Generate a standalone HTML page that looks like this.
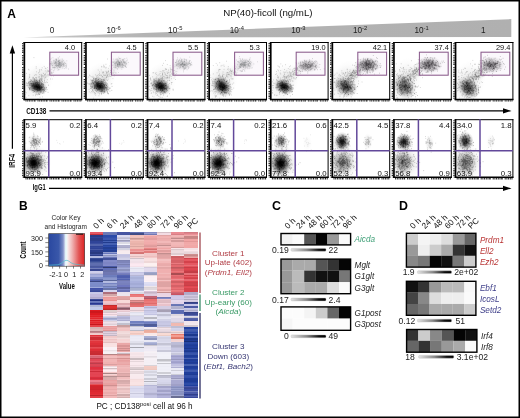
<!DOCTYPE html>
<html><head><meta charset="utf-8"><style>
html,body{margin:0;padding:0;background:#fff;width:520px;height:418px;overflow:hidden;position:relative}
svg{display:block;will-change:transform}
text{font-family:"Liberation Sans", sans-serif}
</style></head><body>
<svg width="520" height="418" viewBox="0 0 520 418" font-family="Liberation Sans, sans-serif">
<rect width="520" height="418" fill="#fff"/>
<text x="19.0" y="209.8" font-size="12" text-anchor="start" fill="#000" font-weight="bold" font-style="normal" >B</text>
<text x="66" y="219.7" font-size="6.6" text-anchor="middle" fill="#222" font-weight="normal" font-style="normal" >Color Key</text>
<text x="65.7" y="229" font-size="6.5" text-anchor="middle" fill="#222" font-weight="normal" font-style="normal" >and Histogram</text>
<defs><linearGradient id="ck" x1="0" y1="0" x2="1" y2="0"><stop offset="0" stop-color="#2a48a0"/><stop offset="0.28" stop-color="#3a58aa"/><stop offset="0.4" stop-color="#8090c8"/><stop offset="0.46" stop-color="#dfe3f3"/><stop offset="0.5" stop-color="#f2fafa"/><stop offset="0.54" stop-color="#f8e6e6"/><stop offset="0.65" stop-color="#f0b4b4"/><stop offset="0.84" stop-color="#e25454"/><stop offset="1" stop-color="#dd2222"/></linearGradient></defs>
<rect x="48.7" y="233.7" width="36" height="32.5" fill="url(#ck)" stroke="#333" stroke-width="0.6"/>
<line x1="65.8" y1="234" x2="65.8" y2="266" stroke="#e0f8fa" stroke-width="1"/><polyline points="49,265.2 58,264.8 61,263.5 63,262 65,260.6 67,260.3 69,261.2 71,262.8 74,264 80,264.8 84.5,265.2" fill="none" stroke="#50c0d0" stroke-width="0.7"/>
<line x1="76" y1="234.2" x2="83" y2="234.2" stroke="#111" stroke-width="1"/>
<line x1="45.3" y1="238.00" x2="48.7" y2="238.00" stroke="#333" stroke-width="0.6"/>
<line x1="45.3" y1="242.62" x2="48.7" y2="242.62" stroke="#333" stroke-width="0.6"/>
<line x1="45.3" y1="247.24" x2="48.7" y2="247.24" stroke="#333" stroke-width="0.6"/>
<line x1="45.3" y1="251.86" x2="48.7" y2="251.86" stroke="#333" stroke-width="0.6"/>
<line x1="45.3" y1="256.48" x2="48.7" y2="256.48" stroke="#333" stroke-width="0.6"/>
<line x1="45.3" y1="261.10" x2="48.7" y2="261.10" stroke="#333" stroke-width="0.6"/>
<line x1="45.3" y1="265.72" x2="48.7" y2="265.72" stroke="#333" stroke-width="0.6"/>
<text x="42.9" y="240.6" font-size="7.1" text-anchor="end" fill="#222" font-weight="normal" font-style="normal" >300</text>
<text x="42.9" y="254.7" font-size="7.1" text-anchor="end" fill="#222" font-weight="normal" font-style="normal" >150</text>
<text x="42.9" y="268.2" font-size="7.1" text-anchor="end" fill="#222" font-weight="normal" font-style="normal" >0</text>
<line x1="52.6" y1="266.2" x2="52.6" y2="268.6" stroke="#333" stroke-width="0.6"/>
<line x1="59.6" y1="266.2" x2="59.6" y2="268.6" stroke="#333" stroke-width="0.6"/>
<line x1="66.5" y1="266.2" x2="66.5" y2="268.6" stroke="#333" stroke-width="0.6"/>
<line x1="73.5" y1="266.2" x2="73.5" y2="268.6" stroke="#333" stroke-width="0.6"/>
<line x1="80.5" y1="266.2" x2="80.5" y2="268.6" stroke="#333" stroke-width="0.6"/>
<text x="52.4" y="277.3" font-size="7.3" text-anchor="middle" fill="#222" font-weight="normal" font-style="normal" >-2</text>
<text x="58.9" y="277.3" font-size="7.3" text-anchor="middle" fill="#222" font-weight="normal" font-style="normal" >-1</text>
<text x="66" y="277.3" font-size="7.3" text-anchor="middle" fill="#222" font-weight="normal" font-style="normal" >0</text>
<text x="74.2" y="277.3" font-size="7.3" text-anchor="middle" fill="#222" font-weight="normal" font-style="normal" >1</text>
<text x="82.3" y="277.3" font-size="7.3" text-anchor="middle" fill="#222" font-weight="normal" font-style="normal" >2</text>
<text x="66.9" y="289.4" font-size="8.4" text-anchor="middle" fill="#111" font-weight="bold" font-style="normal" transform="translate(66.9 0) scale(0.72 1) translate(-66.9 0)">Value</text>
<text x="0" y="0" font-size="8.4" font-weight="bold" fill="#111" text-anchor="middle" transform="translate(26.1 250) rotate(-90) scale(0.7 1)">Count</text>
<text x="0" y="0" font-size="8.3" fill="#111" transform="translate(96.4 229.3) rotate(-45)">0 h</text>
<text x="0" y="0" font-size="8.3" fill="#111" transform="translate(109.9 229.3) rotate(-45)">6 h</text>
<text x="0" y="0" font-size="8.3" fill="#111" transform="translate(123.3 229.3) rotate(-45)">24 h</text>
<text x="0" y="0" font-size="8.3" fill="#111" transform="translate(136.8 229.3) rotate(-45)">48 h</text>
<text x="0" y="0" font-size="8.3" fill="#111" transform="translate(150.2 229.3) rotate(-45)">60 h</text>
<text x="0" y="0" font-size="8.3" fill="#111" transform="translate(163.7 229.3) rotate(-45)">72 h</text>
<text x="0" y="0" font-size="8.3" fill="#111" transform="translate(177.1 229.3) rotate(-45)">96 h</text>
<text x="0" y="0" font-size="8.3" fill="#111" transform="translate(190.6 229.3) rotate(-45)">PC</text>
<line x1="200" y1="232.4" x2="200" y2="293" stroke="#a04850" stroke-width="1.3"/>
<line x1="200" y1="294.4" x2="200" y2="311.1" stroke="#3a8a68" stroke-width="1.3"/>
<line x1="200" y1="313" x2="200" y2="398.5" stroke="#2a2a60" stroke-width="1.3"/>
<text x="228.3" y="255.7" font-size="8.1" text-anchor="middle" fill="#b03c44" font-weight="normal" font-style="normal" >Cluster 1</text>
<text x="228.3" y="265.4" font-size="8.1" text-anchor="middle" fill="#b03c44" font-weight="normal" font-style="normal" >Up-late (402)</text>
<text x="228.3" y="275.2" font-size="8.1" text-anchor="middle" fill="#b03c44" font-weight="normal" font-style="normal" >(<tspan font-style="italic">Prdm1, Ell2</tspan>)</text>
<text x="228.3" y="294.6" font-size="8.1" text-anchor="middle" fill="#3a9a66" font-weight="normal" font-style="normal" >Cluster 2</text>
<text x="228.3" y="304.6" font-size="8.1" text-anchor="middle" fill="#3a9a66" font-weight="normal" font-style="normal" >Up-early (60)</text>
<text x="228.3" y="314.3" font-size="8.1" text-anchor="middle" fill="#3a9a66" font-weight="normal" font-style="normal" >(<tspan font-style="italic">Aicda</tspan>)</text>
<text x="228.3" y="349.0" font-size="8.1" text-anchor="middle" fill="#363672" font-weight="normal" font-style="normal" >Cluster 3</text>
<text x="228.3" y="359.0" font-size="8.1" text-anchor="middle" fill="#363672" font-weight="normal" font-style="normal" >Down (603)</text>
<text x="228.3" y="368.7" font-size="8.1" text-anchor="middle" fill="#363672" font-weight="normal" font-style="normal" >(<tspan font-style="italic">Ebf1, Bach2</tspan>)</text>
<text x="96.4" y="408.8" font-size="8.2" text-anchor="start" fill="#111" font-weight="normal" font-style="normal" >PC ; CD138<tspan dy="-3.3" font-size="5.8">posi</tspan><tspan dy="3.3"> cell at 96 h</tspan></text>
<text x="272.0" y="209.9" font-size="12.4" text-anchor="start" fill="#000" font-weight="bold" font-style="normal" >C</text>
<text x="399.0" y="209.9" font-size="12.4" text-anchor="start" fill="#000" font-weight="bold" font-style="normal" >D</text>
<defs><linearGradient id="gs" x1="0" y1="0" x2="1" y2="0"><stop offset="0" stop-color="#e4e4e4"/><stop offset="0.45" stop-color="#888"/><stop offset="0.8" stop-color="#111"/><stop offset="1" stop-color="#000"/></linearGradient></defs>
<rect x="281.00" y="233.50" width="11.65" height="11.45" fill="#f2f2f2"/>
<rect x="292.60" y="233.50" width="11.65" height="11.45" fill="#fafafa"/>
<rect x="304.20" y="233.50" width="11.65" height="11.45" fill="#555555"/>
<rect x="315.80" y="233.50" width="11.65" height="11.45" fill="#050505"/>
<rect x="327.40" y="233.50" width="11.65" height="11.45" fill="#999999"/>
<rect x="339.00" y="233.50" width="11.65" height="11.45" fill="#fafafa"/>
<text x="354.6" y="242.1" font-size="8.2" text-anchor="start" fill="#40a078" font-weight="normal" font-style="italic" >Aicda</text>
<rect x="281.0" y="233.5" width="69.6" height="11.4" fill="none" stroke="#000" stroke-width="1.4"/>
<text x="288.8" y="252.9" font-size="8.6" text-anchor="end" fill="#222" font-weight="normal" font-style="normal" >0.19</text>
<rect x="291" y="248.4" width="35" height="2.8" rx="1" fill="url(#gs)" stroke="#bbb" stroke-width="0.4"/>
<text x="328.5" y="252.9" font-size="8.6" text-anchor="start" fill="#222" font-weight="normal" font-style="normal" >22</text>
<rect x="281.00" y="259.10" width="11.65" height="11.58" fill="#999999"/>
<rect x="292.60" y="259.10" width="11.65" height="11.58" fill="#aaaaaa"/>
<rect x="304.20" y="259.10" width="11.65" height="11.58" fill="#aaaaaa"/>
<rect x="315.80" y="259.10" width="11.65" height="11.58" fill="#555555"/>
<rect x="327.40" y="259.10" width="11.65" height="11.58" fill="#333333"/>
<rect x="339.00" y="259.10" width="11.65" height="11.58" fill="#050505"/>
<text x="354.6" y="267.76666666666665" font-size="8.2" text-anchor="start" fill="#222" font-weight="normal" font-style="italic" >Mglt</text>
<rect x="281.00" y="270.63" width="11.65" height="11.58" fill="#999999"/>
<rect x="292.60" y="270.63" width="11.65" height="11.58" fill="#bbbbbb"/>
<rect x="304.20" y="270.63" width="11.65" height="11.58" fill="#333333"/>
<rect x="315.80" y="270.63" width="11.65" height="11.58" fill="#111111"/>
<rect x="327.40" y="270.63" width="11.65" height="11.58" fill="#111111"/>
<rect x="339.00" y="270.63" width="11.65" height="11.58" fill="#777777"/>
<text x="354.6" y="279.3" font-size="8.2" text-anchor="start" fill="#222" font-weight="normal" font-style="italic" >G1glt</text>
<rect x="281.00" y="282.17" width="11.65" height="11.58" fill="#999999"/>
<rect x="292.60" y="282.17" width="11.65" height="11.58" fill="#bbbbbb"/>
<rect x="304.20" y="282.17" width="11.65" height="11.58" fill="#aaaaaa"/>
<rect x="315.80" y="282.17" width="11.65" height="11.58" fill="#aaaaaa"/>
<rect x="327.40" y="282.17" width="11.65" height="11.58" fill="#dddddd"/>
<rect x="339.00" y="282.17" width="11.65" height="11.58" fill="#fafafa"/>
<text x="354.6" y="290.8333333333333" font-size="8.2" text-anchor="start" fill="#222" font-weight="normal" font-style="italic" >G3glt</text>
<rect x="281.0" y="259.1" width="69.6" height="34.6" fill="none" stroke="#000" stroke-width="1.4"/>
<text x="288.8" y="302.6" font-size="8.6" text-anchor="end" fill="#222" font-weight="normal" font-style="normal" >0.17</text>
<rect x="291" y="298.1" width="35" height="2.8" rx="1" fill="url(#gs)" stroke="#bbb" stroke-width="0.4"/>
<text x="328.5" y="302.6" font-size="8.6" text-anchor="start" fill="#222" font-weight="normal" font-style="normal" >2.4</text>
<rect x="281.00" y="306.90" width="11.65" height="11.75" fill="#fcfcfc"/>
<rect x="292.60" y="306.90" width="11.65" height="11.75" fill="#fcfcfc"/>
<rect x="304.20" y="306.90" width="11.65" height="11.75" fill="#f4f4f4"/>
<rect x="315.80" y="306.90" width="11.65" height="11.75" fill="#cccccc"/>
<rect x="327.40" y="306.90" width="11.65" height="11.75" fill="#666666"/>
<rect x="339.00" y="306.90" width="11.65" height="11.75" fill="#050505"/>
<text x="354.6" y="315.65" font-size="8.2" text-anchor="start" fill="#222" font-weight="normal" font-style="italic" >G1post</text>
<rect x="281.00" y="318.60" width="11.65" height="11.75" fill="#f6f6f6"/>
<rect x="292.60" y="318.60" width="11.65" height="11.75" fill="#fcfcfc"/>
<rect x="304.20" y="318.60" width="11.65" height="11.75" fill="#fcfcfc"/>
<rect x="315.80" y="318.60" width="11.65" height="11.75" fill="#fcfcfc"/>
<rect x="327.40" y="318.60" width="11.65" height="11.75" fill="#fcfcfc"/>
<rect x="339.00" y="318.60" width="11.65" height="11.75" fill="#fcfcfc"/>
<text x="354.6" y="327.34999999999997" font-size="8.2" text-anchor="start" fill="#222" font-weight="normal" font-style="italic" >G3post</text>
<rect x="281.0" y="306.9" width="69.6" height="23.4" fill="none" stroke="#000" stroke-width="1.4"/>
<text x="288.8" y="339.40000000000003" font-size="8.6" text-anchor="end" fill="#222" font-weight="normal" font-style="normal" >0</text>
<rect x="291" y="334.90000000000003" width="35" height="2.8" rx="1" fill="url(#gs)" stroke="#bbb" stroke-width="0.4"/>
<text x="328.5" y="339.40000000000003" font-size="8.6" text-anchor="start" fill="#222" font-weight="normal" font-style="normal" >49</text>
<text x="0" y="0" font-size="8.3" fill="#111" transform="translate(287.9 229.3) rotate(-45)">0 h</text>
<text x="0" y="0" font-size="8.3" fill="#111" transform="translate(299.5 229.3) rotate(-45)">24 h</text>
<text x="0" y="0" font-size="8.3" fill="#111" transform="translate(311.1 229.3) rotate(-45)">48 h</text>
<text x="0" y="0" font-size="8.3" fill="#111" transform="translate(322.7 229.3) rotate(-45)">60 h</text>
<text x="0" y="0" font-size="8.3" fill="#111" transform="translate(334.3 229.3) rotate(-45)">72 h</text>
<text x="0" y="0" font-size="8.3" fill="#111" transform="translate(345.9 229.3) rotate(-45)">96 h</text>
<rect x="406.40" y="233.30" width="11.63" height="11.32" fill="#cccccc"/>
<rect x="417.98" y="233.30" width="11.63" height="11.32" fill="#f4f4f4"/>
<rect x="429.57" y="233.30" width="11.63" height="11.32" fill="#eeeeee"/>
<rect x="441.15" y="233.30" width="11.63" height="11.32" fill="#dddddd"/>
<rect x="452.73" y="233.30" width="11.63" height="11.32" fill="#999999"/>
<rect x="464.32" y="233.30" width="11.63" height="11.32" fill="#666666"/>
<text x="479.9" y="242.73333333333335" font-size="8.2" text-anchor="start" fill="#b83434" font-weight="normal" font-style="italic" >Prdm1</text>
<rect x="406.40" y="244.57" width="11.63" height="11.32" fill="#999999"/>
<rect x="417.98" y="244.57" width="11.63" height="11.32" fill="#eeeeee"/>
<rect x="429.57" y="244.57" width="11.63" height="11.32" fill="#cccccc"/>
<rect x="441.15" y="244.57" width="11.63" height="11.32" fill="#aaaaaa"/>
<rect x="452.73" y="244.57" width="11.63" height="11.32" fill="#333333"/>
<rect x="464.32" y="244.57" width="11.63" height="11.32" fill="#111111"/>
<text x="479.9" y="254.0" font-size="8.2" text-anchor="start" fill="#b83434" font-weight="normal" font-style="italic" >Ell2</text>
<rect x="406.40" y="255.83" width="11.63" height="11.32" fill="#888888"/>
<rect x="417.98" y="255.83" width="11.63" height="11.32" fill="#777777"/>
<rect x="429.57" y="255.83" width="11.63" height="11.32" fill="#050505"/>
<rect x="441.15" y="255.83" width="11.63" height="11.32" fill="#111111"/>
<rect x="452.73" y="255.83" width="11.63" height="11.32" fill="#777777"/>
<rect x="464.32" y="255.83" width="11.63" height="11.32" fill="#cccccc"/>
<text x="479.9" y="265.26666666666665" font-size="8.2" text-anchor="start" fill="#b83434" font-weight="normal" font-style="italic" >Ezh2</text>
<rect x="406.4" y="233.3" width="69.5" height="33.8" fill="none" stroke="#000" stroke-width="1.4"/>
<text x="414.6" y="275.3" font-size="8.6" text-anchor="end" fill="#222" font-weight="normal" font-style="normal" >1.9</text>
<rect x="417.4" y="270.8" width="34.200000000000045" height="2.8" rx="1" fill="url(#gs)" stroke="#bbb" stroke-width="0.4"/>
<text x="454.2" y="275.3" font-size="8.6" text-anchor="start" fill="#222" font-weight="normal" font-style="normal" >2e+02</text>
<rect x="406.40" y="281.30" width="11.63" height="11.38" fill="#111111"/>
<rect x="417.98" y="281.30" width="11.63" height="11.38" fill="#333333"/>
<rect x="429.57" y="281.30" width="11.63" height="11.38" fill="#999999"/>
<rect x="441.15" y="281.30" width="11.63" height="11.38" fill="#bbbbbb"/>
<rect x="452.73" y="281.30" width="11.63" height="11.38" fill="#bbbbbb"/>
<rect x="464.32" y="281.30" width="11.63" height="11.38" fill="#f8f8f8"/>
<text x="479.9" y="290.76666666666665" font-size="8.2" text-anchor="start" fill="#40408a" font-weight="normal" font-style="italic" >Ebf1</text>
<rect x="406.40" y="292.63" width="11.63" height="11.38" fill="#444444"/>
<rect x="417.98" y="292.63" width="11.63" height="11.38" fill="#888888"/>
<rect x="429.57" y="292.63" width="11.63" height="11.38" fill="#dddddd"/>
<rect x="441.15" y="292.63" width="11.63" height="11.38" fill="#eeeeee"/>
<rect x="452.73" y="292.63" width="11.63" height="11.38" fill="#eeeeee"/>
<rect x="464.32" y="292.63" width="11.63" height="11.38" fill="#fafafa"/>
<text x="479.9" y="302.09999999999997" font-size="8.2" text-anchor="start" fill="#40408a" font-weight="normal" font-style="italic" >IcosL</text>
<rect x="406.40" y="303.97" width="11.63" height="11.38" fill="#666666"/>
<rect x="417.98" y="303.97" width="11.63" height="11.38" fill="#777777"/>
<rect x="429.57" y="303.97" width="11.63" height="11.38" fill="#aaaaaa"/>
<rect x="441.15" y="303.97" width="11.63" height="11.38" fill="#aaaaaa"/>
<rect x="452.73" y="303.97" width="11.63" height="11.38" fill="#aaaaaa"/>
<rect x="464.32" y="303.97" width="11.63" height="11.38" fill="#cccccc"/>
<text x="479.9" y="313.43333333333334" font-size="8.2" text-anchor="start" fill="#40408a" font-weight="normal" font-style="italic" >Setd2</text>
<rect x="406.4" y="281.3" width="69.5" height="34.0" fill="none" stroke="#000" stroke-width="1.4"/>
<text x="415.3" y="323.70000000000005" font-size="8.6" text-anchor="end" fill="#222" font-weight="normal" font-style="normal" >0.12</text>
<rect x="417.4" y="319.20000000000005" width="34.200000000000045" height="2.8" rx="1" fill="url(#gs)" stroke="#bbb" stroke-width="0.4"/>
<text x="455.6" y="323.70000000000005" font-size="8.6" text-anchor="start" fill="#222" font-weight="normal" font-style="normal" >51</text>
<rect x="406.60" y="329.50" width="11.77" height="11.40" fill="#333333"/>
<rect x="418.32" y="329.50" width="11.77" height="11.40" fill="#cccccc"/>
<rect x="430.03" y="329.50" width="11.77" height="11.40" fill="#888888"/>
<rect x="441.75" y="329.50" width="11.77" height="11.40" fill="#555555"/>
<rect x="453.47" y="329.50" width="11.77" height="11.40" fill="#050505"/>
<rect x="465.18" y="329.50" width="11.77" height="11.40" fill="#111111"/>
<text x="480.9" y="338.97499999999997" font-size="8.2" text-anchor="start" fill="#222" font-weight="normal" font-style="italic" >Irf4</text>
<rect x="406.60" y="340.85" width="11.77" height="11.40" fill="#666666"/>
<rect x="418.32" y="340.85" width="11.77" height="11.40" fill="#333333"/>
<rect x="430.03" y="340.85" width="11.77" height="11.40" fill="#777777"/>
<rect x="441.75" y="340.85" width="11.77" height="11.40" fill="#999999"/>
<rect x="453.47" y="340.85" width="11.77" height="11.40" fill="#aaaaaa"/>
<rect x="465.18" y="340.85" width="11.77" height="11.40" fill="#fafafa"/>
<text x="480.9" y="350.325" font-size="8.2" text-anchor="start" fill="#222" font-weight="normal" font-style="italic" >Irf8</text>
<rect x="406.59999999999997" y="329.5" width="70.3" height="22.7" fill="none" stroke="#000" stroke-width="1.4"/>
<text x="414.9" y="359.90000000000003" font-size="8.6" text-anchor="end" fill="#222" font-weight="normal" font-style="normal" >18</text>
<rect x="418.6" y="355.40000000000003" width="35.19999999999999" height="2.8" rx="1" fill="url(#gs)" stroke="#bbb" stroke-width="0.4"/>
<text x="456.7" y="359.90000000000003" font-size="8.6" text-anchor="start" fill="#222" font-weight="normal" font-style="normal" >3.1e+02</text>
<text x="0" y="0" font-size="8.3" fill="#111" transform="translate(413.3 229.3) rotate(-45)">0 h</text>
<text x="0" y="0" font-size="8.3" fill="#111" transform="translate(424.9 229.3) rotate(-45)">24 h</text>
<text x="0" y="0" font-size="8.3" fill="#111" transform="translate(436.5 229.3) rotate(-45)">48 h</text>
<text x="0" y="0" font-size="8.3" fill="#111" transform="translate(448.1 229.3) rotate(-45)">60 h</text>
<text x="0" y="0" font-size="8.3" fill="#111" transform="translate(459.7 229.3) rotate(-45)">72 h</text>
<text x="0" y="0" font-size="8.3" fill="#111" transform="translate(471.3 229.3) rotate(-45)">PC</text>
<rect x="0.75" y="0.75" width="518.5" height="416.5" fill="none" stroke="#000" stroke-width="1.5"/>
<rect x="0.5" y="0.5" width="519" height="417" fill="none" stroke="#000" stroke-width="1"/>
<text x="7.2" y="17.6" font-size="12.0" text-anchor="start" fill="#000" font-weight="bold" font-style="normal" >A</text>
<text x="223.2" y="16.0" font-size="9.7" text-anchor="start" fill="#111" font-weight="normal" font-style="normal" >NP(40)-ficoll (ng/mL)</text>
<defs><linearGradient id="wg" x1="23" y1="0" x2="511" y2="0" gradientUnits="userSpaceOnUse"><stop offset="0" stop-color="#c8c8c8"/><stop offset="0.25" stop-color="#b4b4b4"/><stop offset="1" stop-color="#b0b0b0"/></linearGradient></defs>
<defs><radialGradient id="rg"><stop offset="0" stop-color="#000" stop-opacity="1"/><stop offset="0.2" stop-color="#000" stop-opacity="0.9"/><stop offset="0.4" stop-color="#000" stop-opacity="0.62"/><stop offset="0.6" stop-color="#000" stop-opacity="0.33"/><stop offset="0.8" stop-color="#000" stop-opacity="0.12"/><stop offset="1" stop-color="#000" stop-opacity="0"/></radialGradient><radialGradient id="rgg"><stop offset="0" stop-color="#666" stop-opacity="1"/><stop offset="0.4" stop-color="#666" stop-opacity="0.6"/><stop offset="0.8" stop-color="#666" stop-opacity="0.12"/><stop offset="1" stop-color="#666" stop-opacity="0"/></radialGradient></defs>
<polygon points="23.5,37.6 511.3,19.1 511.3,37 23.5,37.6" fill="url(#wg)"/>
<text x="52.1" y="33.1" font-size="8.2" text-anchor="middle" fill="#222" font-weight="normal" font-style="normal" >0</text>
<text x="106.49999999999999" y="33.1" font-size="8.2" text-anchor="start" fill="#222" font-weight="normal" font-style="normal" >10<tspan dy="-3.3" font-size="5.8">-6</tspan></text>
<text x="168.1" y="33.1" font-size="8.2" text-anchor="start" fill="#222" font-weight="normal" font-style="normal" >10<tspan dy="-3.3" font-size="5.8">-5</tspan></text>
<text x="229.70000000000002" y="33.1" font-size="8.2" text-anchor="start" fill="#222" font-weight="normal" font-style="normal" >10<tspan dy="-3.3" font-size="5.8">-4</tspan></text>
<text x="291.3" y="33.1" font-size="8.2" text-anchor="start" fill="#222" font-weight="normal" font-style="normal" >10<tspan dy="-3.3" font-size="5.8">-3</tspan></text>
<text x="352.90000000000003" y="33.1" font-size="8.2" text-anchor="start" fill="#222" font-weight="normal" font-style="normal" >10<tspan dy="-3.3" font-size="5.8">-2</tspan></text>
<text x="414.50000000000006" y="33.1" font-size="8.2" text-anchor="start" fill="#222" font-weight="normal" font-style="normal" >10<tspan dy="-3.3" font-size="5.8">-1</tspan></text>
<text x="483.3" y="33.1" font-size="8.2" text-anchor="middle" fill="#222" font-weight="normal" font-style="normal" >1</text>
<clipPath id="c1_0"><rect x="25.2" y="43" width="56" height="55.7"/></clipPath>
<g clip-path="url(#c1_0)">
<ellipse cx="0" cy="0" rx="10.9" ry="7.7" fill="url(#rg)" opacity="1.0" transform="translate(37.0 86.6) rotate(24)"/>
<ellipse cx="0" cy="0" rx="21.1" ry="15.5" fill="url(#rgg)" opacity="0.17" transform="translate(36.0 82.6) rotate(-62)"/>
<ellipse cx="0" cy="0" rx="17.1" ry="7.0" fill="url(#rgg)" opacity="0.08" transform="translate(46.5 73.6) rotate(-37)"/>
<ellipse cx="0" cy="0" rx="10.4" ry="6.8" fill="url(#rgg)" opacity="0.32" transform="translate(58.2 64.0) rotate(0)"/>
<path d="M36.0 88.0h.7M33.3 85.2h.7M41.1 88.2h.7M30.3 87.9h.7M30.2 79.8h.7M38.2 86.7h.7M38.2 88.1h.7M39.2 90.8h.7M35.6 86.0h.7M35.2 83.3h.7M33.8 86.7h.7M37.2 90.7h.7M36.6 84.0h.7M31.1 88.0h.7M42.8 88.9h.7M39.5 85.2h.7M33.1 84.2h.7M31.2 86.2h.7M29.4 77.3h.7M32.5 88.7h.7M38.0 88.1h.7M39.1 88.7h.7M40.8 89.0h.7M40.4 81.7h.7M31.8 90.5h.7M38.3 88.9h.7M34.4 84.8h.7M33.5 88.8h.7M31.5 85.1h.7M42.6 84.5h.7M33.9 87.9h.7M38.4 87.3h.7M36.3 87.3h.7M40.1 89.0h.7M35.3 85.1h.7M35.7 87.5h.7M32.5 86.5h.7M35.3 88.3h.7M46.7 89.6h.7M36.1 86.2h.7M41.0 83.8h.7M40.4 91.9h.7M35.6 88.3h.7M41.4 83.0h.7M37.7 90.4h.7M40.2 87.7h.7M41.2 86.5h.7M40.7 86.5h.7M37.9 88.8h.7M39.5 84.1h.7M42.1 89.9h.7M37.0 83.1h.7M33.4 90.7h.7M29.1 89.4h.7M38.6 88.2h.7M41.5 92.1h.7M34.0 89.2h.7M42.7 86.9h.7M29.6 87.7h.7M37.0 89.2h.7M36.8 89.8h.7M34.3 88.8h.7M29.1 88.3h.7M36.2 86.4h.7M44.2 88.2h.7M36.2 82.5h.7M30.4 83.4h.7M37.0 89.1h.7M30.7 83.4h.7M33.4 83.5h.7M32.3 86.8h.7M34.4 80.1h.7M28.1 82.1h.7M40.1 89.5h.7M42.3 89.7h.7M40.6 91.4h.7M44.8 82.7h.7M33.3 88.0h.7M39.2 89.8h.7M38.2 89.4h.7M32.9 84.7h.7M33.6 83.3h.7M39.5 79.1h.7M43.7 89.3h.7M29.2 88.2h.7M42.3 93.3h.7M38.2 87.4h.7M45.5 91.5h.7M43.8 91.0h.7M33.5 86.7h.7M36.8 88.2h.7M38.8 88.1h.7M35.7 88.8h.7M34.5 86.1h.7M37.0 87.1h.7M38.7 90.2h.7M38.8 84.0h.7M33.3 88.1h.7M32.8 90.7h.7M33.9 87.6h.7M42.9 90.0h.7M43.6 90.9h.7M36.4 88.7h.7M39.4 89.9h.7M42.0 86.9h.7M35.6 89.0h.7M32.3 86.2h.7M40.1 87.3h.7M37.8 86.9h.7M32.8 83.8h.7M35.3 80.0h.7M39.3 86.9h.7M44.3 89.7h.7M36.3 80.8h.7M29.4 84.9h.7M29.7 81.8h.7M37.1 87.4h.7M43.0 91.4h.7M32.8 82.4h.7M39.0 82.1h.7M36.2 85.5h.7M39.8 88.3h.7M36.3 78.0h.7M31.0 86.0h.7M36.0 85.4h.7M36.9 83.9h.7M39.9 88.1h.7M35.5 84.0h.7M35.0 86.5h.7M46.3 87.5h.7M41.5 80.1h.7M39.4 94.3h.7M40.1 90.1h.7M39.0 83.7h.7M38.0 93.4h.7M41.7 87.6h.7M39.3 89.3h.7M43.7 88.0h.7M42.7 85.5h.7M34.2 88.3h.7" stroke="#000" stroke-width=".7" stroke-opacity=".4" fill="none"/>
<path d="M36.1 85.4h.7M41.4 88.8h.7M38.6 87.5h.7M39.0 88.6h.7M33.4 84.4h.7M39.1 85.0h.7M34.4 91.4h.7M34.5 83.8h.7M39.5 87.9h.7M34.9 90.0h.7M38.7 82.3h.7M28.9 84.0h.7M39.0 86.8h.7M39.7 90.1h.7M37.5 82.7h.7M35.2 82.3h.7M42.2 81.3h.7M42.8 89.5h.7M38.4 84.6h.7M41.4 88.0h.7M43.4 89.8h.7M30.7 89.3h.7M29.1 83.1h.7M36.3 89.6h.7M39.2 86.6h.7M37.5 90.2h.7M41.2 87.5h.7M42.9 86.4h.7M36.4 85.6h.7M42.0 83.7h.7M41.5 90.2h.7M37.6 88.5h.7M39.3 87.1h.7M45.0 89.2h.7M36.9 89.5h.7M44.3 80.1h.7M38.6 87.7h.7M38.1 85.2h.7M34.8 85.8h.7M26.1 82.9h.7M36.7 89.5h.7M30.2 84.1h.7M41.4 79.2h.7M39.7 82.5h.7M36.4 87.1h.7M36.6 91.3h.7M48.0 85.2h.7M37.5 88.9h.7M30.9 80.7h.7M32.9 81.2h.7M42.9 84.9h.7M40.1 92.1h.7M41.0 86.8h.7M36.6 84.7h.7M43.0 84.6h.7M42.8 87.2h.7M37.5 87.1h.7M27.8 83.6h.7M38.3 85.0h.7M37.3 90.8h.7M43.0 92.8h.7M29.5 81.7h.7M32.1 85.6h.7M34.6 86.9h.7M39.1 90.1h.7M34.8 89.5h.7M41.0 89.9h.7M37.7 83.1h.7M40.7 85.6h.7M30.9 85.0h.7M27.6 85.7h.7M39.9 86.3h.7M38.2 85.4h.7M39.7 88.1h.7M38.8 80.5h.7M35.8 84.9h.7M38.9 94.5h.7M44.5 87.7h.7M33.4 85.6h.7M36.9 86.0h.7M40.6 87.6h.7M47.7 92.3h.7M39.5 88.6h.7M36.7 88.2h.7M38.3 84.7h.7M31.4 83.4h.7M35.4 83.3h.7M32.2 81.5h.7M44.3 90.6h.7M28.4 82.6h.7M34.1 85.6h.7M39.6 87.8h.7M37.2 84.1h.7M36.6 87.0h.7M36.5 82.6h.7M38.7 86.4h.7M29.4 85.3h.7M32.7 77.6h.7M35.5 82.1h.7M39.0 87.5h.7M36.9 88.4h.7M41.1 84.1h.7M35.8 89.7h.7M36.2 94.3h.7M37.4 94.7h.7M40.9 87.4h.7M38.4 90.4h.7M40.4 89.0h.7M36.0 88.5h.7M37.0 82.1h.7M34.3 87.8h.7M36.1 82.0h.7M41.4 84.7h.7M40.1 90.1h.7M39.5 81.6h.7M34.5 81.8h.7M39.5 89.3h.7M31.8 84.0h.7M36.7 86.6h.7M32.0 85.5h.7M36.7 84.2h.7M36.6 84.4h.7M33.1 85.9h.7M37.6 82.4h.7M38.8 88.9h.7M36.4 86.3h.7M34.1 81.8h.7M32.6 85.4h.7M39.1 85.7h.7M41.4 87.9h.7M34.0 86.8h.7M38.3 90.8h.7M39.0 86.5h.7M41.7 84.4h.7M36.1 86.5h.7M33.8 86.8h.7M33.9 91.4h.7M38.1 85.5h.7M39.7 85.7h.7M42.3 87.6h.7" stroke="#000" stroke-width=".7" stroke-opacity=".4" fill="none"/>
<path d="M31.6 90.0h.7M45.9 88.1h.7M36.0 88.5h.7M24.6 99.3h.7M26.2 73.4h.7M35.6 80.4h.7M36.2 71.8h.7M39.0 80.0h.7M32.8 95.2h.7M32.9 78.3h.7M37.9 85.9h.7M31.4 84.1h.7M32.6 84.9h.7M34.4 85.8h.7M29.2 89.3h.7M40.8 83.4h.7M26.8 85.1h.7M35.4 88.4h.7M48.1 74.9h.7M46.0 82.0h.7M35.9 82.6h.7M41.8 67.8h.7M38.9 84.5h.7M45.7 75.4h.7M28.1 87.5h.7M37.6 98.8h.7M39.4 85.7h.7M37.9 83.9h.7M32.5 87.1h.7M33.7 91.1h.7M41.5 75.3h.7M45.8 76.8h.7M26.3 85.6h.7M28.7 70.0h.7M32.4 90.3h.7M39.1 70.0h.7M41.5 79.8h.7M38.0 94.4h.7M31.8 84.0h.7M28.0 69.3h.7M42.0 83.6h.7M33.6 57.6h.7M42.0 96.9h.7M32.8 77.3h.7M36.2 83.0h.7M39.2 80.6h.7M28.5 95.7h.7M43.0 83.1h.7M38.2 88.6h.7M25.9 92.8h.7M38.3 82.5h.7M35.8 66.7h.7M44.7 77.3h.7M33.9 88.7h.7M44.0 74.9h.7M36.7 90.8h.7M32.3 87.4h.7M39.7 79.4h.7M40.9 69.6h.7M33.4 89.8h.7M39.5 93.3h.7M44.1 82.2h.7M50.4 63.6h.7M42.3 85.7h.7M36.7 90.1h.7M35.8 68.2h.7M38.9 76.5h.7M35.7 77.7h.7M43.7 93.0h.7M39.4 71.5h.7M41.2 82.6h.7M44.5 78.4h.7M40.7 75.1h.7M38.9 80.6h.7M37.3 89.2h.7M35.7 92.8h.7M41.8 81.4h.7M34.3 87.7h.7M38.8 83.1h.7M34.2 80.6h.7M31.5 87.2h.7M32.8 92.5h.7M50.4 59.4h.7M35.4 77.8h.7M25.3 92.1h.7M32.2 84.8h.7" stroke="#444" stroke-width=".7" stroke-opacity=".4" fill="none"/>
<path d="M35.7 85.0h.7M31.8 83.5h.7M44.9 70.9h.7M43.6 76.9h.7M35.2 74.7h.7M35.5 85.0h.7M30.1 85.5h.7M41.0 80.3h.7M29.9 81.8h.7M39.7 97.2h.7M54.2 63.3h.7M37.0 85.3h.7M36.3 88.2h.7M36.0 74.9h.7M31.8 88.6h.7M39.3 80.8h.7M39.0 77.8h.7M30.3 89.1h.7M37.0 81.2h.7M41.8 75.7h.7M24.5 96.8h.7M40.8 80.2h.7M26.3 83.9h.7M29.4 74.4h.7M47.0 82.5h.7M32.6 78.6h.7M29.4 75.8h.7M27.5 83.6h.7M35.2 82.2h.7M45.0 77.2h.7M36.5 88.1h.7M35.5 84.2h.7M31.6 86.7h.7M36.2 84.5h.7M34.2 78.6h.7M31.6 83.7h.7M38.0 77.1h.7M37.1 89.9h.7M39.9 87.4h.7M37.3 84.1h.7M46.8 70.2h.7M41.3 78.3h.7M36.0 80.7h.7M31.9 88.6h.7M34.9 89.8h.7M40.3 80.2h.7M39.0 74.6h.7M25.8 97.6h.7M37.3 81.1h.7M36.2 80.4h.7M40.4 78.5h.7M33.2 88.5h.7M35.2 94.6h.7M46.9 79.7h.7M37.3 81.6h.7M51.5 73.0h.7M29.1 88.3h.7M39.5 70.0h.7M31.5 79.8h.7M36.5 79.5h.7M36.0 85.3h.7M35.7 85.8h.7M34.2 75.3h.7M28.9 77.0h.7M34.3 79.8h.7M30.3 81.4h.7M36.1 88.2h.7M30.9 81.0h.7M31.3 83.7h.7M39.0 81.5h.7M43.8 66.4h.7M39.1 85.0h.7M41.7 77.9h.7M35.3 95.7h.7M28.6 78.9h.7M38.8 85.7h.7M33.5 79.3h.7M34.2 78.8h.7M38.3 72.9h.7M29.5 90.3h.7M41.2 90.9h.7M31.8 89.9h.7M33.2 87.2h.7M50.0 79.0h.7M24.8 94.5h.7M44.2 81.1h.7" stroke="#444" stroke-width=".7" stroke-opacity=".4" fill="none"/>
<path d="M38.8 72.5h.7M42.0 78.9h.7M34.1 79.7h.7M51.3 62.9h.7M60.5 62.5h.7M51.4 69.4h.7M48.0 71.1h.7M37.7 82.1h.7M47.6 76.1h.7M49.5 73.6h.7M53.3 70.7h.7M47.9 71.4h.7M43.2 73.5h.7M39.3 79.8h.7M54.1 69.9h.7M47.3 67.6h.7M43.9 75.3h.7M51.5 72.6h.7M45.0 73.4h.7M44.7 74.6h.7M49.3 71.4h.7M45.4 68.4h.7M32.7 81.9h.7M49.5 64.7h.7M46.6 71.6h.7M47.7 71.3h.7M47.6 75.4h.7M49.9 72.1h.7M41.5 70.3h.7M51.6 73.3h.7" stroke="#777" stroke-width=".7" stroke-opacity=".4" fill="none"/>
<path d="M53.0 72.3h.7M49.2 74.1h.7M51.5 73.1h.7M47.4 74.6h.7M44.7 74.8h.7M52.8 67.5h.7M47.4 70.9h.7M48.2 70.8h.7M41.1 76.3h.7M44.7 67.9h.7M46.6 72.7h.7M40.9 74.5h.7M40.1 79.3h.7M40.9 77.9h.7M42.5 76.1h.7M43.2 76.0h.7M50.5 73.8h.7M44.9 74.4h.7M45.5 68.6h.7M41.1 76.6h.7M57.9 58.7h.7M51.9 79.0h.7M49.4 71.0h.7M51.2 72.1h.7M50.0 70.0h.7M34.1 80.6h.7M41.7 76.3h.7M53.3 76.1h.7M51.2 75.8h.7M43.1 73.3h.7" stroke="#777" stroke-width=".7" stroke-opacity=".4" fill="none"/>
<path d="M61.8 61.6h.7M68.2 69.0h.7M59.1 62.1h.7M53.9 67.4h.7M58.1 63.2h.7M50.8 58.3h.7M58.1 64.1h.7M55.0 62.2h.7M60.1 65.4h.7M61.9 64.0h.7M59.1 67.4h.7M55.0 61.9h.7M58.3 65.5h.7M63.0 60.7h.7M63.9 64.3h.7M55.6 61.8h.7M58.3 69.6h.7M55.8 65.1h.7M63.2 64.3h.7M59.9 67.4h.7M59.2 62.5h.7M66.2 65.6h.7M65.9 64.2h.7M58.0 61.2h.7M58.3 64.7h.7M55.6 59.3h.7M54.2 63.1h.7M57.6 67.7h.7M58.7 63.7h.7M57.8 57.7h.7M60.8 62.4h.7M54.0 61.1h.7M50.7 64.9h.7M52.3 65.6h.7M59.5 67.5h.7M58.8 64.5h.7M57.0 65.2h.7M56.2 60.6h.7M63.1 65.4h.7M61.8 59.0h.7M66.5 60.8h.7M59.0 64.4h.7M53.2 60.4h.7M59.7 64.7h.7M56.4 66.5h.7M56.9 68.0h.7M62.8 63.3h.7M62.3 64.5h.7M54.6 67.3h.7M59.3 63.1h.7M60.9 64.0h.7M62.8 64.1h.7M60.1 66.8h.7M57.6 70.2h.7M56.7 61.1h.7M64.4 66.2h.7M55.6 62.2h.7M59.5 63.3h.7M59.1 66.0h.7M52.2 67.7h.7M51.6 63.1h.7M56.1 65.9h.7M54.7 60.4h.7M59.0 60.6h.7M60.4 62.7h.7M56.0 59.2h.7M58.3 66.3h.7M57.0 65.5h.7M66.4 68.0h.7M65.3 63.5h.7" stroke="#5a6460" stroke-width=".7" stroke-opacity=".4" fill="none"/>
<path d="M50.9 61.4h.7M55.5 62.1h.7M63.4 63.8h.7M55.9 64.6h.7M59.5 62.2h.7M53.1 62.0h.7M60.4 64.3h.7M49.7 63.6h.7M57.7 63.5h.7M61.2 65.5h.7M55.9 63.1h.7M64.4 68.6h.7M62.9 66.1h.7M55.6 65.2h.7M54.8 63.1h.7M64.2 62.4h.7M62.9 64.9h.7M64.7 65.6h.7M60.3 63.5h.7M52.5 63.8h.7M57.0 66.0h.7M59.5 60.0h.7M58.1 61.1h.7M58.5 65.2h.7M54.8 67.7h.7M57.4 62.0h.7M59.4 60.9h.7M60.9 63.6h.7M58.0 65.9h.7M58.1 61.7h.7M58.8 69.7h.7M52.6 57.8h.7M55.6 59.1h.7M55.1 63.0h.7M66.0 66.7h.7M65.4 67.7h.7M59.3 64.1h.7M56.1 60.0h.7M53.4 67.6h.7M65.6 66.1h.7M60.3 65.1h.7M62.4 60.1h.7M56.0 62.4h.7M58.3 62.2h.7M61.3 64.3h.7M55.8 65.7h.7M61.5 61.1h.7M51.9 65.7h.7M55.5 63.6h.7M59.2 62.6h.7M59.0 56.8h.7M51.1 64.2h.7M53.9 68.0h.7M57.6 65.8h.7M62.6 66.4h.7M55.9 59.7h.7M54.9 65.5h.7M58.9 63.6h.7M62.0 62.2h.7M58.7 66.9h.7M58.3 60.3h.7M62.5 68.1h.7M60.3 66.4h.7M61.3 66.1h.7M59.4 66.1h.7M59.5 65.3h.7M55.9 63.8h.7M64.6 63.3h.7M61.4 65.5h.7M57.8 61.2h.7" stroke="#5a6460" stroke-width=".7" stroke-opacity=".4" fill="none"/>
</g>
<line x1="22.8" y1="43" x2="22.8" y2="99.4" stroke="#222" stroke-width="1.4" stroke-dasharray="1 .7 1 .7 1 .7 1 .7 1 .7 1.5 2"/>
<line x1="25.5" y1="100.9" x2="81.7" y2="100.9" stroke="#222" stroke-width="1.4" stroke-dasharray="1 .7 1 .7 1 .7 1 .7 1 .7 1.5 2"/>
<line x1="23.5" y1="42.5" x2="82.2" y2="42.5" stroke="#000" stroke-width="1"/>
<line x1="81.7" y1="42" x2="81.7" y2="100.2" stroke="#000" stroke-width="1"/>
<line x1="24.35" y1="42" x2="24.35" y2="100.2" stroke="#000" stroke-width="1.7"/>
<line x1="23.5" y1="99.4" x2="82.2" y2="99.4" stroke="#000" stroke-width="1.5"/>
<rect x="49.8" y="52.2" width="28.8" height="23.0" fill="#c080c8" fill-opacity="0.06" stroke="#8a5a8c" stroke-width="1.05"/>
<text x="64.8" y="50" font-size="7.4" text-anchor="start" fill="#111" font-weight="normal" font-style="normal" >4.0</text>
<clipPath id="c1_1"><rect x="86.8" y="43" width="56" height="55.7"/></clipPath>
<g clip-path="url(#c1_1)">
<ellipse cx="0" cy="0" rx="10.9" ry="7.7" fill="url(#rg)" opacity="1.0" transform="translate(99.6 86.0) rotate(24)"/>
<ellipse cx="0" cy="0" rx="21.1" ry="15.5" fill="url(#rgg)" opacity="0.17" transform="translate(98.6 82.0) rotate(-62)"/>
<ellipse cx="0" cy="0" rx="17.1" ry="7.0" fill="url(#rgg)" opacity="0.08" transform="translate(109.1 73.0) rotate(-37)"/>
<ellipse cx="0" cy="0" rx="10.4" ry="6.8" fill="url(#rgg)" opacity="0.32" transform="translate(119.3 63.5) rotate(0)"/>
<path d="M101.5 90.5h.7M98.8 86.4h.7M98.0 82.2h.7M103.0 90.0h.7M103.2 84.9h.7M97.1 86.6h.7M100.5 81.4h.7M96.8 82.8h.7M103.0 88.5h.7M97.5 83.9h.7M96.6 83.2h.7M102.0 90.6h.7M88.8 84.4h.7M103.3 91.3h.7M103.8 89.2h.7M93.9 84.5h.7M91.4 88.4h.7M94.3 88.2h.7M98.8 86.7h.7M103.8 87.1h.7M97.7 87.6h.7M104.2 85.5h.7M97.5 86.9h.7M101.7 82.3h.7M101.1 94.2h.7M102.7 81.4h.7M97.6 85.1h.7M101.5 84.4h.7M97.3 86.4h.7M99.0 88.2h.7M94.5 86.9h.7M106.7 84.8h.7M105.4 84.1h.7M99.1 85.5h.7M97.9 83.7h.7M100.3 91.5h.7M105.4 84.1h.7M94.2 81.5h.7M101.4 80.6h.7M93.1 83.7h.7M96.7 84.6h.7M98.2 85.8h.7M94.9 85.3h.7M107.3 87.8h.7M95.7 80.1h.7M101.1 86.0h.7M105.0 87.8h.7M94.1 92.6h.7M100.4 85.7h.7M95.4 90.4h.7M92.8 83.8h.7M95.1 86.9h.7M101.5 83.6h.7M88.7 83.5h.7M97.9 88.0h.7M95.0 81.0h.7M103.4 84.2h.7M102.2 86.6h.7M95.7 80.7h.7M95.4 82.3h.7M98.4 83.8h.7M99.7 84.6h.7M101.0 79.5h.7M102.7 81.7h.7M98.3 88.8h.7M93.7 79.2h.7M101.6 86.8h.7M103.4 85.1h.7M91.7 80.4h.7M98.0 86.4h.7M100.0 86.5h.7M107.1 93.1h.7M100.1 86.5h.7M99.3 84.0h.7M97.8 79.7h.7M95.3 81.6h.7M99.3 93.9h.7M105.4 87.6h.7M97.2 90.2h.7M98.2 85.8h.7M94.0 86.6h.7M95.8 88.6h.7M94.3 88.5h.7M96.6 84.3h.7M97.4 80.0h.7M107.1 86.7h.7M92.1 87.3h.7M92.8 80.7h.7M102.7 86.7h.7M103.0 80.7h.7M102.6 80.8h.7M103.9 82.3h.7M98.6 86.9h.7M101.6 91.3h.7M94.9 82.2h.7M99.4 91.1h.7M105.8 90.2h.7M92.1 81.3h.7M94.3 85.6h.7M102.2 90.9h.7M95.7 87.4h.7M103.5 86.7h.7M100.1 84.4h.7M98.8 85.8h.7M102.7 83.9h.7M100.4 82.9h.7M103.9 79.6h.7M100.4 88.0h.7M92.0 82.3h.7M100.8 85.6h.7M107.0 92.8h.7M93.2 78.7h.7M97.4 86.1h.7M99.8 86.9h.7M106.7 83.6h.7M101.0 81.5h.7M101.7 87.0h.7M98.1 83.4h.7M102.4 88.2h.7M97.2 85.7h.7M99.3 85.5h.7M108.5 89.4h.7M105.2 82.3h.7M107.1 91.6h.7M96.1 86.1h.7M98.1 84.5h.7M98.5 81.9h.7M99.2 89.1h.7M101.5 84.0h.7M96.0 91.4h.7M107.6 89.9h.7M96.3 85.7h.7M91.5 91.5h.7M102.3 88.0h.7M99.1 83.3h.7M100.9 83.6h.7M102.0 83.2h.7M102.0 85.3h.7M102.5 91.4h.7M101.1 86.9h.7" stroke="#000" stroke-width=".7" stroke-opacity=".4" fill="none"/>
<path d="M101.7 87.7h.7M93.9 88.1h.7M96.6 82.8h.7M94.2 87.8h.7M93.7 82.5h.7M98.2 79.4h.7M103.2 83.0h.7M97.4 89.6h.7M100.9 81.5h.7M95.7 86.8h.7M95.4 78.8h.7M100.3 83.1h.7M104.5 87.9h.7M104.1 85.5h.7M93.5 83.5h.7M101.9 83.2h.7M101.1 90.9h.7M107.9 93.9h.7M99.0 89.0h.7M94.2 87.2h.7M100.7 91.2h.7M101.0 91.7h.7M104.4 90.8h.7M94.6 85.8h.7M96.2 88.8h.7M96.3 85.9h.7M101.5 83.9h.7M97.4 87.2h.7M106.0 87.4h.7M98.1 89.1h.7M97.6 83.1h.7M106.6 89.4h.7M104.4 91.5h.7M109.4 88.5h.7M101.4 87.4h.7M98.3 87.2h.7M103.8 92.5h.7M95.4 79.4h.7M101.6 90.9h.7M91.9 86.9h.7M99.8 87.7h.7M97.4 85.9h.7M91.9 82.9h.7M94.6 85.8h.7M96.7 87.7h.7M95.9 81.9h.7M95.8 78.7h.7M95.0 84.8h.7M98.5 81.5h.7M96.6 88.0h.7M100.6 89.4h.7M101.1 84.0h.7M96.4 85.3h.7M95.6 80.7h.7M98.0 89.6h.7M105.8 88.5h.7M102.8 87.4h.7M104.4 85.0h.7M104.2 84.6h.7M97.8 81.7h.7M97.4 82.6h.7M100.1 86.9h.7M97.5 83.1h.7M96.7 84.5h.7M97.8 88.6h.7M104.5 88.3h.7M101.5 82.6h.7M103.5 87.1h.7M104.1 86.5h.7M97.9 84.0h.7M105.7 87.4h.7M106.5 90.7h.7M99.0 83.6h.7M106.2 89.0h.7M99.4 84.7h.7M90.6 86.0h.7M99.5 85.5h.7M100.3 85.0h.7M103.6 92.1h.7M96.1 88.3h.7M104.0 91.2h.7M96.7 83.1h.7M106.2 85.5h.7M109.6 91.1h.7M96.9 89.1h.7M96.8 83.9h.7M95.3 88.4h.7M100.8 83.9h.7M94.9 87.0h.7M106.9 89.0h.7M96.7 84.3h.7M96.1 79.0h.7M92.9 82.8h.7M102.3 85.6h.7M96.9 85.9h.7M100.7 82.9h.7M100.0 83.8h.7M103.2 84.2h.7M100.6 88.1h.7M96.2 88.4h.7M100.3 86.9h.7M104.0 89.6h.7M96.6 83.8h.7M111.5 90.4h.7M96.8 84.4h.7M106.0 85.5h.7M99.6 86.9h.7M100.7 86.7h.7M90.2 86.1h.7M96.3 83.5h.7M99.4 89.9h.7M97.7 82.9h.7M111.7 86.4h.7M99.5 88.9h.7M100.2 85.3h.7M92.6 77.4h.7M99.9 78.7h.7M93.9 82.0h.7M99.5 87.6h.7M99.8 87.7h.7M99.1 83.9h.7M101.3 93.4h.7M102.4 89.2h.7M102.7 83.0h.7M101.6 83.2h.7M99.8 87.1h.7M104.6 91.9h.7M101.4 88.4h.7M101.9 89.6h.7M108.0 93.3h.7M98.2 83.9h.7M99.5 88.1h.7M108.7 87.7h.7M100.7 85.6h.7M100.3 86.1h.7M99.8 86.2h.7M101.3 89.4h.7M97.6 84.9h.7M99.0 83.9h.7M96.0 83.0h.7" stroke="#000" stroke-width=".7" stroke-opacity=".4" fill="none"/>
<path d="M97.9 87.2h.7M101.8 71.9h.7M97.9 74.6h.7M100.8 75.1h.7M97.5 82.4h.7M102.1 76.7h.7M96.0 86.1h.7M106.5 79.9h.7M106.1 87.9h.7M94.2 93.9h.7M110.8 84.1h.7M90.6 83.6h.7M103.1 79.6h.7M98.6 95.8h.7M97.3 77.7h.7M91.6 79.9h.7M105.6 71.3h.7M90.9 84.6h.7M95.7 85.1h.7M103.7 88.3h.7M105.6 64.3h.7M102.8 73.0h.7M99.6 75.0h.7M103.6 67.2h.7M113.2 73.1h.7M94.4 78.0h.7M91.6 87.7h.7M109.7 76.3h.7M103.5 66.1h.7M95.4 78.4h.7M91.7 83.0h.7M95.4 93.1h.7M106.1 77.3h.7M95.0 82.2h.7M96.8 89.9h.7M105.6 84.9h.7M90.1 79.9h.7M90.7 86.6h.7M96.8 87.7h.7M92.2 90.5h.7M101.7 76.9h.7M99.9 83.9h.7M104.6 83.0h.7M102.2 84.3h.7M101.9 86.6h.7M89.2 75.1h.7M97.8 70.0h.7M100.8 69.9h.7M99.0 81.4h.7M101.4 66.4h.7M91.7 86.5h.7M92.2 89.9h.7M101.5 67.0h.7M100.8 87.2h.7M96.2 81.2h.7M105.5 68.1h.7M85.8 93.1h.7M91.6 80.6h.7M96.0 76.0h.7M89.2 99.4h.7M103.7 84.7h.7M86.6 78.7h.7M90.1 88.3h.7M86.9 82.9h.7M110.6 76.5h.7M106.4 72.7h.7M103.8 75.4h.7M90.9 83.6h.7M92.6 76.4h.7M97.3 80.7h.7M95.1 93.7h.7M103.3 72.3h.7M90.3 84.6h.7M101.3 84.2h.7M101.8 83.7h.7M89.7 75.8h.7M99.3 75.3h.7M101.1 86.4h.7M93.4 80.1h.7M111.5 83.5h.7M90.2 88.3h.7M110.2 72.4h.7M100.8 75.5h.7" stroke="#444" stroke-width=".7" stroke-opacity=".4" fill="none"/>
<path d="M90.8 76.7h.7M99.3 84.4h.7M98.2 79.6h.7M105.7 67.4h.7M104.9 75.6h.7M103.4 93.5h.7M92.6 91.0h.7M91.2 87.2h.7M103.9 66.8h.7M90.6 92.8h.7M105.9 77.4h.7M97.3 82.0h.7M99.8 84.8h.7M101.5 81.8h.7M107.3 80.5h.7M97.7 78.9h.7M101.8 82.1h.7M98.0 85.9h.7M87.8 77.1h.7M98.5 77.6h.7M93.4 88.6h.7M86.3 96.5h.7M99.0 88.6h.7M103.4 65.1h.7M106.0 82.8h.7M98.6 89.8h.7M96.2 82.2h.7M102.1 81.5h.7M107.1 75.4h.7M99.9 80.3h.7M96.3 77.3h.7M95.0 79.1h.7M103.7 78.6h.7M105.0 87.0h.7M97.8 90.5h.7M101.1 84.1h.7M97.4 87.8h.7M103.4 71.9h.7M101.7 92.3h.7M93.0 78.2h.7M100.0 90.4h.7M104.6 80.7h.7M91.5 81.1h.7M95.4 95.2h.7M103.4 74.8h.7M88.7 89.4h.7M108.9 75.9h.7M92.7 92.7h.7M102.0 72.9h.7M99.0 73.4h.7M101.5 79.1h.7M99.4 71.9h.7M92.5 80.4h.7M93.6 78.9h.7M97.7 76.2h.7M94.3 87.6h.7M91.6 84.1h.7M103.8 88.2h.7M103.6 77.3h.7M102.8 79.5h.7M100.6 81.6h.7M108.4 72.9h.7M90.8 83.3h.7M93.1 91.4h.7M95.1 74.9h.7M91.8 89.6h.7M105.9 77.9h.7M104.6 80.1h.7M101.3 86.9h.7M95.5 82.6h.7M107.1 59.0h.7M101.6 86.2h.7M100.2 85.9h.7M88.9 91.8h.7M104.1 80.5h.7M96.5 78.3h.7M97.7 93.0h.7M92.6 80.3h.7M98.8 78.4h.7M86.6 83.6h.7M99.6 82.2h.7M97.3 75.6h.7M110.0 88.1h.7M92.5 86.1h.7M98.6 84.2h.7M93.1 98.3h.7M98.9 89.3h.7" stroke="#444" stroke-width=".7" stroke-opacity=".4" fill="none"/>
<path d="M108.3 71.2h.7M99.4 79.1h.7M106.9 75.9h.7M106.6 73.8h.7M107.4 74.6h.7M106.7 76.3h.7M109.2 73.8h.7M113.9 74.4h.7M110.6 70.7h.7M110.2 70.6h.7M99.2 84.3h.7M105.2 75.2h.7M107.9 71.3h.7M106.3 76.4h.7M111.1 70.7h.7M107.9 79.2h.7M104.8 74.3h.7M113.8 75.9h.7M114.6 72.5h.7M108.5 74.5h.7M115.2 73.1h.7M117.1 65.4h.7M112.1 73.2h.7M106.5 72.0h.7M107.8 71.4h.7M106.7 72.9h.7M108.2 68.4h.7M111.0 73.7h.7M113.7 71.0h.7M112.9 67.3h.7" stroke="#777" stroke-width=".7" stroke-opacity=".4" fill="none"/>
<path d="M105.0 81.4h.7M109.2 74.9h.7M113.6 70.0h.7M103.8 75.4h.7M116.4 73.0h.7M110.7 74.5h.7M106.5 72.0h.7M112.7 72.3h.7M99.3 80.7h.7M103.8 80.1h.7M112.6 78.6h.7M106.3 75.1h.7M115.0 67.1h.7M106.1 73.3h.7M102.2 76.6h.7M103.1 79.6h.7M107.3 74.9h.7M105.6 79.3h.7M104.9 78.3h.7M107.6 76.0h.7M108.0 76.8h.7M117.2 64.1h.7M117.3 69.2h.7M102.2 79.4h.7M112.0 68.9h.7M118.2 72.5h.7M110.6 72.4h.7M107.3 77.0h.7M106.9 72.7h.7M108.2 71.1h.7" stroke="#777" stroke-width=".7" stroke-opacity=".4" fill="none"/>
<path d="M113.7 65.1h.7M122.8 59.6h.7M122.6 60.7h.7M124.7 66.5h.7M119.3 62.4h.7M119.2 58.6h.7M123.3 62.6h.7M118.8 58.6h.7M125.1 64.8h.7M121.2 62.9h.7M117.2 59.0h.7M124.9 62.8h.7M122.8 64.4h.7M118.5 64.8h.7M119.5 65.4h.7M122.7 62.6h.7M122.5 66.1h.7M112.8 62.2h.7M115.7 61.8h.7M121.8 64.9h.7M122.3 64.3h.7M117.4 63.9h.7M117.7 64.7h.7M126.0 63.3h.7M124.4 63.1h.7M116.9 64.2h.7M124.3 61.7h.7M117.6 61.9h.7M126.1 64.3h.7M121.5 66.9h.7M122.7 67.5h.7M118.1 65.0h.7M115.9 65.9h.7M119.4 64.3h.7M122.0 59.8h.7M114.6 63.6h.7M117.9 63.0h.7M109.4 65.9h.7M116.9 64.1h.7M123.5 59.2h.7M118.1 67.2h.7M117.0 65.9h.7M121.3 62.6h.7M115.9 62.6h.7M117.3 66.1h.7M126.5 58.2h.7M119.8 62.7h.7M117.8 66.7h.7M117.3 61.7h.7M121.8 63.8h.7M124.4 65.4h.7M115.0 65.1h.7M121.2 64.6h.7M125.4 66.9h.7M116.3 63.1h.7M120.1 66.9h.7M117.9 62.9h.7M111.9 65.4h.7M119.4 62.2h.7M125.3 66.4h.7M124.3 62.7h.7M119.5 62.6h.7M124.6 63.8h.7M118.2 60.9h.7M122.9 61.1h.7M122.6 67.2h.7M116.1 59.1h.7M118.5 57.2h.7M117.8 62.8h.7M126.2 67.4h.7" stroke="#5a6460" stroke-width=".7" stroke-opacity=".4" fill="none"/>
<path d="M119.2 63.6h.7M119.0 64.3h.7M122.2 64.1h.7M121.5 69.1h.7M117.9 61.1h.7M119.0 64.6h.7M124.9 61.8h.7M116.3 61.4h.7M115.0 64.9h.7M119.4 62.7h.7M118.9 66.8h.7M116.4 63.0h.7M117.0 64.4h.7M117.7 59.8h.7M115.0 63.2h.7M116.8 68.6h.7M115.6 67.6h.7M122.2 66.9h.7M120.1 58.6h.7M117.6 64.9h.7M121.3 67.3h.7M117.3 66.1h.7M119.8 63.7h.7M124.8 65.6h.7M122.9 65.4h.7M118.8 63.4h.7M112.8 59.1h.7M119.4 64.9h.7M121.1 61.7h.7M124.5 58.6h.7M122.5 59.8h.7M120.9 61.5h.7M114.2 67.1h.7M114.2 62.0h.7M127.3 60.0h.7M121.2 65.3h.7M118.4 62.1h.7M120.3 63.9h.7M119.2 63.3h.7M120.3 60.8h.7M115.1 63.3h.7M115.5 59.3h.7M118.1 66.2h.7M119.9 64.5h.7M127.9 62.5h.7M124.7 62.6h.7M116.9 60.3h.7M123.7 62.6h.7M114.7 68.0h.7M117.4 60.9h.7M115.6 66.0h.7M115.6 62.5h.7M123.2 61.4h.7M119.3 64.7h.7M114.2 63.7h.7M122.9 65.5h.7M118.0 64.1h.7M113.3 62.2h.7M125.7 63.3h.7M117.4 64.5h.7M119.6 62.1h.7M119.6 66.0h.7M120.1 65.6h.7M123.6 61.2h.7M126.3 60.9h.7M115.6 67.2h.7M122.1 65.3h.7M119.1 62.7h.7M112.4 62.1h.7M117.9 61.7h.7" stroke="#5a6460" stroke-width=".7" stroke-opacity=".4" fill="none"/>
</g>
<line x1="84.39999999999999" y1="43" x2="84.39999999999999" y2="99.4" stroke="#222" stroke-width="1.4" stroke-dasharray="1 .7 1 .7 1 .7 1 .7 1 .7 1.5 2"/>
<line x1="87.1" y1="100.9" x2="143.3" y2="100.9" stroke="#222" stroke-width="1.4" stroke-dasharray="1 .7 1 .7 1 .7 1 .7 1 .7 1.5 2"/>
<line x1="85.1" y1="42.5" x2="143.8" y2="42.5" stroke="#000" stroke-width="1"/>
<line x1="143.3" y1="42" x2="143.3" y2="100.2" stroke="#000" stroke-width="1"/>
<line x1="85.94999999999999" y1="42" x2="85.94999999999999" y2="100.2" stroke="#000" stroke-width="1.7"/>
<line x1="85.1" y1="99.4" x2="143.8" y2="99.4" stroke="#000" stroke-width="1.5"/>
<rect x="111.39999999999999" y="52.2" width="28.8" height="23.0" fill="#c080c8" fill-opacity="0.06" stroke="#8a5a8c" stroke-width="1.05"/>
<text x="126.39999999999999" y="50" font-size="7.4" text-anchor="start" fill="#111" font-weight="normal" font-style="normal" >4.5</text>
<clipPath id="c1_2"><rect x="148.39999999999998" y="43" width="56" height="55.7"/></clipPath>
<g clip-path="url(#c1_2)">
<ellipse cx="0" cy="0" rx="10.9" ry="7.9" fill="url(#rg)" opacity="1.0" transform="translate(160.7 86.4) rotate(26)"/>
<ellipse cx="0" cy="0" rx="21.3" ry="15.6" fill="url(#rgg)" opacity="0.17" transform="translate(159.7 82.4) rotate(-63)"/>
<ellipse cx="0" cy="0" rx="17.1" ry="7.0" fill="url(#rgg)" opacity="0.08" transform="translate(170.2 73.4) rotate(-37)"/>
<ellipse cx="0" cy="0" rx="10.9" ry="6.8" fill="url(#rgg)" opacity="0.34" transform="translate(182.4 64.2) rotate(0)"/>
<path d="M162.2 90.0h.7M161.3 87.0h.7M162.7 90.5h.7M159.1 87.3h.7M158.0 80.5h.7M159.4 87.7h.7M161.0 85.7h.7M159.0 83.2h.7M163.0 84.2h.7M163.9 88.4h.7M159.7 85.7h.7M155.6 86.2h.7M166.0 87.6h.7M149.4 86.4h.7M159.2 83.8h.7M160.3 90.5h.7M161.8 86.6h.7M165.5 83.4h.7M158.6 87.9h.7M166.3 85.7h.7M160.4 82.5h.7M156.8 84.6h.7M155.4 93.9h.7M160.8 88.8h.7M168.8 88.4h.7M157.6 84.6h.7M159.6 88.8h.7M164.1 86.0h.7M162.9 87.8h.7M156.4 89.8h.7M164.9 88.8h.7M160.7 87.1h.7M159.9 84.1h.7M154.3 81.2h.7M159.7 78.0h.7M163.7 80.9h.7M162.6 90.5h.7M163.1 85.9h.7M158.3 83.3h.7M164.6 88.4h.7M158.3 89.1h.7M160.1 86.4h.7M162.1 86.6h.7M159.9 87.5h.7M160.9 85.1h.7M155.5 84.3h.7M157.8 84.1h.7M159.1 80.8h.7M162.3 78.0h.7M151.3 83.3h.7M154.9 85.9h.7M163.6 86.8h.7M162.8 87.1h.7M158.3 85.2h.7M162.2 88.3h.7M161.2 87.2h.7M165.4 86.9h.7M162.1 83.3h.7M165.8 90.7h.7M154.2 88.7h.7M153.1 88.7h.7M161.2 88.9h.7M161.0 88.6h.7M156.8 95.4h.7M165.1 92.6h.7M160.8 80.5h.7M152.3 85.3h.7M157.1 83.6h.7M162.8 93.2h.7M162.4 85.2h.7M160.4 87.0h.7M169.5 88.6h.7M162.7 87.9h.7M155.9 91.5h.7M161.7 86.5h.7M160.3 85.5h.7M159.0 86.7h.7M157.4 91.7h.7M163.5 89.5h.7M164.6 91.4h.7M157.9 88.8h.7M163.0 95.0h.7M160.3 88.3h.7M165.3 88.4h.7M160.3 86.7h.7M155.8 84.3h.7M165.2 83.7h.7M151.3 88.6h.7M158.8 87.0h.7M153.6 80.4h.7M158.6 87.6h.7M164.6 82.5h.7M159.5 83.5h.7M156.4 93.3h.7M163.6 84.0h.7M161.3 91.0h.7M159.8 83.1h.7M159.1 83.6h.7M161.6 90.9h.7M154.4 86.0h.7M161.1 88.2h.7M155.9 84.8h.7M164.2 92.4h.7M164.7 81.2h.7M155.2 89.4h.7M162.4 88.8h.7M162.3 83.1h.7M149.9 90.8h.7M153.6 85.7h.7M159.1 83.3h.7M158.2 88.0h.7M162.3 90.7h.7M160.1 83.8h.7M161.6 85.4h.7M162.0 89.9h.7M159.9 86.9h.7M159.9 83.6h.7M162.1 83.9h.7M163.0 85.9h.7M156.6 89.0h.7M160.8 83.3h.7M166.2 84.4h.7M156.4 86.3h.7M152.4 85.8h.7M153.3 84.4h.7M159.8 86.7h.7M161.5 81.1h.7M167.2 90.5h.7M160.8 82.3h.7M159.6 82.6h.7M156.1 87.5h.7M162.3 85.4h.7M172.7 89.2h.7M159.5 88.4h.7M156.5 85.3h.7M165.5 83.1h.7M161.1 87.5h.7M156.2 86.3h.7M161.5 84.5h.7M164.0 88.0h.7" stroke="#000" stroke-width=".7" stroke-opacity=".4" fill="none"/>
<path d="M163.5 83.4h.7M166.2 91.2h.7M159.2 90.8h.7M164.2 84.3h.7M161.3 86.4h.7M152.6 84.7h.7M163.7 92.4h.7M158.4 86.2h.7M164.5 84.0h.7M162.5 93.4h.7M162.5 89.4h.7M157.9 87.7h.7M160.3 86.9h.7M162.9 87.3h.7M160.0 90.0h.7M150.8 83.0h.7M154.3 83.0h.7M156.9 82.3h.7M163.0 80.6h.7M158.4 91.0h.7M158.2 83.7h.7M164.1 88.2h.7M156.9 86.0h.7M159.4 87.5h.7M156.5 86.5h.7M161.4 87.6h.7M160.0 82.2h.7M165.4 85.4h.7M150.3 79.7h.7M153.4 87.7h.7M163.3 85.4h.7M162.3 88.9h.7M158.5 87.2h.7M159.1 84.4h.7M159.4 85.4h.7M159.5 87.6h.7M164.8 84.0h.7M157.6 90.5h.7M159.1 83.5h.7M166.1 88.8h.7M158.2 84.5h.7M165.3 85.5h.7M155.9 82.0h.7M161.9 88.1h.7M162.3 83.7h.7M155.2 83.7h.7M160.5 83.9h.7M161.3 83.8h.7M157.6 86.5h.7M161.1 86.8h.7M161.3 83.5h.7M160.8 85.0h.7M165.1 88.7h.7M164.2 86.0h.7M160.0 79.1h.7M161.2 84.2h.7M158.3 83.7h.7M156.8 91.8h.7M166.0 89.3h.7M165.5 88.9h.7M166.0 86.0h.7M160.4 89.7h.7M161.0 81.9h.7M161.8 90.7h.7M162.8 85.0h.7M160.0 89.1h.7M163.9 91.2h.7M153.4 81.7h.7M156.3 89.8h.7M169.2 80.3h.7M169.0 93.7h.7M164.5 91.4h.7M160.0 85.0h.7M159.0 79.6h.7M161.4 92.2h.7M157.8 85.7h.7M172.8 90.1h.7M164.1 89.6h.7M163.3 91.3h.7M158.7 86.0h.7M163.9 85.6h.7M165.5 83.9h.7M160.6 87.6h.7M156.4 87.7h.7M158.5 81.6h.7M156.5 77.1h.7M157.9 87.5h.7M157.7 87.8h.7M161.1 86.5h.7M160.5 90.8h.7M161.3 88.0h.7M161.8 86.1h.7M157.6 82.6h.7M167.3 87.8h.7M149.9 78.5h.7M160.5 83.3h.7M155.3 84.6h.7M157.2 82.8h.7M159.9 93.2h.7M156.2 85.0h.7M165.1 85.6h.7M161.8 84.5h.7M155.2 86.4h.7M161.5 85.9h.7M161.5 85.1h.7M163.7 88.8h.7M159.1 86.5h.7M159.2 82.8h.7M160.8 84.6h.7M157.8 85.5h.7M160.1 86.7h.7M163.0 87.6h.7M159.4 88.2h.7M155.5 80.6h.7M162.2 82.4h.7M157.1 86.7h.7M155.9 87.9h.7M156.7 88.4h.7M166.9 86.8h.7M160.0 87.3h.7M156.1 84.8h.7M166.0 88.2h.7M162.9 84.1h.7M156.4 86.9h.7M157.5 81.1h.7M158.5 82.3h.7M162.8 88.4h.7M162.1 87.5h.7M166.4 89.2h.7M166.5 89.2h.7M168.1 87.8h.7M158.3 89.2h.7M160.2 88.8h.7M163.9 83.9h.7M163.9 87.9h.7M162.6 84.9h.7M156.9 84.9h.7M157.4 84.2h.7M165.2 85.3h.7M156.7 84.9h.7" stroke="#000" stroke-width=".7" stroke-opacity=".4" fill="none"/>
<path d="M154.4 81.3h.7M157.1 94.7h.7M166.2 83.3h.7M161.3 79.7h.7M167.1 75.6h.7M155.2 73.7h.7M161.6 78.2h.7M162.0 83.7h.7M151.5 90.5h.7M158.2 78.8h.7M171.6 82.5h.7M154.7 80.6h.7M164.6 77.4h.7M165.3 60.6h.7M152.9 91.8h.7M165.7 85.3h.7M158.3 79.5h.7M178.9 65.0h.7M158.2 89.6h.7M162.3 80.2h.7M153.1 79.0h.7M157.9 98.8h.7M161.2 81.1h.7M156.2 90.6h.7M164.6 92.9h.7M157.0 82.0h.7M153.7 79.4h.7M167.4 86.3h.7M155.9 89.4h.7M167.2 95.9h.7M164.9 74.7h.7M162.1 79.1h.7M165.1 86.5h.7M153.5 84.0h.7M160.7 85.9h.7M148.2 86.8h.7M161.1 94.4h.7M166.1 81.9h.7M161.8 79.8h.7M150.3 77.8h.7M159.9 92.5h.7M152.4 76.8h.7M162.4 73.8h.7M165.9 77.7h.7M160.0 94.6h.7M157.7 86.4h.7M152.1 85.8h.7M159.8 71.6h.7M166.2 69.5h.7M157.4 86.7h.7M159.6 78.4h.7M168.6 72.7h.7M153.8 79.8h.7M163.5 76.7h.7M162.7 80.2h.7M159.5 96.9h.7M155.1 85.2h.7M155.7 72.7h.7M162.4 70.6h.7M157.4 84.9h.7M155.0 92.4h.7M167.2 80.4h.7M162.3 74.4h.7M157.4 87.6h.7M155.7 79.3h.7M157.6 75.3h.7M166.9 88.1h.7M161.8 87.3h.7M161.9 97.4h.7M153.7 89.7h.7M163.9 80.8h.7M159.5 82.4h.7M148.3 89.7h.7M166.3 86.1h.7M149.0 97.7h.7M167.8 84.8h.7M153.5 92.7h.7M150.0 83.7h.7M156.3 74.6h.7M167.8 72.2h.7M158.1 86.5h.7M165.0 88.7h.7M151.3 92.8h.7M160.1 76.0h.7M169.0 78.1h.7" stroke="#444" stroke-width=".7" stroke-opacity=".4" fill="none"/>
<path d="M158.0 96.2h.7M162.5 72.0h.7M158.4 81.0h.7M156.3 80.7h.7M162.1 73.3h.7M158.5 87.8h.7M163.5 78.7h.7M163.1 63.3h.7M159.0 99.0h.7M169.1 83.6h.7M158.4 88.1h.7M156.2 81.8h.7M161.7 78.2h.7M158.4 84.0h.7M161.1 91.3h.7M158.8 74.8h.7M161.3 78.5h.7M167.1 76.8h.7M159.7 73.5h.7M162.7 83.7h.7M162.3 77.1h.7M158.5 80.7h.7M159.9 94.8h.7M159.0 85.4h.7M148.8 81.4h.7M167.3 82.0h.7M165.5 88.0h.7M157.7 79.1h.7M153.6 96.9h.7M161.4 84.6h.7M151.6 85.0h.7M163.8 89.2h.7M161.8 89.0h.7M160.5 97.4h.7M175.2 79.5h.7M150.7 80.2h.7M162.6 86.4h.7M154.3 83.3h.7M155.5 81.0h.7M159.1 79.9h.7M161.6 81.6h.7M162.1 75.3h.7M160.5 81.6h.7M157.4 84.9h.7M158.1 79.0h.7M161.2 87.0h.7M171.2 78.7h.7M162.3 65.4h.7M162.6 91.6h.7M168.3 86.4h.7M169.2 77.1h.7M166.9 64.6h.7M165.5 68.9h.7M164.9 69.1h.7M167.5 77.8h.7M170.9 76.4h.7M160.2 87.2h.7M150.8 93.4h.7M171.0 73.9h.7M152.6 72.8h.7M165.7 69.1h.7M162.8 81.8h.7M154.0 79.0h.7M152.1 96.3h.7M164.1 84.2h.7M153.4 72.7h.7M171.4 82.5h.7M165.7 78.7h.7M149.1 75.4h.7M167.1 77.7h.7M161.6 77.9h.7M166.8 96.5h.7M159.7 89.4h.7M164.8 74.0h.7M167.3 73.2h.7M155.4 78.3h.7M166.1 75.6h.7M171.3 84.0h.7M149.4 89.5h.7M159.7 80.4h.7M172.8 73.8h.7M157.9 81.9h.7M156.4 78.6h.7M153.2 82.2h.7M163.0 70.7h.7" stroke="#444" stroke-width=".7" stroke-opacity=".4" fill="none"/>
<path d="M159.9 84.9h.7M169.6 75.6h.7M171.6 69.8h.7M172.5 70.7h.7M169.5 74.8h.7M184.0 63.8h.7M173.6 70.7h.7M173.5 73.1h.7M174.4 70.4h.7M160.2 81.0h.7M168.9 75.8h.7M162.6 76.1h.7M162.2 83.4h.7M167.3 73.3h.7M173.5 67.8h.7M169.8 76.0h.7M170.4 68.5h.7M173.8 73.1h.7M164.6 72.9h.7M178.6 66.6h.7M172.0 69.6h.7M163.7 76.4h.7M173.5 73.7h.7M159.5 79.5h.7M164.3 79.2h.7M172.7 66.0h.7M170.4 69.5h.7M169.8 67.7h.7M176.0 73.7h.7M169.9 74.8h.7" stroke="#777" stroke-width=".7" stroke-opacity=".4" fill="none"/>
<path d="M168.1 69.8h.7M161.0 75.9h.7M174.4 74.0h.7M170.0 71.6h.7M168.6 77.3h.7M172.0 74.9h.7M167.7 78.0h.7M165.9 77.8h.7M173.6 78.2h.7M164.0 72.7h.7M170.5 69.6h.7M170.3 70.8h.7M165.7 75.5h.7M170.4 72.4h.7M162.3 84.0h.7M176.5 71.5h.7M161.7 81.3h.7M161.4 71.8h.7M171.0 69.7h.7M167.2 77.8h.7M174.6 76.9h.7M164.5 70.6h.7M175.4 71.8h.7M166.6 71.8h.7M168.6 80.4h.7M175.0 74.6h.7M179.7 63.9h.7M163.5 71.9h.7M168.0 70.4h.7M162.0 74.5h.7" stroke="#777" stroke-width=".7" stroke-opacity=".4" fill="none"/>
<path d="M182.0 66.0h.7M177.3 57.9h.7M181.9 63.2h.7M188.3 64.3h.7M186.7 65.2h.7M190.0 65.4h.7M179.8 62.5h.7M183.9 68.7h.7M184.3 61.2h.7M187.3 64.7h.7M177.8 61.2h.7M176.8 63.9h.7M190.0 64.1h.7M184.0 64.1h.7M176.3 65.3h.7M180.9 65.6h.7M184.8 68.2h.7M184.5 68.0h.7M176.3 62.7h.7M191.3 62.3h.7M185.0 64.9h.7M181.4 60.6h.7M185.5 67.3h.7M184.9 64.6h.7M184.0 61.5h.7M186.5 67.9h.7M188.8 61.8h.7M183.8 65.1h.7M183.2 66.1h.7M179.9 58.1h.7M181.9 61.7h.7M182.9 64.5h.7M182.0 64.4h.7M181.2 64.4h.7M185.7 65.2h.7M176.4 64.6h.7M185.8 62.8h.7M184.4 65.4h.7M178.1 61.1h.7M182.2 63.3h.7M179.3 60.6h.7M180.7 61.5h.7M181.2 63.7h.7M183.0 66.8h.7M177.8 61.0h.7M189.9 63.5h.7M183.0 70.2h.7M187.8 62.6h.7M182.9 64.6h.7M188.9 63.5h.7M185.0 66.9h.7M189.6 60.5h.7M175.1 62.5h.7M176.2 61.6h.7M179.1 63.6h.7M182.4 63.6h.7M180.3 64.5h.7M180.6 64.7h.7M181.3 65.1h.7M183.5 63.2h.7M182.6 62.7h.7M182.5 63.9h.7M180.4 60.9h.7M177.6 66.2h.7M181.6 59.6h.7M182.2 63.6h.7M174.6 66.4h.7M176.3 65.7h.7M180.2 66.1h.7M188.5 63.7h.7M189.4 57.1h.7M182.4 66.9h.7M189.5 60.4h.7M183.8 58.8h.7M188.6 67.2h.7" stroke="#5a6460" stroke-width=".7" stroke-opacity=".4" fill="none"/>
<path d="M182.7 65.3h.7M183.7 61.9h.7M184.4 62.2h.7M184.6 65.8h.7M175.2 62.6h.7M184.7 65.4h.7M179.7 67.1h.7M184.4 69.0h.7M189.6 65.1h.7M181.1 64.6h.7M178.7 62.9h.7M183.7 69.4h.7M186.0 63.6h.7M180.2 64.4h.7M181.2 61.4h.7M179.6 65.4h.7M177.9 63.9h.7M183.5 66.1h.7M189.3 63.5h.7M181.2 60.1h.7M190.8 64.6h.7M182.1 66.6h.7M186.0 64.1h.7M176.9 68.6h.7M184.0 64.9h.7M169.8 65.6h.7M174.7 64.9h.7M177.8 63.0h.7M191.5 65.0h.7M186.9 63.9h.7M185.5 59.6h.7M183.6 67.6h.7M186.0 60.2h.7M186.4 62.1h.7M176.2 60.4h.7M183.3 66.1h.7M186.9 66.3h.7M177.0 65.1h.7M180.9 64.6h.7M178.2 64.7h.7M182.8 68.0h.7M188.2 68.6h.7M183.3 71.8h.7M184.3 59.5h.7M184.2 64.5h.7M183.7 64.4h.7M183.6 68.0h.7M185.3 63.2h.7M182.5 63.0h.7M185.3 68.6h.7M188.2 67.0h.7M190.6 64.3h.7M176.6 64.1h.7M183.6 64.6h.7M182.0 64.4h.7M186.1 60.0h.7M180.7 62.8h.7M187.6 63.7h.7M181.4 59.2h.7M180.0 65.8h.7M173.3 59.7h.7M184.2 64.8h.7M177.8 63.8h.7M176.8 59.5h.7M189.2 61.6h.7M179.0 59.6h.7M186.7 69.8h.7M182.3 66.4h.7M186.2 65.8h.7M188.9 62.4h.7M182.5 62.1h.7M185.4 64.4h.7M179.0 68.1h.7M183.8 61.1h.7M180.1 67.6h.7" stroke="#5a6460" stroke-width=".7" stroke-opacity=".4" fill="none"/>
</g>
<line x1="146.0" y1="43" x2="146.0" y2="99.4" stroke="#222" stroke-width="1.4" stroke-dasharray="1 .7 1 .7 1 .7 1 .7 1 .7 1.5 2"/>
<line x1="148.7" y1="100.9" x2="204.89999999999998" y2="100.9" stroke="#222" stroke-width="1.4" stroke-dasharray="1 .7 1 .7 1 .7 1 .7 1 .7 1.5 2"/>
<line x1="146.7" y1="42.5" x2="205.39999999999998" y2="42.5" stroke="#000" stroke-width="1"/>
<line x1="204.89999999999998" y1="42" x2="204.89999999999998" y2="100.2" stroke="#000" stroke-width="1"/>
<line x1="147.54999999999998" y1="42" x2="147.54999999999998" y2="100.2" stroke="#000" stroke-width="1.7"/>
<line x1="146.7" y1="99.4" x2="205.39999999999998" y2="99.4" stroke="#000" stroke-width="1.5"/>
<rect x="173.0" y="52.2" width="28.8" height="23.0" fill="#c080c8" fill-opacity="0.06" stroke="#8a5a8c" stroke-width="1.05"/>
<text x="188.0" y="50" font-size="7.4" text-anchor="start" fill="#111" font-weight="normal" font-style="normal" >5.5</text>
<clipPath id="c1_3"><rect x="210.0" y="43" width="56" height="55.7"/></clipPath>
<g clip-path="url(#c1_3)">
<ellipse cx="0" cy="0" rx="11.6" ry="9.0" fill="url(#rg)" opacity="1.0" transform="translate(221.9 86.2) rotate(45)"/>
<ellipse cx="0" cy="0" rx="22.9" ry="15.8" fill="url(#rgg)" opacity="0.17" transform="translate(220.9 82.2) rotate(-69)"/>
<ellipse cx="0" cy="0" rx="17.1" ry="7.0" fill="url(#rgg)" opacity="0.08" transform="translate(231.4 73.2) rotate(-37)"/>
<ellipse cx="0" cy="0" rx="10.9" ry="6.8" fill="url(#rgg)" opacity="0.34" transform="translate(244.1 64.2) rotate(0)"/>
<path d="M218.6 88.9h.7M216.2 83.7h.7M214.5 89.1h.7M224.2 88.2h.7M225.0 87.2h.7M223.8 90.4h.7M221.7 79.7h.7M227.9 88.7h.7M227.5 86.4h.7M216.9 81.5h.7M222.5 86.6h.7M225.4 90.0h.7M220.9 92.5h.7M220.6 89.6h.7M221.7 84.4h.7M222.4 85.5h.7M226.3 81.8h.7M224.5 87.0h.7M219.0 81.1h.7M223.0 87.9h.7M218.9 81.3h.7M229.7 88.9h.7M217.7 89.8h.7M221.9 89.9h.7M222.0 93.1h.7M222.2 83.5h.7M219.1 87.9h.7M222.8 85.5h.7M222.0 87.2h.7M215.8 86.2h.7M219.4 85.9h.7M223.0 87.5h.7M226.6 85.5h.7M221.7 81.2h.7M223.1 85.0h.7M222.1 88.6h.7M224.6 88.4h.7M221.7 84.6h.7M223.5 92.1h.7M226.5 86.9h.7M219.1 81.7h.7M221.6 81.3h.7M217.3 81.6h.7M228.1 85.6h.7M224.0 85.3h.7M223.2 85.6h.7M219.9 86.5h.7M213.7 79.6h.7M231.6 89.4h.7M212.2 83.1h.7M219.9 83.8h.7M226.3 87.3h.7M220.1 89.3h.7M225.7 87.7h.7M227.4 87.6h.7M216.1 82.4h.7M229.3 94.8h.7M216.7 84.2h.7M222.1 88.6h.7M214.9 88.8h.7M225.0 86.1h.7M230.3 91.0h.7M221.1 89.1h.7M217.6 87.4h.7M219.2 81.7h.7M219.0 81.2h.7M224.4 86.2h.7M219.6 84.6h.7M222.2 90.0h.7M227.8 90.5h.7M218.5 79.2h.7M219.2 80.0h.7M228.7 86.1h.7M224.5 86.2h.7M224.3 85.1h.7M218.4 79.7h.7M222.6 89.3h.7M218.4 87.6h.7M226.8 85.6h.7M219.6 86.6h.7M220.8 83.9h.7M222.7 79.1h.7M219.0 75.8h.7M220.9 88.8h.7M226.7 81.0h.7M226.8 87.9h.7M222.3 86.4h.7M224.8 87.0h.7M222.7 86.3h.7M224.1 86.3h.7M220.1 89.4h.7M223.5 87.1h.7M217.5 80.9h.7M221.4 82.6h.7M226.5 85.2h.7M220.5 82.3h.7M224.0 80.1h.7M224.2 92.4h.7M222.1 88.0h.7M223.6 88.6h.7M219.9 83.6h.7M215.6 83.3h.7M222.5 89.5h.7M215.4 79.1h.7M220.3 83.2h.7M222.9 79.3h.7M222.8 83.2h.7M227.1 89.3h.7M219.6 85.4h.7M219.3 86.2h.7M218.1 84.8h.7M222.2 84.5h.7M218.9 85.7h.7M220.0 89.7h.7M218.9 88.5h.7M220.5 84.6h.7M221.7 87.2h.7M225.0 90.1h.7M228.0 90.4h.7M225.3 89.0h.7M225.0 88.0h.7M223.1 87.4h.7M223.1 84.5h.7M218.7 87.0h.7M223.9 86.3h.7M228.6 82.6h.7M219.3 83.6h.7M221.7 84.1h.7M227.6 92.1h.7M221.8 90.5h.7M224.0 84.0h.7M220.5 87.9h.7M225.3 83.2h.7M215.2 79.4h.7M226.2 81.4h.7M219.3 88.1h.7M223.2 94.9h.7M227.0 83.2h.7M226.0 76.1h.7M223.1 83.8h.7" stroke="#000" stroke-width=".7" stroke-opacity=".4" fill="none"/>
<path d="M224.2 86.3h.7M212.7 81.7h.7M218.0 75.8h.7M219.9 93.9h.7M219.3 74.1h.7M219.5 80.1h.7M221.9 89.2h.7M222.7 89.3h.7M217.0 81.9h.7M221.4 87.4h.7M220.5 87.5h.7M227.9 86.6h.7M222.7 88.0h.7M220.3 81.9h.7M225.2 85.6h.7M223.3 84.1h.7M220.4 83.1h.7M223.8 85.4h.7M220.6 83.8h.7M225.8 86.8h.7M222.1 87.7h.7M228.9 95.2h.7M226.4 92.5h.7M220.0 85.4h.7M221.0 89.7h.7M222.9 89.0h.7M219.1 82.1h.7M218.0 78.9h.7M220.1 86.5h.7M223.6 87.7h.7M222.4 90.5h.7M219.0 88.8h.7M224.5 88.0h.7M228.9 80.7h.7M226.5 85.7h.7M223.7 84.6h.7M225.9 85.2h.7M218.6 86.3h.7M220.6 87.4h.7M222.2 86.8h.7M226.4 88.0h.7M222.4 90.8h.7M226.3 92.8h.7M224.3 83.9h.7M222.7 91.6h.7M222.1 87.3h.7M224.3 92.8h.7M217.0 88.3h.7M222.4 90.7h.7M209.5 83.7h.7M223.3 84.3h.7M223.4 96.3h.7M218.6 90.2h.7M225.8 93.4h.7M221.7 90.4h.7M223.8 88.9h.7M223.2 88.2h.7M222.9 85.6h.7M218.1 83.1h.7M217.7 78.6h.7M225.7 85.7h.7M222.5 86.8h.7M229.8 86.6h.7M226.1 81.5h.7M224.1 88.7h.7M224.6 79.0h.7M229.5 91.9h.7M220.8 83.1h.7M216.0 83.8h.7M218.7 82.3h.7M226.4 87.6h.7M220.4 83.9h.7M222.4 90.4h.7M213.3 89.4h.7M221.6 82.5h.7M223.9 88.7h.7M224.0 87.2h.7M226.6 89.8h.7M218.1 90.0h.7M221.2 86.1h.7M214.9 91.7h.7M218.3 81.0h.7M224.2 93.0h.7M224.3 82.1h.7M219.6 84.3h.7M221.4 83.0h.7M224.8 92.2h.7M221.3 92.1h.7M228.9 93.9h.7M219.4 89.6h.7M218.8 85.8h.7M222.8 87.9h.7M221.3 92.9h.7M219.3 85.7h.7M224.1 87.5h.7M221.3 83.3h.7M226.3 90.2h.7M224.3 80.3h.7M219.2 81.3h.7M220.2 84.9h.7M221.7 90.2h.7M228.2 89.0h.7M218.0 80.7h.7M222.9 89.7h.7M223.5 88.9h.7M219.8 76.1h.7M219.3 91.2h.7M223.0 87.1h.7M229.3 84.8h.7M225.4 90.2h.7M220.9 81.3h.7M225.5 88.7h.7M220.5 83.5h.7M220.3 79.3h.7M230.3 84.3h.7M216.4 86.3h.7M230.6 87.4h.7M219.4 83.4h.7M222.5 82.2h.7M230.4 93.9h.7M222.1 84.2h.7M224.4 90.9h.7M225.0 92.8h.7M224.0 88.8h.7M221.5 92.5h.7M212.0 85.4h.7M215.7 86.0h.7M225.4 96.2h.7M220.3 88.3h.7M224.2 86.6h.7M225.0 92.6h.7M215.4 88.1h.7M228.7 88.3h.7M225.3 86.0h.7M221.5 89.8h.7M220.5 87.1h.7M217.1 87.9h.7M222.2 95.0h.7M221.0 79.5h.7M219.7 82.5h.7" stroke="#000" stroke-width=".7" stroke-opacity=".4" fill="none"/>
<path d="M222.8 77.9h.7M223.5 74.5h.7M223.5 78.3h.7M216.7 72.8h.7M214.1 81.8h.7M223.5 65.1h.7M220.9 86.0h.7M222.2 76.1h.7M220.7 76.8h.7M226.1 61.2h.7M226.7 74.6h.7M215.9 99.3h.7M210.5 77.5h.7M209.3 94.5h.7M216.9 89.5h.7M231.1 91.8h.7M211.5 90.7h.7M222.8 95.0h.7M236.0 60.0h.7M217.2 65.1h.7M215.9 95.6h.7M211.2 85.3h.7M229.2 79.5h.7M227.9 74.4h.7M211.4 99.6h.7M212.9 73.9h.7M220.6 88.9h.7M218.1 83.8h.7M218.7 69.6h.7M216.9 83.0h.7M223.5 91.8h.7M218.5 70.4h.7M222.8 80.4h.7M223.0 83.1h.7M225.4 87.8h.7M215.2 96.1h.7M224.4 88.2h.7M223.3 86.3h.7M217.8 92.1h.7M216.7 84.6h.7M222.1 84.6h.7M215.9 88.2h.7M218.5 75.3h.7M220.2 82.0h.7M215.3 93.2h.7M215.9 86.7h.7M219.4 62.7h.7M227.8 68.3h.7M222.2 85.5h.7M226.6 81.6h.7M211.9 98.4h.7M229.3 74.4h.7M214.1 91.8h.7M216.5 89.6h.7M215.8 82.3h.7M226.2 91.1h.7M231.9 84.1h.7M225.7 82.9h.7M234.2 67.2h.7M233.4 88.1h.7M220.7 66.0h.7M228.5 69.9h.7M223.0 82.2h.7M218.5 71.8h.7M224.6 91.2h.7M220.8 88.2h.7M219.8 77.6h.7M214.6 95.1h.7M220.2 80.5h.7M214.6 80.1h.7M217.5 90.4h.7M228.1 74.5h.7M213.5 93.1h.7M222.7 72.0h.7M212.6 91.2h.7M216.7 78.8h.7M230.4 70.8h.7M230.8 78.2h.7M220.2 93.7h.7M215.7 84.4h.7M230.8 73.1h.7M223.4 79.9h.7" stroke="#444" stroke-width=".7" stroke-opacity=".4" fill="none"/>
<path d="M215.2 82.3h.7M227.9 66.6h.7M230.8 73.8h.7M233.4 83.0h.7M214.9 96.4h.7M222.2 89.1h.7M220.2 84.1h.7M223.1 82.8h.7M214.5 86.3h.7M217.5 94.1h.7M229.4 71.5h.7M218.1 81.4h.7M213.5 83.5h.7M218.7 78.1h.7M230.6 75.8h.7M229.4 81.8h.7M218.3 84.6h.7M222.4 74.2h.7M222.4 76.2h.7M215.1 87.4h.7M222.5 88.3h.7M224.1 90.7h.7M231.0 95.0h.7M222.1 76.8h.7M221.7 65.4h.7M221.3 83.8h.7M234.0 65.9h.7M217.5 81.6h.7M213.1 89.9h.7M214.1 89.2h.7M226.8 80.5h.7M221.3 88.4h.7M209.7 75.1h.7M218.9 69.4h.7M219.1 98.3h.7M227.5 77.0h.7M223.7 69.4h.7M221.0 87.6h.7M216.8 78.8h.7M224.6 83.7h.7M223.9 89.8h.7M217.9 80.7h.7M215.8 63.4h.7M215.5 87.4h.7M228.4 93.2h.7M227.0 69.4h.7M226.7 76.3h.7M211.9 81.1h.7M224.7 87.2h.7M212.6 78.3h.7M214.6 81.7h.7M230.2 70.3h.7M213.4 85.9h.7M216.2 91.9h.7M215.1 85.2h.7M222.0 75.6h.7M211.5 99.1h.7M214.9 97.4h.7M225.1 81.6h.7M223.7 86.0h.7M219.8 69.5h.7M217.0 85.6h.7M218.7 85.3h.7M221.9 83.1h.7M223.8 84.4h.7M212.9 65.6h.7M215.0 87.4h.7M241.7 71.1h.7M222.5 86.0h.7M228.3 83.4h.7M210.2 91.1h.7M227.4 72.5h.7M233.0 72.6h.7M223.4 85.4h.7M232.6 78.8h.7M232.5 78.9h.7M211.4 79.7h.7M235.3 72.3h.7M217.2 88.0h.7M223.8 66.4h.7M216.3 96.3h.7M227.9 93.6h.7M223.3 79.8h.7M227.4 91.3h.7M215.0 79.6h.7M221.4 78.3h.7" stroke="#444" stroke-width=".7" stroke-opacity=".4" fill="none"/>
<path d="M230.9 75.0h.7M230.8 71.1h.7M236.6 72.4h.7M228.9 72.5h.7M249.5 58.9h.7M234.7 66.2h.7M220.4 84.0h.7M231.4 71.4h.7M238.2 69.0h.7M227.9 72.8h.7M237.5 70.4h.7M232.5 72.0h.7M229.7 69.1h.7M232.6 74.1h.7M233.9 75.2h.7M237.0 68.4h.7M234.7 70.1h.7M240.7 66.9h.7M235.0 68.4h.7M234.2 67.0h.7M221.4 80.3h.7M235.9 74.8h.7M232.9 73.9h.7M230.8 76.6h.7M228.6 73.8h.7M246.5 62.3h.7M236.7 69.5h.7M235.1 71.5h.7M226.5 73.0h.7M222.7 84.2h.7" stroke="#777" stroke-width=".7" stroke-opacity=".4" fill="none"/>
<path d="M235.5 68.3h.7M230.4 69.1h.7M230.7 71.4h.7M222.9 83.3h.7M225.0 78.7h.7M220.8 81.0h.7M228.7 75.0h.7M230.6 72.7h.7M231.2 71.6h.7M231.5 79.1h.7M240.6 71.2h.7M225.4 77.5h.7M224.3 83.5h.7M232.5 71.1h.7M229.7 75.8h.7M232.3 70.3h.7M237.7 67.1h.7M226.8 72.9h.7M241.3 71.6h.7M231.3 70.9h.7M243.5 64.5h.7M226.1 75.1h.7M225.1 77.5h.7M222.6 76.4h.7M235.4 68.9h.7M236.0 73.8h.7M226.8 75.0h.7M234.6 73.2h.7M239.3 67.1h.7M226.8 72.8h.7" stroke="#777" stroke-width=".7" stroke-opacity=".4" fill="none"/>
<path d="M248.2 61.3h.7M240.7 70.7h.7M244.6 64.3h.7M242.0 64.1h.7M240.2 58.8h.7M244.0 64.0h.7M247.7 63.8h.7M236.3 67.0h.7M246.9 64.3h.7M251.9 67.8h.7M240.4 64.0h.7M243.6 63.3h.7M249.4 67.0h.7M240.0 67.1h.7M250.0 64.1h.7M243.3 60.9h.7M244.0 65.6h.7M237.7 61.7h.7M239.3 62.7h.7M245.5 64.3h.7M244.2 62.3h.7M248.1 65.8h.7M244.4 62.4h.7M239.4 65.1h.7M244.8 65.1h.7M249.3 66.2h.7M234.3 63.7h.7M242.8 66.4h.7M241.8 64.9h.7M247.6 61.1h.7M248.8 65.3h.7M243.8 60.1h.7M241.9 61.8h.7M244.4 64.1h.7M244.7 65.3h.7M242.4 66.0h.7M238.9 66.5h.7M248.8 65.6h.7M248.1 66.0h.7M241.7 61.5h.7M251.2 62.3h.7M241.9 64.3h.7M234.0 60.8h.7M244.7 63.0h.7M238.3 62.1h.7M239.7 67.2h.7M243.8 64.3h.7M248.0 61.4h.7M243.7 62.9h.7M245.3 64.2h.7M247.8 64.1h.7M247.8 61.6h.7M249.2 63.1h.7M240.3 64.5h.7M241.6 63.2h.7M239.7 64.1h.7M240.8 63.8h.7M245.1 61.1h.7M240.0 64.0h.7M242.1 59.6h.7M245.2 67.0h.7M239.6 67.6h.7M244.8 68.7h.7M239.8 61.2h.7M243.4 64.7h.7M238.8 58.3h.7M243.1 65.3h.7M240.1 64.4h.7M242.0 58.8h.7M240.0 65.2h.7M245.1 65.6h.7M246.4 62.3h.7M241.6 65.0h.7M250.7 68.0h.7M241.4 63.1h.7" stroke="#5a6460" stroke-width=".7" stroke-opacity=".4" fill="none"/>
<path d="M240.4 66.9h.7M244.5 71.2h.7M241.4 63.6h.7M247.3 60.9h.7M250.4 64.0h.7M248.3 65.0h.7M243.6 64.1h.7M237.5 61.6h.7M247.5 68.6h.7M243.2 69.5h.7M248.3 63.6h.7M249.8 57.8h.7M243.8 65.7h.7M257.0 61.8h.7M242.7 62.9h.7M238.4 68.5h.7M245.4 65.4h.7M246.8 66.8h.7M239.6 65.9h.7M241.4 65.1h.7M245.5 62.5h.7M241.2 65.7h.7M240.3 59.9h.7M249.2 62.6h.7M247.4 65.4h.7M240.9 65.2h.7M244.2 65.7h.7M249.6 62.0h.7M246.2 64.6h.7M247.4 67.2h.7M243.1 65.2h.7M241.6 64.1h.7M243.1 63.2h.7M244.8 66.8h.7M239.0 56.5h.7M242.7 62.6h.7M241.9 64.8h.7M253.5 63.9h.7M241.3 64.3h.7M245.4 62.2h.7M241.8 64.4h.7M241.5 60.5h.7M250.5 65.4h.7M243.5 65.0h.7M240.4 67.5h.7M242.1 71.3h.7M249.8 66.5h.7M248.9 68.6h.7M239.5 66.8h.7M238.9 68.4h.7M250.3 61.7h.7M250.0 63.5h.7M245.8 67.2h.7M240.6 66.4h.7M243.2 67.2h.7M242.7 62.8h.7M244.9 60.2h.7M244.2 70.1h.7M243.0 66.8h.7M237.3 64.7h.7M241.8 65.9h.7M243.8 62.4h.7M240.5 61.0h.7M243.9 65.1h.7M249.1 63.4h.7M245.1 62.4h.7M246.0 60.1h.7M243.5 67.2h.7M249.0 59.9h.7M239.7 70.7h.7M242.3 70.0h.7M249.4 59.8h.7M244.7 61.7h.7M240.2 65.2h.7M248.2 64.5h.7" stroke="#5a6460" stroke-width=".7" stroke-opacity=".4" fill="none"/>
</g>
<line x1="207.60000000000002" y1="43" x2="207.60000000000002" y2="99.4" stroke="#222" stroke-width="1.4" stroke-dasharray="1 .7 1 .7 1 .7 1 .7 1 .7 1.5 2"/>
<line x1="210.3" y1="100.9" x2="266.5" y2="100.9" stroke="#222" stroke-width="1.4" stroke-dasharray="1 .7 1 .7 1 .7 1 .7 1 .7 1.5 2"/>
<line x1="208.3" y1="42.5" x2="267.0" y2="42.5" stroke="#000" stroke-width="1"/>
<line x1="266.5" y1="42" x2="266.5" y2="100.2" stroke="#000" stroke-width="1"/>
<line x1="209.15" y1="42" x2="209.15" y2="100.2" stroke="#000" stroke-width="1.7"/>
<line x1="208.3" y1="99.4" x2="267.0" y2="99.4" stroke="#000" stroke-width="1.5"/>
<rect x="234.60000000000002" y="52.2" width="28.8" height="23.0" fill="#c080c8" fill-opacity="0.06" stroke="#8a5a8c" stroke-width="1.05"/>
<text x="249.60000000000002" y="50" font-size="7.4" text-anchor="start" fill="#111" font-weight="normal" font-style="normal" >5.3</text>
<clipPath id="c1_4"><rect x="271.59999999999997" y="43" width="56" height="55.7"/></clipPath>
<g clip-path="url(#c1_4)">
<ellipse cx="0" cy="0" rx="10.4" ry="7.6" fill="url(#rg)" opacity="0.95" transform="translate(283.9 86.6) rotate(28)"/>
<ellipse cx="0" cy="0" rx="21.0" ry="15.1" fill="url(#rgg)" opacity="0.17" transform="translate(282.9 82.6) rotate(-64)"/>
<ellipse cx="0" cy="0" rx="17.1" ry="7.0" fill="url(#rgg)" opacity="0.1" transform="translate(293.4 73.6) rotate(-37)"/>
<ellipse cx="0" cy="0" rx="13.0" ry="7.0" fill="url(#rgg)" opacity="0.55" transform="translate(307.5 65.6) rotate(0)"/>
<path d="M283.5 86.8h.7M281.0 90.1h.7M289.5 88.4h.7M286.2 92.9h.7M279.6 83.6h.7M281.4 90.0h.7M285.8 88.5h.7M278.5 90.5h.7M284.4 92.8h.7M283.1 87.0h.7M283.1 91.8h.7M287.4 88.4h.7M285.2 81.0h.7M284.4 85.3h.7M272.8 87.8h.7M284.0 86.8h.7M281.2 88.4h.7M282.5 82.7h.7M279.5 85.4h.7M285.9 93.2h.7M280.2 83.2h.7M287.4 86.5h.7M280.6 85.4h.7M281.8 88.9h.7M282.1 87.3h.7M280.2 86.9h.7M277.0 86.7h.7M286.5 87.5h.7M281.9 82.9h.7M286.4 91.1h.7M282.6 85.0h.7M280.6 85.7h.7M278.7 85.9h.7M281.8 82.7h.7M281.5 85.1h.7M278.1 83.3h.7M290.8 87.0h.7M283.1 85.9h.7M283.5 84.1h.7M286.1 83.7h.7M277.2 87.3h.7M285.6 85.4h.7M287.3 87.8h.7M282.5 85.2h.7M282.4 93.1h.7M288.0 87.2h.7M290.1 85.4h.7M291.2 92.0h.7M285.3 85.6h.7M284.8 83.5h.7M282.7 91.4h.7M282.6 83.4h.7M287.4 86.5h.7M290.2 88.8h.7M282.3 87.9h.7M281.8 83.5h.7M287.6 85.7h.7M285.9 91.7h.7M286.4 88.5h.7M280.3 88.7h.7M290.7 88.1h.7M279.0 84.2h.7M284.4 84.2h.7M280.9 80.8h.7M286.3 86.5h.7M281.7 86.0h.7M282.3 87.4h.7M285.5 90.2h.7M276.7 84.9h.7M284.2 87.5h.7M281.3 85.5h.7M283.5 84.3h.7M280.9 88.5h.7M283.1 84.8h.7M289.7 91.3h.7M283.9 87.9h.7M281.0 86.2h.7M279.3 89.6h.7M284.0 87.0h.7M281.7 81.0h.7M290.1 89.1h.7M281.3 87.7h.7M279.8 85.5h.7M286.0 84.0h.7M286.9 85.2h.7M279.1 86.6h.7M284.9 85.9h.7M284.5 86.7h.7M286.3 84.2h.7M282.5 81.4h.7M280.8 82.2h.7M281.6 89.8h.7M282.4 84.0h.7M277.3 83.6h.7M292.0 91.3h.7M282.3 87.7h.7M282.2 87.1h.7M287.6 86.7h.7M287.2 86.8h.7M278.9 88.8h.7M287.9 88.3h.7M277.9 87.3h.7M279.9 85.4h.7M284.3 90.6h.7M276.0 87.3h.7M283.6 85.4h.7M282.0 90.9h.7M286.9 89.7h.7M284.2 87.9h.7M281.9 86.0h.7M283.9 88.9h.7M283.8 85.2h.7M277.7 81.7h.7M282.1 82.4h.7M281.5 86.1h.7M281.1 84.7h.7M289.8 90.7h.7M287.3 89.8h.7M281.1 88.3h.7M291.9 87.5h.7M283.6 92.2h.7M289.4 87.7h.7M290.6 91.0h.7M282.0 84.9h.7M288.5 90.2h.7M280.5 82.1h.7M287.6 86.6h.7M281.8 81.4h.7M279.8 84.1h.7M290.3 86.8h.7M285.4 85.0h.7M290.6 85.8h.7M284.9 83.4h.7M286.1 81.4h.7M285.0 88.4h.7M283.0 87.6h.7M285.1 92.8h.7M282.9 88.7h.7M280.5 87.1h.7M283.8 86.6h.7" stroke="#000" stroke-width=".7" stroke-opacity=".4" fill="none"/>
<path d="M279.4 89.4h.7M282.2 84.8h.7M281.5 84.4h.7M286.2 85.9h.7M283.4 87.3h.7M280.3 83.6h.7M282.4 89.3h.7M292.2 94.4h.7M284.1 90.8h.7M285.9 81.6h.7M272.8 85.5h.7M284.6 91.1h.7M280.3 84.9h.7M283.5 91.7h.7M287.5 89.2h.7M285.3 87.6h.7M280.8 85.8h.7M286.2 86.9h.7M278.7 89.9h.7M281.7 88.3h.7M283.6 87.8h.7M288.1 90.5h.7M280.4 91.1h.7M287.4 86.5h.7M281.0 82.1h.7M284.6 92.2h.7M279.5 89.2h.7M289.5 86.6h.7M281.4 86.4h.7M282.9 84.1h.7M282.1 85.0h.7M282.0 85.7h.7M286.1 89.0h.7M279.0 82.0h.7M277.2 87.3h.7M281.2 88.6h.7M282.9 85.2h.7M293.2 85.2h.7M285.2 85.3h.7M291.8 88.9h.7M282.1 82.7h.7M286.7 85.5h.7M285.2 87.4h.7M285.6 89.1h.7M290.3 84.4h.7M284.8 84.4h.7M283.6 84.3h.7M278.9 84.2h.7M282.6 83.0h.7M287.0 94.6h.7M285.3 84.9h.7M284.3 88.8h.7M279.4 85.4h.7M283.7 80.2h.7M280.4 90.0h.7M281.7 85.9h.7M277.2 85.0h.7M279.7 90.2h.7M281.0 83.3h.7M284.7 90.0h.7M283.7 92.4h.7M282.5 85.2h.7M288.2 83.4h.7M278.7 87.3h.7M287.1 89.2h.7M285.3 93.0h.7M285.9 90.7h.7M279.9 85.0h.7M292.6 89.2h.7M284.4 82.7h.7M284.5 84.1h.7M279.0 83.6h.7M288.9 89.4h.7M278.0 83.8h.7M284.7 86.1h.7M283.9 87.9h.7M282.6 89.6h.7M283.6 85.0h.7M283.0 87.7h.7M286.5 87.1h.7M276.4 88.8h.7M292.2 91.7h.7M277.9 87.4h.7M285.6 89.8h.7M281.3 82.7h.7M284.0 90.6h.7M278.6 90.2h.7M280.1 82.7h.7M286.1 89.0h.7M285.4 91.2h.7M288.0 87.9h.7M282.9 87.8h.7M284.7 84.2h.7M288.5 90.9h.7M289.9 88.7h.7M280.4 88.1h.7M280.7 85.6h.7M281.4 87.0h.7M279.5 81.0h.7M283.6 88.0h.7M285.7 85.5h.7M283.5 88.3h.7M291.4 85.7h.7M283.0 86.8h.7M282.3 90.1h.7M285.5 86.3h.7M287.6 87.7h.7M286.1 87.2h.7M286.0 88.1h.7M285.6 84.1h.7M284.5 85.9h.7M287.6 86.3h.7M285.0 87.5h.7M283.3 84.0h.7M281.0 87.0h.7M283.1 90.8h.7M281.2 86.1h.7M277.8 85.2h.7M286.3 85.6h.7M293.0 88.1h.7M281.9 84.8h.7M285.7 83.3h.7M285.2 89.0h.7M278.1 86.5h.7M287.3 89.5h.7M286.3 87.6h.7M280.6 87.3h.7M281.6 83.6h.7M287.4 94.3h.7M288.1 87.3h.7M283.6 81.6h.7M286.1 85.4h.7M282.5 89.1h.7M287.1 83.4h.7M281.5 85.2h.7M287.3 91.4h.7M280.4 91.2h.7M283.4 86.8h.7M291.4 88.7h.7M286.6 86.6h.7" stroke="#000" stroke-width=".7" stroke-opacity=".4" fill="none"/>
<path d="M282.9 84.3h.7M276.4 80.2h.7M288.9 79.4h.7M291.6 90.2h.7M286.5 70.8h.7M287.3 88.9h.7M286.5 92.4h.7M277.0 77.1h.7M277.8 81.5h.7M287.4 85.2h.7M277.2 75.6h.7M276.3 87.4h.7M289.7 87.1h.7M277.5 69.8h.7M277.2 84.6h.7M272.4 90.3h.7M286.7 80.6h.7M290.1 81.4h.7M272.4 93.3h.7M283.3 88.8h.7M278.3 77.0h.7M287.1 81.2h.7M284.7 83.5h.7M277.6 65.9h.7M282.0 82.3h.7M281.2 81.2h.7M276.5 84.9h.7M285.5 72.2h.7M295.7 62.8h.7M289.6 72.9h.7M289.1 66.7h.7M279.1 88.1h.7M279.0 91.9h.7M289.9 75.5h.7M275.2 87.3h.7M277.8 78.2h.7M278.6 66.6h.7M284.5 80.3h.7M276.1 73.9h.7M284.4 93.7h.7M279.1 92.6h.7M287.4 79.5h.7M276.4 95.6h.7M285.1 64.7h.7M276.6 90.2h.7M281.1 86.9h.7M280.4 74.0h.7M279.4 83.5h.7M286.0 98.9h.7M295.6 78.8h.7M284.0 69.5h.7M288.5 80.3h.7M279.2 94.2h.7M278.3 81.6h.7M291.1 91.2h.7M279.8 73.0h.7M283.5 76.1h.7M283.9 74.0h.7M287.5 85.5h.7M292.3 85.3h.7M287.0 84.2h.7M277.1 88.8h.7M283.5 95.6h.7M273.3 83.2h.7M281.5 88.9h.7M280.6 88.7h.7M276.8 85.4h.7M275.2 88.0h.7M282.7 86.1h.7M286.6 88.1h.7M274.0 94.9h.7M289.3 88.1h.7M280.0 78.1h.7M276.2 87.4h.7M289.3 76.8h.7M290.8 75.1h.7M284.3 82.1h.7M274.6 95.1h.7M276.5 86.1h.7M282.6 79.5h.7M278.3 89.5h.7M291.3 76.5h.7M289.8 84.3h.7M289.4 79.8h.7M289.9 96.0h.7M278.6 86.4h.7M286.4 83.0h.7M286.5 78.0h.7" stroke="#444" stroke-width=".7" stroke-opacity=".4" fill="none"/>
<path d="M290.9 87.0h.7M283.0 88.7h.7M296.0 77.6h.7M292.7 81.1h.7M271.9 81.8h.7M282.3 90.3h.7M273.1 79.9h.7M293.1 73.1h.7M288.4 77.8h.7M279.0 67.2h.7M293.0 74.6h.7M283.2 76.0h.7M284.6 76.8h.7M285.3 84.8h.7M303.1 68.5h.7M280.3 80.0h.7M289.0 84.5h.7M284.5 72.4h.7M276.6 84.9h.7M279.1 92.9h.7M282.4 83.8h.7M272.3 92.5h.7M287.2 72.8h.7M279.2 87.6h.7M277.0 82.5h.7M291.1 87.3h.7M289.3 87.4h.7M283.0 80.3h.7M283.0 92.3h.7M283.5 72.1h.7M290.2 76.2h.7M284.4 82.0h.7M280.5 63.9h.7M277.7 77.3h.7M288.4 81.5h.7M283.3 80.7h.7M283.4 89.7h.7M274.4 83.4h.7M293.4 75.7h.7M276.7 83.8h.7M286.6 90.0h.7M287.9 81.8h.7M289.2 92.9h.7M285.0 80.8h.7M286.5 86.2h.7M291.1 89.4h.7M287.9 68.6h.7M284.6 77.1h.7M284.2 79.2h.7M275.0 74.5h.7M290.0 65.9h.7M278.0 70.8h.7M282.8 92.0h.7M286.5 77.9h.7M290.8 89.2h.7M287.1 84.8h.7M284.4 78.1h.7M285.6 78.7h.7M290.8 86.2h.7M276.3 71.6h.7M288.5 82.2h.7M280.4 70.6h.7M287.2 86.5h.7M282.6 77.5h.7M288.8 72.8h.7M296.0 70.2h.7M286.0 77.3h.7M272.1 85.7h.7M290.1 79.9h.7M287.7 76.6h.7M282.0 66.0h.7M277.7 83.6h.7M294.6 70.5h.7M286.3 80.7h.7M287.4 75.7h.7M289.6 69.3h.7M285.3 94.0h.7M286.6 94.1h.7M287.3 80.5h.7M271.2 78.9h.7M280.9 85.9h.7M277.0 80.4h.7M279.0 90.0h.7M276.3 79.6h.7M280.0 91.5h.7M278.9 81.8h.7M276.7 95.2h.7M284.2 74.3h.7" stroke="#444" stroke-width=".7" stroke-opacity=".4" fill="none"/>
<path d="M286.8 76.5h.7M289.2 71.7h.7M295.4 70.0h.7M291.2 73.0h.7M302.2 69.7h.7M289.6 76.5h.7M295.8 69.0h.7M296.0 68.1h.7M290.1 74.7h.7M285.7 77.1h.7M294.7 79.0h.7M299.9 65.7h.7M294.4 78.0h.7M287.9 81.1h.7M298.7 70.3h.7M294.4 72.5h.7M294.0 70.5h.7M284.6 76.9h.7M293.9 71.1h.7M292.9 78.6h.7M285.0 80.2h.7M286.2 76.8h.7M291.5 77.4h.7M292.5 69.9h.7M300.2 73.3h.7M293.3 77.5h.7M297.6 70.2h.7M289.5 74.9h.7M298.3 71.0h.7M282.8 82.6h.7M293.1 74.3h.7M294.0 74.8h.7M295.2 74.8h.7M291.1 78.6h.7M286.6 83.5h.7" stroke="#555" stroke-width=".7" stroke-opacity=".4" fill="none"/>
<path d="M295.4 72.8h.7M284.4 83.7h.7M299.8 71.6h.7M299.5 71.1h.7M290.3 73.6h.7M294.8 74.7h.7M292.3 71.3h.7M290.3 72.7h.7M301.5 68.2h.7M297.4 73.0h.7M299.3 70.5h.7M292.5 71.4h.7M290.7 80.0h.7M284.3 76.2h.7M294.2 73.1h.7M288.2 75.7h.7M295.9 77.6h.7M291.9 74.5h.7M293.2 73.7h.7M294.1 68.6h.7M291.6 72.7h.7M292.9 71.8h.7M297.6 72.9h.7M297.6 75.8h.7M294.9 73.9h.7M292.0 81.0h.7M293.4 68.6h.7M306.5 63.6h.7M291.8 76.4h.7M303.7 68.6h.7M296.9 70.1h.7M291.5 75.9h.7M288.1 75.0h.7M294.7 67.7h.7M295.2 68.6h.7" stroke="#555" stroke-width=".7" stroke-opacity=".4" fill="none"/>
<path d="M303.1 66.0h.7M305.7 64.8h.7M315.1 66.5h.7M309.8 63.4h.7M310.0 69.1h.7M310.5 69.5h.7M309.6 66.6h.7M308.1 64.4h.7M310.0 67.0h.7M311.6 64.6h.7M300.3 71.4h.7M296.1 63.8h.7M308.8 61.2h.7M309.7 65.3h.7M304.4 69.3h.7M318.7 67.3h.7M298.5 66.5h.7M313.2 66.1h.7M305.2 63.1h.7M309.5 65.3h.7M306.8 65.3h.7M299.9 62.8h.7M311.0 64.6h.7M315.7 65.5h.7M313.4 63.2h.7M297.2 69.0h.7M323.8 68.9h.7M311.9 61.9h.7M301.7 65.7h.7M308.4 64.2h.7M307.1 67.6h.7M298.0 63.2h.7M311.0 65.5h.7M306.5 66.9h.7M312.6 64.1h.7M306.4 61.1h.7M309.2 68.9h.7M309.8 67.8h.7M310.0 65.4h.7M306.1 61.2h.7M301.1 65.3h.7M303.8 62.6h.7M305.1 65.0h.7M301.7 67.0h.7M303.2 66.8h.7M315.4 66.1h.7M303.5 64.2h.7M315.8 61.1h.7M306.7 66.4h.7M307.7 67.7h.7M302.6 66.1h.7M314.0 61.6h.7M315.4 65.2h.7M315.0 67.2h.7M304.6 63.0h.7M305.8 64.8h.7M307.5 71.8h.7M308.1 68.1h.7M299.0 67.4h.7M301.7 71.3h.7M305.6 64.8h.7M304.5 63.7h.7M304.7 65.0h.7M312.4 63.7h.7M306.1 70.3h.7M297.4 67.8h.7M309.8 67.0h.7M307.8 62.9h.7M309.1 59.8h.7M307.4 73.1h.7M304.6 67.1h.7M302.6 68.8h.7M308.3 67.2h.7M307.2 65.5h.7M311.0 66.5h.7M303.3 64.9h.7M306.6 68.0h.7M304.2 60.3h.7M310.4 66.0h.7M310.4 62.4h.7M315.8 65.1h.7M311.3 65.4h.7M304.8 63.5h.7M310.2 66.7h.7M302.8 62.4h.7M319.9 69.6h.7M305.6 67.0h.7M307.5 67.2h.7M304.4 65.5h.7M309.2 67.4h.7M299.9 64.2h.7M316.6 66.9h.7M311.7 68.5h.7M304.8 70.7h.7M304.0 61.2h.7M305.1 63.6h.7M305.4 66.4h.7M302.7 64.7h.7M301.9 71.1h.7M308.1 62.3h.7" stroke="#333" stroke-width=".7" stroke-opacity=".4" fill="none"/>
<path d="M314.4 69.8h.7M316.8 63.1h.7M308.0 68.9h.7M300.1 65.6h.7M294.8 69.1h.7M311.4 66.2h.7M304.5 65.3h.7M300.4 61.9h.7M308.0 62.6h.7M297.4 69.7h.7M310.1 64.5h.7M314.7 69.1h.7M305.7 64.9h.7M309.2 61.4h.7M300.4 68.0h.7M300.8 68.8h.7M305.5 68.8h.7M316.2 68.2h.7M319.5 64.5h.7M305.2 61.4h.7M312.3 64.3h.7M307.3 66.2h.7M310.1 66.0h.7M308.2 67.1h.7M305.2 64.9h.7M312.7 65.7h.7M317.3 69.7h.7M314.9 66.7h.7M311.2 68.2h.7M311.2 63.6h.7M300.5 66.6h.7M301.5 65.4h.7M311.9 65.9h.7M306.3 66.0h.7M313.1 62.7h.7M304.9 69.7h.7M300.4 63.0h.7M311.6 61.2h.7M308.1 66.8h.7M302.3 61.8h.7M313.9 63.7h.7M299.1 65.8h.7M302.8 66.9h.7M304.3 67.7h.7M309.6 65.4h.7M303.2 67.4h.7M307.6 66.1h.7M306.2 68.5h.7M314.9 62.4h.7M304.6 61.0h.7M308.4 70.4h.7M312.6 68.0h.7M304.8 66.0h.7M315.8 67.7h.7M316.5 61.7h.7M303.1 64.1h.7M307.2 64.2h.7M303.5 64.5h.7M310.8 69.5h.7M311.8 64.9h.7M301.6 67.6h.7M310.0 65.9h.7M305.1 69.1h.7M307.3 69.2h.7M309.7 67.3h.7M309.2 67.1h.7M305.0 68.0h.7M302.5 66.0h.7M297.4 68.3h.7M300.0 65.0h.7M314.4 69.8h.7M301.6 66.4h.7M303.6 69.1h.7M306.2 62.8h.7M309.7 70.5h.7M307.5 67.8h.7M309.7 61.0h.7M306.1 64.5h.7M307.2 68.9h.7M304.1 66.5h.7M306.7 66.3h.7M308.9 64.5h.7M310.7 64.1h.7M312.3 58.6h.7M306.7 67.7h.7M314.1 66.6h.7M296.9 68.0h.7M302.5 62.7h.7M309.2 64.7h.7M301.8 65.3h.7M311.9 63.7h.7M311.8 65.9h.7M308.0 64.2h.7M306.6 64.4h.7M305.1 66.5h.7M309.5 66.8h.7M302.7 67.9h.7M308.2 64.5h.7M314.9 61.0h.7M309.0 62.2h.7" stroke="#333" stroke-width=".7" stroke-opacity=".4" fill="none"/>
</g>
<line x1="269.2" y1="43" x2="269.2" y2="99.4" stroke="#222" stroke-width="1.4" stroke-dasharray="1 .7 1 .7 1 .7 1 .7 1 .7 1.5 2"/>
<line x1="271.9" y1="100.9" x2="328.09999999999997" y2="100.9" stroke="#222" stroke-width="1.4" stroke-dasharray="1 .7 1 .7 1 .7 1 .7 1 .7 1.5 2"/>
<line x1="269.9" y1="42.5" x2="328.59999999999997" y2="42.5" stroke="#000" stroke-width="1"/>
<line x1="328.09999999999997" y1="42" x2="328.09999999999997" y2="100.2" stroke="#000" stroke-width="1"/>
<line x1="270.75" y1="42" x2="270.75" y2="100.2" stroke="#000" stroke-width="1.7"/>
<line x1="269.9" y1="99.4" x2="328.59999999999997" y2="99.4" stroke="#000" stroke-width="1.5"/>
<rect x="296.2" y="52.2" width="28.8" height="23.0" fill="#c080c8" fill-opacity="0.06" stroke="#8a5a8c" stroke-width="1.05"/>
<text x="311.2" y="50" font-size="7.4" text-anchor="start" fill="#111" font-weight="normal" font-style="normal" >19.0</text>
<clipPath id="c1_5"><rect x="333.2" y="43" width="56" height="55.7"/></clipPath>
<g clip-path="url(#c1_5)">
<ellipse cx="0" cy="0" rx="12.5" ry="9.4" fill="url(#rg)" opacity="0.72" transform="translate(345.5 86.6) rotate(32)"/>
<ellipse cx="0" cy="0" rx="23.2" ry="16.8" fill="url(#rgg)" opacity="0.17" transform="translate(344.5 82.6) rotate(-64)"/>
<ellipse cx="0" cy="0" rx="17.1" ry="7.0" fill="url(#rgg)" opacity="0.2" transform="translate(355.0 73.6) rotate(-37)"/>
<ellipse cx="0" cy="0" rx="13.5" ry="8.3" fill="url(#rgg)" opacity="0.85" transform="translate(367.4 65.2) rotate(0)"/>
<path d="M348.1 89.2h.7M343.5 89.7h.7M343.3 79.5h.7M344.5 88.4h.7M342.6 88.5h.7M337.5 86.6h.7M338.1 84.4h.7M343.9 82.6h.7M341.5 84.5h.7M346.7 83.7h.7M346.7 86.6h.7M340.2 83.8h.7M354.0 93.2h.7M342.5 81.0h.7M346.8 86.4h.7M346.0 84.5h.7M348.6 91.2h.7M341.4 88.3h.7M346.9 81.2h.7M337.5 85.4h.7M343.5 82.3h.7M334.3 82.3h.7M344.3 82.0h.7M341.8 91.0h.7M352.0 87.8h.7M350.7 90.1h.7M343.8 86.7h.7M340.9 84.1h.7M338.5 93.7h.7M346.3 85.4h.7M348.8 90.2h.7M348.6 86.6h.7M345.3 87.9h.7M342.8 81.6h.7M344.8 80.6h.7M341.9 86.5h.7M343.3 84.5h.7M350.5 82.0h.7M344.5 92.7h.7M349.7 87.7h.7M352.1 92.9h.7M343.7 89.1h.7M338.4 81.2h.7M344.1 75.2h.7M334.0 94.2h.7M345.5 87.5h.7M341.5 84.4h.7M354.2 85.9h.7M350.1 88.1h.7M341.5 89.5h.7M344.3 84.9h.7M344.1 82.9h.7M353.6 88.3h.7M355.6 87.2h.7M332.9 82.5h.7M348.0 83.9h.7M348.3 94.5h.7M343.2 85.1h.7M347.3 90.7h.7M347.5 87.1h.7M345.2 93.6h.7M345.7 87.0h.7M344.9 87.0h.7M334.7 78.5h.7M344.8 84.7h.7M349.5 87.2h.7M347.9 90.5h.7M346.3 84.4h.7M335.9 87.0h.7M343.4 82.9h.7M345.8 82.3h.7M341.9 83.2h.7M336.4 82.0h.7M344.0 88.7h.7M345.6 92.6h.7M350.0 86.0h.7M346.7 90.3h.7M343.7 90.3h.7M351.6 85.5h.7M350.2 88.6h.7M343.5 84.2h.7M349.6 86.6h.7M344.9 93.2h.7M341.5 92.9h.7M343.6 91.2h.7M346.3 83.0h.7M332.8 88.2h.7M344.9 80.5h.7M348.8 82.3h.7M344.4 95.0h.7M343.3 89.1h.7M352.3 84.0h.7M351.0 91.8h.7M346.1 84.8h.7M350.1 81.5h.7M346.9 85.4h.7M350.1 87.2h.7M333.9 78.5h.7M347.3 86.6h.7M343.6 89.3h.7M343.3 86.9h.7M343.9 81.8h.7M339.1 88.5h.7M342.3 92.9h.7M340.6 88.3h.7M344.6 88.2h.7M344.8 81.1h.7M348.4 82.5h.7M342.7 87.9h.7M338.5 78.4h.7M343.9 86.2h.7M335.7 85.4h.7M338.7 81.6h.7M353.4 87.5h.7M346.6 92.4h.7M345.0 86.5h.7M345.6 86.9h.7M343.4 89.7h.7M354.0 89.4h.7M348.8 87.4h.7M347.8 94.0h.7M339.7 85.3h.7M340.5 81.6h.7M344.3 87.3h.7M352.0 81.7h.7M347.5 90.2h.7M349.1 80.8h.7M345.1 91.6h.7M344.0 87.5h.7M347.9 89.5h.7M336.8 83.5h.7M342.8 85.5h.7M349.2 89.1h.7M348.2 88.6h.7M347.5 87.3h.7M352.3 91.3h.7M341.5 85.0h.7M340.5 87.7h.7M346.2 82.0h.7M357.1 86.6h.7" stroke="#000" stroke-width=".7" stroke-opacity=".4" fill="none"/>
<path d="M353.0 92.8h.7M343.5 85.7h.7M348.2 79.5h.7M346.0 80.8h.7M350.3 93.7h.7M343.4 89.0h.7M348.6 84.9h.7M350.4 82.7h.7M344.1 94.3h.7M348.1 88.5h.7M347.5 82.6h.7M340.6 88.2h.7M347.5 88.3h.7M347.9 81.6h.7M348.8 87.5h.7M337.9 83.6h.7M351.6 84.2h.7M343.5 95.9h.7M343.1 92.0h.7M339.4 91.3h.7M338.0 82.2h.7M355.1 89.1h.7M347.0 85.2h.7M347.4 83.7h.7M347.7 87.6h.7M344.0 89.0h.7M352.7 84.2h.7M343.3 91.0h.7M352.5 86.5h.7M348.5 89.8h.7M354.0 87.8h.7M345.7 87.5h.7M341.8 85.2h.7M342.4 84.0h.7M344.4 82.1h.7M350.4 88.8h.7M351.4 81.8h.7M342.7 86.2h.7M347.7 86.9h.7M342.0 90.1h.7M340.3 92.7h.7M350.8 96.8h.7M350.7 89.6h.7M347.4 86.3h.7M334.5 82.0h.7M348.8 86.3h.7M336.2 80.3h.7M345.1 93.7h.7M348.7 86.3h.7M346.1 92.8h.7M347.0 86.2h.7M346.6 88.1h.7M337.8 86.6h.7M342.0 85.2h.7M344.7 80.7h.7M337.3 82.1h.7M351.0 88.6h.7M349.8 85.6h.7M341.5 83.5h.7M345.0 84.5h.7M351.5 81.8h.7M345.7 81.4h.7M342.5 87.1h.7M345.9 88.2h.7M346.3 90.9h.7M343.4 90.2h.7M344.3 83.1h.7M350.6 91.0h.7M351.4 91.8h.7M349.8 91.4h.7M338.8 86.1h.7M347.5 91.0h.7M351.2 87.7h.7M340.5 80.8h.7M350.0 87.6h.7M340.3 79.1h.7M347.1 86.8h.7M345.3 81.1h.7M347.2 87.0h.7M350.9 88.6h.7M348.4 84.1h.7M341.4 82.4h.7M348.9 87.4h.7M344.3 86.3h.7M346.3 85.0h.7M340.8 85.0h.7M354.3 84.3h.7M346.3 87.6h.7M342.8 83.6h.7M344.6 86.2h.7M356.8 93.5h.7M350.2 87.7h.7M348.4 80.9h.7M347.5 87.2h.7M342.2 85.6h.7M345.4 86.8h.7M346.6 79.9h.7M347.1 78.2h.7M345.5 83.8h.7M347.1 86.9h.7M350.8 87.7h.7M345.9 83.2h.7M342.7 78.2h.7M345.0 81.5h.7M347.3 87.8h.7M352.3 90.0h.7M347.5 93.0h.7M346.3 91.7h.7M350.9 94.0h.7M347.2 89.6h.7M343.7 90.8h.7M339.8 82.8h.7M345.4 86.7h.7M347.0 88.3h.7M346.1 87.3h.7M345.3 90.3h.7M345.3 89.4h.7M343.0 88.7h.7M345.1 82.0h.7M349.5 85.0h.7M347.3 85.8h.7M348.4 89.5h.7M341.2 81.7h.7M354.0 89.2h.7M352.3 91.2h.7M348.2 94.5h.7M337.7 91.0h.7M344.0 83.8h.7M346.3 84.4h.7M341.4 81.4h.7M345.5 84.0h.7M345.6 88.8h.7M350.5 84.0h.7M340.9 83.0h.7M339.9 83.2h.7M345.9 91.8h.7M349.8 86.3h.7M352.6 78.5h.7M344.2 80.9h.7M345.7 83.9h.7" stroke="#000" stroke-width=".7" stroke-opacity=".4" fill="none"/>
<path d="M337.7 81.0h.7M346.5 94.7h.7M341.5 70.8h.7M346.2 76.0h.7M351.6 77.2h.7M336.0 87.1h.7M341.8 83.7h.7M339.7 92.0h.7M345.4 83.5h.7M343.2 90.5h.7M346.3 89.6h.7M351.9 78.5h.7M338.6 75.8h.7M361.7 82.0h.7M355.1 84.9h.7M348.4 77.8h.7M347.9 81.1h.7M350.9 84.5h.7M345.4 78.4h.7M347.6 73.1h.7M344.3 87.4h.7M351.8 94.8h.7M349.2 88.8h.7M333.8 75.5h.7M358.0 83.7h.7M350.0 88.4h.7M340.7 84.6h.7M339.7 98.6h.7M347.1 81.5h.7M344.0 96.3h.7M350.6 86.3h.7M346.7 88.1h.7M342.1 81.0h.7M348.9 78.6h.7M347.3 82.8h.7M351.0 79.3h.7M335.8 84.2h.7M338.6 86.8h.7M346.9 84.5h.7M332.5 69.9h.7M353.3 90.2h.7M354.0 79.4h.7M351.1 88.8h.7M345.5 82.4h.7M343.2 99.4h.7M351.7 74.0h.7M336.9 77.8h.7M348.2 85.3h.7M348.7 85.2h.7M339.1 80.7h.7M352.8 81.3h.7M347.9 73.2h.7M344.2 92.5h.7M345.3 72.7h.7M352.3 65.1h.7M353.4 84.9h.7M341.8 76.7h.7M348.1 88.1h.7M341.7 81.5h.7M354.3 81.9h.7M343.0 92.1h.7M351.0 80.7h.7M336.6 84.5h.7M346.0 83.2h.7M339.8 76.1h.7M349.4 71.5h.7M351.8 74.6h.7M357.0 71.3h.7M351.2 85.4h.7M353.2 92.9h.7M352.7 84.2h.7M346.9 79.2h.7M342.5 87.3h.7M338.9 74.4h.7M357.1 86.4h.7M341.6 83.6h.7M353.2 78.9h.7M339.7 94.8h.7M343.3 91.4h.7M348.9 89.2h.7M343.5 86.2h.7" stroke="#444" stroke-width=".7" stroke-opacity=".4" fill="none"/>
<path d="M345.9 96.4h.7M337.1 85.4h.7M370.3 72.8h.7M340.5 75.4h.7M343.5 84.4h.7M343.3 86.6h.7M348.1 89.4h.7M337.7 83.1h.7M339.6 96.4h.7M348.2 81.6h.7M338.9 89.1h.7M347.5 75.1h.7M335.5 83.0h.7M337.5 93.2h.7M340.7 88.6h.7M343.4 92.3h.7M347.6 95.9h.7M346.8 69.2h.7M349.6 76.1h.7M350.7 74.8h.7M342.3 83.3h.7M341.2 84.4h.7M343.1 73.3h.7M353.5 76.7h.7M347.1 87.0h.7M337.7 80.1h.7M342.8 73.1h.7M359.2 71.2h.7M338.6 90.2h.7M347.7 79.1h.7M350.4 75.0h.7M332.3 84.7h.7M345.6 82.2h.7M344.5 74.0h.7M348.1 77.4h.7M350.7 84.5h.7M344.1 80.6h.7M352.0 86.6h.7M349.7 70.0h.7M349.7 83.1h.7M358.2 75.2h.7M345.1 73.1h.7M348.1 85.4h.7M334.7 74.2h.7M349.9 79.9h.7M354.0 89.1h.7M343.9 82.2h.7M345.6 72.4h.7M342.9 80.3h.7M347.0 71.9h.7M340.0 81.0h.7M339.4 90.6h.7M341.6 79.5h.7M333.6 88.1h.7M340.8 94.0h.7M340.5 78.9h.7M339.6 82.9h.7M341.2 88.6h.7M349.4 78.8h.7M358.1 81.0h.7M334.6 90.1h.7M346.9 69.8h.7M345.6 88.5h.7M336.2 87.0h.7M352.0 76.7h.7M347.7 92.5h.7M355.1 73.2h.7M341.6 72.9h.7M352.0 82.3h.7M348.0 82.7h.7M350.1 92.0h.7M336.7 73.1h.7M346.9 74.9h.7M344.3 81.7h.7M353.8 76.5h.7M340.6 81.4h.7M342.4 83.8h.7M354.4 71.7h.7M343.3 78.1h.7M351.2 75.1h.7M342.6 74.3h.7M343.4 77.2h.7M343.1 80.5h.7M343.2 97.1h.7" stroke="#444" stroke-width=".7" stroke-opacity=".4" fill="none"/>
<path d="M355.3 72.4h.7M346.9 78.8h.7M354.0 72.6h.7M349.0 75.4h.7M349.8 79.3h.7M372.6 66.1h.7M360.9 75.5h.7M350.6 72.5h.7M358.5 68.1h.7M354.8 77.0h.7M360.9 66.8h.7M356.5 71.9h.7M348.7 76.4h.7M352.6 72.4h.7M359.3 70.6h.7M353.6 75.4h.7M355.4 70.3h.7M365.0 69.9h.7M362.6 67.9h.7M349.8 74.1h.7M354.7 74.2h.7M353.8 73.3h.7M350.9 78.7h.7M353.7 73.5h.7M360.1 75.2h.7M358.4 64.1h.7M359.5 65.8h.7M357.2 75.0h.7M355.9 70.5h.7M359.5 72.1h.7M351.6 78.0h.7M351.0 73.4h.7M353.9 78.1h.7M359.0 74.4h.7M367.0 69.5h.7M362.6 70.5h.7M346.9 80.8h.7M349.5 79.0h.7M356.1 74.6h.7M354.7 72.9h.7M359.2 70.0h.7M350.6 75.6h.7M353.8 71.7h.7M353.4 69.9h.7M357.4 73.4h.7M352.4 72.6h.7M355.1 75.6h.7M351.3 74.6h.7M348.2 79.4h.7M359.4 72.8h.7M353.5 73.4h.7M351.3 77.9h.7M355.7 74.8h.7M368.6 63.6h.7M355.6 72.6h.7M360.3 67.4h.7M352.3 76.0h.7M363.0 73.5h.7M353.0 78.8h.7M357.0 76.9h.7M360.6 72.2h.7M356.0 75.0h.7M355.9 77.6h.7M353.3 70.9h.7M360.1 69.5h.7" stroke="#333" stroke-width=".7" stroke-opacity=".4" fill="none"/>
<path d="M352.8 70.6h.7M351.5 75.3h.7M351.1 81.7h.7M353.4 70.9h.7M360.1 71.1h.7M361.7 67.2h.7M353.0 80.5h.7M354.8 71.2h.7M355.5 67.2h.7M353.6 75.4h.7M348.1 77.8h.7M349.7 80.4h.7M354.8 76.0h.7M365.9 64.7h.7M352.4 74.9h.7M341.2 81.4h.7M352.9 82.1h.7M356.3 71.9h.7M350.6 78.3h.7M362.9 64.0h.7M356.4 68.2h.7M365.5 70.8h.7M358.6 71.2h.7M346.6 76.4h.7M365.1 66.6h.7M353.6 70.5h.7M349.4 73.4h.7M350.0 82.1h.7M356.9 72.5h.7M366.9 70.4h.7M359.2 68.1h.7M341.6 83.3h.7M352.0 75.6h.7M356.8 69.3h.7M362.4 74.4h.7M357.6 74.1h.7M349.7 77.9h.7M352.4 82.9h.7M350.1 75.5h.7M352.7 72.2h.7M350.6 77.3h.7M352.3 72.3h.7M348.2 78.6h.7M352.9 75.4h.7M356.4 74.7h.7M358.4 70.4h.7M360.1 74.5h.7M358.1 67.4h.7M351.7 72.6h.7M360.0 69.7h.7M356.7 66.3h.7M350.8 75.8h.7M352.5 71.5h.7M364.3 62.8h.7M365.3 74.1h.7M350.7 73.7h.7M350.8 75.2h.7M345.0 76.4h.7M353.3 80.6h.7M350.4 75.3h.7M345.0 78.5h.7M351.6 81.0h.7M357.2 72.6h.7M359.7 73.3h.7M349.6 75.5h.7" stroke="#333" stroke-width=".7" stroke-opacity=".4" fill="none"/>
<path d="M365.9 65.2h.7M365.0 67.3h.7M370.1 62.6h.7M367.8 66.0h.7M366.5 65.0h.7M363.3 61.6h.7M366.6 65.1h.7M368.4 64.5h.7M368.5 68.4h.7M369.0 70.1h.7M361.3 61.8h.7M365.3 62.3h.7M368.0 60.9h.7M379.9 63.7h.7M363.1 59.7h.7M360.1 68.7h.7M368.3 64.6h.7M375.6 68.7h.7M367.8 66.9h.7M361.5 67.5h.7M360.9 65.0h.7M366.5 63.8h.7M367.9 61.2h.7M372.8 67.4h.7M370.9 70.1h.7M369.5 63.6h.7M366.6 61.7h.7M363.2 67.3h.7M366.1 62.3h.7M380.7 65.8h.7M370.8 64.6h.7M373.2 70.3h.7M366.6 69.0h.7M372.1 63.2h.7M372.2 67.7h.7M363.1 64.4h.7M373.4 62.8h.7M364.7 59.6h.7M366.2 68.7h.7M367.1 59.8h.7M363.2 67.8h.7M372.3 70.5h.7M376.2 57.7h.7M380.0 67.1h.7M367.6 63.3h.7M370.9 67.3h.7M362.6 69.5h.7M369.2 63.6h.7M361.6 63.6h.7M368.0 67.3h.7M368.2 61.0h.7M370.9 62.1h.7M365.6 62.1h.7M370.2 67.3h.7M363.0 62.2h.7M361.5 65.7h.7M363.4 65.0h.7M368.4 67.4h.7M373.6 61.6h.7M379.5 65.6h.7M361.4 64.8h.7M373.5 62.8h.7M370.7 63.4h.7M368.9 64.4h.7M369.9 60.6h.7M372.9 55.5h.7M366.7 60.5h.7M363.8 65.1h.7M372.0 61.1h.7M360.5 63.1h.7M370.9 64.8h.7M367.1 71.2h.7M370.5 59.0h.7M363.5 67.7h.7M366.3 63.8h.7M375.0 68.9h.7M365.9 63.3h.7M365.4 65.0h.7M360.4 62.8h.7M363.5 69.9h.7M367.7 68.8h.7M364.7 65.7h.7M367.4 59.5h.7M374.6 65.0h.7M366.6 73.2h.7M364.4 69.5h.7M374.0 74.1h.7M368.9 64.0h.7M368.7 60.5h.7M366.6 69.5h.7M360.7 64.2h.7M366.9 67.2h.7M369.8 64.4h.7M376.9 58.5h.7M371.0 66.2h.7M367.3 68.8h.7M370.7 67.2h.7M374.8 68.7h.7M370.8 59.4h.7M368.3 64.0h.7M369.5 72.2h.7M373.6 67.8h.7M365.6 63.1h.7M372.5 61.9h.7M377.5 67.7h.7M362.3 63.2h.7M366.3 69.0h.7M357.0 64.4h.7M360.5 65.0h.7M359.5 64.9h.7M369.1 60.5h.7M365.5 68.0h.7M375.9 65.1h.7M370.1 64.3h.7M359.8 69.8h.7M373.2 69.8h.7M359.2 66.4h.7M367.7 63.2h.7M368.8 68.0h.7M372.5 68.6h.7M365.6 62.6h.7M367.7 58.6h.7M366.4 63.5h.7M365.8 64.9h.7M370.3 65.0h.7M375.9 64.2h.7M369.1 67.3h.7M370.3 66.2h.7M368.5 62.7h.7M370.6 67.6h.7M369.0 61.3h.7M369.7 65.6h.7M367.7 63.1h.7M372.2 61.2h.7M373.1 66.1h.7M365.9 60.4h.7M362.3 61.4h.7M371.3 63.4h.7M374.1 63.1h.7M366.1 65.3h.7M364.7 68.0h.7M367.2 58.5h.7M371.8 67.9h.7M365.0 66.5h.7M364.7 62.8h.7M358.4 69.0h.7M359.5 62.9h.7M361.3 63.1h.7M365.1 60.3h.7M358.5 65.7h.7" stroke="#111" stroke-width=".7" stroke-opacity=".4" fill="none"/>
<path d="M372.5 62.4h.7M372.1 72.1h.7M362.1 62.8h.7M367.1 63.3h.7M370.5 65.5h.7M375.0 64.9h.7M373.2 64.2h.7M370.4 62.1h.7M373.5 67.1h.7M371.1 69.5h.7M371.5 64.4h.7M375.0 61.5h.7M366.6 72.2h.7M362.3 70.3h.7M369.2 61.9h.7M363.7 61.9h.7M373.2 65.5h.7M376.5 68.7h.7M367.6 60.4h.7M355.4 62.6h.7M362.2 66.0h.7M363.2 58.3h.7M366.0 66.4h.7M375.0 60.8h.7M369.5 61.8h.7M364.2 68.5h.7M364.0 71.3h.7M368.4 68.8h.7M364.2 62.0h.7M365.9 69.1h.7M370.6 66.0h.7M365.9 65.1h.7M369.4 67.6h.7M368.1 69.5h.7M366.1 64.1h.7M367.2 60.8h.7M368.8 67.1h.7M372.4 66.5h.7M372.0 62.3h.7M366.2 69.6h.7M359.8 64.3h.7M369.8 67.6h.7M358.8 71.1h.7M367.8 66.0h.7M367.4 64.8h.7M372.5 67.0h.7M353.9 65.6h.7M377.0 61.8h.7M369.6 67.7h.7M363.9 63.3h.7M368.4 64.0h.7M364.8 63.5h.7M366.2 61.0h.7M367.4 64.6h.7M366.4 62.4h.7M367.4 64.0h.7M364.0 63.9h.7M371.3 63.3h.7M366.6 69.2h.7M365.7 64.1h.7M365.3 62.9h.7M376.0 67.8h.7M364.9 59.0h.7M369.4 63.1h.7M356.5 66.7h.7M374.0 64.1h.7M362.5 67.4h.7M366.7 71.4h.7M365.1 61.7h.7M373.0 65.4h.7M365.4 65.5h.7M376.5 66.4h.7M366.9 72.6h.7M373.6 64.0h.7M371.5 65.3h.7M367.4 73.2h.7M366.3 62.5h.7M371.9 60.3h.7M365.9 66.6h.7M364.8 64.5h.7M369.0 65.3h.7M369.5 64.1h.7M364.8 68.9h.7M356.6 70.9h.7M365.4 68.3h.7M373.3 61.9h.7M366.3 61.5h.7M360.0 62.0h.7M372.9 66.6h.7M362.8 67.3h.7M370.7 63.5h.7M375.1 69.2h.7M360.2 70.5h.7M371.8 65.1h.7M366.5 65.2h.7M366.1 63.5h.7M369.6 66.1h.7M368.5 64.5h.7M364.8 63.0h.7M379.8 67.5h.7M367.4 64.2h.7M372.1 69.0h.7M363.8 65.5h.7M364.8 61.0h.7M368.5 61.4h.7M367.6 61.3h.7M367.5 65.5h.7M366.7 63.0h.7M362.3 63.5h.7M372.0 62.6h.7M370.3 66.9h.7M363.1 65.3h.7M361.8 68.8h.7M358.4 59.3h.7M368.9 62.5h.7M363.2 66.7h.7M376.5 60.8h.7M367.0 65.5h.7M370.0 68.5h.7M364.1 66.5h.7M377.2 66.1h.7M366.3 67.6h.7M374.8 64.2h.7M366.3 68.5h.7M365.6 64.5h.7M370.7 60.3h.7M373.8 66.2h.7M372.8 71.6h.7M370.4 64.9h.7M368.2 63.8h.7M368.8 62.4h.7M366.4 61.4h.7M366.7 67.4h.7M372.1 69.5h.7M367.0 70.6h.7M367.9 66.1h.7M377.3 65.6h.7M359.9 64.6h.7M358.5 64.7h.7M362.3 64.2h.7M368.2 67.9h.7M357.7 66.9h.7M367.1 59.6h.7M374.3 64.1h.7M372.5 67.9h.7M362.9 60.6h.7M379.0 73.2h.7M368.2 66.5h.7M365.4 63.1h.7M360.2 59.8h.7" stroke="#111" stroke-width=".7" stroke-opacity=".4" fill="none"/>
</g>
<line x1="330.8" y1="43" x2="330.8" y2="99.4" stroke="#222" stroke-width="1.4" stroke-dasharray="1 .7 1 .7 1 .7 1 .7 1 .7 1.5 2"/>
<line x1="333.5" y1="100.9" x2="389.7" y2="100.9" stroke="#222" stroke-width="1.4" stroke-dasharray="1 .7 1 .7 1 .7 1 .7 1 .7 1.5 2"/>
<line x1="331.5" y1="42.5" x2="390.2" y2="42.5" stroke="#000" stroke-width="1"/>
<line x1="389.7" y1="42" x2="389.7" y2="100.2" stroke="#000" stroke-width="1"/>
<line x1="332.35" y1="42" x2="332.35" y2="100.2" stroke="#000" stroke-width="1.7"/>
<line x1="331.5" y1="99.4" x2="390.2" y2="99.4" stroke="#000" stroke-width="1.5"/>
<rect x="357.8" y="52.2" width="28.8" height="23.0" fill="#c080c8" fill-opacity="0.06" stroke="#8a5a8c" stroke-width="1.05"/>
<text x="372.8" y="50" font-size="7.4" text-anchor="start" fill="#111" font-weight="normal" font-style="normal" >42.1</text>
<clipPath id="c1_6"><rect x="394.8" y="43" width="56" height="55.7"/></clipPath>
<g clip-path="url(#c1_6)">
<ellipse cx="0" cy="0" rx="13.9" ry="10.6" fill="url(#rg)" opacity="0.62" transform="translate(404.6 86.6) rotate(56)"/>
<ellipse cx="0" cy="0" rx="25.5" ry="17.1" fill="url(#rgg)" opacity="0.17" transform="translate(403.6 82.6) rotate(-71)"/>
<ellipse cx="0" cy="0" rx="17.1" ry="7.0" fill="url(#rgg)" opacity="0.2" transform="translate(414.1 73.6) rotate(-37)"/>
<ellipse cx="0" cy="0" rx="13.5" ry="8.6" fill="url(#rgg)" opacity="0.8" transform="translate(429.0 64.9) rotate(0)"/>
<path d="M411.2 92.9h.7M402.9 85.7h.7M405.8 85.5h.7M411.7 95.4h.7M405.2 89.4h.7M401.8 74.8h.7M398.7 88.1h.7M407.0 87.6h.7M402.9 91.8h.7M409.8 92.7h.7M400.3 86.0h.7M405.4 88.5h.7M405.0 84.4h.7M411.6 87.5h.7M399.5 87.5h.7M408.6 90.4h.7M397.1 84.2h.7M399.4 90.3h.7M407.5 87.7h.7M404.5 85.6h.7M415.0 85.9h.7M409.2 86.0h.7M405.9 80.1h.7M409.3 90.9h.7M407.1 93.0h.7M409.5 76.8h.7M400.2 88.0h.7M404.1 89.4h.7M408.7 83.3h.7M403.4 81.1h.7M401.4 94.1h.7M402.1 90.2h.7M408.8 87.6h.7M398.9 84.0h.7M397.0 85.2h.7M402.7 80.3h.7M407.2 88.5h.7M407.8 91.4h.7M405.0 90.1h.7M411.7 89.2h.7M404.0 86.8h.7M397.2 97.9h.7M407.6 79.4h.7M405.8 84.9h.7M399.7 85.5h.7M400.2 88.5h.7M401.9 85.5h.7M406.4 92.3h.7M403.8 94.9h.7M407.9 87.9h.7M410.0 92.4h.7M405.1 85.3h.7M407.0 89.8h.7M407.1 90.2h.7M404.7 81.2h.7M405.5 90.4h.7M400.1 82.1h.7M402.0 92.5h.7M402.1 86.1h.7M408.1 81.5h.7M394.6 76.4h.7M412.7 95.5h.7M410.7 85.4h.7M404.4 80.0h.7M404.4 81.2h.7M404.3 90.3h.7M404.5 77.7h.7M400.7 87.4h.7M402.5 93.3h.7M401.5 78.1h.7M403.8 82.2h.7M410.9 96.6h.7M400.6 89.6h.7M410.5 90.8h.7M397.5 90.4h.7M410.3 88.9h.7M404.2 86.4h.7M405.9 85.7h.7M396.2 82.1h.7M400.4 75.7h.7M400.3 95.3h.7M404.7 81.8h.7M409.8 90.2h.7M401.2 91.2h.7M400.5 76.0h.7M396.0 85.2h.7M399.5 89.6h.7M397.3 84.4h.7M400.2 89.5h.7M400.3 82.6h.7M401.2 91.6h.7M403.8 92.6h.7M404.6 79.8h.7M397.0 85.3h.7M406.5 84.3h.7M406.8 82.5h.7M402.3 88.5h.7M408.0 88.8h.7M403.0 92.3h.7M407.0 87.0h.7M401.1 87.0h.7M405.5 87.3h.7M407.8 91.3h.7M416.7 87.2h.7M408.8 92.7h.7M406.3 89.3h.7M404.7 84.8h.7M403.9 77.8h.7M402.9 68.9h.7M400.7 93.3h.7M401.9 93.1h.7M407.4 83.5h.7M412.0 87.2h.7M414.3 83.5h.7M410.1 88.4h.7M408.5 87.5h.7M399.6 91.7h.7M402.6 86.2h.7M398.9 85.9h.7M399.5 86.0h.7M400.6 92.7h.7M397.7 91.9h.7M401.5 88.8h.7M410.1 89.4h.7M409.1 83.9h.7M403.1 78.3h.7M410.2 80.3h.7M399.2 85.1h.7M407.0 85.6h.7M399.9 81.7h.7M402.7 81.9h.7M395.2 71.2h.7M409.0 84.2h.7M408.0 84.5h.7M403.4 77.2h.7M401.8 89.1h.7M417.2 95.5h.7M402.2 82.8h.7" stroke="#000" stroke-width=".7" stroke-opacity=".4" fill="none"/>
<path d="M410.9 88.9h.7M398.8 88.5h.7M396.6 83.9h.7M408.4 86.0h.7M405.5 91.8h.7M394.2 79.4h.7M409.3 87.9h.7M405.4 84.6h.7M403.5 86.1h.7M403.0 87.3h.7M406.0 87.0h.7M400.5 84.3h.7M401.9 83.6h.7M400.4 89.7h.7M409.1 87.5h.7M407.4 80.1h.7M406.5 93.5h.7M406.5 91.1h.7M406.0 85.5h.7M398.1 78.7h.7M405.3 85.8h.7M405.0 84.0h.7M399.2 80.5h.7M408.0 86.8h.7M402.3 81.4h.7M405.9 88.3h.7M408.0 84.8h.7M412.3 82.6h.7M404.8 92.9h.7M410.8 90.1h.7M415.4 86.4h.7M407.2 95.4h.7M410.1 85.0h.7M408.0 91.5h.7M409.0 87.2h.7M410.3 90.6h.7M397.9 76.4h.7M400.1 82.6h.7M401.3 90.4h.7M399.9 93.2h.7M399.3 85.4h.7M404.7 87.4h.7M414.6 86.3h.7M410.5 93.2h.7M405.5 85.9h.7M407.1 87.2h.7M399.3 94.7h.7M401.4 94.5h.7M413.8 80.6h.7M401.5 86.1h.7M404.0 80.1h.7M414.0 93.7h.7M416.7 86.7h.7M406.9 93.6h.7M405.4 81.0h.7M406.0 86.5h.7M404.5 81.4h.7M410.3 86.6h.7M405.9 82.8h.7M414.0 93.5h.7M410.4 86.1h.7M404.9 88.6h.7M408.7 92.1h.7M409.0 83.1h.7M400.1 87.4h.7M406.3 77.2h.7M404.7 87.2h.7M397.6 98.5h.7M405.2 77.4h.7M401.3 87.2h.7M400.9 84.9h.7M403.2 78.9h.7M407.0 87.5h.7M401.4 85.2h.7M415.8 92.5h.7M401.6 81.0h.7M397.8 75.8h.7M410.8 94.3h.7M407.6 75.3h.7M396.8 83.2h.7M398.1 81.6h.7M404.2 81.8h.7M400.9 89.9h.7M404.1 90.4h.7M411.6 99.6h.7M403.7 86.9h.7M415.2 96.8h.7M407.9 88.2h.7M407.0 92.2h.7M402.5 80.6h.7M410.3 91.7h.7M408.5 85.9h.7M404.3 86.1h.7M399.5 86.8h.7M402.4 79.6h.7M407.9 85.9h.7M397.0 92.9h.7M405.0 89.6h.7M400.3 76.4h.7M407.6 90.1h.7M399.9 91.2h.7M398.9 88.4h.7M411.6 81.8h.7M410.3 83.8h.7M403.9 85.7h.7M404.5 86.9h.7M401.5 82.6h.7M408.8 86.9h.7M400.2 87.7h.7M409.6 87.4h.7M397.5 88.7h.7M402.2 77.2h.7M400.2 84.4h.7M404.5 86.7h.7M405.3 86.4h.7M401.5 79.3h.7M408.3 80.5h.7M406.3 81.8h.7M404.0 78.6h.7M399.8 90.4h.7M411.9 85.5h.7M399.0 87.7h.7M406.1 86.2h.7M411.8 88.5h.7M402.6 87.2h.7M404.0 83.1h.7M401.2 89.9h.7M396.0 74.7h.7M405.2 82.1h.7M404.4 82.4h.7M405.7 81.4h.7M404.5 87.0h.7M399.5 77.9h.7M409.1 87.5h.7M401.5 89.6h.7M397.2 89.5h.7M406.1 81.0h.7M405.4 77.0h.7" stroke="#000" stroke-width=".7" stroke-opacity=".4" fill="none"/>
<path d="M397.5 92.0h.7M409.6 70.0h.7M403.8 83.2h.7M407.1 92.0h.7M403.2 74.1h.7M402.3 84.7h.7M394.3 79.0h.7M422.0 77.7h.7M416.0 67.6h.7M398.4 77.7h.7M412.7 92.6h.7M406.8 82.5h.7M407.6 79.2h.7M399.4 77.4h.7M412.5 82.9h.7M413.5 83.3h.7M402.1 78.0h.7M409.2 85.2h.7M403.8 69.4h.7M399.0 75.2h.7M401.4 92.3h.7M399.4 92.1h.7M396.0 98.0h.7M401.6 95.1h.7M399.1 84.6h.7M404.5 88.8h.7M414.7 67.1h.7M399.1 85.8h.7M409.5 85.6h.7M401.0 93.6h.7M403.2 89.7h.7M413.9 73.4h.7M411.5 85.4h.7M412.3 87.8h.7M394.5 82.9h.7M400.0 67.5h.7M394.7 82.3h.7M399.7 85.7h.7M402.9 67.8h.7M409.5 83.4h.7M403.9 84.7h.7M396.1 82.6h.7M398.3 83.1h.7M407.7 88.8h.7M409.5 93.4h.7M419.9 87.5h.7M403.9 71.9h.7M400.8 63.8h.7M395.9 89.5h.7M403.5 84.9h.7M409.0 77.4h.7M400.9 74.4h.7M403.3 85.5h.7M405.8 69.8h.7M409.8 76.7h.7M402.7 81.2h.7M404.7 86.1h.7M414.3 90.0h.7M402.9 73.2h.7M413.8 81.1h.7M407.8 65.3h.7M415.6 94.3h.7M408.5 92.4h.7M402.1 93.5h.7M417.3 71.6h.7M408.4 82.8h.7M399.6 77.3h.7M409.9 67.6h.7M419.5 75.3h.7M405.3 80.4h.7M407.5 95.8h.7M424.5 57.7h.7M406.1 71.9h.7M402.6 79.3h.7M400.8 87.7h.7M400.4 84.3h.7M406.7 79.8h.7M406.7 93.8h.7M406.8 91.1h.7M403.8 90.8h.7M395.3 86.9h.7M414.2 90.0h.7M401.4 84.2h.7M403.9 76.4h.7" stroke="#444" stroke-width=".7" stroke-opacity=".4" fill="none"/>
<path d="M404.6 89.1h.7M394.1 90.1h.7M397.9 93.9h.7M401.1 89.8h.7M403.0 67.5h.7M408.5 71.2h.7M398.3 78.1h.7M402.8 82.1h.7M401.6 89.8h.7M402.6 94.1h.7M402.0 91.8h.7M401.7 78.7h.7M403.0 77.9h.7M418.2 86.0h.7M401.6 85.0h.7M414.6 64.8h.7M396.4 79.5h.7M395.8 63.8h.7M399.7 87.6h.7M406.6 91.3h.7M404.1 77.9h.7M397.2 73.7h.7M401.6 91.0h.7M405.4 73.1h.7M408.1 97.8h.7M413.8 83.7h.7M401.5 68.4h.7M401.8 81.5h.7M397.0 85.2h.7M404.1 77.9h.7M407.9 75.3h.7M403.4 93.6h.7M416.3 80.0h.7M409.1 71.5h.7M408.7 92.1h.7M406.4 85.9h.7M402.5 83.3h.7M405.6 83.6h.7M407.5 90.2h.7M408.0 75.4h.7M412.4 86.3h.7M406.7 78.3h.7M414.5 68.1h.7M407.6 73.9h.7M404.7 87.1h.7M408.9 86.2h.7M405.8 79.7h.7M399.5 70.1h.7M399.1 69.7h.7M411.6 84.6h.7M406.6 90.4h.7M408.4 75.8h.7M399.7 71.6h.7M394.4 73.6h.7M402.0 79.6h.7M402.1 71.3h.7M403.6 71.1h.7M401.6 79.6h.7M395.4 89.1h.7M401.4 81.0h.7M411.2 89.1h.7M402.0 78.1h.7M411.1 60.7h.7M396.0 95.5h.7M399.9 85.2h.7M402.9 76.5h.7M396.8 75.2h.7M394.4 81.9h.7M408.6 70.0h.7M405.3 79.9h.7M403.1 83.0h.7M398.0 86.6h.7M415.1 87.2h.7M402.4 86.3h.7" stroke="#444" stroke-width=".7" stroke-opacity=".4" fill="none"/>
<path d="M411.3 78.7h.7M425.4 57.8h.7M419.6 74.1h.7M415.8 73.0h.7M407.1 76.1h.7M408.0 81.0h.7M416.7 75.4h.7M409.7 79.8h.7M411.9 71.5h.7M420.2 72.6h.7M412.8 71.1h.7M411.9 70.9h.7M414.4 78.3h.7M418.0 69.8h.7M425.4 66.0h.7M407.0 78.8h.7M417.2 70.5h.7M416.3 74.7h.7M410.1 73.7h.7M413.2 72.9h.7M419.8 75.6h.7M408.2 80.3h.7M428.0 63.8h.7M414.5 70.8h.7M415.5 71.6h.7M409.4 74.5h.7M412.8 70.9h.7M415.0 73.4h.7M416.3 69.3h.7M407.4 79.3h.7M411.5 81.6h.7M409.4 78.2h.7M410.1 78.9h.7M414.0 69.8h.7M410.5 74.7h.7M411.8 76.5h.7M416.1 71.6h.7M407.6 79.7h.7M417.5 72.4h.7M414.2 70.3h.7M403.0 77.0h.7M409.8 69.5h.7M420.2 73.0h.7M413.1 76.2h.7M411.2 68.3h.7M415.6 70.4h.7M412.8 74.6h.7M403.1 81.6h.7M414.5 73.4h.7M424.6 69.7h.7M413.4 77.1h.7M418.0 75.6h.7M416.7 71.9h.7M409.9 78.8h.7M407.2 75.5h.7M403.3 82.1h.7M418.8 72.2h.7M408.0 80.0h.7M413.0 72.8h.7M413.6 77.8h.7M410.2 77.7h.7M419.1 70.7h.7M417.6 69.3h.7M409.9 75.3h.7M420.9 68.5h.7" stroke="#333" stroke-width=".7" stroke-opacity=".4" fill="none"/>
<path d="M414.2 69.7h.7M412.6 74.1h.7M422.1 74.0h.7M419.7 70.3h.7M417.8 73.5h.7M415.8 67.8h.7M417.0 70.9h.7M415.3 72.9h.7M403.7 78.4h.7M410.3 80.7h.7M419.5 75.0h.7M413.7 66.0h.7M415.6 70.4h.7M421.1 68.4h.7M415.2 70.0h.7M416.0 69.4h.7M411.0 75.1h.7M420.9 70.9h.7M416.1 68.6h.7M413.6 74.5h.7M419.0 74.1h.7M421.3 65.1h.7M400.9 86.8h.7M410.9 78.9h.7M420.5 66.9h.7M410.0 78.2h.7M411.6 68.7h.7M417.5 70.9h.7M414.2 74.0h.7M414.9 73.3h.7M414.1 71.1h.7M412.9 71.7h.7M414.6 76.7h.7M418.9 71.9h.7M408.7 79.3h.7M415.5 71.9h.7M407.6 76.0h.7M417.7 69.7h.7M419.5 67.5h.7M410.3 80.2h.7M416.8 74.6h.7M404.6 80.2h.7M410.1 80.3h.7M413.0 79.3h.7M412.4 75.2h.7M412.8 70.7h.7M415.4 78.1h.7M416.5 68.5h.7M408.6 79.1h.7M418.4 74.6h.7M409.7 76.7h.7M412.5 73.6h.7M414.9 75.7h.7M416.2 71.6h.7M413.9 76.7h.7M415.2 69.4h.7M416.5 69.1h.7M421.8 70.4h.7M404.7 82.1h.7M410.2 79.2h.7M421.6 67.0h.7M409.0 77.2h.7M412.6 72.6h.7M418.6 69.4h.7M410.3 79.2h.7" stroke="#333" stroke-width=".7" stroke-opacity=".4" fill="none"/>
<path d="M436.3 62.8h.7M426.9 63.7h.7M426.4 62.6h.7M422.1 74.1h.7M433.3 60.6h.7M435.4 62.2h.7M439.5 66.9h.7M419.8 66.2h.7M429.0 69.4h.7M433.3 62.9h.7M432.0 61.7h.7M429.1 65.0h.7M426.4 68.3h.7M424.5 61.2h.7M428.3 66.4h.7M438.3 66.0h.7M432.6 59.5h.7M433.4 61.1h.7M431.8 61.2h.7M425.7 65.3h.7M428.6 64.5h.7M433.2 67.8h.7M428.5 65.4h.7M423.9 62.5h.7M437.5 64.0h.7M428.1 61.7h.7M418.4 69.2h.7M428.4 63.1h.7M431.2 63.7h.7M429.3 68.4h.7M428.4 59.9h.7M427.1 64.2h.7M437.7 62.4h.7M424.7 64.8h.7M425.3 60.9h.7M433.4 63.3h.7M429.8 57.9h.7M432.4 68.1h.7M429.9 62.5h.7M426.9 71.0h.7M428.2 68.2h.7M434.5 57.9h.7M434.5 65.5h.7M443.9 62.5h.7M427.4 65.6h.7M427.7 66.8h.7M427.5 63.6h.7M431.1 61.7h.7M427.4 68.3h.7M421.7 63.7h.7M420.4 67.8h.7M421.8 62.6h.7M426.0 67.1h.7M423.1 64.3h.7M434.8 68.6h.7M415.4 64.5h.7M425.9 67.8h.7M426.0 54.9h.7M428.7 61.1h.7M443.1 61.1h.7M434.4 67.5h.7M429.6 62.4h.7M421.6 61.7h.7M425.2 64.5h.7M428.8 62.8h.7M425.5 62.4h.7M424.3 68.2h.7M426.7 63.0h.7M435.4 64.2h.7M430.9 70.1h.7M425.9 59.7h.7M440.1 63.3h.7M433.8 64.8h.7M426.1 65.0h.7M436.1 65.4h.7M428.7 68.7h.7M432.3 62.5h.7M424.6 67.9h.7M435.9 60.6h.7M429.2 66.0h.7M424.2 64.0h.7M424.8 62.7h.7M432.7 70.3h.7M425.6 65.5h.7M424.4 68.0h.7M433.6 69.7h.7M431.1 63.5h.7M420.6 62.8h.7M426.1 59.0h.7M432.4 66.3h.7M437.0 61.3h.7M420.3 67.8h.7M435.4 65.4h.7M428.6 69.6h.7M432.8 62.4h.7M428.3 66.4h.7M428.5 67.4h.7M424.9 68.4h.7M425.1 63.5h.7M431.5 65.3h.7M422.3 63.6h.7M422.1 61.3h.7M435.3 63.0h.7M426.2 65.7h.7M432.0 58.2h.7M428.3 65.4h.7M429.5 62.5h.7M432.7 70.9h.7M420.1 64.2h.7M431.8 65.6h.7M419.6 60.4h.7M424.3 64.2h.7M432.1 63.1h.7M426.6 72.0h.7M431.9 69.7h.7M434.2 67.9h.7M428.8 64.8h.7M430.5 63.9h.7M431.2 62.4h.7M430.5 64.3h.7M427.0 57.7h.7M432.4 63.4h.7M430.2 68.1h.7M433.8 63.2h.7M427.4 71.5h.7M431.2 60.8h.7M436.2 69.1h.7M426.7 72.5h.7M437.1 61.6h.7M431.6 66.2h.7M424.9 63.7h.7M428.7 65.1h.7M435.5 65.7h.7M424.2 62.1h.7M438.4 63.9h.7M424.6 68.0h.7M430.8 67.0h.7M433.7 64.7h.7M430.7 63.9h.7M431.5 62.4h.7M435.6 64.2h.7M428.0 60.0h.7M428.0 61.9h.7M426.0 64.2h.7M425.3 67.4h.7M424.0 63.9h.7M422.8 64.3h.7M429.5 66.3h.7M423.1 67.1h.7M422.1 66.3h.7" stroke="#111" stroke-width=".7" stroke-opacity=".4" fill="none"/>
<path d="M432.0 61.1h.7M432.7 60.8h.7M429.5 60.9h.7M430.1 60.0h.7M419.3 70.4h.7M423.4 66.4h.7M432.4 61.0h.7M434.2 65.3h.7M424.7 68.5h.7M429.6 65.3h.7M427.8 65.2h.7M430.3 64.3h.7M425.7 63.9h.7M431.3 64.8h.7M428.1 67.1h.7M427.6 70.3h.7M435.8 65.6h.7M424.7 62.8h.7M425.4 68.0h.7M424.4 59.4h.7M421.7 68.1h.7M426.4 61.2h.7M428.1 63.0h.7M428.6 63.3h.7M431.3 63.4h.7M426.5 60.0h.7M423.6 66.3h.7M432.7 63.1h.7M433.9 68.0h.7M431.6 69.9h.7M430.1 65.7h.7M427.6 60.8h.7M423.5 59.8h.7M436.5 66.8h.7M423.3 64.6h.7M437.2 71.1h.7M434.5 64.6h.7M423.9 65.1h.7M432.5 64.5h.7M429.8 70.2h.7M425.2 65.4h.7M431.7 64.0h.7M428.6 60.8h.7M427.3 62.6h.7M422.2 68.3h.7M418.3 63.2h.7M425.6 65.9h.7M419.0 67.2h.7M433.4 64.6h.7M425.3 68.9h.7M421.2 63.0h.7M426.7 66.1h.7M437.9 65.4h.7M428.5 63.7h.7M439.1 66.6h.7M432.4 62.3h.7M429.7 61.3h.7M429.0 60.9h.7M424.3 63.2h.7M422.9 63.2h.7M432.5 63.8h.7M428.0 62.3h.7M438.8 66.2h.7M426.7 68.8h.7M432.4 65.9h.7M429.7 59.6h.7M433.3 68.5h.7M427.6 63.3h.7M435.8 62.6h.7M425.2 62.8h.7M427.4 62.8h.7M418.1 67.9h.7M430.4 67.2h.7M429.7 70.2h.7M422.1 67.7h.7M429.2 65.5h.7M425.6 72.3h.7M432.4 67.5h.7M433.8 58.2h.7M434.2 68.4h.7M428.1 62.6h.7M434.8 69.3h.7M429.4 61.4h.7M434.1 68.8h.7M426.2 66.8h.7M426.3 65.7h.7M429.4 66.8h.7M440.6 66.4h.7M424.1 66.6h.7M431.9 62.9h.7M431.5 64.0h.7M427.5 67.2h.7M425.6 64.2h.7M433.3 70.0h.7M433.6 68.0h.7M427.3 60.8h.7M427.1 57.6h.7M430.1 68.5h.7M423.9 62.4h.7M426.5 65.9h.7M421.4 60.0h.7M436.9 69.3h.7M432.1 61.2h.7M420.8 65.5h.7M416.6 64.0h.7M423.2 66.7h.7M437.2 65.7h.7M426.4 64.2h.7M431.1 73.0h.7M422.5 62.1h.7M429.5 65.9h.7M424.9 66.9h.7M426.6 60.9h.7M428.8 67.7h.7M427.3 62.0h.7M425.6 68.5h.7M438.2 66.6h.7M429.9 68.3h.7M431.2 64.5h.7M417.9 59.6h.7M421.3 71.5h.7M430.6 57.6h.7M429.9 60.6h.7M426.0 65.5h.7M428.2 71.9h.7M428.9 65.1h.7M441.9 62.7h.7M424.4 66.1h.7M427.1 62.5h.7M428.7 67.0h.7M431.3 71.5h.7M435.6 65.1h.7M434.8 65.5h.7M431.1 71.1h.7M441.6 61.2h.7M421.2 67.9h.7M422.8 66.2h.7M434.2 65.0h.7M422.0 64.4h.7M419.0 59.8h.7M425.0 69.0h.7M426.7 62.0h.7M429.3 66.4h.7M428.1 67.6h.7M435.3 64.3h.7M419.9 63.1h.7M427.0 66.6h.7M428.7 65.8h.7M435.6 68.6h.7M420.6 67.4h.7" stroke="#111" stroke-width=".7" stroke-opacity=".4" fill="none"/>
</g>
<line x1="392.40000000000003" y1="43" x2="392.40000000000003" y2="99.4" stroke="#222" stroke-width="1.4" stroke-dasharray="1 .7 1 .7 1 .7 1 .7 1 .7 1.5 2"/>
<line x1="395.1" y1="100.9" x2="451.3" y2="100.9" stroke="#222" stroke-width="1.4" stroke-dasharray="1 .7 1 .7 1 .7 1 .7 1 .7 1.5 2"/>
<line x1="393.1" y1="42.5" x2="451.8" y2="42.5" stroke="#000" stroke-width="1"/>
<line x1="451.3" y1="42" x2="451.3" y2="100.2" stroke="#000" stroke-width="1"/>
<line x1="393.95000000000005" y1="42" x2="393.95000000000005" y2="100.2" stroke="#000" stroke-width="1.7"/>
<line x1="393.1" y1="99.4" x2="451.8" y2="99.4" stroke="#000" stroke-width="1.5"/>
<rect x="419.40000000000003" y="52.2" width="28.8" height="23.0" fill="#c080c8" fill-opacity="0.06" stroke="#8a5a8c" stroke-width="1.05"/>
<text x="434.40000000000003" y="50" font-size="7.4" text-anchor="start" fill="#111" font-weight="normal" font-style="normal" >37.4</text>
<clipPath id="c1_7"><rect x="456.4" y="43" width="56" height="55.7"/></clipPath>
<g clip-path="url(#c1_7)">
<ellipse cx="0" cy="0" rx="13.1" ry="10.1" fill="url(#rg)" opacity="0.7" transform="translate(468.2 87.8) rotate(45)"/>
<ellipse cx="0" cy="0" rx="24.3" ry="17.0" fill="url(#rgg)" opacity="0.17" transform="translate(467.2 83.8) rotate(-68)"/>
<ellipse cx="0" cy="0" rx="17.1" ry="7.0" fill="url(#rgg)" opacity="0.2" transform="translate(477.7 74.8) rotate(-37)"/>
<ellipse cx="0" cy="0" rx="14.0" ry="8.6" fill="url(#rgg)" opacity="0.68" transform="translate(491.0 64.9) rotate(0)"/>
<path d="M467.2 85.6h.7M468.1 83.6h.7M470.5 88.2h.7M472.6 90.3h.7M470.7 76.9h.7M468.3 88.2h.7M469.8 87.0h.7M464.3 84.5h.7M469.5 94.0h.7M468.3 87.6h.7M462.5 81.9h.7M464.9 92.2h.7M462.3 85.3h.7M461.6 86.5h.7M466.4 92.1h.7M464.6 85.7h.7M463.9 88.8h.7M466.3 86.4h.7M469.3 91.2h.7M466.1 83.3h.7M469.6 88.6h.7M466.9 82.9h.7M463.6 80.7h.7M467.0 94.2h.7M471.6 85.8h.7M473.6 84.8h.7M464.1 89.8h.7M464.7 86.3h.7M474.7 86.6h.7M467.4 86.3h.7M465.5 88.7h.7M466.3 84.1h.7M472.1 93.6h.7M471.6 78.6h.7M466.4 91.0h.7M478.0 89.9h.7M472.2 86.3h.7M467.3 91.6h.7M468.1 90.6h.7M476.5 89.8h.7M466.3 83.0h.7M468.4 91.8h.7M468.4 91.0h.7M475.3 86.5h.7M472.3 82.0h.7M467.6 87.3h.7M465.7 83.1h.7M467.1 89.0h.7M461.1 89.0h.7M472.4 78.2h.7M460.7 88.2h.7M466.5 86.4h.7M465.6 89.6h.7M466.0 94.1h.7M462.1 81.8h.7M466.5 82.8h.7M467.4 91.2h.7M474.9 88.0h.7M466.4 81.3h.7M465.5 89.5h.7M464.1 88.7h.7M471.1 86.4h.7M465.0 82.0h.7M458.1 79.5h.7M473.4 85.7h.7M469.9 90.5h.7M469.2 85.2h.7M470.2 82.7h.7M468.9 90.9h.7M471.7 91.3h.7M464.8 89.9h.7M463.8 87.8h.7M461.9 87.3h.7M471.0 93.7h.7M469.1 83.7h.7M469.7 94.1h.7M478.1 88.8h.7M466.3 83.9h.7M463.4 87.1h.7M464.5 87.5h.7M466.6 82.3h.7M457.0 90.8h.7M461.9 83.4h.7M466.4 90.1h.7M467.1 93.1h.7M467.6 82.3h.7M471.1 86.6h.7M473.5 93.3h.7M470.0 88.9h.7M456.7 88.5h.7M467.0 83.4h.7M468.7 91.6h.7M471.3 85.5h.7M467.1 85.2h.7M470.3 85.0h.7M472.5 89.7h.7M475.7 87.2h.7M462.8 94.4h.7M472.7 91.6h.7M463.0 80.7h.7M468.9 82.7h.7M471.6 87.4h.7M474.4 84.2h.7M469.8 88.5h.7M469.0 89.0h.7M470.0 88.9h.7M462.4 83.3h.7M465.3 92.1h.7M478.4 90.4h.7M470.0 92.6h.7M469.8 79.9h.7M464.2 85.6h.7M469.7 87.9h.7M465.3 85.1h.7M466.4 91.8h.7M469.8 87.2h.7M478.3 92.6h.7M462.7 88.8h.7M460.7 85.6h.7M467.2 85.5h.7M475.6 91.5h.7M467.9 90.3h.7M467.5 81.7h.7M472.2 90.5h.7M460.2 91.8h.7M474.4 85.9h.7M467.9 85.3h.7M468.8 86.4h.7M470.8 88.8h.7M466.1 94.8h.7M466.4 83.2h.7M467.5 84.4h.7M465.8 89.6h.7M471.0 90.4h.7M468.8 87.9h.7M468.8 90.2h.7M472.4 88.0h.7M476.8 94.2h.7M474.7 96.3h.7M470.3 92.9h.7" stroke="#000" stroke-width=".7" stroke-opacity=".4" fill="none"/>
<path d="M464.8 85.9h.7M468.4 89.0h.7M468.1 97.8h.7M462.0 88.9h.7M467.4 89.3h.7M467.5 93.6h.7M467.1 96.6h.7M469.6 88.8h.7M473.2 90.9h.7M467.1 91.9h.7M466.1 83.1h.7M458.2 87.8h.7M465.6 82.8h.7M476.4 88.6h.7M470.2 92.4h.7M468.0 92.7h.7M464.4 81.1h.7M473.1 90.2h.7M463.0 83.4h.7M458.0 84.8h.7M468.1 90.1h.7M466.7 88.6h.7M468.8 83.6h.7M471.2 89.0h.7M471.4 90.4h.7M478.2 91.9h.7M473.9 90.4h.7M474.0 82.4h.7M466.0 92.6h.7M476.4 93.5h.7M459.2 87.2h.7M469.2 97.5h.7M464.2 90.3h.7M479.6 87.3h.7M461.6 86.6h.7M475.2 85.8h.7M467.2 85.1h.7M475.9 95.6h.7M460.8 85.8h.7M465.9 86.9h.7M464.1 91.8h.7M473.7 83.8h.7M470.0 93.0h.7M468.9 92.9h.7M468.5 95.0h.7M463.2 84.3h.7M467.8 80.2h.7M471.4 82.7h.7M478.6 93.0h.7M468.0 85.8h.7M467.7 83.7h.7M470.6 82.6h.7M471.4 95.8h.7M458.4 76.9h.7M463.3 83.5h.7M470.7 80.8h.7M463.7 86.5h.7M475.2 87.0h.7M475.7 91.8h.7M473.2 90.7h.7M467.9 80.4h.7M468.2 94.3h.7M464.0 86.4h.7M464.7 92.2h.7M471.9 85.5h.7M464.9 87.6h.7M464.7 89.6h.7M466.8 83.9h.7M475.3 88.4h.7M468.6 90.4h.7M472.2 91.9h.7M464.5 92.2h.7M466.9 88.6h.7M469.1 85.8h.7M464.5 90.9h.7M463.4 91.8h.7M466.1 86.5h.7M470.9 93.1h.7M461.5 86.2h.7M468.3 88.4h.7M464.8 89.9h.7M470.5 80.0h.7M465.9 87.8h.7M478.1 89.7h.7M474.5 94.4h.7M471.4 94.7h.7M471.9 84.8h.7M468.9 84.9h.7M464.4 87.7h.7M467.8 90.5h.7M460.6 82.9h.7M478.2 87.4h.7M471.3 83.1h.7M466.4 82.2h.7M474.7 79.0h.7M476.3 89.9h.7M466.6 88.0h.7M468.8 91.2h.7M472.0 89.2h.7M467.0 92.1h.7M463.2 90.8h.7M463.8 91.1h.7M469.9 86.0h.7M471.4 90.3h.7M467.0 92.6h.7M473.1 92.9h.7M469.6 93.5h.7M467.6 93.9h.7M473.1 88.2h.7M466.9 92.5h.7M468.1 83.9h.7M467.2 82.5h.7M470.2 88.4h.7M462.8 90.4h.7M471.3 99.3h.7M466.7 86.3h.7M470.0 81.4h.7M463.7 89.5h.7M472.8 92.3h.7M474.2 87.5h.7M459.8 82.2h.7M469.4 93.9h.7M468.6 91.3h.7M464.3 88.6h.7M467.6 84.6h.7M475.9 85.3h.7M475.3 85.5h.7M465.2 85.5h.7M473.7 95.8h.7M462.1 89.2h.7M457.3 83.3h.7M466.7 85.6h.7M473.7 85.2h.7M466.4 99.3h.7M462.8 86.0h.7M468.5 82.3h.7" stroke="#000" stroke-width=".7" stroke-opacity=".4" fill="none"/>
<path d="M475.8 79.7h.7M466.4 72.3h.7M473.0 71.6h.7M467.8 74.6h.7M475.9 93.7h.7M465.3 79.8h.7M473.6 81.8h.7M465.7 96.2h.7M463.3 87.3h.7M462.4 93.7h.7M464.3 84.6h.7M464.1 82.3h.7M467.8 84.5h.7M466.6 88.3h.7M461.4 71.6h.7M466.1 79.6h.7M457.0 88.3h.7M474.4 84.7h.7M458.5 76.5h.7M478.2 76.3h.7M466.2 97.8h.7M468.1 75.8h.7M473.5 88.3h.7M461.6 75.4h.7M475.8 72.6h.7M458.3 72.1h.7M468.7 83.8h.7M463.6 88.9h.7M467.3 79.2h.7M467.0 77.2h.7M469.7 91.4h.7M474.4 82.8h.7M477.9 66.7h.7M459.6 82.0h.7M471.5 81.5h.7M458.5 70.2h.7M478.3 68.6h.7M461.3 77.5h.7M483.9 75.4h.7M469.3 90.6h.7M462.3 81.9h.7M464.8 78.5h.7M466.4 82.2h.7M477.1 73.2h.7M463.8 88.9h.7M465.6 87.0h.7M467.3 86.5h.7M466.3 71.6h.7M474.7 64.0h.7M471.8 85.8h.7M465.6 94.8h.7M468.3 76.1h.7M471.5 68.6h.7M466.1 82.4h.7M473.1 98.7h.7M472.0 83.3h.7M468.1 86.6h.7M468.8 73.9h.7M471.7 81.4h.7M466.8 97.9h.7M465.0 68.4h.7M470.0 97.4h.7M469.0 77.3h.7M461.5 95.1h.7M469.0 92.4h.7M463.5 77.4h.7M459.7 73.0h.7M461.1 72.7h.7M463.1 84.1h.7M472.5 87.7h.7M469.8 76.9h.7M470.5 93.6h.7M468.1 89.3h.7M472.1 65.9h.7M480.9 81.9h.7M464.6 74.4h.7M475.5 90.2h.7M468.6 93.8h.7M461.7 85.5h.7M468.6 78.9h.7M461.4 82.2h.7M473.1 81.8h.7" stroke="#444" stroke-width=".7" stroke-opacity=".4" fill="none"/>
<path d="M470.3 80.2h.7M471.9 77.0h.7M467.0 92.3h.7M466.0 84.3h.7M467.7 92.2h.7M472.5 60.4h.7M469.7 87.3h.7M480.0 86.9h.7M474.1 87.9h.7M472.3 87.3h.7M465.2 81.8h.7M462.9 84.1h.7M470.3 79.8h.7M458.4 90.2h.7M466.1 80.9h.7M462.8 85.9h.7M466.6 76.3h.7M474.8 75.7h.7M456.2 71.1h.7M468.6 78.9h.7M472.1 93.5h.7M466.1 92.9h.7M465.4 82.3h.7M475.2 74.6h.7M467.0 71.5h.7M464.4 68.2h.7M468.6 89.0h.7M472.7 76.2h.7M476.4 94.6h.7M465.8 85.9h.7M471.8 75.3h.7M474.2 70.6h.7M465.2 72.9h.7M476.6 72.1h.7M465.6 92.8h.7M464.0 97.1h.7M462.9 69.4h.7M470.2 92.7h.7M472.9 83.9h.7M472.1 95.7h.7M470.8 81.9h.7M467.3 80.5h.7M473.2 79.8h.7M476.4 76.3h.7M477.9 85.7h.7M475.2 73.1h.7M465.7 81.8h.7M472.7 94.8h.7M464.2 81.8h.7M462.8 84.1h.7M473.2 80.5h.7M479.3 83.2h.7M482.0 82.5h.7M478.0 78.8h.7M459.0 79.3h.7M467.5 82.3h.7M463.9 82.5h.7M470.3 63.9h.7M459.0 98.1h.7M462.1 95.9h.7M465.7 93.2h.7M469.9 87.1h.7M462.1 73.1h.7M466.5 84.0h.7M466.4 99.5h.7M465.2 78.8h.7M470.4 84.0h.7M461.2 70.0h.7M472.2 72.2h.7M467.5 87.4h.7M464.8 95.4h.7M477.7 70.3h.7M468.0 86.6h.7M468.8 83.4h.7M469.0 80.7h.7M462.7 90.9h.7M465.3 88.8h.7M468.8 81.9h.7M466.4 94.1h.7M472.6 88.2h.7M478.2 73.7h.7M459.6 87.2h.7" stroke="#444" stroke-width=".7" stroke-opacity=".4" fill="none"/>
<path d="M481.8 68.7h.7M481.7 70.6h.7M477.8 76.2h.7M479.5 70.4h.7M482.1 70.1h.7M490.6 59.2h.7M480.4 70.3h.7M476.2 78.0h.7M474.4 74.8h.7M479.0 69.1h.7M467.3 80.7h.7M475.4 74.7h.7M481.9 72.7h.7M474.1 70.8h.7M477.7 76.4h.7M484.7 69.8h.7M481.2 71.5h.7M477.3 76.8h.7M469.9 77.1h.7M472.2 77.7h.7M479.1 75.4h.7M474.7 72.3h.7M483.5 69.4h.7M466.6 87.5h.7M483.0 74.8h.7M475.9 78.9h.7M479.8 72.2h.7M479.2 70.9h.7M471.9 74.2h.7M486.4 68.4h.7M474.3 83.1h.7M472.5 79.1h.7M479.4 75.5h.7M473.2 79.8h.7M475.9 75.8h.7M470.1 72.8h.7M479.6 73.9h.7M476.3 77.1h.7M474.9 76.7h.7M474.8 69.7h.7M475.2 79.2h.7M475.7 76.4h.7M479.5 73.9h.7M480.7 73.1h.7M484.5 70.4h.7M476.4 76.2h.7M475.3 73.9h.7M481.5 71.6h.7M478.6 76.2h.7M478.9 76.4h.7M478.6 77.6h.7M478.0 77.2h.7M480.0 73.9h.7M483.7 72.5h.7M475.8 79.0h.7M480.7 73.7h.7M476.5 76.8h.7M469.3 79.3h.7M478.8 70.7h.7M475.8 73.0h.7" stroke="#333" stroke-width=".7" stroke-opacity=".4" fill="none"/>
<path d="M471.4 77.2h.7M480.0 74.9h.7M484.6 70.2h.7M473.8 76.7h.7M470.2 82.1h.7M472.0 78.5h.7M479.5 77.2h.7M478.4 71.4h.7M484.9 74.3h.7M475.1 75.0h.7M479.3 69.7h.7M487.7 71.2h.7M470.8 81.7h.7M481.7 71.4h.7M476.5 76.8h.7M475.8 75.9h.7M478.2 72.4h.7M473.3 76.7h.7M478.1 76.2h.7M472.7 78.7h.7M476.6 70.9h.7M474.1 76.7h.7M473.6 77.8h.7M469.4 82.8h.7M477.2 77.4h.7M474.2 74.2h.7M481.3 70.0h.7M477.2 81.9h.7M469.1 79.0h.7M482.7 71.4h.7M483.5 65.7h.7M481.2 72.1h.7M475.8 79.0h.7M482.6 72.6h.7M465.8 82.4h.7M481.8 69.6h.7M468.3 77.3h.7M478.1 70.6h.7M470.9 77.3h.7M486.9 72.3h.7M472.1 82.8h.7M474.6 76.9h.7M473.3 79.7h.7M483.3 69.3h.7M485.8 68.8h.7M483.5 76.0h.7M481.8 76.4h.7M484.5 70.8h.7M474.7 69.4h.7M480.0 75.2h.7M478.3 79.2h.7M474.8 77.4h.7M485.9 70.2h.7M483.5 68.6h.7M473.4 78.5h.7M480.0 75.2h.7M475.0 74.9h.7M468.7 80.1h.7M478.1 75.5h.7M477.1 76.4h.7" stroke="#333" stroke-width=".7" stroke-opacity=".4" fill="none"/>
<path d="M495.8 71.2h.7M493.3 62.8h.7M491.6 69.3h.7M478.9 68.7h.7M490.0 62.6h.7M497.0 63.0h.7M492.1 73.6h.7M488.5 75.6h.7M481.0 65.6h.7M488.5 66.7h.7M482.7 60.5h.7M497.1 62.8h.7M483.3 66.7h.7M481.2 64.1h.7M485.5 68.6h.7M491.4 68.6h.7M490.8 64.5h.7M483.2 61.8h.7M484.6 62.6h.7M488.8 66.9h.7M489.5 60.8h.7M485.8 59.1h.7M490.9 66.4h.7M488.6 57.7h.7M488.9 66.2h.7M487.7 64.9h.7M486.0 61.6h.7M491.1 64.3h.7M489.9 64.1h.7M493.2 68.1h.7M489.1 69.8h.7M484.5 67.9h.7M499.5 62.4h.7M489.3 62.9h.7M495.3 64.0h.7M500.0 64.3h.7M491.7 65.1h.7M491.6 71.4h.7M485.8 65.1h.7M478.3 67.2h.7M495.8 67.0h.7M494.4 65.8h.7M487.2 55.3h.7M491.9 62.9h.7M491.5 63.7h.7M493.8 68.0h.7M484.3 65.3h.7M489.7 65.9h.7M484.0 72.5h.7M488.1 63.5h.7M499.7 68.3h.7M485.1 59.6h.7M487.3 64.9h.7M496.6 65.5h.7M479.9 60.7h.7M487.6 58.7h.7M496.3 71.5h.7M496.8 69.5h.7M494.7 67.1h.7M496.3 63.6h.7M487.9 66.6h.7M489.4 59.1h.7M488.0 66.0h.7M486.3 63.1h.7M489.5 68.2h.7M494.4 63.2h.7M493.8 64.4h.7M485.2 65.8h.7M484.9 64.9h.7M488.8 67.6h.7M492.2 68.9h.7M483.3 65.0h.7M495.2 60.8h.7M491.2 61.1h.7M495.3 63.2h.7M494.1 68.3h.7M494.7 64.3h.7M496.8 63.3h.7M487.0 65.5h.7M484.6 63.0h.7M494.2 65.1h.7M493.3 62.9h.7M484.0 62.8h.7M494.8 63.2h.7M489.7 63.1h.7M499.0 64.7h.7M497.7 68.5h.7M488.4 65.3h.7M486.5 61.8h.7M484.3 62.8h.7M490.3 65.7h.7M483.9 68.4h.7M482.9 64.2h.7M494.6 67.1h.7M491.3 67.9h.7M505.0 67.0h.7M489.8 68.5h.7M497.4 61.5h.7M494.2 64.1h.7M500.6 64.4h.7M490.5 66.1h.7M480.8 66.6h.7M492.6 69.0h.7M493.9 68.2h.7M493.1 67.9h.7M488.2 68.5h.7M490.2 65.6h.7M495.6 67.4h.7M490.3 60.3h.7M483.7 64.2h.7M486.2 69.3h.7M492.0 69.5h.7M491.3 59.0h.7M489.2 61.4h.7M486.8 66.3h.7M488.7 59.4h.7M489.1 63.6h.7M488.1 63.0h.7M486.6 68.9h.7M492.3 60.1h.7M484.4 61.9h.7M487.4 64.1h.7M494.9 63.1h.7M483.5 74.3h.7M490.0 66.4h.7M487.8 69.4h.7M489.2 62.6h.7M491.1 65.7h.7M499.9 56.5h.7M499.3 65.6h.7M498.1 61.3h.7M492.2 66.0h.7M493.5 68.6h.7M489.5 63.2h.7M493.7 63.4h.7M495.3 64.3h.7M499.2 64.0h.7M494.9 66.8h.7M486.5 70.2h.7M489.4 65.7h.7" stroke="#111" stroke-width=".7" stroke-opacity=".4" fill="none"/>
<path d="M480.7 66.0h.7M492.7 71.7h.7M496.6 63.5h.7M499.1 59.2h.7M492.1 65.1h.7M501.1 59.3h.7M490.5 67.0h.7M495.7 63.8h.7M494.8 58.3h.7M478.4 64.3h.7M493.1 68.6h.7M493.7 59.1h.7M488.9 61.6h.7M502.7 58.3h.7M481.0 62.9h.7M490.6 70.8h.7M493.3 66.0h.7M489.8 66.0h.7M487.1 66.0h.7M493.0 61.9h.7M491.6 67.5h.7M493.7 64.0h.7M493.0 67.9h.7M488.5 63.9h.7M489.7 69.1h.7M489.1 71.8h.7M489.0 67.4h.7M483.3 58.1h.7M500.3 66.1h.7M486.3 60.9h.7M496.2 63.0h.7M496.8 61.3h.7M494.9 64.2h.7M494.7 66.9h.7M486.5 71.9h.7M485.0 69.8h.7M495.5 66.1h.7M481.0 67.0h.7M490.1 65.8h.7M503.3 63.5h.7M492.6 63.3h.7M498.7 67.6h.7M499.0 66.5h.7M504.3 69.3h.7M494.0 69.4h.7M492.4 66.1h.7M491.3 64.7h.7M487.9 64.3h.7M486.3 60.9h.7M485.3 56.9h.7M489.0 66.7h.7M492.8 66.8h.7M474.6 64.5h.7M492.0 66.8h.7M484.2 65.7h.7M495.8 64.3h.7M482.2 60.7h.7M493.1 66.1h.7M484.2 67.4h.7M486.1 63.3h.7M495.1 65.0h.7M488.7 61.6h.7M491.9 76.4h.7M484.9 64.1h.7M480.5 67.9h.7M487.3 65.5h.7M490.2 65.0h.7M494.1 65.1h.7M490.4 65.9h.7M496.8 67.6h.7M490.8 64.4h.7M497.5 61.8h.7M492.6 70.9h.7M492.5 64.4h.7M481.7 63.3h.7M492.5 65.0h.7M488.5 65.6h.7M493.6 62.8h.7M483.8 62.1h.7M486.1 72.5h.7M483.8 57.2h.7M496.6 63.6h.7M482.8 60.3h.7M494.7 63.1h.7M488.0 62.8h.7M480.5 70.4h.7M490.4 64.4h.7M493.5 64.9h.7M499.9 70.4h.7M490.7 66.8h.7M492.9 68.6h.7M493.3 66.6h.7M489.6 67.0h.7M484.0 69.0h.7M490.9 62.7h.7M495.0 63.4h.7M493.3 70.5h.7M482.7 68.6h.7M489.4 63.1h.7M483.5 67.8h.7M488.9 64.8h.7M487.2 63.7h.7M479.3 64.5h.7M486.0 65.9h.7M487.6 64.3h.7M496.8 63.5h.7M486.1 64.6h.7M487.3 62.9h.7M492.6 65.3h.7M487.4 64.1h.7M485.7 67.3h.7M490.6 64.9h.7M503.9 64.3h.7M490.2 70.0h.7M496.5 67.9h.7M493.1 66.7h.7M500.3 59.9h.7M482.5 62.8h.7M481.5 60.6h.7M480.1 63.0h.7M490.0 66.4h.7M494.7 64.5h.7M493.5 68.9h.7M489.2 63.9h.7M484.4 65.1h.7M481.6 67.0h.7M491.6 64.2h.7M497.4 63.7h.7M500.7 68.7h.7M492.4 61.8h.7M486.6 64.9h.7M484.6 63.9h.7M495.0 66.2h.7M488.1 64.6h.7M502.0 61.8h.7M490.1 63.8h.7M493.9 65.3h.7M499.8 62.7h.7M497.8 65.2h.7M497.9 62.6h.7" stroke="#111" stroke-width=".7" stroke-opacity=".4" fill="none"/>
</g>
<line x1="454.0" y1="43" x2="454.0" y2="99.4" stroke="#222" stroke-width="1.4" stroke-dasharray="1 .7 1 .7 1 .7 1 .7 1 .7 1.5 2"/>
<line x1="456.7" y1="100.9" x2="512.9" y2="100.9" stroke="#222" stroke-width="1.4" stroke-dasharray="1 .7 1 .7 1 .7 1 .7 1 .7 1.5 2"/>
<line x1="454.7" y1="42.5" x2="513.4" y2="42.5" stroke="#000" stroke-width="1"/>
<line x1="512.9" y1="42" x2="512.9" y2="100.2" stroke="#000" stroke-width="1"/>
<line x1="455.55" y1="42" x2="455.55" y2="100.2" stroke="#000" stroke-width="1.7"/>
<line x1="454.7" y1="99.4" x2="513.4" y2="99.4" stroke="#000" stroke-width="1.5"/>
<rect x="481.0" y="52.2" width="28.8" height="23.0" fill="#c080c8" fill-opacity="0.06" stroke="#8a5a8c" stroke-width="1.05"/>
<text x="496.0" y="50" font-size="7.4" text-anchor="start" fill="#111" font-weight="normal" font-style="normal" >29.4</text>
<text x="26.2" y="113.8" font-size="9" text-anchor="start" fill="#111" font-weight="bold" font-style="normal" transform="translate(26.2 0) scale(0.72 1) translate(-26.2 0)">CD138</text>
<line x1="49.5" y1="110.9" x2="506" y2="110.9" stroke="#000" stroke-width="1.2"/>
<polygon points="503,108.3 511.5,110.9 503,113.5" fill="#000"/>
<clipPath id="c2_0"><rect x="25.2" y="120.2" width="56" height="56.5"/></clipPath>
<g clip-path="url(#c2_0)">
<ellipse cx="0" cy="0" rx="10.9" ry="10.9" fill="url(#rg)" opacity="1.0" transform="translate(33.5 163.0) rotate(0)"/>
<ellipse cx="0" cy="0" rx="16.9" ry="16.9" fill="url(#rg)" opacity="0.28" transform="translate(34.2 161.7) rotate(0)"/>
<ellipse cx="0" cy="0" rx="7.8" ry="7.3" fill="url(#rgg)" opacity="0.32" transform="translate(34.8 141.4) rotate(90)"/>
<path d="M39.5 162.8h.7M24.6 164.3h.7M29.7 164.0h.7M34.2 164.7h.7M40.0 162.8h.7M35.9 159.7h.7M31.9 167.9h.7M32.4 155.7h.7M30.7 166.8h.7M38.2 160.3h.7M32.5 163.3h.7M38.0 163.3h.7M40.5 156.8h.7M32.1 163.1h.7M28.6 165.5h.7M31.4 161.2h.7M38.0 159.3h.7M27.2 164.9h.7M32.9 157.5h.7M29.9 168.0h.7M31.0 165.4h.7M35.6 168.7h.7M31.3 159.4h.7M27.6 162.2h.7M31.3 159.8h.7M37.2 159.8h.7M31.0 161.3h.7M30.1 162.4h.7M33.5 165.3h.7M32.2 164.6h.7M40.5 167.8h.7M29.3 164.6h.7M34.1 171.6h.7M29.7 169.6h.7M30.0 161.2h.7M36.3 165.1h.7M38.5 163.2h.7M32.5 160.3h.7M36.1 160.5h.7M34.1 165.1h.7M30.5 166.0h.7M40.7 167.4h.7M36.3 169.3h.7M32.4 158.5h.7M31.8 165.7h.7M28.3 167.5h.7M28.9 159.0h.7M39.8 153.5h.7M34.0 164.6h.7M37.9 156.2h.7M26.5 162.4h.7M36.4 165.9h.7M30.0 162.2h.7M32.8 158.0h.7M28.3 164.0h.7M41.0 152.9h.7M32.9 164.6h.7M34.1 156.2h.7M33.1 164.4h.7M39.7 156.3h.7M32.8 158.0h.7M35.1 157.8h.7M34.1 157.7h.7M26.1 158.9h.7M36.2 162.8h.7M32.4 164.8h.7M39.0 154.3h.7M37.6 164.7h.7M39.1 165.4h.7M35.4 169.2h.7M29.2 164.0h.7M39.6 165.6h.7M29.4 166.0h.7M32.8 161.2h.7M33.3 162.3h.7M34.9 160.6h.7M41.4 159.8h.7M31.2 164.1h.7M40.0 163.8h.7M30.4 163.5h.7M32.2 159.8h.7M34.9 161.0h.7M34.7 162.4h.7M25.6 157.5h.7M26.6 159.8h.7M32.6 158.3h.7M33.1 160.5h.7M34.8 163.9h.7M34.1 155.9h.7M35.7 162.1h.7M33.0 169.8h.7M31.0 168.0h.7M31.1 162.5h.7M33.8 161.2h.7M35.6 157.6h.7M34.2 167.7h.7M34.2 159.4h.7M38.5 163.7h.7M37.1 158.2h.7M31.0 164.3h.7M30.4 157.7h.7M32.0 165.8h.7M35.0 169.4h.7M40.8 156.7h.7M33.2 157.6h.7M43.8 159.2h.7M29.2 162.0h.7M32.2 161.8h.7M25.9 161.2h.7M38.8 171.1h.7M39.5 165.0h.7M31.1 165.3h.7M29.1 162.5h.7M35.2 165.8h.7M28.9 157.8h.7M30.7 161.4h.7M39.4 154.6h.7M30.8 161.3h.7M32.8 167.8h.7M35.6 164.8h.7M35.6 164.3h.7M35.2 157.7h.7M39.4 167.1h.7M36.8 161.8h.7M28.4 161.1h.7M31.6 162.7h.7M27.4 165.8h.7M30.9 173.7h.7M31.1 161.0h.7M35.3 164.5h.7M39.8 165.9h.7M34.3 163.1h.7M35.9 163.2h.7M32.3 165.5h.7M31.9 161.3h.7M37.6 174.9h.7M25.2 149.8h.7M30.4 157.4h.7M34.1 161.6h.7M39.9 159.4h.7M30.1 160.7h.7M31.3 163.7h.7M35.5 161.8h.7M34.1 157.4h.7M34.5 160.3h.7M26.3 157.9h.7M33.1 160.6h.7M28.6 160.5h.7" stroke="#000" stroke-width=".7" stroke-opacity=".4" fill="none"/>
<path d="M31.9 161.5h.7M27.9 160.8h.7M36.4 163.2h.7M40.1 165.4h.7M34.9 160.5h.7M35.4 160.6h.7M34.0 166.2h.7M39.6 162.3h.7M28.7 160.1h.7M38.1 161.9h.7M31.3 167.3h.7M36.0 165.2h.7M37.7 166.7h.7M32.0 168.0h.7M38.8 165.3h.7M24.6 159.0h.7M26.6 162.1h.7M29.8 166.8h.7M30.2 160.5h.7M29.2 164.5h.7M27.4 156.9h.7M27.6 161.8h.7M37.5 163.3h.7M39.0 160.3h.7M34.1 160.9h.7M27.3 164.9h.7M34.6 164.0h.7M31.5 165.3h.7M40.3 162.0h.7M42.2 161.7h.7M39.0 163.3h.7M34.9 171.6h.7M31.3 153.5h.7M33.3 166.1h.7M30.3 170.1h.7M31.0 162.9h.7M33.4 160.4h.7M35.5 164.3h.7M29.1 173.3h.7M33.5 161.4h.7M32.3 165.3h.7M37.7 162.4h.7M34.5 166.5h.7M34.0 161.2h.7M44.1 165.2h.7M34.5 165.6h.7M41.2 163.7h.7M32.0 161.9h.7M33.0 165.3h.7M39.9 164.5h.7M34.4 164.5h.7M41.2 158.2h.7M31.2 160.0h.7M29.5 165.2h.7M32.8 154.7h.7M34.3 167.9h.7M39.8 159.3h.7M29.8 163.4h.7M26.5 161.3h.7M35.9 162.8h.7M32.5 165.0h.7M37.5 171.0h.7M28.9 161.4h.7M32.4 173.0h.7M28.6 163.0h.7M44.2 166.3h.7M31.6 160.9h.7M35.3 166.8h.7M38.7 162.1h.7M37.7 168.4h.7M32.0 164.5h.7M34.6 161.9h.7M27.0 161.8h.7M37.3 168.4h.7M25.1 160.7h.7M34.7 161.4h.7M35.9 163.8h.7M35.6 161.8h.7M30.7 158.6h.7M35.4 176.2h.7M33.5 177.4h.7M35.3 171.4h.7M38.7 158.3h.7M36.7 157.2h.7M35.9 164.8h.7M32.1 159.2h.7M34.1 167.5h.7M37.0 157.0h.7M31.4 167.9h.7M37.8 156.6h.7M34.2 170.0h.7M37.5 161.2h.7M32.2 166.9h.7M32.2 157.5h.7M37.6 158.5h.7M34.7 163.0h.7M33.6 159.5h.7M39.3 163.6h.7M29.9 158.3h.7M34.8 163.6h.7M46.4 158.5h.7M28.4 162.0h.7M30.9 164.1h.7M36.9 154.2h.7M31.3 162.5h.7M31.3 158.8h.7M36.9 159.5h.7M30.1 165.5h.7M37.4 167.7h.7M33.5 158.0h.7M27.7 160.8h.7M29.0 168.6h.7M37.7 167.2h.7M36.7 155.9h.7M31.1 171.0h.7M32.7 162.8h.7M35.6 155.9h.7M36.0 162.8h.7M38.3 158.1h.7M33.2 161.8h.7M28.5 164.1h.7M41.0 166.3h.7M30.8 163.0h.7M33.6 160.5h.7M31.6 161.1h.7M39.0 165.8h.7M28.7 153.1h.7M34.4 164.1h.7M32.4 153.9h.7M37.6 164.3h.7M34.3 161.2h.7M32.2 161.2h.7M33.0 167.6h.7M31.5 162.4h.7M29.9 160.9h.7M28.5 161.5h.7M33.8 167.1h.7M45.7 168.1h.7M33.9 163.6h.7M32.1 169.1h.7M34.1 167.3h.7M30.7 161.2h.7M34.0 163.4h.7M28.3 164.2h.7" stroke="#000" stroke-width=".7" stroke-opacity=".4" fill="none"/>
<path d="M35.9 165.8h.7M41.2 164.5h.7M36.6 167.6h.7M32.5 167.0h.7M35.9 153.7h.7M30.0 156.3h.7M37.2 165.3h.7M38.1 170.0h.7M30.3 156.2h.7M39.7 150.3h.7M32.4 167.5h.7M40.6 157.9h.7M32.8 162.7h.7M27.0 162.3h.7M33.0 165.0h.7M41.5 167.6h.7M25.8 165.8h.7M25.5 143.1h.7M32.4 161.7h.7M33.0 158.5h.7M34.8 140.2h.7M25.9 158.5h.7M30.6 164.9h.7M30.3 153.0h.7M41.3 160.9h.7M38.4 155.9h.7M26.9 166.9h.7M32.2 161.9h.7M38.4 160.9h.7M30.8 162.8h.7M29.2 160.4h.7M45.3 167.1h.7M37.4 159.3h.7M32.3 160.3h.7M47.3 157.0h.7M31.3 158.5h.7M36.4 150.7h.7M26.6 168.8h.7M31.9 153.4h.7M35.0 166.7h.7M26.6 153.8h.7M33.9 170.3h.7M32.2 156.2h.7M26.9 166.1h.7M44.7 162.3h.7M33.9 163.1h.7M38.2 152.9h.7M31.8 156.4h.7M32.4 160.8h.7M40.9 165.9h.7M34.2 151.1h.7M43.1 161.3h.7M35.3 167.4h.7M34.0 169.4h.7M44.9 164.4h.7M47.1 162.3h.7M30.3 172.6h.7M41.5 151.5h.7M34.5 165.3h.7M33.3 163.6h.7M34.6 169.4h.7M33.0 153.6h.7M35.0 158.8h.7M31.2 158.3h.7M33.3 157.7h.7M32.1 167.3h.7M41.6 168.5h.7M41.3 159.6h.7M32.5 166.9h.7M41.7 168.3h.7M33.0 161.0h.7M33.5 155.4h.7M36.0 159.7h.7M32.7 157.6h.7M39.0 146.6h.7M32.7 166.7h.7M29.9 158.7h.7M43.6 160.4h.7M41.6 161.3h.7M30.2 161.1h.7M34.0 157.9h.7M39.5 152.2h.7M33.7 162.1h.7M37.1 158.6h.7M31.1 152.8h.7M45.7 162.6h.7M36.2 169.0h.7M37.5 164.3h.7M44.5 169.9h.7M33.6 163.9h.7M32.3 157.0h.7M29.5 156.4h.7M38.6 159.7h.7M32.7 161.9h.7M37.8 173.3h.7M36.0 156.5h.7M40.8 157.5h.7M26.7 160.6h.7M29.3 159.2h.7M42.7 160.1h.7M27.5 157.8h.7M44.8 166.8h.7M40.3 159.9h.7M37.2 151.8h.7M36.7 153.3h.7M24.8 152.9h.7" stroke="#000" stroke-width=".7" stroke-opacity=".4" fill="none"/>
<path d="M28.5 158.3h.7M38.3 163.1h.7M42.4 174.5h.7M39.8 164.4h.7M41.3 156.1h.7M37.8 155.6h.7M34.9 159.6h.7M31.2 155.1h.7M32.7 160.7h.7M28.9 159.0h.7M27.6 163.1h.7M35.6 171.2h.7M36.2 155.9h.7M36.5 159.2h.7M42.8 151.1h.7M40.5 160.5h.7M44.4 156.0h.7M39.2 153.4h.7M39.3 156.4h.7M35.9 166.0h.7M41.5 168.0h.7M37.1 166.4h.7M27.9 168.2h.7M36.4 158.1h.7M25.9 158.9h.7M27.6 150.2h.7M39.0 160.4h.7M34.0 161.4h.7M36.1 167.9h.7M25.8 159.3h.7M42.4 155.7h.7M33.5 163.7h.7M30.4 173.6h.7M37.3 166.9h.7M35.5 158.1h.7M32.2 159.1h.7M38.4 162.1h.7M31.9 157.4h.7M38.2 162.9h.7M33.6 163.6h.7M45.5 152.6h.7M36.4 149.6h.7M44.2 162.5h.7M35.8 154.7h.7M33.6 161.1h.7M30.0 147.8h.7M31.8 158.9h.7M34.4 154.9h.7M32.6 165.3h.7M45.8 171.2h.7M25.4 174.3h.7M31.9 155.8h.7M25.3 165.2h.7M37.4 170.6h.7M37.8 167.6h.7M29.9 165.0h.7M42.2 165.3h.7M38.9 161.3h.7M34.6 165.5h.7M38.4 151.3h.7M30.9 157.8h.7M37.5 165.4h.7M47.8 156.8h.7M32.0 162.1h.7M36.8 164.0h.7M30.6 174.0h.7M34.9 160.8h.7M47.6 164.3h.7M42.5 159.6h.7M44.2 163.6h.7M42.5 163.5h.7M39.9 155.5h.7M32.6 153.4h.7M32.9 159.9h.7M27.2 165.0h.7M38.9 163.4h.7M28.6 172.1h.7M39.6 171.1h.7M27.1 165.7h.7M38.1 153.7h.7M30.3 152.8h.7M25.9 170.2h.7M40.6 157.2h.7M33.6 155.7h.7M31.2 155.8h.7M29.7 166.6h.7M37.2 170.5h.7M41.2 162.6h.7M29.5 168.0h.7M38.3 164.0h.7M32.4 169.8h.7M32.0 167.2h.7M30.3 165.5h.7M37.6 166.4h.7M28.5 160.7h.7M40.4 164.1h.7M32.2 168.4h.7M36.9 172.8h.7M37.9 156.6h.7M34.4 166.5h.7M39.6 160.0h.7M30.5 159.6h.7M24.5 155.5h.7M32.4 154.5h.7M36.9 165.5h.7M38.4 162.2h.7M48.2 160.7h.7M44.9 160.6h.7M27.4 154.5h.7M36.7 156.4h.7M39.8 160.3h.7M34.8 151.7h.7" stroke="#000" stroke-width=".7" stroke-opacity=".4" fill="none"/>
<path d="M35.8 142.8h.7M38.8 142.3h.7M34.2 145.1h.7M35.0 142.7h.7M38.7 139.1h.7M35.4 144.6h.7M36.2 140.2h.7M30.5 145.4h.7M32.2 144.6h.7M33.6 141.6h.7M33.2 145.8h.7M34.5 142.6h.7M35.7 144.6h.7M33.8 138.4h.7M36.4 143.2h.7M33.3 140.2h.7M35.3 144.2h.7M35.8 146.9h.7M32.9 140.5h.7M38.2 141.7h.7M31.6 142.8h.7M33.5 140.2h.7M40.3 138.9h.7M34.2 141.8h.7M41.8 142.3h.7M36.3 140.9h.7M33.9 143.8h.7M34.1 141.9h.7M33.9 141.8h.7M33.4 143.5h.7M36.3 141.9h.7M35.2 139.6h.7M33.9 139.5h.7M30.4 142.4h.7M32.5 138.1h.7M36.8 144.0h.7M33.3 138.7h.7M33.9 145.0h.7M39.5 141.2h.7M40.0 137.9h.7M35.5 142.4h.7M37.8 142.5h.7M39.1 142.8h.7M31.0 144.2h.7M36.8 141.4h.7M32.2 140.3h.7M39.9 141.1h.7M34.1 140.1h.7M36.5 141.2h.7M32.1 138.6h.7M30.2 143.0h.7M31.1 141.0h.7M39.7 142.9h.7M35.4 139.5h.7M38.2 140.1h.7M36.6 144.7h.7M40.0 144.1h.7M35.3 146.1h.7M33.8 143.4h.7M32.6 140.7h.7M34.3 148.7h.7M33.6 135.1h.7M30.4 149.8h.7M38.3 141.5h.7M32.3 143.0h.7" stroke="#333" stroke-width=".7" stroke-opacity=".4" fill="none"/>
<path d="M33.1 145.4h.7M36.1 142.7h.7M33.5 134.3h.7M37.1 138.3h.7M36.6 143.5h.7M33.6 147.2h.7M42.0 141.4h.7M39.1 139.8h.7M35.1 138.7h.7M37.6 145.8h.7M30.8 143.4h.7M33.7 139.4h.7M28.9 141.6h.7M31.3 142.9h.7M29.5 137.1h.7M39.7 140.3h.7M39.4 142.5h.7M33.8 136.3h.7M38.5 142.3h.7M35.0 139.8h.7M35.9 143.0h.7M35.9 143.1h.7M37.6 143.9h.7M34.8 145.7h.7M34.2 144.1h.7M37.0 143.9h.7M28.8 137.8h.7M31.0 145.6h.7M34.8 143.6h.7M32.7 137.2h.7M37.3 135.9h.7M34.4 140.3h.7M37.7 136.5h.7M40.4 139.2h.7M32.2 145.0h.7M35.9 142.1h.7M36.6 148.5h.7M33.0 141.5h.7M36.6 139.8h.7M36.4 140.7h.7M38.5 143.9h.7M32.0 145.2h.7M37.1 140.7h.7M33.0 146.9h.7M33.3 141.7h.7M39.2 140.6h.7M36.0 138.8h.7M31.2 146.9h.7M31.9 141.5h.7M34.4 147.6h.7M33.4 133.1h.7M35.1 139.3h.7M33.2 136.7h.7M37.7 138.4h.7M35.4 140.6h.7M33.4 138.8h.7M40.1 144.1h.7M33.1 140.2h.7M32.6 140.9h.7M37.9 144.6h.7M33.0 142.7h.7M31.7 145.0h.7M34.6 142.2h.7M33.2 139.7h.7M33.6 142.9h.7" stroke="#333" stroke-width=".7" stroke-opacity=".4" fill="none"/>
<path d="M56.4 140.4h.7M59.1 143.5h.7M57.0 142.7h.7" stroke="#999" stroke-width=".7" stroke-opacity=".4" fill="none"/>
<path d="M63.3 141.9h.7M59.8 144.1h.7" stroke="#999" stroke-width=".7" stroke-opacity=".4" fill="none"/>
</g>
<line x1="22.8" y1="120.2" x2="22.8" y2="177.2" stroke="#222" stroke-width="1.4" stroke-dasharray="1 .7 1 .7 1 .7 1 .7 1 .7 1.5 2"/>
<line x1="25.5" y1="178.7" x2="81.7" y2="178.7" stroke="#222" stroke-width="1.4" stroke-dasharray="1 .7 1 .7 1 .7 1 .7 1 .7 1.5 2"/>
<line x1="23.5" y1="119.7" x2="82.2" y2="119.7" stroke="#000" stroke-width="1"/>
<line x1="81.7" y1="119.2" x2="81.7" y2="178.0" stroke="#000" stroke-width="1"/>
<line x1="24.35" y1="119.2" x2="24.35" y2="178.0" stroke="#000" stroke-width="1.7"/>
<line x1="23.5" y1="177.2" x2="82.2" y2="177.2" stroke="#000" stroke-width="1.5"/>
<line x1="48.8" y1="119.2" x2="48.8" y2="177.2" stroke="#62489a" stroke-width="1.5"/>
<line x1="23.5" y1="150.8" x2="81.7" y2="150.8" stroke="#62489a" stroke-width="1.5"/>
<text x="25.6" y="127.6" font-size="7.8" text-anchor="start" fill="#111" font-weight="normal" font-style="normal" >5.9</text>
<text x="80.3" y="127.6" font-size="7.8" text-anchor="end" fill="#111" font-weight="normal" font-style="normal" >0.2</text>
<text x="25.6" y="175.6" font-size="7.8" text-anchor="start" fill="#111" font-weight="normal" font-style="normal" >93.9</text>
<text x="80.3" y="175.6" font-size="7.8" text-anchor="end" fill="#111" font-weight="normal" font-style="normal" >0.0</text>
<clipPath id="c2_1"><rect x="86.8" y="120.2" width="56" height="56.5"/></clipPath>
<g clip-path="url(#c2_1)">
<ellipse cx="0" cy="0" rx="10.9" ry="10.9" fill="url(#rg)" opacity="1.0" transform="translate(95.1 163.0) rotate(0)"/>
<ellipse cx="0" cy="0" rx="16.9" ry="16.9" fill="url(#rg)" opacity="0.28" transform="translate(95.8 161.7) rotate(0)"/>
<ellipse cx="0" cy="0" rx="7.8" ry="7.3" fill="url(#rgg)" opacity="0.34" transform="translate(96.4 141.4) rotate(90)"/>
<path d="M90.9 165.7h.7M91.7 164.7h.7M96.2 158.7h.7M94.6 165.8h.7M87.6 164.4h.7M98.9 167.0h.7M92.6 161.3h.7M91.3 163.9h.7M97.5 162.4h.7M101.4 165.1h.7M86.4 166.8h.7M93.1 156.8h.7M101.6 155.6h.7M94.4 160.9h.7M93.2 166.1h.7M95.2 162.4h.7M92.7 162.3h.7M91.9 162.5h.7M94.1 165.8h.7M97.5 160.1h.7M97.2 164.2h.7M95.7 165.6h.7M88.9 163.7h.7M102.0 166.0h.7M93.4 166.2h.7M94.7 161.3h.7M92.2 159.4h.7M87.7 150.6h.7M98.7 165.3h.7M93.3 162.9h.7M92.1 160.0h.7M93.0 156.8h.7M95.9 162.1h.7M90.2 159.7h.7M89.4 160.1h.7M94.6 167.1h.7M89.4 157.8h.7M93.7 164.0h.7M99.3 163.0h.7M96.2 162.9h.7M95.1 166.6h.7M90.4 167.1h.7M99.2 163.1h.7M91.1 164.5h.7M104.3 164.3h.7M98.7 163.1h.7M98.7 159.2h.7M96.5 166.9h.7M101.3 159.7h.7M94.2 167.1h.7M96.7 162.5h.7M99.5 161.6h.7M91.1 164.0h.7M98.4 162.9h.7M99.2 158.6h.7M98.1 164.7h.7M98.0 169.7h.7M88.6 164.5h.7M93.6 159.1h.7M97.6 160.4h.7M95.1 170.6h.7M87.3 167.3h.7M96.5 162.5h.7M96.1 162.7h.7M97.4 158.0h.7M103.0 160.0h.7M92.4 160.7h.7M99.7 166.8h.7M99.9 158.0h.7M97.9 156.1h.7M94.1 154.6h.7M97.9 164.7h.7M96.0 168.4h.7M92.1 165.2h.7M90.8 168.1h.7M96.6 166.6h.7M93.6 166.6h.7M101.7 158.2h.7M102.5 167.6h.7M98.7 160.7h.7M89.3 167.2h.7M97.6 164.4h.7M98.6 161.7h.7M95.5 164.0h.7M90.6 161.9h.7M97.1 164.2h.7M95.1 159.9h.7M92.0 164.4h.7M103.4 155.2h.7M94.0 160.4h.7M91.4 169.5h.7M89.9 163.6h.7M99.2 161.0h.7M101.6 169.8h.7M97.4 168.7h.7M97.6 166.5h.7M89.3 162.5h.7M94.5 165.8h.7M98.5 159.5h.7M99.8 164.4h.7M97.5 164.5h.7M97.1 162.5h.7M95.4 162.0h.7M92.8 164.3h.7M89.9 162.7h.7M91.8 165.3h.7M95.9 158.4h.7M98.4 161.7h.7M101.2 158.0h.7M94.9 164.0h.7M94.2 158.1h.7M93.7 166.0h.7M98.6 166.5h.7M89.1 157.1h.7M94.2 160.3h.7M93.6 167.7h.7M98.5 166.0h.7M101.5 167.5h.7M91.9 172.9h.7M93.6 160.3h.7M94.5 168.6h.7M97.8 164.5h.7M91.1 165.3h.7M92.7 157.7h.7M97.2 165.6h.7M98.2 160.1h.7M103.3 159.2h.7M86.0 168.3h.7M99.2 163.6h.7M97.6 154.4h.7M91.6 163.1h.7M95.0 161.6h.7M97.6 165.8h.7M97.0 164.5h.7M96.3 158.8h.7M92.8 168.2h.7M93.9 157.7h.7M95.2 162.1h.7M96.3 160.8h.7M98.8 168.3h.7M89.6 165.2h.7M98.0 152.4h.7M91.2 163.1h.7M92.5 155.7h.7M88.9 164.9h.7M96.6 159.9h.7M101.6 169.2h.7M88.5 161.8h.7" stroke="#000" stroke-width=".7" stroke-opacity=".4" fill="none"/>
<path d="M105.3 169.1h.7M97.1 160.1h.7M99.2 166.7h.7M105.0 162.4h.7M93.4 159.9h.7M97.7 169.6h.7M96.9 152.2h.7M94.4 163.2h.7M99.5 160.5h.7M94.6 163.5h.7M98.0 163.6h.7M95.1 163.4h.7M101.3 170.4h.7M97.5 158.3h.7M92.7 159.9h.7M101.8 166.7h.7M94.2 162.9h.7M98.7 162.1h.7M95.5 162.7h.7M95.0 159.0h.7M98.4 166.3h.7M89.7 162.2h.7M90.6 162.4h.7M95.5 163.5h.7M94.4 160.7h.7M98.9 161.0h.7M98.0 163.8h.7M100.5 157.4h.7M103.5 160.8h.7M98.6 167.6h.7M99.2 165.2h.7M89.2 164.1h.7M92.9 164.3h.7M95.8 165.6h.7M99.2 166.0h.7M101.2 166.0h.7M100.8 168.7h.7M93.1 162.8h.7M101.3 167.4h.7M102.0 164.9h.7M87.6 171.7h.7M104.5 162.2h.7M96.2 159.2h.7M91.3 152.9h.7M90.9 166.9h.7M96.1 162.7h.7M99.5 168.7h.7M97.9 162.0h.7M92.4 163.8h.7M94.4 165.9h.7M91.0 157.0h.7M96.5 166.9h.7M93.6 155.3h.7M96.1 157.1h.7M99.7 161.6h.7M87.5 159.8h.7M87.3 163.6h.7M98.4 165.1h.7M87.0 161.8h.7M91.0 162.5h.7M96.4 165.9h.7M93.9 160.1h.7M98.0 162.3h.7M98.8 163.0h.7M91.5 154.2h.7M96.8 165.6h.7M95.8 166.8h.7M97.0 171.2h.7M91.2 165.6h.7M95.2 162.2h.7M98.1 163.0h.7M86.6 160.9h.7M98.3 156.3h.7M88.7 165.6h.7M95.6 156.5h.7M94.7 167.9h.7M93.5 163.9h.7M92.8 167.4h.7M94.5 165.2h.7M95.5 156.1h.7M96.0 164.6h.7M99.0 165.3h.7M89.4 161.0h.7M95.3 164.5h.7M97.2 163.0h.7M99.1 160.3h.7M91.5 151.8h.7M92.6 166.7h.7M95.6 163.8h.7M99.2 162.4h.7M95.3 163.2h.7M92.1 162.5h.7M96.6 167.3h.7M101.8 162.6h.7M93.5 158.8h.7M96.8 167.3h.7M100.7 161.8h.7M91.9 158.3h.7M87.5 157.0h.7M93.5 168.4h.7M97.4 152.2h.7M89.4 163.7h.7M98.4 166.5h.7M90.3 167.5h.7M101.5 166.1h.7M92.2 156.5h.7M96.6 162.2h.7M92.0 162.3h.7M94.5 164.3h.7M97.4 163.7h.7M86.9 163.1h.7M98.6 162.5h.7M91.3 160.2h.7M103.5 161.2h.7M90.2 163.4h.7M91.0 160.3h.7M97.7 168.4h.7M100.0 164.8h.7M102.7 163.9h.7M94.0 165.1h.7M96.9 158.6h.7M95.7 166.2h.7M95.6 165.4h.7M90.7 160.0h.7M87.0 164.5h.7M104.3 163.7h.7M98.1 158.5h.7M93.4 166.0h.7M91.2 163.8h.7M99.0 161.0h.7M101.4 160.4h.7M102.2 160.2h.7M91.3 157.8h.7M92.0 163.9h.7M94.4 163.2h.7M94.5 166.1h.7M94.1 158.7h.7M97.6 156.7h.7M93.9 164.7h.7M98.5 161.2h.7M96.7 166.7h.7M88.9 162.3h.7M91.9 160.0h.7M97.8 158.4h.7M92.2 154.7h.7M98.7 159.8h.7M99.5 169.9h.7M92.5 161.1h.7M95.1 165.5h.7M93.9 162.4h.7" stroke="#000" stroke-width=".7" stroke-opacity=".4" fill="none"/>
<path d="M97.7 152.1h.7M96.2 151.8h.7M108.4 163.9h.7M93.3 168.9h.7M99.5 166.2h.7M96.3 160.2h.7M89.3 160.6h.7M98.1 154.3h.7M96.8 161.2h.7M89.2 161.4h.7M91.5 162.4h.7M86.7 168.6h.7M96.6 172.9h.7M95.3 168.3h.7M97.0 149.1h.7M94.5 166.7h.7M91.7 156.8h.7M100.1 174.0h.7M98.7 158.2h.7M102.2 162.3h.7M95.3 164.4h.7M92.0 162.7h.7M100.3 161.6h.7M94.2 158.7h.7M101.8 165.1h.7M95.0 156.1h.7M96.8 159.6h.7M92.7 164.5h.7M99.2 167.6h.7M105.3 159.6h.7M86.6 156.4h.7M96.0 161.5h.7M94.2 159.8h.7M104.0 171.2h.7M89.6 167.2h.7M91.0 167.9h.7M99.7 164.9h.7M98.1 164.7h.7M107.0 168.4h.7M103.6 159.8h.7M101.9 165.6h.7M98.1 162.8h.7M106.2 157.3h.7M97.7 165.9h.7M94.5 166.1h.7M86.1 157.7h.7M90.7 159.2h.7M104.1 158.8h.7M86.1 159.0h.7M114.1 167.7h.7M103.9 166.4h.7M99.6 165.7h.7M99.9 164.4h.7M100.2 159.7h.7M100.8 158.9h.7M97.7 174.5h.7M97.7 172.7h.7M88.4 157.9h.7M92.5 149.4h.7M97.8 155.1h.7M96.9 149.6h.7M103.9 162.9h.7M103.3 170.1h.7M98.9 157.4h.7M100.9 162.9h.7M108.7 167.4h.7M97.9 161.5h.7M98.7 167.7h.7M95.7 155.8h.7M91.2 156.9h.7M94.4 164.7h.7M97.1 167.7h.7M98.7 173.9h.7M98.5 152.9h.7M91.3 153.4h.7M96.4 162.2h.7M108.2 149.5h.7M94.6 161.1h.7M93.7 168.4h.7M96.5 149.4h.7M98.8 151.6h.7M98.0 157.3h.7M93.2 159.8h.7M106.0 170.7h.7M95.1 153.1h.7M97.4 157.8h.7M97.6 165.9h.7M92.1 163.4h.7M86.5 171.4h.7M93.0 158.8h.7M100.9 163.9h.7M95.5 164.2h.7M112.5 162.1h.7M91.2 171.8h.7M100.9 162.8h.7M92.1 159.9h.7M93.1 163.6h.7M98.4 157.8h.7M103.7 163.8h.7M88.7 154.0h.7M86.2 161.0h.7M95.8 150.9h.7M98.3 166.5h.7M94.4 165.1h.7M96.8 159.6h.7M99.1 156.1h.7M90.4 159.5h.7M104.5 165.2h.7" stroke="#000" stroke-width=".7" stroke-opacity=".4" fill="none"/>
<path d="M89.1 174.8h.7M100.5 164.7h.7M92.8 152.2h.7M100.5 163.0h.7M101.5 165.6h.7M94.0 164.3h.7M100.0 174.8h.7M93.0 169.1h.7M102.4 161.3h.7M88.5 171.9h.7M86.9 155.4h.7M95.1 158.0h.7M103.3 153.1h.7M86.7 159.2h.7M96.7 156.8h.7M101.1 170.8h.7M89.0 170.7h.7M90.9 150.9h.7M86.6 160.5h.7M88.9 159.9h.7M103.6 168.5h.7M92.5 162.5h.7M92.5 162.9h.7M87.5 164.8h.7M99.4 156.6h.7M91.4 157.4h.7M101.9 147.9h.7M88.8 165.6h.7M93.0 160.0h.7M102.2 161.6h.7M87.1 150.2h.7M97.3 161.0h.7M96.1 154.8h.7M96.0 175.7h.7M96.5 167.5h.7M94.1 171.5h.7M105.0 160.1h.7M96.3 152.8h.7M96.4 162.5h.7M100.9 165.2h.7M104.2 164.1h.7M93.7 166.1h.7M91.0 168.9h.7M95.5 163.2h.7M97.5 168.2h.7M95.4 159.8h.7M103.1 153.4h.7M106.9 162.8h.7M106.0 158.2h.7M100.8 166.3h.7M103.5 164.3h.7M96.7 156.4h.7M87.9 152.6h.7M98.3 160.5h.7M106.1 169.6h.7M101.1 167.2h.7M96.9 160.4h.7M91.1 161.1h.7M95.0 172.9h.7M94.7 161.7h.7M104.6 163.8h.7M105.7 162.9h.7M88.1 163.0h.7M101.1 160.7h.7M89.9 168.2h.7M97.7 151.1h.7M90.8 149.9h.7M100.4 175.8h.7M95.7 170.5h.7M95.5 164.4h.7M97.6 167.1h.7M92.7 159.6h.7M106.0 161.0h.7M101.2 159.5h.7M102.4 158.9h.7M94.6 154.5h.7M95.7 166.0h.7M97.9 163.2h.7M99.1 171.0h.7M92.3 169.5h.7M95.2 162.4h.7M91.9 163.1h.7M88.0 176.1h.7M86.4 162.6h.7M90.8 160.4h.7M99.4 147.0h.7M98.3 166.7h.7M88.3 160.5h.7M91.0 166.8h.7M87.8 157.9h.7M92.4 160.1h.7M94.0 146.5h.7M101.3 154.4h.7M90.9 166.7h.7M96.0 163.1h.7M95.9 163.0h.7M87.3 161.3h.7M97.3 157.2h.7M90.1 159.4h.7M86.0 165.8h.7M92.5 163.2h.7M93.7 160.8h.7M91.6 160.7h.7M89.1 170.1h.7M108.3 157.0h.7M99.3 171.0h.7M96.3 165.8h.7" stroke="#000" stroke-width=".7" stroke-opacity=".4" fill="none"/>
<path d="M94.3 139.4h.7M97.1 138.5h.7M99.0 141.5h.7M104.0 150.4h.7M88.6 144.6h.7M93.9 137.7h.7M97.8 144.4h.7M96.9 142.1h.7M97.6 141.6h.7M93.6 145.9h.7M97.2 141.0h.7M95.8 142.3h.7M93.9 139.8h.7M94.2 140.3h.7M96.7 145.4h.7M94.8 144.8h.7M98.6 139.4h.7M96.5 139.6h.7M99.4 141.7h.7M92.4 146.2h.7M94.2 138.7h.7M94.9 136.2h.7M93.7 141.1h.7M93.2 142.8h.7M93.4 139.6h.7M98.2 146.2h.7M91.4 138.5h.7M94.1 144.1h.7M99.9 136.3h.7M98.9 140.5h.7M94.9 142.6h.7M98.8 142.9h.7M93.7 142.3h.7M96.5 139.3h.7M95.1 143.1h.7M96.2 141.6h.7M97.6 144.6h.7M99.4 144.6h.7M98.7 139.8h.7M97.9 139.3h.7M98.5 137.0h.7M98.9 141.2h.7M94.9 139.9h.7M93.8 146.3h.7M95.9 136.6h.7M101.4 138.4h.7M97.9 142.4h.7M98.8 140.6h.7M100.2 137.7h.7M102.8 143.0h.7M93.2 141.7h.7M98.4 146.3h.7M100.1 138.4h.7M94.1 142.7h.7M98.4 145.5h.7M94.8 134.8h.7M96.4 143.4h.7M93.8 138.6h.7M99.8 140.7h.7M93.9 141.8h.7M93.4 141.2h.7M100.1 141.1h.7M93.5 138.9h.7M97.1 149.9h.7M93.8 141.8h.7M94.5 144.8h.7M93.2 140.1h.7M96.3 141.2h.7M96.3 138.7h.7M94.4 145.2h.7" stroke="#333" stroke-width=".7" stroke-opacity=".4" fill="none"/>
<path d="M97.9 142.0h.7M97.1 137.3h.7M94.7 140.1h.7M94.6 145.3h.7M96.5 142.2h.7M97.1 140.2h.7M96.1 143.0h.7M95.0 142.1h.7M95.2 137.3h.7M99.2 142.3h.7M98.3 144.2h.7M99.0 136.9h.7M93.3 140.2h.7M97.7 138.1h.7M97.0 137.9h.7M95.7 139.6h.7M93.4 143.2h.7M97.7 144.6h.7M97.7 142.8h.7M94.7 139.8h.7M99.4 141.4h.7M96.9 141.3h.7M91.5 143.3h.7M96.7 135.4h.7M98.6 143.1h.7M95.7 140.0h.7M98.0 139.0h.7M89.8 145.4h.7M97.7 141.4h.7M96.1 145.5h.7M98.2 141.1h.7M98.7 136.6h.7M99.6 145.5h.7M93.5 135.9h.7M96.3 137.2h.7M94.4 145.6h.7M96.7 138.6h.7M94.9 137.6h.7M93.3 141.2h.7M96.6 144.3h.7M98.4 146.5h.7M97.5 136.9h.7M102.0 141.4h.7M99.8 136.7h.7M99.2 134.9h.7M93.7 147.5h.7M98.8 138.6h.7M97.9 142.1h.7M92.7 143.3h.7M96.0 143.4h.7M92.0 141.8h.7M95.1 144.1h.7M95.7 136.1h.7M91.0 140.6h.7M89.8 142.5h.7M93.7 143.1h.7M95.7 143.3h.7M96.0 136.4h.7M93.8 139.0h.7M95.5 143.9h.7M92.4 140.1h.7M98.8 141.3h.7M93.4 142.4h.7M100.9 143.9h.7M94.0 148.2h.7M92.8 143.6h.7M96.9 141.8h.7M94.1 141.1h.7M98.0 141.9h.7M94.9 136.0h.7" stroke="#333" stroke-width=".7" stroke-opacity=".4" fill="none"/>
<path d="M123.3 140.5h.7M119.1 143.4h.7M120.9 144.2h.7" stroke="#999" stroke-width=".7" stroke-opacity=".4" fill="none"/>
<path d="M123.6 142.1h.7M121.7 143.0h.7" stroke="#999" stroke-width=".7" stroke-opacity=".4" fill="none"/>
</g>
<line x1="84.39999999999999" y1="120.2" x2="84.39999999999999" y2="177.2" stroke="#222" stroke-width="1.4" stroke-dasharray="1 .7 1 .7 1 .7 1 .7 1 .7 1.5 2"/>
<line x1="87.1" y1="178.7" x2="143.3" y2="178.7" stroke="#222" stroke-width="1.4" stroke-dasharray="1 .7 1 .7 1 .7 1 .7 1 .7 1.5 2"/>
<line x1="85.1" y1="119.7" x2="143.8" y2="119.7" stroke="#000" stroke-width="1"/>
<line x1="143.3" y1="119.2" x2="143.3" y2="178.0" stroke="#000" stroke-width="1"/>
<line x1="85.94999999999999" y1="119.2" x2="85.94999999999999" y2="178.0" stroke="#000" stroke-width="1.7"/>
<line x1="85.1" y1="177.2" x2="143.8" y2="177.2" stroke="#000" stroke-width="1.5"/>
<line x1="110.39999999999999" y1="119.2" x2="110.39999999999999" y2="177.2" stroke="#62489a" stroke-width="1.5"/>
<line x1="85.1" y1="150.8" x2="143.3" y2="150.8" stroke="#62489a" stroke-width="1.5"/>
<text x="87.19999999999999" y="127.6" font-size="7.8" text-anchor="start" fill="#111" font-weight="normal" font-style="normal" >6.4</text>
<text x="141.89999999999998" y="127.6" font-size="7.8" text-anchor="end" fill="#111" font-weight="normal" font-style="normal" >0.2</text>
<text x="87.19999999999999" y="175.6" font-size="7.8" text-anchor="start" fill="#111" font-weight="normal" font-style="normal" >93.4</text>
<text x="141.89999999999998" y="175.6" font-size="7.8" text-anchor="end" fill="#111" font-weight="normal" font-style="normal" >0.0</text>
<clipPath id="c2_2"><rect x="148.39999999999998" y="120.2" width="56" height="56.5"/></clipPath>
<g clip-path="url(#c2_2)">
<ellipse cx="0" cy="0" rx="10.9" ry="10.9" fill="url(#rg)" opacity="1.0" transform="translate(156.7 163.0) rotate(0)"/>
<ellipse cx="0" cy="0" rx="16.9" ry="16.9" fill="url(#rg)" opacity="0.28" transform="translate(157.4 161.7) rotate(0)"/>
<ellipse cx="0" cy="0" rx="7.8" ry="7.3" fill="url(#rgg)" opacity="0.36" transform="translate(158.0 141.4) rotate(90)"/>
<path d="M160.5 161.7h.7M157.0 159.1h.7M154.9 167.6h.7M160.5 162.3h.7M163.3 158.0h.7M157.3 170.3h.7M158.8 154.9h.7M158.1 160.0h.7M153.9 165.2h.7M151.6 162.0h.7M163.1 165.0h.7M151.3 164.3h.7M157.8 167.7h.7M156.0 165.0h.7M157.1 162.3h.7M147.9 162.6h.7M156.6 164.8h.7M153.7 157.2h.7M151.2 169.3h.7M167.1 163.6h.7M158.1 168.1h.7M156.1 161.3h.7M159.0 158.1h.7M158.4 156.1h.7M149.5 167.2h.7M157.0 164.1h.7M151.9 162.5h.7M153.3 159.2h.7M160.4 160.6h.7M150.1 167.9h.7M159.1 165.3h.7M162.5 158.4h.7M147.8 161.9h.7M166.9 162.2h.7M155.4 157.3h.7M158.2 163.2h.7M155.6 165.2h.7M153.6 161.8h.7M157.4 168.8h.7M154.1 165.2h.7M152.7 158.2h.7M154.7 162.6h.7M161.5 172.4h.7M164.6 164.6h.7M154.5 166.2h.7M150.7 164.2h.7M153.2 158.0h.7M159.9 158.4h.7M157.9 167.0h.7M149.4 158.6h.7M155.9 159.8h.7M157.2 159.9h.7M155.4 161.6h.7M151.6 157.6h.7M152.9 159.2h.7M155.2 159.4h.7M157.8 169.5h.7M161.2 164.8h.7M156.3 170.9h.7M160.7 166.6h.7M155.0 165.8h.7M160.8 162.6h.7M156.7 154.0h.7M154.1 160.5h.7M153.6 159.1h.7M156.5 159.6h.7M160.8 164.5h.7M154.8 166.2h.7M157.8 171.7h.7M152.3 172.4h.7M156.6 162.8h.7M157.7 167.3h.7M157.9 157.6h.7M154.6 161.9h.7M160.0 161.1h.7M163.0 156.9h.7M156.4 158.5h.7M156.2 165.0h.7M157.5 169.1h.7M152.0 165.7h.7M155.0 164.9h.7M157.5 168.5h.7M157.8 163.4h.7M155.7 167.9h.7M153.8 163.5h.7M160.3 161.8h.7M155.7 162.5h.7M158.5 163.5h.7M153.8 161.9h.7M156.2 167.6h.7M154.6 163.5h.7M156.4 155.7h.7M156.6 155.6h.7M162.2 158.7h.7M161.8 154.9h.7M158.5 156.8h.7M155.1 169.2h.7M161.3 169.1h.7M155.3 162.7h.7M160.1 158.9h.7M164.7 163.9h.7M149.9 160.1h.7M163.9 158.1h.7M162.7 162.4h.7M154.9 163.8h.7M155.4 158.5h.7M153.6 164.5h.7M152.0 166.2h.7M148.7 163.7h.7M156.9 159.4h.7M161.3 168.5h.7M157.1 165.2h.7M164.8 173.5h.7M164.0 162.2h.7M158.8 166.3h.7M158.6 165.7h.7M158.2 166.8h.7M157.7 161.1h.7M156.2 164.3h.7M154.4 159.4h.7M158.8 162.9h.7M148.6 162.9h.7M156.8 167.5h.7M157.0 167.1h.7M159.8 165.5h.7M157.1 166.5h.7M158.3 163.9h.7M147.8 166.8h.7M160.3 166.9h.7M157.1 159.0h.7M160.2 169.8h.7M147.6 162.0h.7M155.8 163.0h.7M157.1 162.7h.7M154.4 157.6h.7M158.8 162.8h.7M160.5 161.2h.7M156.0 164.6h.7M157.8 161.4h.7M159.3 159.2h.7M152.8 164.5h.7M160.4 162.6h.7M155.9 164.2h.7M162.4 162.3h.7M156.2 164.0h.7M153.0 170.1h.7M156.1 164.5h.7M158.4 159.3h.7M155.6 156.7h.7" stroke="#000" stroke-width=".7" stroke-opacity=".4" fill="none"/>
<path d="M150.7 162.9h.7M156.0 169.1h.7M153.0 159.1h.7M157.6 167.2h.7M159.1 164.0h.7M155.8 160.6h.7M158.2 159.4h.7M158.8 162.0h.7M159.8 156.6h.7M155.2 168.4h.7M161.2 161.7h.7M149.7 169.6h.7M154.2 156.5h.7M155.9 161.0h.7M162.3 157.7h.7M157.8 156.8h.7M158.1 164.3h.7M160.6 161.6h.7M159.7 151.7h.7M150.3 166.9h.7M156.8 156.3h.7M157.9 162.3h.7M154.6 160.9h.7M156.8 172.7h.7M157.1 167.0h.7M158.2 164.9h.7M164.1 168.8h.7M156.1 167.3h.7M162.7 165.7h.7M164.1 167.4h.7M154.7 163.0h.7M156.7 162.8h.7M155.9 162.5h.7M161.2 163.1h.7M153.6 156.6h.7M156.2 166.0h.7M157.3 162.6h.7M155.0 163.6h.7M157.6 160.0h.7M155.6 163.6h.7M157.3 172.5h.7M157.3 163.9h.7M159.4 161.0h.7M154.3 160.3h.7M156.3 165.2h.7M161.2 163.1h.7M151.5 152.8h.7M162.1 170.2h.7M154.6 159.8h.7M150.8 162.8h.7M156.8 157.7h.7M154.9 162.7h.7M153.4 166.0h.7M164.7 162.0h.7M162.6 165.1h.7M151.9 156.2h.7M154.6 166.2h.7M151.6 164.5h.7M155.3 161.4h.7M155.1 162.4h.7M157.7 162.5h.7M152.9 164.5h.7M156.9 172.3h.7M149.5 164.9h.7M155.0 167.0h.7M161.4 167.1h.7M157.3 166.1h.7M151.6 164.5h.7M154.6 161.5h.7M163.6 162.8h.7M162.8 159.1h.7M158.7 168.8h.7M161.5 164.8h.7M155.4 161.5h.7M154.6 169.4h.7M157.7 162.1h.7M159.9 156.9h.7M151.3 162.6h.7M153.3 161.6h.7M151.4 157.3h.7M154.7 164.7h.7M156.6 160.7h.7M158.5 168.2h.7M154.1 157.6h.7M157.7 157.2h.7M155.1 167.2h.7M157.6 161.2h.7M152.6 162.3h.7M154.9 172.9h.7M156.6 160.5h.7M161.2 160.6h.7M159.0 157.7h.7M153.7 165.7h.7M149.9 169.6h.7M154.9 165.9h.7M153.8 163.7h.7M157.6 165.4h.7M154.4 164.6h.7M152.0 163.2h.7M157.2 162.8h.7M162.8 154.3h.7M164.9 173.8h.7M159.1 160.7h.7M155.5 165.7h.7M151.2 163.4h.7M152.5 165.5h.7M161.1 159.6h.7M158.6 166.1h.7M161.9 160.0h.7M157.4 157.6h.7M156.9 152.2h.7M165.8 158.7h.7M150.9 161.6h.7M158.2 152.2h.7M163.1 156.6h.7M152.7 156.4h.7M156.3 162.1h.7M154.5 162.8h.7M158.1 159.5h.7M161.0 165.4h.7M159.3 163.4h.7M159.4 157.4h.7M157.3 157.7h.7M161.3 163.7h.7M152.2 170.1h.7M159.7 166.3h.7M156.2 159.7h.7M158.2 160.4h.7M166.8 160.2h.7M153.2 160.8h.7M151.3 163.6h.7M156.8 161.0h.7M153.8 161.7h.7M156.5 155.2h.7M157.3 167.8h.7M158.1 167.9h.7M158.3 158.7h.7M155.6 164.8h.7M155.6 162.2h.7M155.8 160.0h.7M152.0 162.6h.7M165.7 165.3h.7M158.5 165.0h.7M154.8 165.9h.7M157.2 156.2h.7M157.5 161.2h.7M151.4 160.7h.7" stroke="#000" stroke-width=".7" stroke-opacity=".4" fill="none"/>
<path d="M150.7 163.2h.7M160.8 156.9h.7M162.2 170.6h.7M161.2 162.9h.7M155.1 168.9h.7M156.2 150.0h.7M155.5 157.6h.7M166.7 149.1h.7M153.2 166.7h.7M160.9 160.3h.7M168.2 156.4h.7M156.7 158.7h.7M153.5 163.4h.7M151.4 149.7h.7M154.0 167.6h.7M160.0 152.5h.7M155.5 172.5h.7M160.1 165.2h.7M166.0 174.5h.7M152.9 160.4h.7M164.8 149.1h.7M155.7 148.7h.7M172.8 155.7h.7M151.2 156.3h.7M159.2 168.2h.7M156.6 158.8h.7M158.1 156.5h.7M153.2 173.7h.7M156.0 161.2h.7M161.8 166.1h.7M163.1 158.7h.7M157.3 157.9h.7M158.4 159.8h.7M162.8 160.5h.7M165.4 161.0h.7M160.0 151.6h.7M149.1 152.2h.7M164.1 164.5h.7M153.1 154.0h.7M155.9 168.3h.7M158.7 169.1h.7M166.7 159.4h.7M157.7 147.3h.7M154.9 164.7h.7M159.4 164.0h.7M161.7 162.5h.7M161.1 161.3h.7M156.2 153.1h.7M168.7 160.1h.7M161.7 151.3h.7M152.1 155.9h.7M152.3 166.5h.7M155.4 163.8h.7M151.4 161.1h.7M154.3 163.5h.7M164.6 154.4h.7M169.5 144.5h.7M153.2 156.1h.7M150.2 166.3h.7M147.6 167.4h.7M159.1 176.5h.7M167.4 159.4h.7M154.5 161.7h.7M155.9 168.2h.7M148.2 158.7h.7M150.9 168.5h.7M156.7 168.3h.7M162.9 163.1h.7M159.0 155.0h.7M166.0 157.3h.7M152.7 164.5h.7M166.7 176.1h.7M150.9 159.1h.7M166.0 156.0h.7M157.0 160.1h.7M151.8 154.4h.7M172.7 158.2h.7M157.4 164.9h.7M170.2 149.0h.7M155.3 161.3h.7M158.7 165.3h.7M154.5 166.7h.7M148.5 162.2h.7M158.7 153.5h.7M151.2 164.3h.7M154.7 161.8h.7M160.6 164.8h.7M151.9 165.4h.7M159.7 162.5h.7M157.7 166.0h.7M167.5 161.1h.7M158.1 152.5h.7M164.1 168.9h.7M167.0 175.9h.7M153.5 165.8h.7M156.5 162.1h.7M170.3 147.6h.7M161.8 161.9h.7M161.1 165.2h.7M153.6 157.0h.7M156.8 169.7h.7M161.2 160.7h.7M152.9 151.4h.7M150.2 170.4h.7M160.6 159.2h.7M167.9 165.9h.7M164.8 170.2h.7M151.3 162.1h.7M153.6 177.6h.7M152.1 156.7h.7" stroke="#000" stroke-width=".7" stroke-opacity=".4" fill="none"/>
<path d="M148.6 163.1h.7M151.3 159.4h.7M170.7 162.2h.7M157.2 154.8h.7M165.9 157.8h.7M157.5 164.6h.7M159.3 155.4h.7M155.7 177.1h.7M147.7 158.4h.7M167.0 157.0h.7M161.2 158.3h.7M156.4 162.0h.7M149.2 166.9h.7M162.5 159.5h.7M157.1 174.2h.7M154.2 157.4h.7M174.2 172.7h.7M158.3 147.4h.7M154.0 161.5h.7M151.9 154.4h.7M163.7 154.3h.7M161.4 155.2h.7M158.9 165.9h.7M150.7 165.3h.7M148.4 155.7h.7M159.3 168.9h.7M157.1 157.0h.7M161.5 173.5h.7M149.4 163.2h.7M150.1 162.4h.7M161.7 158.4h.7M148.1 156.3h.7M157.3 157.9h.7M159.8 158.6h.7M160.0 175.9h.7M153.2 163.8h.7M156.6 151.5h.7M155.4 169.5h.7M163.0 161.8h.7M156.5 165.8h.7M160.8 158.6h.7M168.1 153.5h.7M160.6 170.3h.7M155.9 171.0h.7M164.2 151.9h.7M165.4 161.9h.7M151.2 158.4h.7M157.1 158.6h.7M158.1 162.3h.7M164.6 163.6h.7M150.3 172.2h.7M157.3 174.1h.7M170.7 148.5h.7M156.0 164.6h.7M153.3 170.2h.7M160.7 168.1h.7M150.3 160.4h.7M153.1 165.0h.7M161.5 167.8h.7M163.4 162.0h.7M158.3 172.3h.7M158.9 162.9h.7M170.8 159.2h.7M148.8 153.5h.7M158.4 166.3h.7M154.9 170.1h.7M148.3 154.6h.7M156.3 160.7h.7M158.2 158.7h.7M163.4 152.5h.7M158.4 165.0h.7M159.3 161.1h.7M155.9 165.1h.7M156.7 164.3h.7M162.1 154.9h.7M160.1 149.8h.7M148.7 175.0h.7M156.2 160.1h.7M159.0 156.9h.7M153.7 166.5h.7M165.8 165.7h.7M151.0 174.2h.7M147.9 170.2h.7M155.4 160.8h.7M167.4 156.1h.7M153.3 154.7h.7M158.4 168.3h.7M157.5 163.2h.7M152.1 168.6h.7M161.0 154.2h.7M163.6 162.0h.7M152.9 166.9h.7M156.8 165.2h.7M161.2 171.0h.7M160.5 160.7h.7M160.1 152.0h.7M167.6 167.0h.7M150.4 158.6h.7M167.7 162.2h.7M149.4 165.1h.7M152.2 171.2h.7M148.9 161.3h.7M151.4 161.8h.7M158.7 165.4h.7M155.8 156.1h.7M155.6 161.8h.7M153.1 170.8h.7M150.1 154.8h.7M155.9 166.2h.7M156.7 161.7h.7M161.6 169.0h.7" stroke="#000" stroke-width=".7" stroke-opacity=".4" fill="none"/>
<path d="M157.2 145.1h.7M159.4 144.3h.7M157.3 143.4h.7M154.5 139.9h.7M158.0 138.7h.7M150.7 141.1h.7M160.9 147.7h.7M160.4 141.7h.7M154.9 142.0h.7M163.4 139.6h.7M158.3 144.8h.7M162.9 144.0h.7M161.6 141.0h.7M158.0 136.9h.7M156.3 141.6h.7M152.4 145.8h.7M161.1 141.8h.7M156.9 145.9h.7M157.4 136.8h.7M162.1 144.2h.7M157.2 140.1h.7M157.1 134.6h.7M163.4 139.0h.7M160.4 138.2h.7M160.7 141.9h.7M156.1 140.2h.7M151.2 142.2h.7M160.0 141.3h.7M159.5 139.6h.7M152.4 141.2h.7M157.7 144.8h.7M160.5 140.4h.7M159.4 136.3h.7M158.3 137.4h.7M162.2 143.5h.7M155.8 139.9h.7M159.4 143.1h.7M161.0 139.6h.7M157.5 144.4h.7M164.4 139.8h.7M155.9 134.0h.7M160.0 145.2h.7M161.0 140.9h.7M157.0 135.6h.7M159.8 139.4h.7M159.1 146.9h.7M155.9 141.8h.7M155.5 136.5h.7M158.9 140.1h.7M157.7 145.1h.7M157.0 141.4h.7M153.4 143.5h.7M159.6 136.9h.7M155.2 136.6h.7M154.4 142.5h.7M160.4 138.6h.7M156.2 144.5h.7M156.4 143.8h.7M159.8 139.7h.7M156.1 143.3h.7M154.0 140.5h.7M154.1 142.6h.7M159.1 139.5h.7M156.4 145.0h.7M159.3 137.2h.7M156.4 141.2h.7M159.0 150.4h.7M159.0 146.5h.7M157.0 147.2h.7M156.5 145.2h.7M155.7 144.6h.7M159.6 140.9h.7M158.6 144.0h.7M153.0 141.7h.7M158.4 137.4h.7" stroke="#333" stroke-width=".7" stroke-opacity=".4" fill="none"/>
<path d="M158.2 138.7h.7M158.6 141.3h.7M153.2 142.3h.7M158.6 145.0h.7M165.4 142.4h.7M156.0 139.6h.7M158.3 137.5h.7M156.9 142.0h.7M159.0 144.9h.7M159.0 139.1h.7M159.8 140.6h.7M161.3 141.7h.7M160.4 141.5h.7M160.7 143.1h.7M159.7 143.3h.7M155.2 147.0h.7M158.6 142.3h.7M156.2 139.9h.7M160.8 138.0h.7M163.5 139.7h.7M160.2 138.8h.7M158.1 142.0h.7M160.7 143.1h.7M148.5 140.0h.7M162.0 147.8h.7M162.2 136.5h.7M158.9 145.9h.7M156.5 136.0h.7M157.0 142.4h.7M156.3 147.3h.7M155.3 136.7h.7M154.3 144.6h.7M157.4 147.3h.7M155.7 145.6h.7M153.9 143.9h.7M156.6 144.6h.7M156.8 139.9h.7M157.2 143.1h.7M159.6 143.3h.7M163.8 137.6h.7M156.2 139.0h.7M164.4 139.8h.7M152.9 128.9h.7M160.4 138.6h.7M159.4 138.6h.7M159.1 137.3h.7M160.3 137.7h.7M162.9 142.3h.7M163.4 143.2h.7M159.7 140.6h.7M161.9 137.1h.7M161.0 145.8h.7M160.3 141.9h.7M153.7 141.6h.7M157.6 143.4h.7M157.0 143.7h.7M159.7 144.1h.7M157.4 142.1h.7M157.9 134.2h.7M155.0 135.0h.7M159.9 143.0h.7M154.6 144.7h.7M156.7 141.2h.7M158.9 139.7h.7M158.5 140.4h.7M158.7 136.9h.7M160.2 139.6h.7M155.1 146.5h.7M155.7 144.6h.7M160.5 142.4h.7M159.0 138.1h.7M157.7 138.4h.7M155.7 143.9h.7M158.7 138.5h.7M163.1 142.6h.7" stroke="#333" stroke-width=".7" stroke-opacity=".4" fill="none"/>
<path d="M184.5 139.3h.7M185.0 140.9h.7M183.1 143.3h.7" stroke="#999" stroke-width=".7" stroke-opacity=".4" fill="none"/>
<path d="M178.0 141.0h.7M184.7 142.0h.7" stroke="#999" stroke-width=".7" stroke-opacity=".4" fill="none"/>
</g>
<line x1="146.0" y1="120.2" x2="146.0" y2="177.2" stroke="#222" stroke-width="1.4" stroke-dasharray="1 .7 1 .7 1 .7 1 .7 1 .7 1.5 2"/>
<line x1="148.7" y1="178.7" x2="204.89999999999998" y2="178.7" stroke="#222" stroke-width="1.4" stroke-dasharray="1 .7 1 .7 1 .7 1 .7 1 .7 1.5 2"/>
<line x1="146.7" y1="119.7" x2="205.39999999999998" y2="119.7" stroke="#000" stroke-width="1"/>
<line x1="204.89999999999998" y1="119.2" x2="204.89999999999998" y2="178.0" stroke="#000" stroke-width="1"/>
<line x1="147.54999999999998" y1="119.2" x2="147.54999999999998" y2="178.0" stroke="#000" stroke-width="1.7"/>
<line x1="146.7" y1="177.2" x2="205.39999999999998" y2="177.2" stroke="#000" stroke-width="1.5"/>
<line x1="172.0" y1="119.2" x2="172.0" y2="177.2" stroke="#62489a" stroke-width="1.5"/>
<line x1="146.7" y1="150.8" x2="204.89999999999998" y2="150.8" stroke="#62489a" stroke-width="1.5"/>
<text x="148.79999999999998" y="127.6" font-size="7.8" text-anchor="start" fill="#111" font-weight="normal" font-style="normal" >7.4</text>
<text x="203.5" y="127.6" font-size="7.8" text-anchor="end" fill="#111" font-weight="normal" font-style="normal" >0.2</text>
<text x="148.79999999999998" y="175.6" font-size="7.8" text-anchor="start" fill="#111" font-weight="normal" font-style="normal" >92.4</text>
<text x="203.5" y="175.6" font-size="7.8" text-anchor="end" fill="#111" font-weight="normal" font-style="normal" >0.0</text>
<clipPath id="c2_3"><rect x="210.0" y="120.2" width="56" height="56.5"/></clipPath>
<g clip-path="url(#c2_3)">
<ellipse cx="0" cy="0" rx="10.9" ry="10.9" fill="url(#rg)" opacity="1.0" transform="translate(218.3 163.0) rotate(0)"/>
<ellipse cx="0" cy="0" rx="16.9" ry="16.9" fill="url(#rg)" opacity="0.28" transform="translate(219.0 161.7) rotate(0)"/>
<ellipse cx="0" cy="0" rx="7.8" ry="7.3" fill="url(#rgg)" opacity="0.36" transform="translate(219.6 141.4) rotate(90)"/>
<path d="M215.9 161.2h.7M216.1 158.4h.7M222.0 162.4h.7M220.3 172.8h.7M214.6 166.3h.7M218.0 169.1h.7M215.7 167.3h.7M220.0 166.2h.7M226.3 166.4h.7M215.5 168.7h.7M220.0 160.5h.7M221.4 162.7h.7M223.8 160.9h.7M217.1 158.7h.7M221.0 153.4h.7M219.8 165.4h.7M215.3 163.8h.7M219.9 161.9h.7M212.0 167.3h.7M216.1 162.7h.7M222.0 170.9h.7M214.8 163.9h.7M219.4 162.8h.7M214.1 162.8h.7M222.2 159.4h.7M218.3 164.2h.7M219.0 158.7h.7M217.3 165.4h.7M213.7 161.1h.7M215.9 172.9h.7M213.5 161.6h.7M211.6 163.1h.7M217.9 169.8h.7M222.1 160.9h.7M213.2 168.0h.7M212.9 165.0h.7M219.5 161.2h.7M215.2 160.4h.7M230.1 162.5h.7M217.5 172.1h.7M224.7 166.9h.7M218.1 163.6h.7M222.4 170.4h.7M218.8 173.5h.7M215.7 159.8h.7M218.1 166.0h.7M224.5 160.1h.7M220.9 155.6h.7M217.7 170.7h.7M215.0 156.2h.7M216.7 160.3h.7M215.9 157.1h.7M225.1 159.1h.7M214.1 168.6h.7M220.5 164.5h.7M224.5 156.2h.7M212.5 160.1h.7M220.3 163.4h.7M214.9 158.9h.7M220.0 159.1h.7M219.8 161.7h.7M223.5 164.0h.7M219.9 165.3h.7M213.6 165.7h.7M229.1 168.4h.7M219.9 161.9h.7M219.6 165.4h.7M212.7 159.3h.7M219.9 161.5h.7M220.5 158.2h.7M218.0 164.8h.7M214.3 162.9h.7M220.9 161.4h.7M226.7 160.5h.7M224.7 164.4h.7M215.8 161.3h.7M210.3 167.3h.7M218.5 163.6h.7M217.6 165.0h.7M225.0 159.7h.7M219.6 163.8h.7M216.2 165.3h.7M220.1 172.6h.7M218.9 172.7h.7M224.7 160.7h.7M219.8 163.8h.7M210.6 167.3h.7M218.7 155.7h.7M221.9 164.2h.7M215.7 166.4h.7M217.2 169.1h.7M221.5 159.6h.7M224.2 158.0h.7M227.9 166.0h.7M218.7 159.5h.7M217.5 163.5h.7M221.0 156.5h.7M220.0 156.9h.7M220.2 166.4h.7M222.7 158.3h.7M217.3 162.1h.7M210.7 166.6h.7M218.2 169.1h.7M213.5 167.2h.7M221.7 168.8h.7M221.0 170.6h.7M220.2 166.4h.7M220.3 166.8h.7M218.2 162.0h.7M212.2 163.3h.7M225.2 174.2h.7M214.2 158.6h.7M214.8 164.1h.7M223.5 167.2h.7M225.2 159.6h.7M218.5 162.4h.7M213.1 152.3h.7M216.7 169.6h.7M217.5 165.5h.7M220.3 154.6h.7M219.6 158.3h.7M211.7 165.7h.7M223.1 165.2h.7M218.2 163.5h.7M222.0 170.6h.7M215.2 157.9h.7M220.2 159.3h.7M224.8 164.4h.7M215.7 168.9h.7M215.9 161.8h.7M219.5 157.8h.7M220.6 164.2h.7M214.1 163.9h.7M218.8 161.4h.7M215.8 161.1h.7M217.3 172.6h.7M217.4 156.2h.7M215.0 166.5h.7M214.8 164.6h.7M216.3 167.4h.7M216.9 165.9h.7M217.7 167.0h.7M219.9 162.5h.7M216.3 160.0h.7M212.9 168.3h.7M216.9 160.3h.7M212.6 156.6h.7M214.5 162.0h.7M219.8 168.6h.7" stroke="#000" stroke-width=".7" stroke-opacity=".4" fill="none"/>
<path d="M222.8 165.0h.7M224.4 149.1h.7M213.1 164.7h.7M219.5 152.2h.7M216.4 162.7h.7M219.7 162.3h.7M215.5 164.8h.7M221.5 164.2h.7M215.3 159.1h.7M213.9 169.7h.7M214.3 162.6h.7M221.2 163.7h.7M217.8 158.2h.7M212.3 162.0h.7M213.2 157.0h.7M219.6 162.2h.7M214.9 162.0h.7M223.1 153.7h.7M216.1 161.0h.7M217.7 164.5h.7M209.9 162.5h.7M214.3 163.3h.7M219.2 165.8h.7M222.5 167.0h.7M215.7 167.2h.7M216.9 166.9h.7M219.8 161.5h.7M218.9 160.5h.7M217.8 157.9h.7M215.8 163.3h.7M219.3 163.7h.7M214.5 167.6h.7M219.7 158.0h.7M217.9 163.4h.7M218.9 158.6h.7M223.1 164.7h.7M222.6 165.3h.7M209.8 167.9h.7M220.0 166.3h.7M214.3 159.4h.7M221.3 162.6h.7M220.0 160.4h.7M216.2 158.9h.7M214.5 168.7h.7M222.6 162.3h.7M222.8 164.0h.7M216.3 165.9h.7M217.1 165.9h.7M212.1 163.9h.7M217.4 162.8h.7M221.7 158.6h.7M222.9 156.8h.7M218.1 169.9h.7M213.2 161.1h.7M219.6 164.4h.7M215.6 166.7h.7M228.0 168.8h.7M217.7 159.3h.7M213.3 163.6h.7M218.8 157.4h.7M218.0 163.9h.7M215.7 163.7h.7M222.5 159.6h.7M213.8 165.0h.7M212.5 159.6h.7M221.1 164.1h.7M212.1 167.9h.7M213.6 153.8h.7M216.9 164.1h.7M224.9 166.1h.7M217.4 159.4h.7M219.2 165.8h.7M221.2 172.2h.7M215.4 163.8h.7M211.4 161.9h.7M220.4 161.4h.7M217.3 164.3h.7M215.1 163.4h.7M215.1 167.1h.7M219.1 161.4h.7M219.0 165.8h.7M218.7 169.1h.7M222.2 159.9h.7M222.4 159.9h.7M224.0 154.0h.7M221.3 161.0h.7M216.8 160.3h.7M217.7 168.1h.7M217.4 165.1h.7M216.6 171.7h.7M216.6 168.9h.7M219.0 165.8h.7M217.5 167.1h.7M218.2 162.2h.7M219.8 159.9h.7M221.0 165.3h.7M216.3 164.1h.7M212.2 163.3h.7M213.5 161.2h.7M223.4 164.4h.7M218.7 166.9h.7M218.9 161.2h.7M217.8 155.8h.7M209.9 165.7h.7M223.3 160.1h.7M212.4 169.4h.7M214.8 166.8h.7M218.5 164.7h.7M219.8 156.4h.7M221.0 163.3h.7M213.4 167.0h.7M216.6 167.1h.7M221.0 167.8h.7M219.4 160.5h.7M218.8 166.3h.7M219.4 167.8h.7M227.4 163.6h.7M221.4 157.0h.7M214.0 164.3h.7M218.5 168.8h.7M223.5 157.6h.7M217.1 163.4h.7M217.5 160.2h.7M217.6 169.4h.7M220.9 164.4h.7M216.7 167.7h.7M219.9 152.2h.7M226.0 159.8h.7M213.1 161.6h.7M214.4 166.1h.7M212.0 172.2h.7M211.5 172.5h.7M219.7 160.3h.7M210.0 157.5h.7M220.1 170.4h.7M216.6 163.8h.7M218.0 162.5h.7M219.9 162.0h.7M215.1 159.7h.7M217.1 162.7h.7M217.6 166.9h.7M217.1 160.2h.7M216.4 169.5h.7M216.9 169.5h.7M220.3 161.7h.7M210.1 159.4h.7M216.5 165.9h.7M215.1 162.5h.7M220.6 165.0h.7" stroke="#000" stroke-width=".7" stroke-opacity=".4" fill="none"/>
<path d="M227.4 167.0h.7M223.9 155.5h.7M223.1 170.9h.7M220.9 171.8h.7M217.8 156.1h.7M216.6 162.9h.7M216.8 164.3h.7M226.4 165.3h.7M218.1 173.4h.7M220.4 165.8h.7M223.5 163.6h.7M217.9 169.3h.7M223.6 173.9h.7M224.9 160.5h.7M233.5 150.1h.7M221.8 157.0h.7M220.1 156.3h.7M212.3 167.0h.7M211.0 157.7h.7M220.8 162.5h.7M221.2 169.0h.7M224.2 167.5h.7M231.7 153.5h.7M228.9 163.2h.7M215.6 173.0h.7M217.1 154.0h.7M218.9 160.7h.7M209.1 162.5h.7M223.7 164.1h.7M223.2 161.0h.7M210.9 155.4h.7M211.7 164.0h.7M220.8 162.1h.7M223.5 156.9h.7M222.2 165.0h.7M213.5 152.7h.7M220.4 165.6h.7M220.8 172.8h.7M221.7 163.8h.7M227.5 162.9h.7M217.0 153.2h.7M218.2 168.8h.7M216.0 154.5h.7M217.7 160.3h.7M225.2 154.4h.7M227.0 158.6h.7M224.1 154.0h.7M223.3 142.7h.7M217.5 168.5h.7M216.0 166.4h.7M214.5 164.9h.7M210.6 173.4h.7M221.7 167.4h.7M219.7 154.2h.7M213.8 150.5h.7M227.4 163.7h.7M219.0 163.9h.7M219.5 166.9h.7M214.4 159.3h.7M231.1 163.5h.7M210.6 174.2h.7M223.8 158.9h.7M222.6 161.2h.7M215.0 167.6h.7M220.4 170.6h.7M220.8 170.7h.7M222.6 146.8h.7M214.0 174.7h.7M213.9 164.9h.7M228.3 157.5h.7M225.5 165.4h.7M223.9 153.7h.7M219.3 168.2h.7M211.3 155.1h.7M221.1 160.2h.7M220.3 162.1h.7M219.9 177.2h.7M219.9 157.3h.7M220.9 156.0h.7M212.6 161.7h.7M220.7 161.4h.7M223.0 150.5h.7M225.9 160.4h.7M218.8 157.7h.7M215.8 145.4h.7M215.6 151.8h.7M216.3 164.7h.7M224.7 157.8h.7M210.5 164.1h.7M218.9 163.3h.7M213.8 171.8h.7M215.6 160.9h.7M215.1 163.0h.7M224.1 154.0h.7M238.5 157.8h.7M210.8 149.3h.7M213.8 159.3h.7M225.4 158.4h.7M220.6 161.7h.7M226.3 153.6h.7M223.7 168.3h.7M229.7 172.0h.7M227.7 167.4h.7M219.5 167.5h.7M225.8 167.4h.7M227.2 168.1h.7M218.8 173.3h.7M232.0 165.0h.7M229.0 164.2h.7" stroke="#000" stroke-width=".7" stroke-opacity=".4" fill="none"/>
<path d="M221.8 166.0h.7M213.3 162.9h.7M216.7 164.4h.7M214.9 165.1h.7M220.3 168.7h.7M225.5 161.1h.7M221.5 165.0h.7M211.3 151.6h.7M219.0 159.5h.7M226.4 153.9h.7M223.8 169.5h.7M221.8 157.2h.7M209.4 168.2h.7M213.5 158.3h.7M221.2 145.1h.7M219.5 158.5h.7M218.7 162.6h.7M216.9 158.4h.7M217.3 161.2h.7M212.0 168.6h.7M215.2 163.7h.7M223.8 160.6h.7M223.9 158.2h.7M210.8 158.9h.7M222.5 154.2h.7M225.6 173.1h.7M217.9 166.5h.7M218.6 173.9h.7M214.3 167.1h.7M224.3 160.6h.7M217.9 164.4h.7M215.7 157.3h.7M219.9 153.6h.7M210.2 157.4h.7M223.9 152.3h.7M220.6 157.4h.7M215.0 150.3h.7M209.5 173.1h.7M225.5 167.2h.7M217.6 163.1h.7M219.5 152.7h.7M219.4 156.4h.7M212.9 159.8h.7M210.6 158.7h.7M224.4 177.4h.7M217.8 149.9h.7M211.7 160.3h.7M234.0 162.8h.7M216.8 159.5h.7M220.0 164.6h.7M223.5 168.1h.7M214.9 163.5h.7M209.2 159.8h.7M223.7 173.3h.7M215.8 165.6h.7M219.7 156.1h.7M218.1 171.8h.7M220.2 156.2h.7M223.6 170.6h.7M221.4 158.7h.7M219.7 168.8h.7M217.8 160.0h.7M215.4 172.6h.7M228.8 158.9h.7M224.4 174.0h.7M224.1 158.8h.7M227.7 161.6h.7M212.6 165.7h.7M233.2 158.0h.7M214.8 170.1h.7M223.0 161.1h.7M210.2 167.7h.7M219.4 158.2h.7M218.5 159.7h.7M218.1 159.4h.7M223.1 167.1h.7M224.8 160.3h.7M211.2 157.2h.7M221.7 154.7h.7M229.2 174.1h.7M220.4 160.5h.7M220.2 147.2h.7M231.4 153.4h.7M216.8 163.8h.7M222.1 161.3h.7M212.0 169.1h.7M225.2 156.5h.7M223.4 165.0h.7M212.8 158.0h.7M216.1 164.7h.7M219.3 171.2h.7M236.4 161.9h.7M212.1 159.0h.7M227.9 158.7h.7M219.9 169.2h.7M211.7 157.1h.7M212.1 166.2h.7M232.1 164.1h.7M218.4 170.7h.7M209.4 160.1h.7M227.5 143.0h.7M226.9 155.4h.7M215.5 172.8h.7M215.9 163.9h.7M234.9 156.2h.7M214.5 157.1h.7M214.6 160.7h.7" stroke="#000" stroke-width=".7" stroke-opacity=".4" fill="none"/>
<path d="M218.5 141.1h.7M218.7 132.0h.7M225.4 139.6h.7M216.0 141.5h.7M220.0 143.9h.7M220.5 143.2h.7M222.3 142.0h.7M223.8 136.5h.7M220.3 145.4h.7M213.3 139.6h.7M219.9 138.6h.7M226.0 142.4h.7M221.8 144.3h.7M221.5 142.8h.7M219.3 140.8h.7M214.3 134.8h.7M219.5 145.0h.7M215.5 137.7h.7M217.7 140.9h.7M219.8 140.2h.7M218.2 137.2h.7M219.2 144.6h.7M217.4 142.9h.7M216.9 140.6h.7M223.7 143.0h.7M226.2 143.4h.7M222.9 142.9h.7M216.4 140.5h.7M223.5 141.6h.7M215.3 145.2h.7M222.8 145.8h.7M218.2 143.5h.7M218.0 143.5h.7M224.3 140.6h.7M219.0 137.0h.7M223.0 141.4h.7M221.4 141.1h.7M222.4 141.1h.7M218.1 141.4h.7M226.7 144.3h.7M222.8 139.4h.7M217.8 141.4h.7M223.4 139.0h.7M218.5 143.5h.7M216.4 140.1h.7M218.7 141.9h.7M217.0 145.1h.7M221.0 144.3h.7M220.9 141.6h.7M221.5 144.5h.7M217.6 142.5h.7M221.9 138.6h.7M218.6 137.4h.7M217.6 140.4h.7M218.8 144.9h.7M223.5 140.7h.7M221.3 143.2h.7M221.1 142.8h.7M216.4 142.6h.7M218.0 138.1h.7M224.4 143.2h.7M222.5 140.2h.7M222.6 145.8h.7M217.0 140.9h.7M221.5 142.6h.7M219.9 139.8h.7M223.2 142.0h.7M219.7 140.1h.7M218.8 142.4h.7M222.8 141.3h.7M221.3 143.9h.7M219.6 146.2h.7M219.4 142.4h.7M221.0 141.2h.7M218.6 144.2h.7" stroke="#333" stroke-width=".7" stroke-opacity=".4" fill="none"/>
<path d="M224.7 139.4h.7M221.0 144.5h.7M218.7 140.3h.7M217.4 140.8h.7M219.8 149.1h.7M221.1 141.2h.7M215.8 139.9h.7M224.6 141.9h.7M220.2 140.0h.7M216.2 143.7h.7M222.9 144.3h.7M216.1 141.8h.7M215.8 143.0h.7M214.9 140.1h.7M222.2 140.3h.7M221.0 139.0h.7M218.1 141.4h.7M221.3 145.1h.7M220.5 140.1h.7M221.3 139.9h.7M217.4 136.8h.7M215.9 138.8h.7M218.7 140.5h.7M218.6 139.0h.7M219.1 142.4h.7M218.1 141.4h.7M218.8 141.8h.7M218.4 140.7h.7M222.9 141.4h.7M218.0 141.1h.7M220.1 145.4h.7M217.0 144.5h.7M216.2 145.9h.7M219.8 138.5h.7M221.7 141.2h.7M218.9 138.9h.7M216.2 136.8h.7M219.4 139.7h.7M220.2 137.7h.7M214.1 141.6h.7M215.7 143.1h.7M224.4 141.4h.7M214.4 140.2h.7M220.9 135.3h.7M217.5 139.4h.7M215.3 138.6h.7M219.1 136.9h.7M215.0 137.7h.7M221.4 146.4h.7M218.2 145.8h.7M213.8 140.2h.7M218.3 134.8h.7M219.8 139.9h.7M218.4 141.4h.7M222.6 133.7h.7M220.6 138.6h.7M218.0 137.9h.7M217.0 134.8h.7M223.2 138.4h.7M220.6 139.0h.7M219.0 140.2h.7M218.5 141.7h.7M218.6 137.6h.7M221.5 133.3h.7M220.2 136.9h.7M216.9 143.2h.7M221.3 144.4h.7M223.9 139.5h.7M218.5 138.5h.7M217.7 139.6h.7M220.2 144.9h.7M222.2 137.9h.7M219.6 138.4h.7M215.5 137.5h.7M219.6 141.9h.7" stroke="#333" stroke-width=".7" stroke-opacity=".4" fill="none"/>
<path d="M246.0 140.7h.7M245.9 139.8h.7M244.2 143.4h.7" stroke="#999" stroke-width=".7" stroke-opacity=".4" fill="none"/>
<path d="M244.1 141.0h.7M244.8 139.7h.7" stroke="#999" stroke-width=".7" stroke-opacity=".4" fill="none"/>
</g>
<line x1="207.60000000000002" y1="120.2" x2="207.60000000000002" y2="177.2" stroke="#222" stroke-width="1.4" stroke-dasharray="1 .7 1 .7 1 .7 1 .7 1 .7 1.5 2"/>
<line x1="210.3" y1="178.7" x2="266.5" y2="178.7" stroke="#222" stroke-width="1.4" stroke-dasharray="1 .7 1 .7 1 .7 1 .7 1 .7 1.5 2"/>
<line x1="208.3" y1="119.7" x2="267.0" y2="119.7" stroke="#000" stroke-width="1"/>
<line x1="266.5" y1="119.2" x2="266.5" y2="178.0" stroke="#000" stroke-width="1"/>
<line x1="209.15" y1="119.2" x2="209.15" y2="178.0" stroke="#000" stroke-width="1.7"/>
<line x1="208.3" y1="177.2" x2="267.0" y2="177.2" stroke="#000" stroke-width="1.5"/>
<line x1="233.60000000000002" y1="119.2" x2="233.60000000000002" y2="177.2" stroke="#62489a" stroke-width="1.5"/>
<line x1="208.3" y1="150.8" x2="266.5" y2="150.8" stroke="#62489a" stroke-width="1.5"/>
<text x="210.4" y="127.6" font-size="7.8" text-anchor="start" fill="#111" font-weight="normal" font-style="normal" >7.4</text>
<text x="265.1" y="127.6" font-size="7.8" text-anchor="end" fill="#111" font-weight="normal" font-style="normal" >0.2</text>
<text x="210.4" y="175.6" font-size="7.8" text-anchor="start" fill="#111" font-weight="normal" font-style="normal" >92.4</text>
<text x="265.1" y="175.6" font-size="7.8" text-anchor="end" fill="#111" font-weight="normal" font-style="normal" >0.0</text>
<clipPath id="c2_4"><rect x="271.59999999999997" y="120.2" width="56" height="56.5"/></clipPath>
<g clip-path="url(#c2_4)">
<ellipse cx="0" cy="0" rx="12.5" ry="10.4" fill="url(#rg)" opacity="1.0" transform="translate(280.8 163.5) rotate(90)"/>
<ellipse cx="0" cy="0" rx="18.2" ry="16.9" fill="url(#rg)" opacity="0.28" transform="translate(280.6 162.2) rotate(90)"/>
<ellipse cx="0" cy="0" rx="8.1" ry="7.5" fill="url(#rgg)" opacity="0.75" transform="translate(280.8 141.2) rotate(90)"/>
<ellipse cx="0" cy="0" rx="7.8" ry="5.2" fill="url(#rgg)" opacity="0.05" transform="translate(307.3 143.2) rotate(90)"/>
<path d="M277.8 165.8h.7M283.0 163.8h.7M278.2 158.2h.7M288.9 160.4h.7M279.0 160.6h.7M279.7 162.7h.7M277.4 163.0h.7M277.3 161.7h.7M276.2 157.9h.7M277.3 168.9h.7M280.2 157.1h.7M277.4 161.4h.7M290.9 160.1h.7M287.6 167.2h.7M281.3 169.2h.7M286.2 159.2h.7M277.3 166.7h.7M278.7 170.5h.7M275.8 171.5h.7M283.0 160.2h.7M285.7 161.3h.7M283.5 162.9h.7M279.4 162.1h.7M278.4 162.7h.7M279.3 164.5h.7M283.2 168.3h.7M280.4 166.6h.7M277.1 161.7h.7M277.6 162.8h.7M276.3 161.4h.7M290.2 169.3h.7M284.3 171.0h.7M277.0 175.1h.7M282.3 165.3h.7M287.9 176.0h.7M280.8 167.2h.7M283.3 155.2h.7M283.0 166.4h.7M275.8 158.8h.7M283.3 162.9h.7M277.2 159.9h.7M280.1 161.8h.7M273.6 167.9h.7M281.3 165.8h.7M273.2 169.2h.7M282.5 161.3h.7M279.0 165.1h.7M274.6 169.0h.7M274.8 159.1h.7M272.7 162.4h.7M281.3 158.6h.7M278.6 161.6h.7M285.4 165.3h.7M283.9 160.7h.7M270.6 169.0h.7M280.6 168.4h.7M282.9 162.4h.7M276.2 153.5h.7M282.0 156.4h.7M283.2 162.5h.7M288.7 167.6h.7M283.7 167.3h.7M282.2 165.0h.7M287.0 155.7h.7M278.3 164.8h.7M283.6 165.6h.7M276.5 161.3h.7M274.4 168.8h.7M280.0 166.3h.7M277.1 164.6h.7M279.1 169.4h.7M274.2 154.1h.7M279.5 165.6h.7M278.3 166.1h.7M285.2 160.7h.7M284.0 161.5h.7M281.6 155.2h.7M278.5 164.3h.7M279.7 165.7h.7M279.2 161.9h.7M276.7 161.1h.7M281.8 164.5h.7M287.3 165.2h.7M281.9 166.5h.7M284.3 165.8h.7M277.5 169.9h.7M279.7 159.4h.7M277.2 156.1h.7M279.8 164.3h.7M278.9 171.4h.7M284.9 157.6h.7M280.5 156.7h.7M272.1 163.5h.7M281.1 161.8h.7M280.0 158.0h.7M278.3 166.8h.7M282.2 165.9h.7M276.0 163.9h.7M279.3 169.1h.7M279.4 168.2h.7M275.5 165.4h.7M279.5 166.7h.7M286.6 160.2h.7M279.2 161.8h.7M278.1 162.3h.7M284.3 159.5h.7M275.9 163.3h.7M283.1 163.9h.7M275.3 159.8h.7M282.7 162.4h.7M272.9 165.9h.7M276.7 165.1h.7M274.0 164.4h.7M284.3 153.3h.7M282.6 161.9h.7M278.3 155.7h.7M286.4 165.1h.7M281.1 158.8h.7M278.6 157.1h.7M282.1 155.6h.7M277.1 156.8h.7M279.4 165.7h.7M283.6 163.5h.7M279.0 162.8h.7M284.9 168.2h.7M280.0 162.3h.7M281.6 168.0h.7M274.9 168.7h.7" stroke="#000" stroke-width=".7" stroke-opacity=".4" fill="none"/>
<path d="M281.2 164.5h.7M282.9 172.2h.7M283.9 165.3h.7M283.8 160.8h.7M277.7 158.9h.7M281.2 167.4h.7M277.5 167.5h.7M277.8 168.7h.7M279.4 161.7h.7M278.8 153.3h.7M278.4 161.1h.7M279.4 166.4h.7M279.1 168.9h.7M279.9 172.8h.7M278.8 157.5h.7M276.9 164.1h.7M281.3 162.5h.7M286.4 168.9h.7M281.4 171.7h.7M274.5 160.2h.7M287.4 157.3h.7M275.5 165.3h.7M272.8 158.6h.7M277.7 173.3h.7M279.7 169.6h.7M274.9 164.2h.7M278.3 164.2h.7M282.3 161.0h.7M282.2 165.5h.7M276.4 158.6h.7M283.7 162.1h.7M285.7 167.0h.7M283.9 167.7h.7M279.3 155.2h.7M282.8 166.8h.7M280.3 163.1h.7M286.4 161.6h.7M287.1 171.7h.7M281.5 155.5h.7M277.8 167.6h.7M280.8 167.7h.7M281.6 161.7h.7M282.7 168.8h.7M274.3 156.8h.7M278.1 169.9h.7M280.4 159.6h.7M283.4 161.1h.7M276.4 167.0h.7M272.9 166.7h.7M288.1 164.1h.7M281.7 165.3h.7M279.5 172.7h.7M276.0 160.5h.7M278.7 161.7h.7M277.6 162.0h.7M277.5 167.1h.7M278.6 175.4h.7M281.9 153.4h.7M279.6 174.0h.7M274.6 165.3h.7M286.4 164.7h.7M288.8 150.6h.7M286.6 166.4h.7M281.5 166.2h.7M278.9 156.4h.7M281.4 165.4h.7M279.4 162.9h.7M280.3 165.3h.7M280.4 156.0h.7M281.0 161.5h.7M281.3 164.9h.7M273.5 163.5h.7M281.3 167.5h.7M279.9 169.1h.7M281.9 155.9h.7M276.1 160.3h.7M283.7 158.9h.7M279.4 169.7h.7M273.4 171.5h.7M279.1 158.5h.7M276.5 162.7h.7M279.6 165.5h.7M281.0 163.1h.7M271.8 173.6h.7M278.2 162.9h.7M277.9 155.7h.7M281.3 164.2h.7M279.2 157.3h.7M279.0 164.2h.7M273.5 158.3h.7M282.9 162.4h.7M278.9 162.7h.7M278.7 152.7h.7M274.5 168.9h.7M277.0 164.8h.7M275.5 164.7h.7M277.2 158.9h.7M272.3 176.7h.7M279.2 169.7h.7M284.3 164.8h.7M281.0 162.0h.7M272.3 166.0h.7M285.1 161.2h.7M280.3 159.8h.7M276.8 163.1h.7M281.1 159.8h.7M279.3 168.1h.7M277.8 169.8h.7M283.2 165.3h.7M283.2 168.9h.7M284.1 158.5h.7M282.7 163.3h.7M279.9 161.6h.7M280.7 160.5h.7M287.0 164.2h.7M279.3 163.2h.7M281.0 159.1h.7M274.9 165.5h.7M284.7 169.1h.7M277.1 158.8h.7M283.9 162.9h.7M277.5 164.2h.7M282.4 158.0h.7M286.6 162.7h.7M285.1 165.8h.7M281.6 174.3h.7M284.7 157.9h.7M277.0 154.5h.7M290.0 159.2h.7" stroke="#000" stroke-width=".7" stroke-opacity=".4" fill="none"/>
<path d="M271.8 153.4h.7M284.2 157.0h.7M283.5 156.8h.7M282.6 164.2h.7M279.8 158.8h.7M288.7 155.5h.7M278.4 159.9h.7M290.6 164.4h.7M281.7 164.7h.7M284.2 161.5h.7M277.6 165.9h.7M288.4 172.4h.7M277.6 153.9h.7M281.2 149.2h.7M289.0 165.4h.7M286.5 148.0h.7M285.3 151.6h.7M289.2 160.8h.7M287.1 162.8h.7M282.7 176.0h.7M292.5 172.2h.7M276.6 152.5h.7M286.3 162.3h.7M279.5 154.7h.7M274.4 154.1h.7M278.2 163.0h.7M286.4 163.5h.7M276.7 159.0h.7M285.2 157.3h.7M279.7 173.1h.7M278.1 176.8h.7M291.8 164.9h.7M280.2 159.1h.7M285.8 170.6h.7M285.4 160.3h.7M283.0 156.5h.7M275.5 157.8h.7M283.3 171.4h.7M284.5 152.4h.7M280.9 165.3h.7M277.4 162.1h.7M288.0 161.7h.7M273.0 155.8h.7M294.9 159.0h.7M279.0 166.2h.7M286.3 155.4h.7M273.4 155.7h.7M280.1 170.6h.7M294.4 177.2h.7M280.3 162.9h.7M280.7 158.3h.7M283.5 161.6h.7M285.0 155.0h.7M272.2 145.0h.7M281.4 170.3h.7M280.0 166.7h.7M281.5 162.4h.7M285.7 161.5h.7M283.5 165.6h.7M277.1 150.7h.7M275.6 161.1h.7M291.5 163.5h.7M283.8 156.9h.7M275.5 160.6h.7M279.2 168.1h.7M288.5 158.7h.7M288.8 165.8h.7M287.5 158.8h.7M279.5 170.2h.7M275.8 168.3h.7M274.4 160.4h.7M284.0 162.0h.7M282.2 160.7h.7M279.1 153.4h.7M275.0 159.0h.7M285.9 149.6h.7M282.8 161.9h.7M280.0 160.3h.7M282.5 169.5h.7M279.8 160.9h.7M291.1 168.1h.7M272.5 164.0h.7M276.9 171.4h.7M274.4 172.0h.7M275.7 165.8h.7M274.9 150.6h.7M282.3 150.2h.7M290.5 164.8h.7M276.8 163.3h.7M285.8 164.9h.7M275.7 160.0h.7M275.3 162.8h.7M283.0 158.3h.7" stroke="#000" stroke-width=".7" stroke-opacity=".4" fill="none"/>
<path d="M289.8 167.2h.7M284.1 156.9h.7M272.1 158.9h.7M276.6 168.2h.7M283.8 160.9h.7M283.3 163.5h.7M272.1 161.1h.7M287.8 166.0h.7M286.9 165.1h.7M275.4 164.4h.7M282.6 154.7h.7M282.7 162.1h.7M270.7 146.9h.7M280.5 159.5h.7M277.6 156.2h.7M281.3 167.5h.7M278.6 164.3h.7M278.1 163.4h.7M280.4 155.6h.7M289.7 155.5h.7M279.5 171.1h.7M281.8 165.3h.7M276.0 173.3h.7M284.0 159.6h.7M279.6 150.6h.7M291.4 167.8h.7M275.9 146.8h.7M286.8 163.2h.7M274.5 174.0h.7M287.9 158.4h.7M282.8 159.2h.7M278.4 167.5h.7M288.3 161.5h.7M284.3 166.3h.7M273.0 173.8h.7M283.1 159.4h.7M270.7 162.7h.7M285.3 172.2h.7M278.7 168.8h.7M276.4 157.1h.7M286.4 151.1h.7M292.8 170.1h.7M284.5 164.6h.7M280.5 165.4h.7M274.3 173.6h.7M283.9 158.2h.7M299.7 162.7h.7M282.5 154.5h.7M285.8 156.2h.7M279.0 159.8h.7M288.2 163.6h.7M273.4 158.1h.7M278.1 158.0h.7M274.9 151.4h.7M289.9 168.5h.7M278.7 164.9h.7M283.4 151.6h.7M282.3 157.2h.7M289.1 160.2h.7M287.9 156.6h.7M278.8 168.2h.7M273.1 153.9h.7M281.1 159.4h.7M298.0 164.2h.7M282.3 162.0h.7M277.5 172.7h.7M271.0 168.6h.7M285.4 156.8h.7M289.0 168.2h.7M274.9 171.7h.7M275.5 149.1h.7M282.2 168.3h.7M277.5 166.1h.7M275.5 166.8h.7M279.8 160.4h.7M281.0 157.6h.7M283.7 167.2h.7M295.5 165.1h.7M284.5 156.4h.7M285.4 147.7h.7M271.9 161.9h.7M277.2 158.3h.7M282.1 159.5h.7M277.6 164.8h.7M286.5 163.4h.7M276.1 153.7h.7M271.3 175.1h.7M277.4 162.8h.7M280.3 161.7h.7M285.7 163.5h.7" stroke="#000" stroke-width=".7" stroke-opacity=".4" fill="none"/>
<path d="M280.6 141.2h.7M285.2 141.5h.7M281.6 142.5h.7M288.1 142.7h.7M278.5 138.6h.7M285.3 139.8h.7M280.4 140.7h.7M281.7 144.0h.7M281.4 144.2h.7M275.2 146.0h.7M279.8 141.6h.7M287.6 144.8h.7M279.6 137.6h.7M280.9 146.0h.7M282.0 139.4h.7M279.9 142.7h.7M281.3 144.2h.7M278.1 133.8h.7M280.6 142.1h.7M281.4 141.1h.7M278.8 136.7h.7M281.6 139.9h.7M282.6 137.5h.7M278.5 140.2h.7M280.7 143.3h.7M282.1 139.9h.7M283.8 138.4h.7M283.6 143.7h.7M280.7 143.9h.7M281.8 140.6h.7M274.9 140.6h.7M279.4 138.6h.7M286.4 146.4h.7M282.5 138.6h.7M279.5 145.7h.7M281.5 142.6h.7M276.4 146.7h.7M283.0 146.5h.7M281.8 144.5h.7M281.4 141.7h.7M278.0 145.8h.7M273.9 136.1h.7M280.4 140.0h.7M276.4 136.2h.7M284.8 142.8h.7M283.1 142.6h.7M282.4 142.6h.7M278.8 139.5h.7M281.7 142.4h.7M283.1 140.5h.7M284.5 136.5h.7M278.3 142.3h.7M283.8 143.8h.7M284.8 139.6h.7M281.5 143.0h.7M280.7 138.7h.7M280.3 138.5h.7M280.8 138.6h.7M278.4 140.4h.7M281.5 145.0h.7M282.9 140.9h.7M280.9 142.7h.7M279.3 137.9h.7M275.9 139.7h.7M281.2 143.7h.7M282.4 142.9h.7M284.3 139.4h.7M279.5 143.9h.7M278.2 141.6h.7M275.8 145.9h.7M288.4 141.3h.7M288.8 141.0h.7M283.1 146.4h.7M281.3 136.5h.7M283.2 134.7h.7" stroke="#111" stroke-width=".7" stroke-opacity=".4" fill="none"/>
<path d="M283.8 141.0h.7M281.4 141.1h.7M278.9 143.5h.7M281.1 138.7h.7M281.5 139.0h.7M278.2 138.4h.7M283.4 138.9h.7M279.9 135.9h.7M281.8 141.1h.7M280.2 137.5h.7M280.8 138.4h.7M283.6 143.0h.7M277.1 144.3h.7M274.2 145.1h.7M283.2 139.1h.7M281.2 142.0h.7M278.3 135.0h.7M286.3 139.1h.7M278.5 139.6h.7M283.0 140.4h.7M275.8 141.9h.7M284.2 133.0h.7M279.7 140.4h.7M281.5 148.3h.7M283.1 138.2h.7M283.3 139.3h.7M279.3 143.7h.7M286.4 144.2h.7M278.3 143.5h.7M278.6 144.3h.7M276.6 140.0h.7M278.9 142.0h.7M280.1 139.8h.7M276.4 144.0h.7M281.7 136.7h.7M280.9 137.0h.7M272.6 138.2h.7M282.6 141.0h.7M279.2 144.9h.7M282.0 142.0h.7M279.3 140.3h.7M282.3 140.8h.7M282.5 139.1h.7M278.4 142.0h.7M278.7 137.1h.7M280.5 143.0h.7M284.5 136.4h.7M277.8 147.1h.7M283.0 140.4h.7M282.9 142.8h.7M278.1 138.8h.7M283.5 140.0h.7M279.0 143.1h.7M274.4 142.8h.7M282.2 140.9h.7M286.3 145.8h.7M282.0 146.0h.7M283.4 141.9h.7M281.2 137.7h.7M283.8 144.9h.7M282.5 144.8h.7M278.9 141.2h.7M281.9 147.9h.7M281.3 138.9h.7M276.1 140.8h.7M286.0 141.8h.7M278.2 139.5h.7M282.9 141.2h.7M279.6 140.0h.7M282.4 150.2h.7M287.1 139.9h.7M275.5 141.1h.7M283.6 146.6h.7M281.2 138.5h.7M278.0 137.6h.7" stroke="#111" stroke-width=".7" stroke-opacity=".4" fill="none"/>
<path d="M307.5 146.2h.7M306.3 142.7h.7M310.0 134.8h.7M306.3 151.2h.7M304.7 141.4h.7M307.9 142.6h.7M305.6 140.2h.7M307.0 144.6h.7" stroke="#999" stroke-width=".7" stroke-opacity=".4" fill="none"/>
<path d="M306.7 139.3h.7M309.6 143.5h.7M310.8 149.7h.7M304.2 146.0h.7M308.3 143.9h.7M303.6 138.4h.7M306.4 138.1h.7" stroke="#999" stroke-width=".7" stroke-opacity=".4" fill="none"/>
</g>
<line x1="269.2" y1="120.2" x2="269.2" y2="177.2" stroke="#222" stroke-width="1.4" stroke-dasharray="1 .7 1 .7 1 .7 1 .7 1 .7 1.5 2"/>
<line x1="271.9" y1="178.7" x2="328.09999999999997" y2="178.7" stroke="#222" stroke-width="1.4" stroke-dasharray="1 .7 1 .7 1 .7 1 .7 1 .7 1.5 2"/>
<line x1="269.9" y1="119.7" x2="328.59999999999997" y2="119.7" stroke="#000" stroke-width="1"/>
<line x1="328.09999999999997" y1="119.2" x2="328.09999999999997" y2="178.0" stroke="#000" stroke-width="1"/>
<line x1="270.75" y1="119.2" x2="270.75" y2="178.0" stroke="#000" stroke-width="1.7"/>
<line x1="269.9" y1="177.2" x2="328.59999999999997" y2="177.2" stroke="#000" stroke-width="1.5"/>
<line x1="295.2" y1="119.2" x2="295.2" y2="177.2" stroke="#62489a" stroke-width="1.5"/>
<line x1="269.9" y1="150.8" x2="328.09999999999997" y2="150.8" stroke="#62489a" stroke-width="1.5"/>
<text x="272.0" y="127.6" font-size="7.8" text-anchor="start" fill="#111" font-weight="normal" font-style="normal" >21.6</text>
<text x="326.7" y="127.6" font-size="7.8" text-anchor="end" fill="#111" font-weight="normal" font-style="normal" >0.6</text>
<text x="272.0" y="175.6" font-size="7.8" text-anchor="start" fill="#111" font-weight="normal" font-style="normal" >77.8</text>
<text x="326.7" y="175.6" font-size="7.8" text-anchor="end" fill="#111" font-weight="normal" font-style="normal" >0.0</text>
<clipPath id="c2_5"><rect x="333.2" y="120.2" width="56" height="56.5"/></clipPath>
<g clip-path="url(#c2_5)">
<ellipse cx="0" cy="0" rx="13.5" ry="11.2" fill="url(#rgg)" opacity="0.6" transform="translate(342.8 162.7) rotate(90)"/>
<ellipse cx="0" cy="0" rx="18.2" ry="16.9" fill="url(#rg)" opacity="0.2" transform="translate(342.7 162.2) rotate(90)"/>
<ellipse cx="0" cy="0" rx="9.9" ry="8.6" fill="url(#rg)" opacity="0.9" transform="translate(342.0 141.7) rotate(90)"/>
<ellipse cx="0" cy="0" rx="8.6" ry="4.9" fill="url(#rgg)" opacity="0.2" transform="translate(367.7 141.7) rotate(90)"/>
<path d="M340.6 169.5h.7M339.0 163.7h.7M335.3 160.6h.7M344.1 160.7h.7M342.8 163.4h.7M336.7 163.2h.7M352.9 161.5h.7M340.7 157.9h.7M347.2 164.0h.7M341.7 163.9h.7M334.3 156.3h.7M337.8 160.1h.7M340.9 168.1h.7M341.7 158.2h.7M347.5 165.5h.7M336.5 156.3h.7M340.9 161.6h.7M337.1 174.9h.7M343.7 169.5h.7M346.5 173.6h.7M345.4 168.5h.7M344.0 160.5h.7M342.7 165.4h.7M344.3 160.6h.7M350.2 164.2h.7M352.5 161.4h.7M342.8 162.1h.7M341.8 160.3h.7M347.1 160.7h.7M337.1 166.3h.7M335.6 158.9h.7M340.3 167.6h.7M339.0 155.4h.7M341.0 164.2h.7M342.6 164.4h.7M341.9 160.3h.7M347.7 166.4h.7M346.0 159.2h.7M342.1 156.1h.7M340.0 165.8h.7M337.8 161.7h.7M340.1 163.3h.7M337.1 165.9h.7M342.8 159.9h.7M343.6 165.8h.7M337.8 162.3h.7M342.8 160.6h.7M339.4 167.0h.7M342.6 162.3h.7M338.3 154.5h.7M347.6 159.7h.7M349.8 155.0h.7M340.3 162.8h.7M348.9 151.4h.7M349.8 154.9h.7M342.0 165.9h.7M335.7 168.4h.7M341.4 161.1h.7M343.8 156.1h.7M346.5 159.7h.7M344.5 162.1h.7M344.6 164.3h.7M340.2 163.6h.7M337.4 167.0h.7M336.7 154.1h.7M347.9 163.7h.7M343.6 157.2h.7M346.9 162.0h.7M353.6 167.9h.7M346.5 165.0h.7M339.2 163.2h.7M352.6 166.1h.7M353.2 165.7h.7M341.3 157.0h.7M348.4 156.0h.7M334.1 167.5h.7M346.4 157.9h.7M339.9 175.3h.7M344.9 162.9h.7M338.7 160.6h.7M342.0 164.4h.7M352.0 160.3h.7M352.3 156.9h.7M346.9 164.4h.7M338.5 170.4h.7M338.7 159.3h.7M341.9 166.6h.7M333.7 163.4h.7M339.1 162.4h.7M349.5 153.8h.7M349.2 164.2h.7M343.0 171.1h.7M341.0 166.8h.7M346.7 163.2h.7M332.4 168.4h.7M344.0 155.6h.7M342.4 162.7h.7M346.2 159.5h.7M335.7 155.2h.7" stroke="#111" stroke-width=".7" stroke-opacity=".4" fill="none"/>
<path d="M343.6 167.4h.7M336.7 152.9h.7M343.8 173.6h.7M347.3 163.2h.7M346.9 171.0h.7M340.7 162.8h.7M332.2 167.1h.7M352.2 173.0h.7M339.7 170.2h.7M342.0 163.5h.7M337.3 151.4h.7M342.0 162.2h.7M333.9 159.9h.7M348.7 162.0h.7M341.6 167.7h.7M341.0 150.2h.7M335.3 157.2h.7M348.1 165.8h.7M343.2 169.1h.7M347.3 159.7h.7M345.6 174.0h.7M346.6 168.6h.7M343.4 164.0h.7M345.9 164.5h.7M343.3 156.3h.7M340.6 161.2h.7M350.1 160.2h.7M345.4 154.1h.7M336.7 170.3h.7M342.9 159.2h.7M346.0 162.3h.7M342.9 163.0h.7M340.8 164.1h.7M341.7 161.3h.7M333.1 162.5h.7M347.0 168.6h.7M344.7 163.3h.7M342.2 164.2h.7M342.4 160.4h.7M347.4 163.0h.7M342.0 157.1h.7M340.2 164.8h.7M339.7 163.2h.7M347.2 153.3h.7M341.7 162.2h.7M343.5 159.4h.7M338.3 162.1h.7M339.3 169.7h.7M339.6 164.7h.7M344.6 151.7h.7M349.5 163.7h.7M340.8 163.8h.7M342.0 165.8h.7M345.4 156.5h.7M339.1 165.1h.7M344.3 158.5h.7M341.8 161.9h.7M339.6 162.7h.7M335.9 165.3h.7M342.0 159.9h.7M340.3 158.5h.7M340.8 164.5h.7M343.5 152.1h.7M348.2 164.4h.7M341.5 166.6h.7M335.8 165.4h.7M343.5 161.9h.7M348.1 166.5h.7M346.4 167.4h.7M339.5 158.4h.7M345.1 162.7h.7M336.4 163.9h.7M339.0 158.0h.7M340.5 165.4h.7M343.3 165.0h.7M349.2 161.2h.7M347.1 165.2h.7M345.0 154.1h.7M350.0 164.4h.7M345.5 163.5h.7M334.4 158.0h.7M352.5 154.2h.7M340.9 162.0h.7M341.1 165.2h.7M343.3 167.5h.7M340.6 164.4h.7M347.1 165.3h.7M356.9 150.0h.7M335.2 167.6h.7M339.1 172.9h.7M345.7 160.9h.7M339.5 160.3h.7M343.2 159.8h.7M341.4 171.4h.7M343.2 160.8h.7M349.4 161.4h.7M341.9 163.4h.7M347.1 166.1h.7M340.5 162.5h.7M344.2 162.5h.7" stroke="#111" stroke-width=".7" stroke-opacity=".4" fill="none"/>
<path d="M343.2 170.0h.7M341.1 153.0h.7M332.8 162.2h.7M339.7 168.6h.7M338.3 161.4h.7M350.9 165.0h.7M337.6 151.8h.7M341.5 172.0h.7M342.9 161.0h.7M351.1 155.3h.7M343.6 165.4h.7M341.3 158.3h.7M332.8 155.0h.7M354.2 166.3h.7M346.3 152.2h.7M344.5 154.1h.7M344.8 163.3h.7M347.5 149.2h.7M349.7 157.7h.7M338.0 169.7h.7M344.7 172.8h.7M342.9 153.6h.7M340.3 168.4h.7M340.4 166.0h.7M349.1 165.4h.7M346.0 166.0h.7M339.8 170.7h.7M339.3 161.3h.7M346.2 158.4h.7M347.0 162.3h.7M350.1 168.5h.7M344.4 162.1h.7M339.1 170.0h.7M352.6 155.5h.7M339.3 160.9h.7M349.0 167.2h.7M341.6 153.3h.7M344.7 170.5h.7M345.2 170.8h.7M349.2 166.6h.7M334.4 176.4h.7M338.8 158.6h.7M348.0 145.1h.7M343.1 158.1h.7M347.3 163.7h.7M343.8 163.5h.7M332.6 165.9h.7M340.6 169.9h.7M352.5 156.1h.7M353.3 160.8h.7M335.7 163.9h.7M345.4 157.0h.7M345.6 152.1h.7M347.6 166.1h.7M335.3 169.7h.7M343.5 161.7h.7M344.9 161.3h.7M341.2 160.8h.7M343.2 163.0h.7M344.1 163.4h.7M333.1 157.2h.7M348.8 160.0h.7M350.6 164.1h.7M340.6 154.9h.7M355.3 170.2h.7M339.5 156.7h.7M345.2 159.5h.7M337.5 161.7h.7M347.0 161.3h.7" stroke="#000" stroke-width=".7" stroke-opacity=".4" fill="none"/>
<path d="M347.1 171.5h.7M349.1 162.2h.7M334.3 163.1h.7M334.1 158.4h.7M347.6 165.3h.7M347.5 157.9h.7M342.6 170.9h.7M355.7 151.0h.7M347.2 170.0h.7M338.3 172.0h.7M332.8 176.9h.7M345.9 162.2h.7M344.9 156.6h.7M337.7 171.4h.7M338.5 161.1h.7M348.1 141.7h.7M339.7 162.9h.7M333.8 156.4h.7M334.5 158.5h.7M346.5 160.9h.7M340.8 154.3h.7M344.2 168.0h.7M350.8 174.7h.7M348.1 167.6h.7M347.4 168.4h.7M344.6 161.6h.7M343.0 158.3h.7M341.0 146.6h.7M351.0 164.2h.7M339.0 151.2h.7M338.0 162.5h.7M348.1 170.0h.7M342.8 165.4h.7M343.0 156.1h.7M340.2 161.5h.7M342.5 159.3h.7M346.4 160.3h.7M335.7 162.5h.7M353.1 167.4h.7M341.9 159.4h.7M339.4 159.3h.7M340.3 158.8h.7M343.6 162.4h.7M343.7 173.5h.7M355.9 158.6h.7M341.8 155.3h.7M354.7 151.8h.7M332.9 142.8h.7M336.9 161.0h.7M347.9 161.0h.7M355.5 162.1h.7M339.4 163.6h.7M333.5 152.0h.7M342.3 156.4h.7M341.4 163.6h.7M350.1 166.8h.7M351.6 153.0h.7M340.4 156.9h.7M337.3 161.8h.7M335.2 164.9h.7M339.7 159.4h.7M348.7 159.9h.7M341.9 165.2h.7M340.9 172.3h.7M335.9 161.0h.7" stroke="#000" stroke-width=".7" stroke-opacity=".4" fill="none"/>
<path d="M339.3 140.3h.7M345.3 139.5h.7M344.8 149.7h.7M342.8 143.5h.7M341.5 141.5h.7M342.9 137.2h.7M344.3 142.3h.7M347.0 134.1h.7M340.5 142.4h.7M348.3 143.5h.7M339.4 138.7h.7M339.4 142.8h.7M345.8 136.4h.7M343.1 141.3h.7M348.3 142.9h.7M346.5 143.6h.7M339.1 147.5h.7M340.8 146.1h.7M336.1 138.8h.7M348.3 134.2h.7M343.5 141.4h.7M342.9 139.4h.7M341.9 148.3h.7M346.5 139.6h.7M348.4 136.2h.7M341.1 143.9h.7M339.3 135.9h.7M343.3 137.4h.7M343.6 142.1h.7M340.8 140.3h.7M339.7 140.3h.7M341.1 140.9h.7M340.5 137.3h.7M337.1 141.6h.7M339.7 147.6h.7M347.4 144.1h.7M337.1 137.5h.7M341.5 134.8h.7M341.4 143.2h.7M337.0 148.2h.7M340.5 143.0h.7M342.7 134.9h.7M338.8 141.0h.7M342.2 136.1h.7M343.3 143.3h.7M345.2 142.0h.7M343.8 137.0h.7M339.0 143.8h.7M338.3 138.4h.7M342.5 136.7h.7M339.4 137.5h.7M347.5 147.1h.7M345.0 139.1h.7M337.4 141.8h.7M342.1 135.7h.7M348.5 149.0h.7M346.7 138.7h.7M339.6 140.4h.7M338.1 139.1h.7M342.8 140.3h.7M344.0 141.5h.7M344.8 142.7h.7M338.2 135.0h.7M343.1 140.1h.7M343.6 139.7h.7M337.7 139.4h.7M337.5 142.9h.7M337.7 140.0h.7M339.3 139.6h.7M345.0 142.9h.7M345.2 143.6h.7M344.2 142.1h.7M343.1 139.3h.7M342.4 145.6h.7M343.5 140.5h.7M342.8 140.3h.7M341.9 144.6h.7M340.2 141.3h.7M344.6 141.7h.7M342.1 143.9h.7M336.1 140.6h.7M341.3 147.1h.7M349.8 138.3h.7M337.6 137.0h.7M340.9 143.9h.7M345.9 144.4h.7M342.6 145.8h.7M345.6 145.5h.7M342.5 146.9h.7M339.7 138.7h.7M341.9 144.3h.7M343.9 145.1h.7M340.7 146.8h.7M342.8 141.2h.7M342.2 142.8h.7M347.2 142.6h.7M342.3 147.1h.7M341.5 142.3h.7M338.1 144.5h.7M343.1 147.9h.7M339.8 145.7h.7M340.8 137.1h.7M342.2 140.0h.7M341.4 148.0h.7M346.7 143.6h.7M336.4 140.3h.7M339.5 140.6h.7M341.4 141.4h.7M336.8 140.7h.7M347.1 134.5h.7" stroke="#000" stroke-width=".7" stroke-opacity=".4" fill="none"/>
<path d="M343.1 144.6h.7M342.6 141.5h.7M345.3 144.9h.7M335.4 142.8h.7M344.4 153.2h.7M340.7 144.7h.7M343.8 138.7h.7M340.8 138.8h.7M342.4 145.2h.7M338.9 141.7h.7M340.7 145.1h.7M339.5 144.8h.7M344.4 138.5h.7M344.8 137.0h.7M339.9 146.3h.7M340.3 138.7h.7M342.2 141.6h.7M340.8 144.8h.7M343.1 138.2h.7M343.3 143.6h.7M341.6 154.6h.7M333.1 148.5h.7M341.9 145.7h.7M334.4 146.0h.7M340.3 141.4h.7M341.6 143.8h.7M348.0 142.6h.7M343.5 141.5h.7M345.5 146.8h.7M344.4 136.4h.7M335.1 148.7h.7M338.1 143.7h.7M343.1 147.3h.7M349.2 141.0h.7M342.8 145.1h.7M343.1 148.8h.7M341.3 139.4h.7M336.7 144.3h.7M340.7 141.6h.7M345.4 136.8h.7M340.6 141.5h.7M344.5 143.4h.7M341.7 140.7h.7M342.2 143.2h.7M340.1 142.2h.7M342.7 141.9h.7M341.8 144.8h.7M340.5 140.1h.7M345.9 136.3h.7M348.7 144.3h.7M341.1 142.9h.7M338.8 142.6h.7M340.4 145.1h.7M341.8 140.6h.7M344.7 140.0h.7M340.5 148.8h.7M341.2 146.1h.7M333.7 136.5h.7M339.6 142.7h.7M337.5 142.6h.7M346.5 140.0h.7M346.3 147.7h.7M345.4 142.9h.7M339.5 146.1h.7M342.2 142.8h.7M343.7 142.2h.7M348.5 144.0h.7M340.0 138.8h.7M341.7 137.1h.7M348.4 144.8h.7M341.6 137.8h.7M339.9 143.2h.7M346.8 139.9h.7M340.3 140.6h.7M340.4 137.6h.7M344.7 145.4h.7M339.7 147.6h.7M340.8 139.9h.7M339.1 144.6h.7M342.7 140.1h.7M339.1 146.2h.7M349.6 146.0h.7M340.4 137.9h.7M344.9 138.8h.7M340.7 147.4h.7M347.5 143.7h.7M345.4 136.8h.7M334.6 149.2h.7M338.2 142.5h.7M342.9 136.5h.7M339.6 137.8h.7M345.0 139.8h.7M344.9 143.0h.7M344.0 144.4h.7M337.5 141.3h.7M337.5 140.1h.7M349.0 141.7h.7M338.4 146.6h.7M340.5 138.0h.7M338.1 142.6h.7M337.2 137.2h.7M345.2 136.4h.7M345.2 139.9h.7M344.1 146.4h.7M343.0 135.7h.7M343.0 145.9h.7M348.8 137.8h.7M339.7 147.3h.7M336.5 139.2h.7M336.5 141.8h.7" stroke="#000" stroke-width=".7" stroke-opacity=".4" fill="none"/>
<path d="M368.4 139.5h.7M367.0 142.1h.7M369.3 142.7h.7M368.3 144.3h.7M367.8 144.4h.7M368.1 143.8h.7M363.1 142.4h.7M369.6 144.7h.7M367.3 139.3h.7M367.0 143.1h.7M368.1 140.1h.7M368.5 138.7h.7M366.0 143.1h.7M366.4 145.0h.7M365.2 144.2h.7M368.5 142.4h.7M368.6 143.0h.7M370.7 137.0h.7M367.7 137.0h.7M370.1 143.8h.7M368.0 137.9h.7M367.8 143.6h.7M368.2 146.9h.7M369.5 141.4h.7M370.8 138.2h.7" stroke="#555" stroke-width=".7" stroke-opacity=".4" fill="none"/>
<path d="M368.5 141.2h.7M370.0 138.1h.7M367.3 139.5h.7M365.9 144.1h.7M368.2 141.2h.7M365.0 141.8h.7M366.8 141.9h.7M370.4 144.8h.7M372.6 139.7h.7M366.2 142.3h.7M365.8 141.9h.7M368.0 142.1h.7M365.1 144.7h.7M367.9 142.0h.7M365.6 148.8h.7M367.8 144.0h.7M369.3 141.3h.7M364.6 143.6h.7M365.4 139.5h.7M364.6 137.5h.7M366.5 139.9h.7M366.4 140.1h.7M368.5 140.6h.7M365.1 143.9h.7M369.1 137.9h.7" stroke="#555" stroke-width=".7" stroke-opacity=".4" fill="none"/>
</g>
<line x1="330.8" y1="120.2" x2="330.8" y2="177.2" stroke="#222" stroke-width="1.4" stroke-dasharray="1 .7 1 .7 1 .7 1 .7 1 .7 1.5 2"/>
<line x1="333.5" y1="178.7" x2="389.7" y2="178.7" stroke="#222" stroke-width="1.4" stroke-dasharray="1 .7 1 .7 1 .7 1 .7 1 .7 1.5 2"/>
<line x1="331.5" y1="119.7" x2="390.2" y2="119.7" stroke="#000" stroke-width="1"/>
<line x1="389.7" y1="119.2" x2="389.7" y2="178.0" stroke="#000" stroke-width="1"/>
<line x1="332.35" y1="119.2" x2="332.35" y2="178.0" stroke="#000" stroke-width="1.7"/>
<line x1="331.5" y1="177.2" x2="390.2" y2="177.2" stroke="#000" stroke-width="1.5"/>
<line x1="356.8" y1="119.2" x2="356.8" y2="177.2" stroke="#62489a" stroke-width="1.5"/>
<line x1="331.5" y1="150.8" x2="389.7" y2="150.8" stroke="#62489a" stroke-width="1.5"/>
<text x="333.6" y="127.6" font-size="7.8" text-anchor="start" fill="#111" font-weight="normal" font-style="normal" >42.5</text>
<text x="388.3" y="127.6" font-size="7.8" text-anchor="end" fill="#111" font-weight="normal" font-style="normal" >4.5</text>
<text x="333.6" y="175.6" font-size="7.8" text-anchor="start" fill="#111" font-weight="normal" font-style="normal" >52.3</text>
<text x="388.3" y="175.6" font-size="7.8" text-anchor="end" fill="#111" font-weight="normal" font-style="normal" >0.3</text>
<clipPath id="c2_6"><rect x="394.8" y="120.2" width="56" height="56.5"/></clipPath>
<g clip-path="url(#c2_6)">
<ellipse cx="0" cy="0" rx="13.0" ry="10.4" fill="url(#rgg)" opacity="0.55" transform="translate(403.0 162.0) rotate(90)"/>
<ellipse cx="0" cy="0" rx="18.2" ry="16.9" fill="url(#rg)" opacity="0.2" transform="translate(404.3 162.2) rotate(90)"/>
<ellipse cx="0" cy="0" rx="9.1" ry="8.6" fill="url(#rg)" opacity="0.85" transform="translate(403.8 142.0) rotate(90)"/>
<ellipse cx="0" cy="0" rx="7.8" ry="4.7" fill="url(#rgg)" opacity="0.2" transform="translate(429.6 143.4) rotate(90)"/>
<path d="M402.7 161.6h.7M405.7 159.7h.7M404.1 159.0h.7M400.7 156.0h.7M405.5 162.2h.7M405.1 168.8h.7M403.9 153.1h.7M408.4 164.8h.7M408.9 162.8h.7M398.0 166.5h.7M402.8 157.4h.7M401.8 170.3h.7M401.6 169.1h.7M397.6 152.5h.7M402.4 161.3h.7M402.7 162.2h.7M405.9 149.7h.7M407.3 165.6h.7M400.2 168.0h.7M399.5 168.3h.7M401.5 163.3h.7M406.5 163.9h.7M410.5 163.3h.7M402.6 156.9h.7M405.1 165.7h.7M400.6 156.9h.7M402.1 163.0h.7M404.7 165.7h.7M401.0 163.5h.7M397.1 154.3h.7M403.7 156.4h.7M405.5 150.2h.7M402.8 163.3h.7M404.1 155.9h.7M401.3 158.5h.7M404.1 165.7h.7M399.6 166.0h.7M407.2 162.7h.7M407.8 162.7h.7M402.1 171.3h.7M400.3 162.7h.7M406.4 168.0h.7M399.5 156.2h.7M408.4 156.9h.7M405.3 163.7h.7M402.2 160.9h.7M405.1 160.1h.7M401.9 158.2h.7M399.3 165.6h.7M401.2 162.4h.7M404.2 161.0h.7M408.0 162.1h.7M408.8 158.9h.7M401.0 162.2h.7M403.6 161.3h.7M408.3 165.4h.7M401.7 166.6h.7M395.2 159.1h.7M406.1 166.5h.7M399.1 167.7h.7M396.8 158.9h.7M401.8 164.2h.7M394.6 165.2h.7M402.5 157.4h.7M402.8 165.5h.7M411.2 166.9h.7M404.3 153.8h.7M401.5 155.7h.7M401.3 158.3h.7M405.4 162.6h.7M401.3 167.6h.7M409.8 157.5h.7M402.3 161.7h.7M397.7 171.1h.7M405.7 157.2h.7M405.0 163.9h.7M401.2 159.8h.7M404.0 166.3h.7M409.6 161.8h.7M402.9 155.9h.7M397.5 161.5h.7M399.3 153.8h.7M399.8 165.3h.7M402.7 163.8h.7M398.5 165.1h.7M404.3 159.4h.7M405.3 164.2h.7M402.6 153.0h.7M406.1 164.8h.7M404.2 156.5h.7M409.5 149.3h.7M406.4 152.6h.7M399.8 153.8h.7M403.3 165.0h.7M402.4 160.4h.7M409.3 160.0h.7M395.4 163.7h.7M398.8 164.1h.7M402.4 162.2h.7" stroke="#111" stroke-width=".7" stroke-opacity=".4" fill="none"/>
<path d="M401.6 161.6h.7M402.1 160.7h.7M406.1 163.6h.7M402.0 167.0h.7M411.0 169.6h.7M402.0 160.4h.7M403.1 159.7h.7M409.2 160.0h.7M405.1 164.1h.7M401.2 165.2h.7M401.8 163.5h.7M407.8 162.6h.7M403.2 167.7h.7M406.1 166.5h.7M404.9 164.6h.7M404.0 167.3h.7M404.4 160.6h.7M400.9 161.7h.7M398.7 162.7h.7M408.2 160.4h.7M397.7 160.4h.7M403.2 157.7h.7M404.3 169.7h.7M401.4 160.8h.7M400.2 159.6h.7M402.9 153.6h.7M404.6 160.0h.7M401.6 157.0h.7M404.1 153.9h.7M410.2 164.1h.7M394.6 171.8h.7M409.4 163.9h.7M406.6 152.5h.7M401.4 161.1h.7M403.7 160.1h.7M399.6 161.1h.7M405.9 167.0h.7M399.1 158.4h.7M406.2 159.3h.7M406.9 154.4h.7M407.2 166.7h.7M405.8 166.2h.7M401.0 168.2h.7M401.9 162.4h.7M408.9 163.3h.7M407.3 160.8h.7M398.4 151.8h.7M406.2 160.3h.7M401.3 172.1h.7M399.9 169.4h.7M402.6 152.1h.7M407.6 158.0h.7M403.1 171.8h.7M402.4 162.6h.7M404.7 160.0h.7M398.5 159.5h.7M395.3 167.4h.7M399.6 160.4h.7M402.6 161.1h.7M401.1 175.1h.7M405.7 170.9h.7M400.6 163.1h.7M400.9 164.1h.7M396.8 157.3h.7M407.5 166.7h.7M410.1 165.9h.7M406.9 161.4h.7M408.0 162.0h.7M402.7 164.2h.7M403.9 162.4h.7M402.5 159.3h.7M401.2 162.6h.7M406.8 166.9h.7M398.3 157.1h.7M398.2 166.1h.7M408.6 167.1h.7M404.7 160.0h.7M404.0 155.3h.7M404.4 154.2h.7M409.3 159.8h.7M399.3 162.4h.7M402.2 160.6h.7M406.4 161.6h.7M406.7 162.9h.7M412.4 165.1h.7M396.9 164.5h.7M403.6 168.2h.7M402.4 162.9h.7M405.8 164.3h.7M401.7 166.9h.7M402.4 160.0h.7M400.8 163.0h.7M410.4 160.9h.7M410.5 158.7h.7M406.8 166.5h.7M398.2 159.0h.7M394.8 164.1h.7M408.9 161.5h.7M400.5 163.7h.7" stroke="#111" stroke-width=".7" stroke-opacity=".4" fill="none"/>
<path d="M402.6 163.3h.7M406.4 156.5h.7M395.1 154.8h.7M404.0 164.1h.7M400.6 176.8h.7M402.6 174.4h.7M406.8 159.0h.7M406.9 151.0h.7M407.8 164.8h.7M399.0 158.0h.7M402.2 165.0h.7M411.6 163.9h.7M404.0 146.4h.7M410.3 172.0h.7M397.7 166.6h.7M403.8 162.5h.7M403.3 170.6h.7M397.0 169.2h.7M411.0 148.7h.7M409.0 158.4h.7M406.6 152.6h.7M399.7 175.0h.7M402.5 171.1h.7M410.9 159.5h.7M405.7 173.1h.7M397.7 163.8h.7M400.6 159.5h.7M394.8 150.8h.7M410.3 167.8h.7M407.4 156.0h.7M418.6 155.8h.7M415.3 158.9h.7M402.9 166.0h.7M419.4 162.4h.7M399.3 162.2h.7M399.0 160.2h.7M398.7 164.6h.7M400.5 170.9h.7M396.8 166.7h.7M407.4 159.1h.7M404.2 169.0h.7M412.7 161.3h.7M404.5 170.9h.7M400.0 172.3h.7M403.7 161.9h.7M406.2 150.9h.7M410.2 163.0h.7M399.6 173.2h.7M400.8 151.2h.7M415.8 166.9h.7M399.3 168.8h.7M405.0 160.4h.7M409.1 172.8h.7M404.2 150.6h.7M406.8 163.4h.7M397.1 175.6h.7M413.8 160.2h.7M406.5 155.5h.7M399.1 166.9h.7M402.9 161.0h.7M403.3 155.9h.7M416.1 163.4h.7M411.6 157.2h.7M423.4 170.6h.7M401.7 153.4h.7M402.5 166.1h.7M400.7 170.1h.7M394.5 164.4h.7M413.5 166.5h.7" stroke="#000" stroke-width=".7" stroke-opacity=".4" fill="none"/>
<path d="M399.0 165.8h.7M403.8 152.9h.7M406.9 159.6h.7M402.4 161.0h.7M398.9 166.4h.7M396.8 161.6h.7M418.0 164.0h.7M406.9 154.2h.7M403.4 158.5h.7M414.2 156.9h.7M395.4 159.4h.7M407.8 167.1h.7M409.1 166.1h.7M413.4 154.5h.7M403.5 160.4h.7M405.8 166.0h.7M400.3 169.5h.7M410.0 157.3h.7M406.8 159.8h.7M407.9 159.9h.7M401.1 166.8h.7M407.6 167.0h.7M396.8 155.7h.7M397.7 155.9h.7M401.6 168.6h.7M406.8 168.9h.7M406.7 172.9h.7M402.7 165.7h.7M409.1 164.3h.7M406.2 158.8h.7M395.7 160.0h.7M412.8 161.1h.7M396.5 157.9h.7M399.5 163.6h.7M402.0 164.0h.7M408.9 162.3h.7M406.6 175.1h.7M398.3 167.5h.7M404.8 147.6h.7M409.0 169.0h.7M405.0 162.6h.7M398.1 160.2h.7M407.7 158.6h.7M414.5 162.5h.7M410.9 161.3h.7M398.0 159.5h.7M398.9 142.3h.7M407.2 154.7h.7M397.9 150.6h.7M412.5 165.2h.7M407.2 157.4h.7M396.2 160.2h.7M410.3 165.8h.7M405.4 155.7h.7M400.2 151.7h.7M417.0 161.5h.7M400.8 157.1h.7M404.6 169.4h.7M400.8 159.5h.7M410.3 160.5h.7M413.4 156.1h.7M407.5 167.5h.7M400.2 168.1h.7M395.8 155.9h.7M397.6 156.9h.7M407.9 154.7h.7M402.5 168.8h.7M399.8 158.1h.7M408.6 162.2h.7M406.4 150.9h.7" stroke="#000" stroke-width=".7" stroke-opacity=".4" fill="none"/>
<path d="M403.1 143.2h.7M404.8 147.1h.7M408.3 142.4h.7M400.4 141.2h.7M401.0 138.0h.7M412.8 138.6h.7M403.1 140.5h.7M406.3 139.4h.7M407.4 135.0h.7M409.4 143.7h.7M406.8 144.1h.7M397.3 140.3h.7M400.8 143.3h.7M407.3 139.5h.7M406.6 143.3h.7M404.4 136.0h.7M404.4 142.1h.7M399.2 137.9h.7M400.1 147.5h.7M401.1 139.7h.7M402.9 141.1h.7M400.2 145.0h.7M408.9 143.0h.7M400.6 142.8h.7M402.6 141.3h.7M402.0 146.4h.7M406.6 141.0h.7M402.9 145.7h.7M408.2 145.0h.7M398.3 147.7h.7M403.3 143.7h.7M404.5 141.4h.7M412.1 142.2h.7M403.6 143.9h.7M403.5 147.4h.7M405.7 141.6h.7M398.0 142.6h.7M401.2 143.4h.7M405.9 137.6h.7M402.6 147.3h.7M404.3 136.3h.7M399.1 143.5h.7M398.1 145.8h.7M411.7 139.2h.7M407.1 147.1h.7M403.1 139.5h.7M406.3 139.5h.7M407.8 146.2h.7M404.9 143.5h.7M397.5 137.9h.7M400.9 133.7h.7M402.6 143.1h.7M399.4 143.1h.7M408.7 136.9h.7M400.0 142.7h.7M403.3 142.3h.7M402.6 139.9h.7M404.8 146.2h.7M406.8 135.6h.7M398.4 142.6h.7M406.3 145.1h.7M407.5 144.1h.7M410.4 136.1h.7M399.6 144.4h.7M401.9 145.4h.7M401.5 140.0h.7M399.7 142.6h.7M404.9 139.4h.7M404.6 135.0h.7M402.4 142.5h.7M410.2 146.2h.7M399.8 138.2h.7M405.0 147.8h.7M403.0 138.2h.7M406.2 144.4h.7M406.3 137.0h.7M401.5 146.0h.7M400.4 145.2h.7M404.5 142.8h.7M402.8 144.6h.7M405.1 145.7h.7M398.2 137.4h.7M397.5 142.5h.7M407.3 141.0h.7M403.3 147.0h.7M404.7 143.2h.7M403.1 146.1h.7M404.7 148.0h.7M406.2 141.2h.7M407.4 143.9h.7M405.1 144.2h.7M401.0 141.8h.7M405.0 140.8h.7M407.6 149.3h.7M404.5 139.9h.7M410.3 139.5h.7M407.5 138.8h.7M398.2 145.9h.7M403.7 149.1h.7M400.9 144.3h.7M406.6 143.8h.7M401.4 142.9h.7M400.8 144.3h.7M403.5 137.4h.7M403.3 143.6h.7M404.8 146.3h.7M407.7 146.0h.7M401.5 144.0h.7M411.8 144.3h.7M405.5 138.5h.7" stroke="#000" stroke-width=".7" stroke-opacity=".4" fill="none"/>
<path d="M399.7 146.9h.7M399.6 148.1h.7M402.5 147.5h.7M407.4 141.7h.7M402.1 146.3h.7M399.6 144.1h.7M403.2 146.5h.7M405.4 137.8h.7M402.2 145.1h.7M397.1 141.3h.7M405.0 140.0h.7M404.2 139.7h.7M402.6 142.6h.7M407.0 138.1h.7M405.4 144.4h.7M409.3 142.7h.7M405.0 141.2h.7M409.6 144.1h.7M404.7 138.1h.7M407.5 144.5h.7M401.3 142.3h.7M403.4 145.2h.7M406.6 131.4h.7M400.8 145.7h.7M396.7 144.3h.7M405.4 141.8h.7M401.0 141.8h.7M401.4 138.2h.7M402.5 142.4h.7M401.9 134.5h.7M405.9 142.8h.7M403.5 141.1h.7M404.2 134.8h.7M406.1 136.6h.7M403.1 141.3h.7M401.9 139.7h.7M405.6 144.0h.7M400.2 136.3h.7M399.1 140.8h.7M407.2 149.2h.7M399.4 142.9h.7M407.2 144.0h.7M409.5 145.5h.7M403.3 144.9h.7M403.2 139.6h.7M404.0 140.8h.7M406.8 139.3h.7M403.7 141.2h.7M400.3 144.4h.7M399.7 142.7h.7M407.4 139.9h.7M404.9 144.0h.7M407.0 144.6h.7M407.8 136.9h.7M411.6 146.1h.7M407.4 137.7h.7M407.8 143.9h.7M402.9 138.8h.7M404.7 141.9h.7M400.9 146.7h.7M407.1 142.0h.7M405.7 145.7h.7M402.2 136.9h.7M400.5 141.2h.7M409.2 142.4h.7M403.1 136.3h.7M404.6 142.6h.7M403.4 138.5h.7M405.5 142.8h.7M407.2 142.2h.7M404.2 141.3h.7M404.5 142.4h.7M405.2 143.4h.7M402.3 141.7h.7M400.4 141.6h.7M403.0 136.9h.7M405.0 149.5h.7M403.3 136.4h.7M402.9 146.2h.7M403.8 140.2h.7M408.6 146.1h.7M402.9 146.1h.7M399.9 144.7h.7M408.3 144.6h.7M410.9 141.7h.7M406.6 140.6h.7M403.4 146.6h.7M408.8 138.0h.7M401.9 145.0h.7M407.5 147.7h.7M405.5 147.3h.7M399.9 140.1h.7M401.4 141.2h.7M404.3 139.5h.7M405.0 144.4h.7M403.4 139.2h.7M408.2 148.3h.7M411.5 142.4h.7M403.2 141.7h.7M408.3 139.4h.7M409.1 141.7h.7M405.4 141.1h.7M398.6 138.1h.7M405.6 136.5h.7M408.4 139.2h.7M401.2 143.4h.7M403.7 143.3h.7M405.3 140.3h.7M401.2 142.2h.7M400.9 144.7h.7" stroke="#000" stroke-width=".7" stroke-opacity=".4" fill="none"/>
<path d="M429.5 143.3h.7M427.0 140.2h.7M429.0 140.9h.7M430.4 144.3h.7M427.5 141.7h.7M430.9 143.2h.7M429.5 143.5h.7M431.6 144.5h.7M426.2 142.1h.7M430.3 142.7h.7M430.7 146.5h.7M427.1 147.9h.7M430.5 144.2h.7M429.5 140.3h.7M429.2 147.0h.7M430.8 148.3h.7M428.7 145.9h.7M425.4 138.4h.7M427.1 149.4h.7M431.8 143.4h.7M429.6 147.5h.7M428.9 140.1h.7M429.5 143.3h.7M430.2 147.6h.7M427.8 137.0h.7" stroke="#555" stroke-width=".7" stroke-opacity=".4" fill="none"/>
<path d="M431.5 142.7h.7M429.4 142.9h.7M426.5 142.7h.7M430.8 152.3h.7M430.0 136.3h.7M435.4 143.2h.7M429.2 141.5h.7M430.2 142.7h.7M425.6 141.6h.7M429.8 148.2h.7M429.1 142.5h.7M431.7 143.3h.7M432.1 145.0h.7M425.2 136.5h.7M428.4 142.7h.7M425.4 143.0h.7M428.9 138.2h.7M428.9 140.3h.7M426.9 142.5h.7M425.9 143.5h.7M428.1 138.8h.7M430.0 145.4h.7M427.4 139.3h.7M431.1 150.7h.7M429.5 144.2h.7" stroke="#555" stroke-width=".7" stroke-opacity=".4" fill="none"/>
</g>
<line x1="392.40000000000003" y1="120.2" x2="392.40000000000003" y2="177.2" stroke="#222" stroke-width="1.4" stroke-dasharray="1 .7 1 .7 1 .7 1 .7 1 .7 1.5 2"/>
<line x1="395.1" y1="178.7" x2="451.3" y2="178.7" stroke="#222" stroke-width="1.4" stroke-dasharray="1 .7 1 .7 1 .7 1 .7 1 .7 1.5 2"/>
<line x1="393.1" y1="119.7" x2="451.8" y2="119.7" stroke="#000" stroke-width="1"/>
<line x1="451.3" y1="119.2" x2="451.3" y2="178.0" stroke="#000" stroke-width="1"/>
<line x1="393.95000000000005" y1="119.2" x2="393.95000000000005" y2="178.0" stroke="#000" stroke-width="1.7"/>
<line x1="393.1" y1="177.2" x2="451.8" y2="177.2" stroke="#000" stroke-width="1.5"/>
<line x1="418.40000000000003" y1="119.2" x2="418.40000000000003" y2="177.2" stroke="#62489a" stroke-width="1.5"/>
<line x1="393.1" y1="150.8" x2="451.3" y2="150.8" stroke="#62489a" stroke-width="1.5"/>
<text x="395.20000000000005" y="127.6" font-size="7.8" text-anchor="start" fill="#111" font-weight="normal" font-style="normal" >37.8</text>
<text x="449.90000000000003" y="127.6" font-size="7.8" text-anchor="end" fill="#111" font-weight="normal" font-style="normal" >4.4</text>
<text x="395.20000000000005" y="175.6" font-size="7.8" text-anchor="start" fill="#111" font-weight="normal" font-style="normal" >56.8</text>
<text x="449.90000000000003" y="175.6" font-size="7.8" text-anchor="end" fill="#111" font-weight="normal" font-style="normal" >0.9</text>
<clipPath id="c2_7"><rect x="456.4" y="120.2" width="56" height="56.5"/></clipPath>
<g clip-path="url(#c2_7)">
<ellipse cx="0" cy="0" rx="13.5" ry="11.2" fill="url(#rgg)" opacity="0.62" transform="translate(466.0 163.2) rotate(90)"/>
<ellipse cx="0" cy="0" rx="18.2" ry="16.9" fill="url(#rg)" opacity="0.2" transform="translate(465.9 162.2) rotate(90)"/>
<ellipse cx="0" cy="0" rx="9.9" ry="8.6" fill="url(#rg)" opacity="0.8" transform="translate(465.2 141.2) rotate(90)"/>
<ellipse cx="0" cy="0" rx="7.8" ry="4.9" fill="url(#rgg)" opacity="0.1" transform="translate(490.9 141.7) rotate(90)"/>
<path d="M462.4 153.4h.7M468.2 167.6h.7M470.1 161.9h.7M465.9 154.2h.7M472.1 160.0h.7M469.9 165.8h.7M466.6 161.4h.7M462.7 170.0h.7M466.8 154.3h.7M463.3 161.1h.7M464.1 160.5h.7M469.4 163.5h.7M461.7 159.1h.7M469.5 163.8h.7M458.9 168.5h.7M469.8 158.6h.7M469.8 166.2h.7M465.4 163.7h.7M458.7 157.1h.7M456.0 157.2h.7M465.6 166.3h.7M467.1 173.6h.7M462.4 160.8h.7M468.8 161.0h.7M459.1 160.7h.7M462.6 168.0h.7M461.7 160.6h.7M465.0 163.6h.7M465.6 158.3h.7M468.2 167.1h.7M464.6 156.5h.7M464.5 165.7h.7M471.7 167.1h.7M461.0 166.2h.7M469.8 161.9h.7M471.7 161.0h.7M466.7 168.9h.7M472.2 161.9h.7M458.2 168.7h.7M467.5 151.8h.7M467.5 165.2h.7M467.3 167.3h.7M455.4 158.4h.7M466.7 156.6h.7M462.4 162.0h.7M470.6 165.5h.7M470.0 160.3h.7M469.7 166.6h.7M467.7 165.4h.7M469.9 158.0h.7M463.7 168.7h.7M463.0 164.0h.7M469.5 173.1h.7M465.6 164.0h.7M471.1 158.7h.7M462.6 151.3h.7M463.2 161.2h.7M466.0 169.1h.7M465.4 155.3h.7M461.5 161.6h.7M463.1 159.1h.7M466.2 160.5h.7M457.6 172.0h.7M466.9 166.8h.7M462.2 167.4h.7M464.3 167.8h.7M468.5 152.6h.7M463.9 154.7h.7M461.7 171.4h.7M460.4 165.2h.7M461.0 159.6h.7M466.3 161.4h.7M468.8 170.0h.7M472.3 155.3h.7M468.7 170.1h.7M468.3 154.6h.7M470.8 159.5h.7M464.8 162.6h.7M467.5 169.1h.7M465.6 164.3h.7M469.2 169.8h.7M463.4 165.2h.7M464.7 161.6h.7M473.4 156.3h.7M467.4 158.8h.7M471.1 169.7h.7M467.5 155.0h.7M464.1 154.5h.7M464.6 172.4h.7M467.0 160.8h.7M465.3 160.2h.7M470.4 149.3h.7M464.3 167.9h.7M471.8 161.6h.7M465.5 160.2h.7M463.8 168.9h.7M463.1 162.5h.7M466.7 163.2h.7M460.5 161.1h.7M469.6 162.2h.7M465.4 167.3h.7M465.9 158.0h.7M462.8 155.1h.7M470.5 168.8h.7M465.6 155.5h.7M470.2 159.3h.7M464.2 159.6h.7M462.9 158.0h.7M478.6 160.2h.7M469.7 165.0h.7" stroke="#111" stroke-width=".7" stroke-opacity=".4" fill="none"/>
<path d="M471.9 153.4h.7M471.8 163.0h.7M469.2 170.2h.7M467.9 147.6h.7M463.6 168.4h.7M463.5 167.0h.7M462.6 165.7h.7M458.2 158.0h.7M474.1 155.9h.7M466.8 170.5h.7M471.6 163.1h.7M463.8 160.0h.7M466.8 163.0h.7M467.8 158.7h.7M473.8 161.7h.7M462.0 165.2h.7M470.9 163.7h.7M462.1 161.3h.7M469.4 160.4h.7M469.4 162.8h.7M471.1 161.6h.7M468.6 160.4h.7M471.1 152.5h.7M468.8 164.2h.7M457.3 162.4h.7M458.0 164.7h.7M458.6 172.8h.7M476.0 154.2h.7M464.8 161.0h.7M466.3 169.3h.7M458.5 167.6h.7M469.1 158.5h.7M473.2 166.9h.7M466.6 155.7h.7M467.8 171.8h.7M469.2 168.6h.7M468.5 160.9h.7M463.9 161.2h.7M460.7 153.7h.7M464.8 167.1h.7M464.7 158.2h.7M465.7 168.3h.7M463.6 162.7h.7M470.2 163.2h.7M463.7 163.6h.7M463.1 169.6h.7M463.7 162.3h.7M469.8 157.5h.7M461.8 160.7h.7M471.3 174.3h.7M471.8 154.2h.7M470.3 159.4h.7M463.0 157.8h.7M470.7 157.6h.7M469.7 155.7h.7M469.5 170.9h.7M466.1 166.0h.7M465.9 174.7h.7M465.2 159.9h.7M460.6 159.5h.7M472.1 162.6h.7M467.4 158.5h.7M464.9 165.4h.7M465.4 164.5h.7M470.0 170.2h.7M467.7 158.6h.7M465.5 157.6h.7M467.5 165.3h.7M465.9 161.1h.7M465.8 164.2h.7M465.8 152.5h.7M467.1 169.5h.7M466.1 174.8h.7M469.2 161.5h.7M469.7 156.4h.7M471.0 159.0h.7M458.1 171.3h.7M474.5 162.9h.7M472.4 169.7h.7M459.8 156.8h.7M463.6 159.2h.7M468.3 156.6h.7M458.6 152.6h.7M464.8 162.3h.7M463.5 163.2h.7M468.8 160.2h.7M462.6 171.2h.7M472.2 161.7h.7M469.0 157.2h.7M473.7 151.1h.7M463.9 168.7h.7M465.0 162.0h.7M473.2 158.4h.7M462.7 163.7h.7M462.8 164.8h.7M465.4 163.4h.7M461.6 165.4h.7M473.2 171.2h.7M467.0 162.2h.7M471.0 158.0h.7M461.9 165.3h.7M463.3 163.9h.7M465.1 168.6h.7M459.4 165.4h.7M464.0 159.2h.7M469.3 156.4h.7M464.3 175.0h.7" stroke="#111" stroke-width=".7" stroke-opacity=".4" fill="none"/>
<path d="M459.6 154.4h.7M461.2 161.7h.7M460.8 155.2h.7M477.3 161.4h.7M469.1 167.8h.7M457.4 150.5h.7M461.5 167.1h.7M463.9 151.7h.7M469.6 151.8h.7M470.9 154.5h.7M459.5 163.1h.7M477.7 151.9h.7M466.7 161.0h.7M459.7 163.5h.7M470.7 159.4h.7M457.7 159.4h.7M464.7 166.7h.7M475.3 166.8h.7M460.4 174.3h.7M465.7 176.9h.7M463.5 168.2h.7M467.1 170.3h.7M459.6 164.2h.7M468.0 162.4h.7M463.3 166.8h.7M471.7 167.5h.7M472.0 173.0h.7M465.6 151.1h.7M472.8 166.0h.7M465.2 157.1h.7M458.5 159.3h.7M459.8 165.4h.7M462.5 173.6h.7M462.3 148.5h.7M461.7 159.5h.7M468.2 163.2h.7M456.3 166.3h.7M467.0 155.2h.7M464.3 167.4h.7M467.4 156.9h.7M472.2 175.1h.7M475.5 149.0h.7M458.1 163.5h.7M474.9 169.9h.7M477.3 156.8h.7M462.5 161.0h.7M458.8 168.6h.7M462.0 147.7h.7M466.2 163.3h.7M482.7 161.7h.7M469.4 150.3h.7M459.5 169.0h.7M461.5 166.7h.7M460.8 169.1h.7M468.5 156.0h.7M471.5 163.5h.7M462.0 164.9h.7M463.6 161.2h.7M464.4 166.4h.7M467.7 163.4h.7M458.2 157.2h.7M475.8 177.4h.7M465.1 160.0h.7M469.4 153.4h.7M470.1 157.1h.7M464.7 165.1h.7M462.4 156.7h.7M464.5 160.4h.7M460.2 144.0h.7M459.0 161.5h.7M466.3 155.8h.7" stroke="#000" stroke-width=".7" stroke-opacity=".4" fill="none"/>
<path d="M471.0 161.5h.7M476.6 158.9h.7M463.4 159.5h.7M463.4 165.7h.7M463.5 159.1h.7M457.7 175.8h.7M457.8 164.7h.7M462.7 158.0h.7M457.4 165.2h.7M465.4 161.3h.7M470.7 157.3h.7M467.3 149.2h.7M472.2 162.1h.7M470.3 169.5h.7M474.5 164.2h.7M459.6 153.3h.7M473.5 155.7h.7M460.5 162.2h.7M468.7 164.9h.7M462.5 175.0h.7M466.9 162.7h.7M465.8 155.8h.7M473.3 159.3h.7M470.2 165.1h.7M459.2 161.8h.7M462.4 163.8h.7M465.7 168.3h.7M465.7 155.0h.7M479.9 162.8h.7M466.9 148.8h.7M463.8 172.6h.7M472.4 159.9h.7M458.9 155.7h.7M467.2 161.2h.7M466.1 168.1h.7M472.1 167.9h.7M468.9 158.9h.7M474.7 159.2h.7M466.3 167.1h.7M479.9 166.6h.7M480.0 163.1h.7M461.8 165.0h.7M466.7 158.5h.7M462.2 169.7h.7M463.3 156.9h.7M465.4 168.0h.7M469.6 171.9h.7M469.2 164.3h.7M469.3 168.8h.7M468.6 160.1h.7M461.7 165.3h.7M474.7 156.4h.7M460.2 169.9h.7M462.3 171.8h.7M467.4 170.2h.7M469.0 171.9h.7M467.7 160.9h.7M462.8 160.6h.7M463.6 161.9h.7M461.4 154.8h.7M464.4 161.8h.7M462.3 168.9h.7M467.4 156.6h.7M468.0 157.3h.7M470.4 152.8h.7M460.7 175.0h.7M463.6 164.5h.7M458.8 155.0h.7" stroke="#000" stroke-width=".7" stroke-opacity=".4" fill="none"/>
<path d="M463.5 145.4h.7M463.6 144.3h.7M467.7 141.3h.7M464.2 143.0h.7M462.1 138.8h.7M469.4 137.9h.7M460.1 145.2h.7M465.9 145.1h.7M463.2 138.0h.7M466.0 145.0h.7M468.9 143.9h.7M468.7 143.2h.7M465.9 141.2h.7M460.4 140.3h.7M463.3 143.7h.7M465.6 135.8h.7M464.5 144.8h.7M462.5 132.0h.7M472.6 145.8h.7M465.4 145.0h.7M461.0 129.2h.7M467.7 136.2h.7M465.5 144.4h.7M465.5 139.0h.7M464.1 143.3h.7M470.9 152.3h.7M465.1 141.2h.7M466.2 142.9h.7M467.3 147.0h.7M467.6 142.6h.7M465.5 137.0h.7M462.9 147.6h.7M469.1 140.1h.7M468.7 136.7h.7M463.3 144.1h.7M465.2 143.8h.7M467.7 141.6h.7M467.4 138.4h.7M473.1 142.4h.7M459.7 146.8h.7M463.9 144.1h.7M468.5 140.1h.7M463.0 137.1h.7M462.4 139.4h.7M458.6 141.9h.7M466.0 142.0h.7M460.6 145.5h.7M469.8 143.2h.7M470.3 144.4h.7M465.4 135.6h.7M466.6 138.8h.7M466.1 143.6h.7M465.8 138.8h.7M465.2 133.4h.7M460.0 137.2h.7M459.5 142.9h.7M469.9 147.3h.7M469.6 137.5h.7M464.0 131.0h.7M472.8 142.7h.7M468.3 143.3h.7M463.8 136.2h.7M467.2 148.8h.7M469.6 140.6h.7M457.1 135.9h.7M464.3 136.0h.7M461.9 140.3h.7M468.9 137.7h.7M457.3 138.1h.7M462.9 142.8h.7M461.9 136.3h.7M466.3 136.3h.7M467.9 143.7h.7M469.5 145.4h.7M464.3 147.0h.7M468.8 146.5h.7M464.8 143.8h.7M469.2 141.2h.7M465.7 139.6h.7M463.8 140.5h.7M462.9 141.0h.7M465.3 146.8h.7M464.6 136.8h.7M468.3 140.1h.7M464.1 139.4h.7M466.1 141.4h.7M467.7 144.5h.7M464.8 145.6h.7M462.1 144.9h.7M467.0 139.3h.7M468.0 140.4h.7M462.0 141.1h.7M468.6 141.3h.7M473.1 145.4h.7M464.3 142.1h.7M463.7 144.6h.7M459.6 138.5h.7M467.9 135.2h.7M471.2 143.7h.7M470.8 145.2h.7" stroke="#000" stroke-width=".7" stroke-opacity=".4" fill="none"/>
<path d="M465.6 139.0h.7M463.0 137.9h.7M469.5 140.4h.7M465.9 141.5h.7M462.7 139.4h.7M466.7 143.0h.7M466.0 142.7h.7M466.5 138.8h.7M462.6 138.0h.7M464.5 145.2h.7M459.8 131.4h.7M460.6 138.5h.7M461.0 141.1h.7M467.2 142.3h.7M471.6 140.2h.7M467.8 135.1h.7M467.1 128.8h.7M464.2 135.7h.7M461.9 140.1h.7M469.8 143.8h.7M460.1 136.8h.7M469.4 144.3h.7M462.8 145.3h.7M462.6 133.3h.7M463.9 139.5h.7M460.7 146.0h.7M462.5 140.2h.7M463.3 139.2h.7M463.8 143.2h.7M462.2 141.4h.7M465.4 141.2h.7M466.2 138.0h.7M461.9 136.7h.7M466.3 143.0h.7M468.6 141.0h.7M465.5 146.3h.7M466.0 139.7h.7M465.1 136.4h.7M465.4 143.0h.7M459.8 143.7h.7M467.3 142.2h.7M466.0 140.1h.7M466.5 147.9h.7M462.9 142.8h.7M462.8 137.4h.7M466.2 145.9h.7M467.0 150.6h.7M458.8 142.2h.7M465.0 136.5h.7M462.6 139.7h.7M465.0 141.1h.7M466.8 140.1h.7M461.2 139.0h.7M467.8 142.6h.7M462.3 132.4h.7M458.6 149.7h.7M466.9 145.8h.7M470.5 138.2h.7M464.1 134.6h.7M468.2 139.3h.7M463.9 143.3h.7M458.5 134.9h.7M463.6 138.8h.7M466.3 141.3h.7M466.3 141.6h.7M465.7 140.1h.7M466.0 149.6h.7M467.9 135.1h.7M471.7 144.1h.7M458.2 140.4h.7M463.9 138.1h.7M466.5 143.0h.7M467.6 145.3h.7M469.2 136.0h.7M463.2 144.1h.7M463.2 142.2h.7M458.8 140.9h.7M468.6 146.8h.7M463.3 136.5h.7M468.5 138.5h.7M464.5 146.2h.7M465.5 130.9h.7M465.3 137.6h.7M464.0 149.4h.7M464.1 144.1h.7M469.2 138.8h.7M466.3 139.2h.7M456.1 147.2h.7M467.0 142.9h.7M470.7 141.5h.7M464.1 145.5h.7M462.4 134.9h.7M459.0 140.9h.7M464.5 142.7h.7M464.8 142.0h.7M461.2 134.4h.7M465.6 143.5h.7M460.0 143.7h.7M464.8 145.3h.7M465.9 140.0h.7" stroke="#000" stroke-width=".7" stroke-opacity=".4" fill="none"/>
<path d="M489.9 140.4h.7M492.9 140.8h.7M490.7 141.6h.7M489.6 140.4h.7M492.1 140.9h.7M491.1 149.1h.7M492.6 139.7h.7M488.2 147.5h.7M492.3 143.7h.7M492.5 142.9h.7M494.0 139.9h.7M488.6 142.3h.7M490.5 142.8h.7M492.1 141.6h.7M493.1 143.7h.7" stroke="#777" stroke-width=".7" stroke-opacity=".4" fill="none"/>
<path d="M488.6 142.8h.7M492.4 143.8h.7M493.8 139.4h.7M489.5 143.5h.7M492.2 136.1h.7M492.8 138.5h.7M492.1 143.9h.7M488.3 140.3h.7M491.4 140.7h.7M490.3 145.2h.7M490.2 138.5h.7M492.8 137.3h.7M489.8 144.5h.7M493.2 142.9h.7M490.5 146.5h.7" stroke="#777" stroke-width=".7" stroke-opacity=".4" fill="none"/>
</g>
<line x1="454.0" y1="120.2" x2="454.0" y2="177.2" stroke="#222" stroke-width="1.4" stroke-dasharray="1 .7 1 .7 1 .7 1 .7 1 .7 1.5 2"/>
<line x1="456.7" y1="178.7" x2="512.9" y2="178.7" stroke="#222" stroke-width="1.4" stroke-dasharray="1 .7 1 .7 1 .7 1 .7 1 .7 1.5 2"/>
<line x1="454.7" y1="119.7" x2="513.4" y2="119.7" stroke="#000" stroke-width="1"/>
<line x1="512.9" y1="119.2" x2="512.9" y2="178.0" stroke="#000" stroke-width="1"/>
<line x1="455.55" y1="119.2" x2="455.55" y2="178.0" stroke="#000" stroke-width="1.7"/>
<line x1="454.7" y1="177.2" x2="513.4" y2="177.2" stroke="#000" stroke-width="1.5"/>
<line x1="480.0" y1="119.2" x2="480.0" y2="177.2" stroke="#62489a" stroke-width="1.5"/>
<line x1="454.7" y1="150.8" x2="512.9" y2="150.8" stroke="#62489a" stroke-width="1.5"/>
<text x="456.8" y="127.6" font-size="7.8" text-anchor="start" fill="#111" font-weight="normal" font-style="normal" >34.0</text>
<text x="511.5" y="127.6" font-size="7.8" text-anchor="end" fill="#111" font-weight="normal" font-style="normal" >1.8</text>
<text x="456.8" y="175.6" font-size="7.8" text-anchor="start" fill="#111" font-weight="normal" font-style="normal" >63.9</text>
<text x="511.5" y="175.6" font-size="7.8" text-anchor="end" fill="#111" font-weight="normal" font-style="normal" >0.3</text>
<text x="32.7" y="190.3" font-size="9.0" text-anchor="start" fill="#111" font-weight="bold" font-style="normal" transform="translate(32.7 0) scale(0.65 1) translate(-32.7 0)">IgG1</text>
<line x1="49" y1="188.4" x2="506" y2="188.4" stroke="#000" stroke-width="1.2"/>
<polygon points="503,185.8 511.5,188.4 503,191" fill="#000"/>
<line x1="12.4" y1="50" x2="12.4" y2="148.8" stroke="#000" stroke-width="1.2"/>
<polygon points="9.7,53.5 12.4,45.3 15.1,53.5" fill="#000"/>
<text x="0" y="0" font-size="9" font-weight="bold" fill="#111" transform="translate(15.3 167.8) rotate(-90) scale(0.72 1)">IRF4</text>
</svg>
<div style="position:absolute;left:89.90px;top:232.4px;width:13.50px;height:166.1px;background:linear-gradient(#e55864 0.0px 2.0px,#c2323e 2.0px 3.2px,#2a3d88 3.2px 5.2px,#304599 5.2px 6.2px,#2b3d89 6.2px 8.2px,#2a3d88 8.2px 9.2px,#2f4498 9.2px 11.2px,#3a4e9f 11.2px 12.2px,#5264ab 12.2px 14.2px,#2f4396 14.2px 15.2px,#34499c 15.2px 16.2px,#2f4396 16.2px 17.2px,#485aa6 17.2px 18.2px,#2c3f8d 18.2px 20.2px,#283a81 20.2px 21.7px,#4154a2 21.7px 22.7px,#2a3c86 22.7px 23.9px,#b0b8e0 23.9px 25.9px,#263a82 25.9px 26.4px,#3b5099 26.4px 27.4px,#293e8c 27.4px 28.9px,#3b4f99 28.9px 30.4px,#5062a4 30.4px 31.3px,#5f6eaf 31.3px 33.3px,#5c6aae 33.3px 34.3px,#4a599c 34.3px 34.8px,#4c5ba6 34.8px 35.8px,#727eb9 35.8px 36.8px,#3a4890 36.8px 38.6px,#cfcfeb 38.6px 40.6px,#bdbddb 40.6px 41.6px,#9ca4d3 41.6px 43.1px,#a9b0dc 43.1px 44.6px,#a5adda 44.6px 45.1px,#818fc8 45.1px 46.1px,#8491c9 46.1px 47.1px,#6573ad 47.1px 48.1px,#5565b2 48.1px 49.1px,#3b4782 49.1px 50.2px,#7e8ecd 50.2px 51.2px,#7c8cca 51.2px 53.2px,#7b8bc9 53.2px 55.2px,#9eaadb 55.2px 55.7px,#4050a8 55.7px 57.2px,#4555aa 57.2px 58.1px,#404f9d 58.1px 59.1px,#394899 59.1px 60.1px,#c7c7e7 60.1px 60.6px,#c9c9e8 60.6px 61.6px,#b8b8d6 61.6px 62.3px,#c3bbde 62.3px 64.3px,#c1badd 64.3px 65.3px,#b3abcd 65.3px 66.3px,#b6afd1 66.3px 66.8px,#3d4b97 66.8px 67.8px,#1f2f84 67.8px 68.8px,#26368b 68.8px 69.3px,#6a79bc 69.3px 70.3px,#5f6fb7 70.3px 71.3px,#283790 71.3px 72.3px,#4351a4 72.3px 73.5px,#b0b7d5 73.5px 75.5px,#c2c9e9 75.5px 76.5px,#c1c9e8 76.5px 77.6px,#df1a20 77.6px 78.6px,#cc181d 78.6px 80.6px,#dd1a20 80.6px 82.6px,#e22a30 82.6px 83.6px,#e11f25 83.6px 84.6px,#e53c41 84.6px 85.6px,#e2282e 85.6px 87.1px,#e85458 87.1px 88.1px,#dd1a20 88.1px 89.1px,#e4373c 89.1px 90.1px,#e2252b 90.1px 91.1px,#e33136 91.1px 92.1px,#c5171c 92.1px 93.1px,#e6454a 93.1px 94.6px,#b9161a 94.6px 95.1px,#d6b2b2 95.1px 97.1px,#dfbaba 97.1px 98.6px,#b57d83 98.6px 99.6px,#c68990 99.6px 100.6px,#f0c9c9 100.6px 102.1px,#f1cbcb 102.1px 102.9px,#e03038 102.9px 104.4px,#e55057 104.4px 105.4px,#cd2c33 105.4px 106.4px,#ce2c33 106.4px 107.9px,#e44e54 107.9px 108.9px,#e1363d 108.9px 110.9px,#de3038 110.9px 112.9px,#d22d35 112.9px 113.9px,#d22d35 113.9px 114.9px,#e54e55 114.9px 115.9px,#e34148 115.9px 117.4px,#dd2f37 117.4px 119.4px,#cc2c33 119.4px 121.4px,#c82b32 121.4px 123.0px,#e97584 123.0px 124.0px,#d56775 124.0px 125.5px,#da6978 125.5px 126.5px,#c43f4d 126.5px 127.0px,#e04958 127.0px 129.0px,#e35867 129.0px 130.5px,#d44453 130.5px 131.5px,#be3d4b 131.5px 132.5px,#dc4756 132.5px 134.0px,#d14352 134.0px 134.6px,#e03040 134.6px 136.6px,#e13848 136.6px 138.1px,#e44856 138.1px 139.1px,#cc2c3a 139.1px 140.1px,#e34554 140.1px 141.6px,#e34351 141.6px 142.6px,#e34554 142.6px 143.6px,#e34351 143.6px 144.6px,#db2f3f 144.6px 145.6px,#d12d3c 145.6px 146.6px,#e13645 146.6px 147.6px,#ce2c3b 147.6px 148.3px,#ea7e8c 148.3px 149.8px,#d76877 149.8px 151.6px,#e65359 151.6px 153.1px,#d9272e 153.1px 154.1px,#d1252d 154.1px 155.6px,#d1252d 155.6px 157.1px,#cb242c 157.1px 158.1px,#dc272f 158.1px 160.1px,#e02a32 160.1px 161.6px,#e13038 161.6px 162.6px,#bd2228 162.6px 163.6px,#e34047 163.6px 165.6px,#e33c43 165.6px 166.1px)"></div>
<div style="position:absolute;left:103.35px;top:232.4px;width:13.50px;height:166.1px;background:linear-gradient(#6d7dbb 0.0px 1.0px,#6a79b5 1.0px 3.0px,#2a49a9 3.0px 3.5px,#2b4ba9 3.5px 5.5px,#314fab 5.5px 6.5px,#3a57af 6.5px 8.0px,#233f93 8.0px 9.0px,#4460b3 9.0px 10.0px,#223c8d 10.0px 11.0px,#4460b3 11.0px 13.0px,#26449e 13.0px 14.0px,#2d4caa 14.0px 15.0px,#233f93 15.0px 17.0px,#2645a1 17.0px 18.5px,#233f94 18.5px 20.2px,#8f9acd 20.2px 21.2px,#6978bc 21.2px 22.2px,#bdc3e8 22.2px 22.7px,#8e95bd 22.7px 24.2px,#a2aad8 24.2px 24.7px,#6c78b9 24.7px 26.2px,#415098 26.2px 27.7px,#5b69b1 27.7px 28.2px,#838bc9 28.2px 30.2px,#7d85c4 30.2px 31.7px,#8088c8 31.7px 32.7px,#838bc9 32.7px 33.6px,#4c5ba7 33.6px 35.1px,#333d6f 35.1px 36.1px,#606eb7 36.1px 37.6px,#6971a9 37.6px 39.6px,#7078b3 39.6px 40.6px,#6f77b2 40.6px 42.6px,#6f7ebe 42.6px 43.6px,#6c7cba 43.6px 45.1px,#7f8dc7 45.1px 46.1px,#8a97cb 46.1px 47.6px,#5b689b 47.6px 49.1px,#b3bbe1 49.1px 51.1px,#7684c2 51.1px 51.6px,#909cce 51.6px 53.6px,#6978bc 53.6px 54.4px,#6e7cb3 54.4px 55.4px,#8191d0 55.4px 56.4px,#6774a8 56.4px 57.6px,#d7d7ef 57.6px 59.6px,#d0d0ec 59.6px 60.2px,#ad6f7d 60.2px 61.7px,#b57d8a 61.7px 62.3px,#d2a8a8 62.3px 64.3px,#f1c6c6 64.3px 65.0px,#ea9999 65.0px 66.0px,#eba0a0 66.0px 67.5px,#eba0a0 67.5px 68.5px,#e99393 68.5px 69.2px,#f1c5cc 69.2px 70.7px,#edbec6 70.7px 72.2px,#e0b3bb 72.2px 73.5px,#c52a2a 73.5px 74.5px,#e03030 74.5px 76.0px,#d42d2d 76.0px 77.0px,#b92828 77.0px 77.6px,#dccece 77.6px 79.6px,#d9c4cb 79.6px 80.6px,#f9e3ea 80.6px 81.6px,#e3cdd5 81.6px 82.6px,#f9e3ea 82.6px 83.6px,#bbbbd1 83.6px 84.1px,#d7d7eb 84.1px 85.1px,#c3c3d9 85.1px 86.1px,#9ba3c9 86.1px 87.1px,#a9b0d4 87.1px 88.1px,#d1d1e8 88.1px 89.1px,#e2d3da 89.1px 89.6px,#f1e1e9 89.6px 90.6px,#e9d9e1 90.6px 91.6px,#ded0d7 91.6px 93.1px,#f1e3ea 93.1px 93.6px,#e99d9d 93.6px 94.6px,#eca8a8 94.6px 95.6px,#e99e9e 95.6px 96.6px,#eca9a9 96.6px 98.1px,#e09393 98.1px 98.6px,#c5b7c5 98.6px 100.1px,#e1d2e1 100.1px 101.1px,#cabcca 101.1px 102.1px,#e0d1e0 102.1px 103.1px,#c4b6c4 103.1px 103.9px,#f0c9c9 103.9px 104.9px,#f1cbcb 104.9px 105.9px,#f4d7d7 105.9px 106.9px,#edc5c5 106.9px 107.9px,#f2cece 107.9px 108.9px,#f2cfcf 108.9px 109.9px,#e5bfbf 109.9px 110.9px,#f2cece 110.9px 111.4px,#f8e1e1 111.4px 113.4px,#f9e3e3 113.4px 114.4px,#f8e2e2 114.4px 115.4px,#f9f2f5 115.4px 115.9px,#f9f2f6 115.9px 117.9px,#eae2e6 117.9px 118.9px,#f4ecf0 118.9px 119.9px,#f8f1f4 119.9px 121.6px,#b38383 121.6px 122.6px,#eeafaf 122.6px 124.1px,#f2bdbd 124.1px 125.6px,#dda2a2 125.6px 126.6px,#f1b6b6 126.6px 128.6px,#f1b6b6 128.6px 130.1px,#f0b1b1 130.1px 132.1px,#daa0a0 132.1px 133.1px,#f0b2b2 133.1px 133.6px,#ead7db 133.6px 134.6px,#fdeef1 134.6px 135.6px,#cfbfc2 135.6px 136.6px,#f4e0e4 136.6px 137.6px,#fdeff2 137.6px 139.1px,#fce9ec 139.1px 140.3px,#f2c7c7 140.3px 141.3px,#a98787 141.3px 142.3px,#f5d4d4 142.3px 143.3px,#f0c2c2 143.3px 144.3px,#b49090 144.3px 145.3px,#d6abab 145.3px 146.3px,#d9adad 146.3px 147.8px,#eabbbb 147.8px 148.3px,#e9a2a2 148.3px 149.3px,#eaa9a9 149.3px 151.3px,#e8a1a1 151.3px 152.8px,#d09090 152.8px 154.1px,#e8aaaa 154.1px 155.1px,#f0b1b1 155.1px 157.1px,#e8aaaa 157.1px 158.1px,#f1b5b5 158.1px 160.1px,#ebacac 160.1px 162.1px,#f1b7b7 162.1px 163.1px,#dba0a0 163.1px 164.1px,#f2b9b9 164.1px 166.1px)"></div>
<div style="position:absolute;left:116.80px;top:232.4px;width:13.50px;height:166.1px;background:linear-gradient(#4655a3 0.0px 2.0px,#4454a0 2.0px 3.2px,#dbdbf1 3.2px 4.7px,#c7c7dd 4.7px 6.2px,#bcbcd1 6.2px 7.2px,#d9d9f0 7.2px 8.1px,#9b9bb7 8.1px 9.1px,#b0b0d0 9.1px 10.2px,#dbdbe4 10.2px 11.7px,#f5f5fc 11.7px 13.4px,#b1b1ce 13.4px 14.9px,#aaaac9 14.9px 15.6px,#d2d2e1 15.6px 17.6px,#e3e3f1 17.6px 18.1px,#f1e5e9 18.1px 19.1px,#f6ecef 19.1px 21.1px,#f7edf0 21.1px 22.1px,#c7c7e4 22.1px 22.6px,#c2c2e1 22.6px 23.6px,#c4c4e2 23.6px 24.6px,#b4b4d1 24.6px 25.1px,#c9c9e1 25.1px 26.1px,#d2d2e9 26.1px 28.1px,#7a81b3 28.1px 28.6px,#7e85b9 28.6px 30.6px,#8b93c9 30.6px 32.1px,#7980b2 32.1px 33.1px,#878fc7 33.1px 34.6px,#959dca 34.6px 35.6px,#a3abd9 35.6px 37.1px,#8c93bd 37.1px 38.6px,#9da5d4 38.6px 39.6px,#9096cb 39.6px 40.6px,#7880c0 40.6px 42.1px,#7179b5 42.1px 42.6px,#5464b2 42.6px 43.6px,#4f5ead 43.6px 44.6px,#4f5fae 44.6px 45.6px,#6573ba 45.6px 46.6px,#5363b1 46.6px 47.6px,#606fb7 47.6px 48.1px,#7178b0 48.1px 49.1px,#7b83c0 49.1px 50.6px,#7880bc 50.6px 52.6px,#8189c9 52.6px 53.4px,#6f77bf 53.4px 55.4px,#5d639f 55.4px 56.4px,#5e65a2 56.4px 57.4px,#7a82c4 57.4px 58.4px,#6971b4 58.4px 59.6px,#e9e1ed 59.6px 60.6px,#ebe4ee 60.6px 62.1px,#ece6ef 62.1px 63.6px,#c7c0ca 63.6px 64.1px,#e5a8a8 64.1px 65.1px,#e0a4a4 65.1px 67.1px,#d99f9f 67.1px 68.2px,#f8dada 68.2px 69.7px,#f8d9d9 69.7px 71.3px,#dda8af 71.3px 73.3px,#ecbfc6 73.3px 74.3px,#e9b3bb 74.3px 74.8px,#b0818f 74.8px 75.8px,#885866 75.8px 77.3px,#a16979 77.3px 77.8px,#f1d3da 77.8px 79.3px,#e6c7cf 79.3px 79.8px,#f1e3ee 79.8px 81.3px,#e5d6e2 81.3px 83.3px,#ccbec9 83.3px 83.8px,#bebedf 83.8px 85.3px,#b1b1d4 85.3px 87.3px,#c0c0e0 87.3px 88.3px,#aeaed0 88.3px 89.1px,#e3e3f1 89.1px 90.6px,#c1c1cf 90.6px 92.6px,#cecedc 92.6px 93.4px,#c8a0a0 93.4px 95.4px,#e6b8b8 95.4px 96.4px,#f2c7c7 96.4px 97.4px,#f1c4c4 97.4px 98.6px,#f0d8d8 98.6px 99.6px,#f1dada 99.6px 100.6px,#f2dede 100.6px 102.1px,#e9d2d2 102.1px 104.1px,#e0caca 104.1px 105.1px,#e7d0d0 105.1px 106.1px,#f2dede 106.1px 107.1px,#f5d4d4 107.1px 108.6px,#f6d8d8 108.6px 109.6px,#f4d1d1 109.6px 110.6px,#f4d0d0 110.6px 111.3px,#eaa8a8 111.3px 112.8px,#d99696 112.8px 114.8px,#eaa6a6 114.8px 116.3px,#ce8e8e 116.3px 117.3px,#e8a1a1 117.3px 118.3px,#c78989 118.3px 119.3px,#ebabab 119.3px 119.8px,#f1e2ea 119.8px 120.8px,#cabcc3 120.8px 121.9px,#c88a8a 121.9px 122.9px,#e39d9d 122.9px 123.9px,#edb6b6 123.9px 125.9px,#d39191 125.9px 126.9px,#ebabab 126.9px 127.9px,#e79f9f 127.9px 128.9px,#e9a3a3 128.9px 130.4px,#ebabab 130.4px 131.9px,#e9a4a4 131.9px 133.4px,#efb7b7 133.4px 133.9px,#ecb5b5 133.9px 134.9px,#f1bdbd 134.9px 135.9px,#f0b8b8 135.9px 136.9px,#ecb5b5 136.9px 138.9px,#ebb4b4 138.9px 139.9px,#f1bdbd 139.9px 141.4px,#d7a5a5 141.4px 142.4px,#e1acac 142.4px 144.4px,#c59797 144.4px 145.4px,#f1bebe 145.4px 147.4px,#f3c9c9 147.4px 148.3px,#d5aaaa 148.3px 150.3px,#daafaf 150.3px 151.8px,#f0c1c1 151.8px 153.3px,#e1b4b4 153.3px 154.1px,#f0c8c8 154.1px 155.1px,#f3d3d3 155.1px 156.1px,#e3bebe 156.1px 158.1px,#f0c9c9 158.1px 159.6px,#e9c2c2 159.6px 160.6px,#f3d2d2 160.6px 161.6px,#cfacac 161.6px 163.6px,#e9c2c2 163.6px 164.6px,#d3b0b0 164.6px 165.6px,#f1cbcb 165.6px 166.1px)"></div>
<div style="position:absolute;left:130.25px;top:232.4px;width:13.50px;height:166.1px;background:linear-gradient(#5f6eaf 0.0px 1.5px,#414e89 1.5px 2.5px,#3f4b84 2.5px 3.2px,#f2c0b9 3.2px 4.2px,#f2c4bd 4.2px 5.2px,#f1bfb8 5.2px 6.2px,#ca9b94 6.2px 7.2px,#deaaa3 7.2px 8.2px,#f2c1ba 8.2px 9.2px,#edb6ae 9.2px 11.2px,#e8b2aa 11.2px 12.7px,#f0bab2 12.7px 13.7px,#daa7a0 13.7px 14.7px,#f1bbb3 14.7px 16.6px,#eb9292 16.6px 18.6px,#efa4a4 18.6px 19.6px,#d67676 19.6px 21.1px,#d27474 21.1px 21.6px,#f5d4d4 21.6px 23.6px,#dfbebe 23.6px 24.6px,#f6d6d6 24.6px 25.6px,#e4c2c2 25.6px 26.1px,#d0c2c9 26.1px 27.1px,#f2e4eb 27.1px 29.1px,#f0e0e8 29.1px 30.6px,#f9e5ed 30.6px 31.6px,#fce9f1 31.6px 32.6px,#fce9f1 32.6px 33.6px,#f4e1e9 33.6px 34.6px,#ececf6 34.6px 36.1px,#dedeea 36.1px 37.1px,#e9e9f4 37.1px 38.6px,#eaeaf5 38.6px 39.6px,#c3c3e2 39.6px 41.1px,#cdcdea 41.1px 43.1px,#b7b7d5 43.1px 43.6px,#b3bbe1 43.6px 44.6px,#aab2d8 44.6px 45.6px,#aab2d9 45.6px 46.6px,#b1b9e0 46.6px 47.6px,#b2bae1 47.6px 49.1px,#aab2dd 49.1px 50.1px,#aab1dd 50.1px 51.1px,#a3abd6 51.1px 53.1px,#aab2dd 53.1px 55.1px,#98a0c8 55.1px 55.6px,#a8afcc 55.6px 57.6px,#b7bfdd 57.6px 58.6px,#eaeaf5 58.6px 59.6px,#dadae5 59.6px 61.6px,#dc6a6a 61.6px 62.1px,#e77070 62.1px 63.1px,#ea7b7b 63.1px 64.6px,#ea7d7d 64.6px 65.1px,#f8d3d3 65.1px 66.6px,#f9d3d3 66.6px 68.1px,#ce8080 68.1px 68.6px,#e99393 68.6px 70.1px,#bb7474 70.1px 71.1px,#d56767 71.1px 71.6px,#d86868 71.6px 72.6px,#e46e6e 72.6px 73.6px,#e66f6f 73.6px 74.6px,#f1dbe3 74.6px 75.6px,#f2dce3 75.6px 77.6px,#d8c3ca 77.6px 79.1px,#f4e1e7 79.1px 79.6px,#dedee9 79.6px 81.1px,#e8e8f4 81.1px 82.1px,#ebebf5 82.1px 83.1px,#d9d9e4 83.1px 83.8px,#d4d4ea 83.8px 85.3px,#d8d8ec 85.3px 86.8px,#d7d7ec 86.8px 87.8px,#d7d7eb 87.8px 89.1px,#7181c1 89.1px 90.6px,#8693ca 90.6px 91.6px,#616fa6 91.6px 92.6px,#6574ae 92.6px 94.4px,#c3c3d1 94.4px 95.4px,#e4e4f2 95.4px 96.4px,#e0e0f0 96.4px 97.9px,#b9b9c6 97.9px 98.6px,#f8d3cc 98.6px 99.6px,#f9d5ce 99.6px 100.6px,#edc7bf 100.6px 101.6px,#f6cec6 101.6px 102.9px,#e2e2ee 102.9px 103.9px,#e9e9f5 103.9px 104.9px,#ececf6 104.9px 106.4px,#eaeaf5 106.4px 107.4px,#ececf6 107.4px 109.4px,#e1e1ec 109.4px 111.4px,#cfcfda 111.4px 112.9px,#eaeaf5 112.9px 114.9px,#a5a5ad 114.9px 116.4px,#e9e9f4 116.4px 118.4px,#e9e9f4 118.4px 119.6px,#f8e9ed 119.6px 121.1px,#f4e4e8 121.1px 123.1px,#f8e8ec 123.1px 124.1px,#f1e1e5 124.1px 125.6px,#c9bcbf 125.6px 127.6px,#f8e8ec 127.6px 129.1px,#e5d6da 129.1px 130.1px,#f9eaee 130.1px 131.1px,#f9eaee 131.1px 133.1px,#eedee2 133.1px 134.1px,#f8e8ec 134.1px 135.1px,#dbcdd0 135.1px 136.6px,#ccbfc2 136.6px 137.6px,#f9eaee 137.6px 139.1px,#e7d8db 139.1px 140.1px,#eadbdf 140.1px 141.1px,#e5d6da 141.1px 142.1px,#f9ecef 142.1px 143.1px,#f9ebee 143.1px 144.1px,#f9eaee 144.1px 146.1px,#f8e8ec 146.1px 147.1px,#f4dddd 147.1px 148.1px,#f8e1e1 148.1px 150.1px,#f9e4e4 150.1px 152.1px,#f9e4e4 152.1px 153.1px,#efd8d8 153.1px 154.1px,#ddddf0 154.1px 155.6px,#d3d3e9 155.6px 157.1px,#dadaef 157.1px 159.1px,#dbdbef 159.1px 160.1px,#e1e1f2 160.1px 161.1px,#c9c9dd 161.1px 162.1px,#e0e0f2 162.1px 164.1px,#dcdcf0 164.1px 165.1px,#e0e0f2 165.1px 166.1px)"></div>
<div style="position:absolute;left:143.70px;top:232.4px;width:13.50px;height:166.1px;background:linear-gradient(#848bc5 0.0px 1.0px,#969dce 1.0px 2.0px,#7179b5 2.0px 2.8px,#f3baba 2.8px 4.3px,#eda6a6 4.3px 6.3px,#e5a0a0 6.3px 8.3px,#f1aeae 8.3px 10.3px,#f1abab 10.3px 11.8px,#eca6a6 11.8px 12.8px,#e29e9e 12.8px 13.8px,#de9b9b 13.8px 14.8px,#f0a8a8 14.8px 15.6px,#e98686 15.6px 17.1px,#d07373 17.1px 18.1px,#ee9f9f 18.1px 19.1px,#e27c7c 19.1px 20.1px,#e37d7d 20.1px 21.1px,#f2caca 21.1px 22.1px,#f2c8c8 22.1px 24.1px,#eebebe 24.1px 25.1px,#f2caca 25.1px 25.6px,#f8e0e0 25.6px 27.1px,#f8e1e1 27.1px 29.1px,#efd8d8 29.1px 30.6px,#fcf0f0 30.6px 31.6px,#fcf1f1 31.6px 32.6px,#fcf0f0 32.6px 33.6px,#efe4e4 33.6px 34.6px,#fcf2f2 34.6px 35.1px,#d3cbde 35.1px 36.1px,#e1daed 36.1px 38.1px,#e0d9ec 38.1px 39.6px,#a1a8cd 39.6px 41.1px,#99a0c2 41.1px 42.6px,#dcd1d5 42.6px 43.1px,#e6dbdf 43.1px 44.1px,#fcf0f4 44.1px 46.1px,#fcf2f5 46.1px 47.6px,#faeef2 47.6px 48.6px,#fcf2f6 48.6px 50.4px,#dedef2 50.4px 51.9px,#d9d9f1 51.9px 52.9px,#dadaf1 52.9px 53.6px,#eee6ea 53.6px 54.6px,#d9d2d5 54.6px 55.6px,#dfd7db 55.6px 57.6px,#f8f0f4 57.6px 59.0px,#d8c4d8 59.0px 60.0px,#c5b4c5 60.0px 61.0px,#d2bfd2 61.0px 62.0px,#e0cee0 62.0px 63.0px,#ddcadd 63.0px 64.4px,#c16272 64.4px 65.9px,#ac5664 65.9px 66.6px,#e87070 66.6px 68.6px,#ea7a7a 68.6px 70.6px,#df6b6b 70.6px 71.6px,#eb8181 71.6px 72.6px,#eb8383 72.6px 73.6px,#eb8484 73.6px 74.1px,#c7c7e7 74.1px 75.1px,#b2b2cf 75.1px 76.1px,#c9c9e8 76.1px 77.1px,#d5d5ee 77.1px 78.1px,#bcbcda 78.1px 79.1px,#cbcbe9 79.1px 81.1px,#d2d2ec 81.1px 82.1px,#c3c3e2 82.1px 82.6px,#e7e7f3 82.6px 84.1px,#ebebf6 84.1px 85.1px,#b9b9c2 85.1px 87.1px,#e9e9f5 87.1px 88.6px,#c9c9d4 88.6px 89.3px,#8d98cc 89.3px 90.3px,#6d7cbe 90.3px 91.3px,#7583c1 91.3px 92.3px,#4f5c97 92.3px 93.8px,#5867a9 93.8px 94.6px,#f3ecf3 94.6px 96.6px,#c9c2c9 96.6px 97.6px,#ebac9d 97.6px 99.6px,#f0b2a2 99.6px 101.1px,#f8e8e8 101.1px 102.6px,#f9eded 102.6px 103.6px,#f8e9e9 103.6px 104.4px,#a7afd4 104.4px 106.4px,#9097bb 106.4px 107.6px,#e9e9f4 107.6px 108.6px,#e9e9f4 108.6px 109.6px,#b2b9dc 109.6px 110.6px,#a3abd1 110.6px 111.6px,#9ba2c7 111.6px 113.0px,#cbc8d0 113.0px 114.0px,#eae6f0 114.0px 116.0px,#ece8f2 116.0px 117.0px,#f0ecf5 117.0px 118.0px,#efebf5 118.0px 119.5px,#f5eff5 119.5px 120.0px,#f6f2f6 120.0px 121.0px,#f3edf3 121.0px 123.0px,#f5eff5 123.0px 124.0px,#e3dde3 124.0px 125.5px,#eae5ea 125.5px 126.5px,#f6f1f6 126.5px 128.5px,#f5eff5 128.5px 129.5px,#f5f0f5 129.5px 130.5px,#f4eff4 130.5px 131.5px,#f5f0f5 131.5px 133.5px,#d8d3d8 133.5px 134.5px,#f5cdc6 134.5px 135.0px,#f2cbc3 135.0px 137.0px,#edc7bf 137.0px 138.0px,#d2d2dd 138.0px 138.5px,#e3e3ef 138.5px 139.5px,#d5d5e0 139.5px 141.5px,#e6e6f2 141.5px 142.5px,#d4d4df 142.5px 144.0px,#ebebf5 144.0px 145.0px,#ebebf5 145.0px 146.0px,#ccccd6 146.0px 148.0px,#ebebf5 148.0px 149.0px,#b3b3bc 149.0px 150.5px,#eaeaf5 150.5px 151.5px,#e1e1ed 151.5px 153.0px,#cecee7 153.0px 153.5px,#b6b6d5 153.5px 154.5px,#c7c7e3 154.5px 156.0px,#c4c4e2 156.0px 158.0px,#c7c7e3 158.0px 160.0px,#c3c3e1 160.0px 161.5px,#b2b2d0 161.5px 163.0px,#c0c0e0 163.0px 164.0px,#c4c4e2 164.0px 166.0px,#cccce6 166.0px 166.1px)"></div>
<div style="position:absolute;left:157.15px;top:232.4px;width:13.50px;height:166.1px;background:linear-gradient(#d4bfc6 0.0px 1.0px,#f3dce4 1.0px 2.8px,#e0a4a4 2.8px 3.8px,#f0b1b1 3.8px 5.3px,#f1b4b4 5.3px 6.3px,#eaabab 6.3px 7.3px,#edaeae 7.3px 9.3px,#f2b9b9 9.3px 10.8px,#e7aaaa 10.8px 12.8px,#c49090 12.8px 13.8px,#f2b8b8 13.8px 14.8px,#f0b2b2 14.8px 15.6px,#eea6a6 15.6px 17.1px,#f3b7b7 17.1px 18.1px,#e19e9e 18.1px 20.1px,#f1aeae 20.1px 21.1px,#c28e8e 21.1px 22.1px,#d89f9f 22.1px 23.1px,#e0a4a4 23.1px 24.1px,#e1a5a5 24.1px 26.1px,#e9abab 26.1px 27.1px,#f3c1c1 27.1px 29.1px,#f2b9b9 29.1px 31.1px,#ecadad 31.1px 32.1px,#e9abab 32.1px 33.6px,#f2b8b8 33.6px 34.6px,#e2a6a6 34.6px 35.6px,#e5a8a8 35.6px 37.1px,#f0b0b0 37.1px 38.1px,#f0b0b0 38.1px 40.1px,#f0b1b1 40.1px 41.1px,#f2bbbb 41.1px 42.1px,#efafaf 42.1px 43.6px,#f1b4b4 43.6px 44.6px,#f0b2b2 44.6px 46.1px,#e2a6a6 46.1px 48.1px,#f3c1c1 48.1px 49.1px,#e7a9a9 49.1px 50.1px,#dea3a3 50.1px 51.6px,#dfa3a3 51.6px 53.1px,#dea3a3 53.1px 54.6px,#f1b5b5 54.6px 56.6px,#e4a7a7 56.6px 57.6px,#e0a4a4 57.6px 58.6px,#f4c4c4 58.6px 59.6px,#c38f8f 59.6px 60.6px,#f1b8b8 60.6px 61.1px,#ead4e3 61.1px 63.1px,#ebd6e4 63.1px 64.1px,#edd9e6 64.1px 64.6px,#727ab6 64.6px 65.6px,#858cc6 65.6px 66.6px,#edc5cd 66.6px 68.1px,#e0bbc2 68.1px 69.6px,#deb9c0 69.6px 70.6px,#f3d1d8 70.6px 71.6px,#e9c2ca 71.6px 73.6px,#e7c1c8 73.6px 74.1px,#d4cce2 74.1px 75.1px,#d4cce2 75.1px 76.6px,#b3acc1 76.6px 77.6px,#a7a0b4 77.6px 79.6px,#d6d6ea 79.6px 80.6px,#dcdcee 80.6px 82.1px,#c2c2d4 82.1px 84.1px,#dcdcee 84.1px 85.1px,#e1e1f0 85.1px 86.1px,#e5e5f2 86.1px 87.1px,#d1d1e4 87.1px 88.1px,#d2d2e9 88.1px 88.6px,#c6c6e2 88.6px 90.6px,#c9c9e5 90.6px 92.6px,#bdbdd8 92.6px 93.6px,#cccce6 93.6px 94.6px,#d9cad1 94.6px 95.6px,#f2e3ea 95.6px 96.6px,#e9dae1 96.6px 98.6px,#e3d3db 98.6px 100.1px,#cabcc3 100.1px 101.1px,#f9dbd4 101.1px 102.6px,#eccec6 102.6px 104.4px,#ddddee 104.4px 105.4px,#d2d2e3 105.4px 106.9px,#d8d8e9 106.9px 108.9px,#d8d8ea 108.9px 110.4px,#dedeef 110.4px 111.4px,#c4c4d4 111.4px 112.9px,#d4d4e5 112.9px 113.9px,#e3e3f1 113.9px 114.9px,#dcdcee 114.9px 115.9px,#dedeef 115.9px 116.9px,#e0e0f0 116.9px 117.9px,#c8c8d8 117.9px 119.6px,#f0f0f8 119.6px 121.6px,#f1f1f8 121.6px 122.6px,#f2f2f9 122.6px 124.1px,#f1f1f8 124.1px 125.6px,#f1f1f9 125.6px 126.6px,#c2c2c8 126.6px 128.6px,#dadae1 128.6px 129.6px,#f3f3f9 129.6px 130.6px,#c7c7ce 130.6px 131.6px,#efeff7 131.6px 132.6px,#f0f0f8 132.6px 134.1px,#ededf5 134.1px 135.1px,#f0f0f8 135.1px 136.1px,#f0f0f8 136.1px 137.1px,#efeff7 137.1px 138.6px,#f1f1f8 138.6px 139.6px,#ceced5 139.6px 141.6px,#f1f1f9 141.6px 142.6px,#b6b6c6 142.6px 143.6px,#bfbfd1 143.6px 145.6px,#dcdcee 145.6px 147.1px,#dbdbed 147.1px 148.1px,#d8d8ec 148.1px 149.6px,#d4d4e8 149.6px 151.6px,#c1c1d3 151.6px 153.1px,#c9c9dc 153.1px 154.2px,#a4a4c9 154.2px 155.7px,#bcbcde 155.7px 157.2px,#b5b5db 157.2px 158.2px,#a3a3c8 158.2px 159.7px,#bdbdde 159.7px 160.7px,#afafd7 160.7px 161.7px,#9c9cc0 161.7px 162.7px,#ababd1 162.7px 163.7px,#b4b4da 163.7px 165.2px,#b1b1d8 165.2px 166.1px)"></div>
<div style="position:absolute;left:170.60px;top:232.4px;width:13.50px;height:166.1px;background:linear-gradient(#e98b92 0.0px 2.0px,#d97f87 2.0px 2.8px,#f1b5b5 2.8px 3.8px,#f1b6b6 3.8px 4.8px,#e3a6a6 4.8px 5.8px,#be8b8b 5.8px 7.3px,#f2baba 7.3px 8.3px,#d49b9b 8.3px 10.3px,#f1b8b8 10.3px 11.3px,#f2b8b8 11.3px 12.8px,#f1b4b4 12.8px 14.3px,#f0b2b2 14.3px 15.3px,#d69d9d 15.3px 15.8px,#f8e4e8 15.8px 16.8px,#dbc9cd 16.8px 17.8px,#ecdadd 17.8px 18.8px,#eedbdf 18.8px 20.8px,#dfcdd1 20.8px 22.8px,#fbe7eb 22.8px 23.8px,#fceaee 23.8px 24.4px,#cd5e63 24.4px 26.4px,#dd656b 26.4px 28.4px,#d56167 28.4px 30.4px,#d66267 30.4px 31.4px,#ea797f 31.4px 32.4px,#d16065 32.4px 33.4px,#e4686e 33.4px 34.9px,#c0585d 34.9px 35.9px,#cd5e63 35.9px 36.9px,#e0676c 36.9px 38.9px,#ea767b 38.9px 40.4px,#e3686d 40.4px 41.4px,#a94d52 41.4px 43.4px,#e97076 43.4px 44.4px,#e0666c 44.4px 46.4px,#e96d73 46.4px 47.4px,#ed8b90 47.4px 48.4px,#e97076 48.4px 49.4px,#d05f64 49.4px 50.9px,#e86c72 50.9px 51.9px,#e96e74 51.9px 53.4px,#d56167 53.4px 54.9px,#e6696f 54.9px 55.9px,#e97277 55.9px 56.9px,#de656b 56.9px 58.4px,#eb7e83 58.4px 59.4px,#ea7479 59.4px 60.1px,#cf6674 60.1px 61.1px,#cb5b6a 61.1px 62.1px,#c95363 62.1px 63.1px,#c6bedd 63.1px 63.6px,#d1c9e9 63.6px 64.6px,#d1c9e8 64.6px 66.1px,#d1cae9 66.1px 67.1px,#c8c0df 67.1px 67.6px,#e5d8ec 67.6px 69.6px,#e1d2e9 69.6px 71.6px,#eadfef 71.6px 72.1px,#6b78b5 72.1px 73.1px,#6875b4 73.1px 74.1px,#b4b4d0 74.1px 75.1px,#b0b0cc 75.1px 77.1px,#d0d0eb 77.1px 78.4px,#5d6cb2 78.4px 79.9px,#5b6aaf 79.9px 80.9px,#6171b9 80.9px 81.6px,#dfd7df 81.6px 83.6px,#ede5ed 83.6px 84.6px,#ede5ed 84.6px 86.1px,#dfd7e7 86.1px 87.6px,#e0d9e8 87.6px 88.6px,#ded6e6 88.6px 89.6px,#cdc6d4 89.6px 90.6px,#f0b9b1 90.6px 92.6px,#f1bbb3 92.6px 93.6px,#bebed4 93.6px 95.6px,#d5d5eb 95.6px 97.1px,#d2d2e9 97.1px 99.0px,#f1dada 99.0px 100.0px,#dac4c4 100.0px 101.5px,#eed6d6 101.5px 102.2px,#e67b6c 102.2px 103.2px,#f39d91 103.2px 104.7px,#e57a6b 104.7px 105.7px,#db7566 105.7px 106.6px,#f1d2d2 106.6px 108.6px,#f2d5d5 108.6px 109.6px,#bdbdd7 109.6px 111.6px,#bbbbd5 111.6px 113.1px,#b1b1ca 113.1px 114.6px,#bbbbd5 114.6px 116.1px,#c6c6e2 116.1px 117.6px,#c6c6e1 117.6px 118.6px,#c0c0db 118.6px 119.6px,#d9d9ed 119.6px 121.1px,#c8c8db 121.1px 123.1px,#acacd6 123.1px 124.1px,#9e9ec7 124.1px 125.1px,#aaaad5 125.1px 126.6px,#9797be 126.6px 127.6px,#b4b4da 127.6px 129.1px,#a4a4cf 129.1px 130.1px,#a0a0ca 130.1px 131.1px,#aeaed7 131.1px 132.3px,#c1c1e0 132.3px 134.3px,#cecee7 134.3px 135.3px,#b0b0d2 135.3px 135.8px,#eaeaf5 135.8px 137.8px,#cdcdd8 137.8px 138.8px,#ebebf5 138.8px 139.8px,#e9e9f5 139.8px 141.8px,#cdcdd7 141.8px 142.6px,#a6a6cd 142.6px 144.6px,#aeaed3 144.6px 146.1px,#9898bc 146.1px 147.1px,#c2c2de 147.1px 148.1px,#a9a9d0 148.1px 149.6px,#a9a9d0 149.6px 151.6px,#a0a0c7 151.6px 153.6px,#bcbcdb 153.6px 154.2px,#939ac9 154.2px 155.2px,#868ebb 155.2px 156.2px,#9da4ce 156.2px 157.2px,#8b93c1 157.2px 158.2px,#9fa6cf 158.2px 159.2px,#8a91bf 159.2px 160.2px,#8d95c4 160.2px 161.2px,#8a92bf 161.2px 162.7px,#a6acd3 162.7px 163.7px,#6a6f93 163.7px 165.7px,#98a0cc 165.7px 166.1px)"></div>
<div style="position:absolute;left:184.05px;top:232.4px;width:13.50px;height:166.1px;background:linear-gradient(#d27b83 0.0px 1.0px,#e0838b 1.0px 2.0px,#ea939a 2.0px 2.8px,#f2abab 2.8px 3.8px,#c78585 3.8px 5.8px,#ca8787 5.8px 6.8px,#f1a4a4 6.8px 8.8px,#e29797 8.8px 9.8px,#f1a8a8 9.8px 11.8px,#f2abab 11.8px 12.8px,#f1a7a7 12.8px 14.8px,#f1a6a6 14.8px 15.6px,#f4e1e5 15.6px 17.6px,#fce9ec 17.6px 19.1px,#efdce0 19.1px 20.1px,#e8d6da 20.1px 22.1px,#cf8f8f 22.1px 22.6px,#c48787 22.6px 23.6px,#da9696 23.6px 24.6px,#e9a6a6 24.6px 25.6px,#d3414b 25.6px 26.6px,#e55760 26.6px 28.6px,#d4424b 28.6px 30.6px,#e55861 30.6px 32.6px,#e86d75 32.6px 33.6px,#e4535c 33.6px 34.6px,#c93e47 34.6px 35.6px,#de454e 35.6px 37.6px,#d3414b 37.6px 38.6px,#c53d46 38.6px 39.6px,#c23c45 39.6px 41.1px,#e86f77 41.1px 43.1px,#cf4049 43.1px 44.1px,#e55b64 44.1px 45.1px,#db444d 45.1px 46.1px,#d0414a 46.1px 47.1px,#e7666f 47.1px 48.6px,#db444d 48.6px 50.1px,#cd3f49 50.1px 51.1px,#d1414a 51.1px 52.6px,#c93e47 52.6px 53.6px,#e24650 53.6px 55.1px,#e34f59 55.1px 56.1px,#d7434c 56.1px 57.6px,#d6424c 57.6px 59.6px,#d2414a 59.6px 60.1px,#b1aac8 60.1px 61.6px,#b5adcc 61.6px 63.3px,#d2cbe2 63.3px 64.3px,#c1bad0 64.3px 65.8px,#d4cde3 65.8px 66.8px,#b2abc0 66.8px 68.3px,#d6cfe4 68.3px 69.3px,#d0c8e0 69.3px 69.8px,#344081 69.8px 70.8px,#3c4b95 70.8px 71.8px,#c6c6e6 71.8px 72.3px,#c7c7e7 72.3px 74.1px,#4b5aa5 74.1px 76.1px,#c9c9e4 76.1px 76.6px,#c2c2e1 76.6px 77.6px,#aeaecb 77.6px 78.6px,#c0c0e0 78.6px 79.6px,#37458a 79.6px 80.6px,#3c4b96 80.6px 82.6px,#616eb0 82.6px 83.6px,#5462aa 83.6px 84.1px,#dbdbeb 84.1px 85.1px,#c7c7d6 85.1px 86.1px,#5563aa 86.1px 87.1px,#505fa8 87.1px 88.1px,#4b5aa6 88.1px 89.1px,#f1e5ed 89.1px 89.6px,#f1e6ed 89.6px 91.6px,#f3eaf0 91.6px 92.6px,#d2c7ce 92.6px 93.6px,#cfc5cc 93.6px 94.6px,#2241a1 94.6px 96.6px,#425dae 96.6px 98.6px,#3a57ab 98.6px 99.6px,#2746a3 99.6px 101.1px,#3754aa 101.1px 102.1px,#1c398d 102.1px 103.6px,#415cae 103.6px 105.6px,#1b3687 105.6px 107.6px,#1e3b94 107.6px 109.1px,#183078 109.1px 110.1px,#2948a4 110.1px 111.6px,#1f3f9d 111.6px 112.6px,#1e3c96 112.6px 114.1px,#203f9e 114.1px 115.6px,#1c398d 115.6px 117.1px,#2746a3 117.1px 118.1px,#1e3c96 118.1px 119.1px,#1c398e 119.1px 120.1px,#2f4da6 120.1px 121.1px,#3855aa 121.1px 123.1px,#1e3d97 123.1px 125.1px,#2544a2 125.1px 126.1px,#4b65b2 126.1px 127.1px,#1e3d98 127.1px 128.6px,#2040a0 128.6px 130.1px,#1e3b94 130.1px 131.1px,#1f3e9c 131.1px 132.1px,#4a64b2 132.1px 134.1px,#1f3d99 134.1px 135.6px,#2040a0 135.6px 136.6px,#2f4da6 136.6px 137.6px,#405cae 137.6px 139.1px,#3f5aad 139.1px 140.1px,#1f3e9b 140.1px 141.6px,#1d3b93 141.6px 143.1px,#3350a8 143.1px 144.6px,#304da7 144.6px 145.6px,#1f3e9a 145.6px 147.1px,#1e3c96 147.1px 148.1px,#1e3b95 148.1px 149.6px,#2242a1 149.6px 151.1px,#2e4ca6 151.1px 152.6px,#1f3f9d 152.6px 154.2px,#4c5bae 154.2px 155.2px,#3a4897 155.2px 156.2px,#374590 156.2px 157.2px,#3d4da1 157.2px 158.6px,#6d79b9 158.6px 160.1px,#4c5ba9 160.1px 161.6px,#32408a 161.6px 162.6px,#3e4ea2 162.6px 164.1px,#5462ac 164.1px 165.1px,#38479a 165.1px 166.1px)"></div>
</body></html>
